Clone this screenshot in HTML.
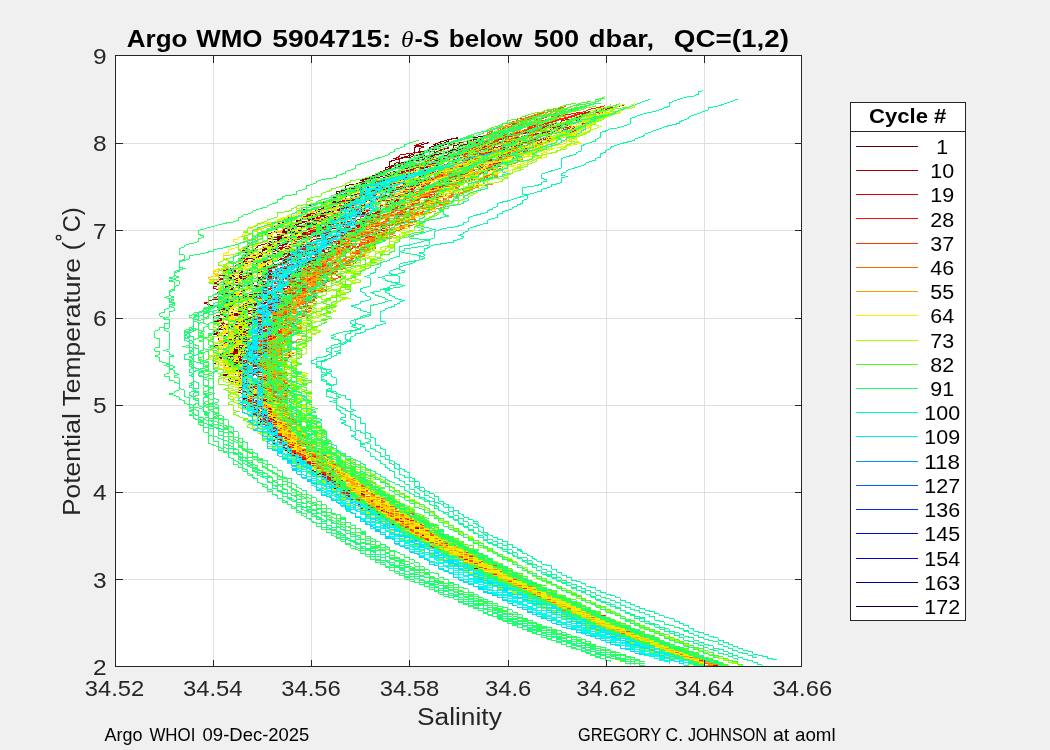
<!DOCTYPE html>
<html><head><meta charset="utf-8"><title>Argo WMO 5904715</title>
<style>html,body{margin:0;padding:0;background:#f0f0f0;overflow:hidden}svg{display:block;will-change:transform}text{font-family:"Liberation Sans",sans-serif}</style></head>
<body>
<svg width="1050" height="750" viewBox="0 0 1050 750">
<rect x="0" y="0" width="1050" height="750" fill="#f0f0f0"/>
<rect x="115.5" y="55.5" width="686.0" height="611.0" fill="#fff"/>
<path d="M213.5 55.5V666.5M311.5 55.5V666.5M409.5 55.5V666.5M508.5 55.5V666.5M606.5 55.5V666.5M704.5 55.5V666.5M115.5 579.5H801.5M115.5 492.5H801.5M115.5 405.5H801.5M115.5 318.5H801.5M115.5 230.5H801.5M115.5 143.5H801.5" stroke="#262626" stroke-opacity="0.15" stroke-width="1" fill="none" shape-rendering="crispEdges"/>
<clipPath id="axclip"><rect x="116.0" y="56.0" width="685.0" height="610.5"/></clipPath>
<g clip-path="url(#axclip)"><g transform="translate(115.5 0) scale(4.9 0.5)" fill="none" stroke-width="1" shape-rendering="crispEdges">
<path vector-effect="non-scaling-stroke" stroke="#600000" d="M68 285l-1 4l-1 3l-1 3v7l-2 3v6l-1 3v3l-1 4l-1 3v3l-2 3v3l-1 3l-1 3l-1 3l-1 3l1 3l-1 3v3l-1 3l-1 2v6l-2 3v6l-2 2l1 3l-2 3l1 3l-1 3l1 2l-1 3l-2 3l1 3l-1 3l1 2l-1 3v6l-2 3l-1 2v3l-1 3v3l-1 2l-1 3v3l1 3v3l-1 2v6l-1 3v8l-1 3l-1 2l-1 3l-1 3l-1 3v2l1 3l-1 3v14l-1 2l-1 3v3l-1 3l-1 2l1 3l-1 3l-2 3v5l-1 3v13l-1 3v8l-1 3l-1 3v13l1 3l-1 3l1 2l-1 3v19l-1 3l1 2v3l-1 3l1 3l1 2v16l-1 3l1 3v2l1 3v3l-1 2v14l1 2l-1 3l2 3v2l1 3v3l-1 2l-1 3l-1 3l-1 2l1 3v11l1 2l-1 3v8l-1 3v2l2 3v10l-1 3l1 3v10l1 3v2l1 3v5l-1 3v13l1 3v2l1 3l-1 2l1 3l1 3l-2 2l1 3l-1 2l1 3v5l1 3v3l-1 2l1 3v5l-1 2l1 3l1 2v3l2 2l-1 3v5l-1 2v3l1 2l1 2l-1 3l1 2v3l1 2v14l1 2v2l1 3v2l1 2v5l-1 2v2l1 2v3l-1 2l1 2l1 2l1 2v7l1 2v4l1 2v10l1 2v6l1 2v2l1 2v8l1 2v7l1 2v2l1 2v2l-1 2l1 2l1 1v8l1 1v6l1 2v3l1 2v5l1 2v5l1 1v5l1 2v2l1 1v3l1 2v5l1 1v2l1 1l-1 2l1 2l-1 1l1 2v3l1 1v2l1 1v6l1 1v3l1 2v3l1 1v6l1 1v1l1 2v3l1 1l-1 1v4l1 2l1 1v3l1 1v4l1 1v4l1 1v3l1 1v2l1 2v3l1 1v5l1 1l1 1v2l-1 1v2l1 1v2l1 2v2l1 1l-1 1l1 1v2l1 1v1l-1 2l1 1v2l1 1v7l1 1l1 1v4l1 1v7l1 1v1l1 1v4l1 1l-1 1l1 1v3l1 1v4l1 1v2l1 1v2l1 1l-1 1v2l1 1v2l1 1v2l1 1v1l1 1v2l-1 1l1 1v2l1 1v2l1 1l-1 1l1 1l-1 1l1 1v5l1 1v3l1 1v3l1 1v5l1 1v3l1 1v2l1 1v4l1 1v2l1 1v4l1 1v1l1 1v3l1 1v1l1 1v1l-1 1l1 1v3l1 1v3l1 1l1 1v1l-1 1l1 1v3l1 1v1l1 1v2l1 1v4l1 1v2l1 1v1l1 1v1l-1 1l1 1v2l1 1v3l1 1v3l1 1v1l1 1v1l-1 1l1 1v3l1 1l1 1v2"/>
<path vector-effect="non-scaling-stroke" stroke="#660000" d="M75 272l-2 4v3l-1 3l-2 4v3l-1 3v7l-1 3v3l-2 3l-2 4l1 3l-1 3v3l-1 3v9l-2 3l-1 3l-1 3v3l-1 3l-1 3l-1 3l-2 3l1 3l-1 3v3l-1 2v3l-1 3v8l-1 3l-1 3l1 3l-2 3l-1 2v3l-1 3l-2 3l-1 3v2l1 3l-1 3l-1 3v2l1 3l-2 3v3l-2 3l1 2l-1 3v3l-1 3l1 2l-1 3v3l-3 3v5l1 3l-1 3l1 3l-1 2l-1 3v11l-2 3v3l-1 2l-1 3l1 3v5l-1 3l1 3l1 2l-2 3v3l1 3l-2 2v6l-1 3v8l1 3l-1 2l-2 3v3l-2 2l1 3l-1 3l2 3v2l1 3l-1 3l1 2l-1 3v3l-1 3v18l2 3l-1 3l1 3l-1 2l-1 3l-1 3v8l1 2l-1 3l1 3v10l-1 3v5l-1 3l1 3v2l-1 3l2 3l-1 2l-1 3v8l-1 3l-1 2l1 3l-1 3l1 2v6l1 2l1 3l-2 3v2l-1 3l1 3l1 2l-1 3l1 3v2l1 3v10l-1 3l1 3v5l1 3v10l1 3v5l-1 3l1 2v8l1 3l1 2v3l1 2v3l-1 3l1 2v8l-2 3l1 2v3l1 2l1 3l1 3v7l-1 3v2l1 3v2l1 3v12l-1 2l1 3v7l1 2v7l1 2v18l1 2v3l1 2v4l1 2v5l1 2v8l1 2v6l1 2v4l1 2v8l1 2v4l1 2l-1 2l1 2v4l1 2v2l1 2v5l1 2v6l1 1v6l1 1l-1 2v2l1 2v2l1 1v4l1 1l1 2v5l1 2v2l1 1v7l1 1l-1 2l1 2l1 1l-1 2l2 1v2l1 2l-1 1l1 2v1l1 2v1l-1 2l1 1v5l1 1l1 2v6l1 1v3l1 1v5l1 1v7l1 1v3l1 1v3l1 2v5l1 1v1l1 2v5l1 1v4l1 1v6l1 1l1 1v4l-1 1l1 1l1 2v2l1 1v6l1 1v1l-1 1l1 1l1 1v6l1 1v1l1 1v4l1 1l-1 1l1 1v5l1 1l1 1v2l-1 1l1 1v5l1 1v3l1 1v2l1 1v2l1 1v1l-1 1l1 1v5l1 1v2l1 1l-1 1v1l1 1l1 1l-1 1l1 1v4l1 1v2l1 1v3l1 1v1l1 1v1l-1 1l1 1l1 1v8l1 1v5l1 1l1 1l-1 1l1 1v3l1 1v2l1 1v5l1 1l-1 1l1 1v1l1 1l-1 1l1 1v1l1 1v4l1 1v4l1 1l1 1l-1 1l1 1v1l1 1v4l1 1v3l1 1l-1 1l1 1v2l1 1v1l1 1v5l1 1l1 1l1 1l-1 1l1 1v1l1 1v4l1 1v3l1 1v3l1 1v3l1 1v2l1 1l-1 1l1 1v1l1 1v2l1 1v2l1 1v5l1 1"/>
<path vector-effect="non-scaling-stroke" stroke="#6c0000" d="M70 276l-2 3v3l-1 4l-1 3l-1 3l-1 3v4l-1 3l-1 3l1 3l-2 3l-1 4v6l-1 3l-1 3l-1 3l-1 3l-1 3v6l-1 3v3l-1 3v3l-2 3l-1 3l1 3l-1 2l-1 3l-2 3v9l-1 2v3l-1 3v6l-1 2v3l1 3l-1 3l-1 2l-1 3v3l-1 3v5l-1 3v6l-1 2v6l-2 3v3l1 2l-1 3l-1 3l-1 3v2l-1 3l1 3l-3 3v2l-1 3l1 3v8l-1 3v5l1 3l-2 3l1 3l-1 2v3l-1 3v5l-1 3l-1 3v3l-1 2l1 3l-1 3v3l-1 2v3l1 3l-1 2l-1 3l-1 3l1 3l-1 2v3l1 3l1 2v3l-1 3v3l1 2v3l-1 3l1 2l-1 3l1 3v13l-1 3v8l1 3l-1 2l-1 3v6l1 2l1 3v3l1 2v6l-1 2v6l1 2l-1 3v8l-1 3l1 2v6l1 2v3l-1 3v39l-1 3v5l-1 3l1 3l1 2v16l1 3v2l-1 3v5l1 3v21l1 2v6l-1 2l2 3v2l-1 3v8l1 2l1 3v5l-1 3v2l1 3l1 2l-1 3l1 2v7l-1 3l1 2v3l1 2v2l2 3l-1 2v7l1 2v3l-1 2l1 2v3l1 2v9l1 2v9l1 2v4l1 3v2l1 2v4l1 2v4l1 2v2l-1 2l1 2l1 2v8l1 2v2l1 2l-1 2l1 2v2l1 2v6l1 2v3l1 2l-1 2v2l1 2v5l1 2v2l1 2v5l1 2v3l1 2v3l1 2v3l1 2v5l1 2v3l1 2v8l1 1v2l1 1v7l1 1v5l1 1l1 2v9l1 1v4l1 2v5l1 2l1 1v3l1 1v7l1 1v3l1 1v3l1 1v5l1 2v1l1 1v3l1 1v4l1 1l-1 1l1 1v4l1 1v4l1 1v4l1 1v4l1 1v2l1 1v2l-1 1l1 2l1 1v5l1 1v5l1 1v1l1 1v3l1 1l-1 1l1 1v2l1 1v6l1 1v1l1 1l-1 1l1 1v3l1 1v2l-1 1l1 1v1l1 1v4l1 1v2l1 1v2l1 1v5l1 1l-1 1l1 1v1l1 1l-1 1l1 1v1l1 1l-1 1l1 1v2l1 1l-1 1l1 1v3l1 1v7l1 1v2l1 1v2l1 1v1l-1 1l1 1l1 1v3l1 1l-1 1l1 1l-1 1v1l1 1l1 1v3l1 1l-1 1l1 1v1l1 1v5l1 1v2l1 1v3l1 1v1l1 1v3l1 1v2l1 1v2l1 1l-1 1l1 1v3l1 1v1l1 1v5l1 1v1l1 1v1l-1 1v1l1 1v2l1 1l1 1v4l1 1v1l1 1v4l1 1l-1 1"/>
<path vector-effect="non-scaling-stroke" stroke="#720000" d="M76 273l-1 4l-1 3v3l-1 4v3l-1 3l-1 3l-2 4l-1 3v13l-1 3l-2 3v3l-1 3v3l-1 3l1 3l-1 3v3l-2 3v3l-1 3l-1 3v3l-1 3l-1 3v11l-2 3l-1 2v3l-1 3l-1 3v11l-1 3v5l-1 3l-1 3v5l-1 3l-2 3v3l1 3v2l-1 3v3l-1 3l-1 2l-1 3l1 3l-1 3l-1 2l-1 3l1 3v3l1 3l-2 2l-1 3v3l-1 3v5l-1 3v3l-1 2l1 3v3l-1 3v2l-1 3l-1 3l1 2v3l-1 3v3l1 2l-2 3v3l-1 3v5l-2 3l1 3l-1 2v3l1 3v2l-1 3v3l-1 3v2l1 3v3l-1 2l-1 3l1 3v11l-1 2l1 3l-1 3l-1 2v9l1 2v11l-1 3l-1 2l-2 3l1 3l1 2l1 3v5l-1 3l1 3l-1 2v3l-1 3v11l1 2l-1 3v8l-1 2v3l1 3v8l1 2l-1 3l1 3l-1 2l-1 3l1 3v5l1 3v2l-1 3l-1 3l1 2l1 3l-1 2l1 3l-1 3l1 2v8l-1 3l1 2v8l1 3v21l2 3v7l1 3v3l-1 2v11l2 2v3l1 2l-1 3v10l1 2v5l1 3v2l1 3l-1 2l1 2l-1 3v2l1 3v4l1 3l-1 2v2l1 3v2l-1 2l1 2v3l1 2v4l1 3v2l-1 2v2l1 2v5l2 2v4l1 2v2l1 2v3l-1 2l1 2v2l-1 2l1 2l1 2l-1 2v2l1 2v2l1 2l-1 2l1 2v2l1 2v2l1 2v6l1 1v4l1 2v13l1 2v3l1 2v4l1 1l1 2v5l1 2v7l2 2v1l1 2l-1 2v5l1 1v2l1 1v4l1 1v3l1 2v3l1 2v4l1 2v6l1 1l-1 2l1 1l1 2v3l2 1l-1 1v3l1 2v4l1 1v6l1 1v2l1 1v5l1 1v3l1 1v6l1 1v4l1 1v2l1 2v6l1 1l-1 1l1 1v1l1 2v4l1 1v1l1 2v6l1 1v3l-1 1l1 1v1l1 1l1 1v1l-1 1v1l1 1l1 1v4l1 1v5l1 1v5l1 1v2l1 1l-1 1v1l1 1l1 1v6l1 1v2l1 1v4l1 1v2l1 1v1l-1 1l1 1l1 1v1l-1 1l1 1l1 1v5l1 1v1l-1 1l1 1l-1 1l1 1l1 1v2l1 1v4l1 1v3l1 1v6l1 1v1l-1 1l1 1v2l1 1v2l1 1v4l1 1v1l1 1v2l1 1v8l1 1l1 1v1l1 1l-1 1l1 1v3l1 1v2l1 1v4l1 1l-1 1l1 1v1l1 1v4l1 1v2l1 1l1 1l-1 1v1l1 1l1 1v1l-1 1l1 1v2l1 1v2l1 1v3l1 1v1l1 1v2l-1 1l1 1v2l1 1v3l1 1v1l1 1"/>
<path vector-effect="non-scaling-stroke" stroke="#780000" d="M64 285l-1 3l-1 3l-1 4v13l-1 3l-1 3l-1 3l-1 3l-1 3v18l-1 3l-1 3l-1 3l-1 3l-1 3v6l-1 3l1 3l-1 2l-1 3l-1 3l-1 3v3l-2 2v9l1 3v2l-2 3l-1 3l-2 3l-1 3l-1 2v6l-1 3v5l-1 3v3l-2 3v8l-1 3l-1 2l1 3l-2 3v3l1 2v3l-1 3l-1 3l-1 3v13l-1 3l-1 3l-1 3l-1 2l1 3l-1 3v3l1 2v3l-1 3v2l1 3v3l-1 3v2l-1 3l1 3l-1 3v2l-1 3l-1 3v5l-1 3l1 3v5l1 3v5l-1 3v3l-1 2v3l1 3v2l-1 3v3l1 3v13l-1 3v2l1 3v3l-1 3l-1 2l1 3v5l-1 3v5l1 3l-2 3l1 2l1 3v5l1 3l-1 3l-2 2l1 3v3l-1 2l1 3v11l1 2l1 3l-1 3l-2 2l1 3v8l-1 3l2 2l-1 3v3l1 2l-1 3v5l-1 3l1 2l2 3v3l2 2l-1 3v8l-2 2l1 3l1 3l-1 2v3l1 3l1 2l1 3v5l1 3l-1 2v11l1 2l1 3v5l-1 3l1 2l-1 3l1 3v10l1 2l-1 3l1 2v13l1 2l-1 3l1 2v7l1 3l1 2v3l-1 2l1 2v3l1 2l-1 2v3l1 2v7l-1 2l1 2v2l1 3v4l1 2v7l1 2v2l1 2v6l1 3l-1 2l1 2v4l1 2v4l1 2v4l1 2v6l1 2v2l1 2v7l1 2v10l1 1v2l1 2v5l1 2v4l1 2l1 1l-1 2l1 2v3l1 2v3l1 2v7l1 1l1 2v3l-1 2l1 2v1l1 2v1l1 2l-1 2v1l1 2v1l1 2v4l1 2l1 1v6l1 2l-1 1v3l1 2v1l1 2l-1 1l1 1v8l1 1v1l1 2v1l1 1v2l1 1v7l1 1v5l1 2v5l1 1l1 1l-1 1l1 2v3l1 2l1 1v6l1 1v8l1 1v1l1 1l-1 2l1 1v2l1 1v4l1 1v1l1 1v3l1 1l-1 1l1 1v6l1 1v5l1 1v1l1 1v2l1 1l-1 1l1 1v2l1 1v3l1 1v4l1 1l-1 1l1 1l-1 1l1 1l1 1v6l2 1l-1 1v2l1 1v1l1 1v4l1 1v3l1 1l1 1v7l1 1v2l1 1v4l1 1l-1 1l1 1v3l1 1v2l1 1v3l1 1l-1 1l1 1v6l1 1v2l1 1v2l1 1l-1 1l1 1l1 1v2l1 1v2l1 1l-1 1l1 1v2l1 1v6l1 1l1 1l-1 1l1 1v2l1 1l1 1v4l1 1v2l1 1v3l1 1v6l1 1l1 1v2l1 1v1l-1 1l1 1l1 1v3"/>
<path vector-effect="non-scaling-stroke" stroke="#7e0000" d="M71 277l-1 3l-1 3l-1 4l-1 3l-1 3v3l-1 4v12l-2 4v3l-3 3l-1 3v3l-1 3v12l-1 3v3l-1 3l-1 3v3l-1 3l-1 2v3l-1 3l-1 3v3l-1 3l1 2v3l-1 3l-1 3l-1 3v5l-1 3v6l-2 2l1 3l-1 3l-2 3v2l-1 3v3l-1 3l-1 3l-1 2l-1 3l2 3l1 3v2l-2 3l3 3l-2 3l-1 2l-2 3l-1 3l-1 3l-1 2v6l-1 3l1 3l-2 2v9l-1 2l-1 3l1 3l-1 2v11l-1 3l-1 3v3l1 2l-2 3l-1 3v8l1 3l-1 2v3l-1 3l1 3l-1 2v6l-1 3l-1 2v3l-1 3v5l1 3v2l2 3v6l-1 2l-1 3l2 3l-1 2v14l-1 3l1 2v19l2 3l-1 2l1 3l1 3l-1 2v8l-1 3l-1 3v2l1 3l-1 3v2l1 3l-1 3l2 2v3l1 3l-1 2v6l-1 2v6l-1 2v3l-1 3l1 2l1 3v3l1 2v3l-1 2v8l-1 3l1 3l1 2l1 3v5l-1 3l-1 2l1 3l1 3l-1 2l1 3l1 3v2l-1 3l1 2v3l-1 3l1 2v3l1 2l-1 3l-1 3v2l1 3v10l1 3v10l2 3v2l-1 3l1 2l-1 3l1 2l-1 3l1 2l-1 3l1 2v5l1 2v5l1 2l-1 3v2l1 3v2l-1 2l1 2v3l1 2v2l1 3v13l1 2v5l-1 2l2 2v2l1 2v2l1 2v7l1 2v2l1 2v2l-1 2v4l1 2l1 2l-1 2l1 2v4l1 2v2l1 2v4l1 2l-1 1l1 2v4l1 2v4l1 1l-1 2l1 2v6l1 1v6l1 1v2l1 2v3l1 2v7l1 2l1 1v5l1 2v6l1 2l1 2l-1 1v3l1 2v6l1 2v1l1 2v1l1 2l-1 1v2l1 1v2l1 1v2l1 1v6l1 1v3l1 1l-1 2l1 1v4l1 2v1l1 1l-1 2l1 1v3l1 1v4l1 1v2l1 1v6l1 2v5l1 1v1l1 1v4l1 1v5l1 1v1l1 1v5l1 1l-1 1v2l1 1v3l1 1v5l1 1v1l1 1v5l1 1v1l1 1v3l1 1v4l1 1v1l-1 1l1 1v1l1 1v1l-1 1l1 1l1 1l-1 1l1 1v3l1 1v5l1 1v2l1 1v4l1 1v1l1 1v1l1 1l-1 1v2l1 1v3l1 1v7l1 1v2l1 1v2l1 1v3l1 1v7l1 1v3l1 1v2l1 1v4l1 1v3l1 1v3l1 1v4l1 1l1 1v4l1 1v6l1 1v3l1 1v1l1 1l-1 1l1 1v1l1 1v3l1 1v2l1 1v2l1 1v4l1 1v4l1 1v3l1 1v1l1 1v3l1 1v3l1 1v3l1 1v2l1 1"/>
<path vector-effect="non-scaling-stroke" stroke="#840000" d="M76 281l-2 3l-1 4l-1 3v3l-1 3l-1 4l1 3v3l-2 3l-1 3v4l-2 3v9l-1 3v3l-1 3v3l-2 3v3l-2 3v3l-1 3l1 3v11l-2 3l-2 3v3l-1 2v9l1 3l-1 2l-2 3v6l-1 2l-1 3l-1 3v6l1 2l-1 3l1 3l-1 3l-2 2v3l-2 3v3l-2 3l2 2v9l-2 2v3l-1 3v5l-1 3v3l1 3l-1 2v3l-1 3v3l-2 2v3l-1 3v3l1 2l1 3l-1 3v5l-1 3l-2 3l-1 3l-1 2v14l1 3l-1 2l-1 3v3l-2 3v2l1 3v16l-1 3l-1 3v2l1 3l-1 3v21l-1 3v8l-1 3v5l1 3l1 3l-2 2v6l-1 2v14l-1 2l1 3l-1 3l2 2l-1 3l-1 3v2l1 3v3l-1 2l1 3v3l-1 2v24l1 3l-1 2v6l-1 2l1 3v3l1 2v8l2 3l-2 2v6l1 2l-1 3v8l1 2v3l1 3v5l1 3l1 2l-1 3v8l1 2v5l1 3v16l-1 2l1 3v5l2 2v3l1 2l-1 3v2l-1 2l1 3l1 2v10l1 2v5l-1 2l1 3v2l1 2l-1 3l1 2v4l-1 3l1 2l1 2l-1 2l1 3v4l1 2v2l-1 2l1 3v4l1 2l1 2v4l1 2l1 2v15l1 2v2l-1 2l1 2l1 2v2l1 1v6l1 2v10l1 1v4l1 2v4l1 1l1 2l-1 2l1 2v3l1 2l-1 2l1 2l1 1v5l1 2l1 2v3l1 2v5l1 1v2l1 2v8l1 1v3l1 2v2l1 1v3l1 2l1 1l-1 2v1l1 2v3l1 1v6l1 1v3l1 2v3l1 1v7l1 1v3l1 1v3l1 1v4l1 2v1l1 1v7l1 1l-1 1l1 1v2l1 1v6l1 1v5l1 1v1l1 1v6l1 1v1l1 1v1l-1 2v1l1 1l-1 1l1 1v2l1 1v6l1 1v2l1 1l1 1l-1 1l1 1v5l1 1v1l-1 1l1 1v1l-1 1l1 1v1l1 1v4l1 1v1l1 1v3l1 1l-1 1l1 1v1l1 1v4l1 1l-1 1v1l1 1v3l1 1v6l1 1v4l1 1v1l1 1v2l1 1v1l1 1l-1 1l1 1v4l1 1l-1 1v1l1 1l-1 1l1 1l1 1v3l1 1v4l1 1v2l-1 1l1 1l1 1v2l1 1l-1 1l1 1v4l1 1v1l1 1v4l1 1v2l1 1v2l1 1v3l1 1v3l1 1v3l1 1v4l1 1l-1 1l1 1v2l1 1v1l1 1v1l1 1v5l1 1v2l1 1l-1 1l1 1v2l1 1v4l1 1v3l1 1v1l1 1v3l1 1l-1 1l1 1l1 1v1"/>
<path vector-effect="non-scaling-stroke" stroke="#8a0000" d="M74 279v3l-2 3l1 4l-1 3l-1 3l-1 4v3l-1 3v6l-1 4l-1 3l-1 3l-1 3v3l-1 3l-1 3l-1 3l1 3l-2 3v3l-1 3l-1 3l-1 3v3l-1 3v5l-1 3l-1 3v3l-2 3v2l-2 3l-1 3v3l-1 3v8l-1 3l1 3v5l-1 3l-1 3l-1 3l-1 2v3l-1 3l-1 3l-1 2l1 3l-1 3v6l-1 2v6l-2 3l-1 2l-2 3l1 3l-1 3l1 2v9l-1 2v3l-1 3l-1 3v2l-1 3l1 3v8l1 3l-2 3v8l-1 3l-1 2l-1 3v3l1 2v11l-1 3l1 3l-1 3v2l-1 3l1 3v8l-1 3l1 2v8l-1 3v3l-1 2l-1 3l1 3l1 3l-1 2v8l1 3v8l-1 3l-1 2v3l1 3v3l1 2v3l-1 3l1 2l-1 3l-1 3l-1 2l-1 3l1 3v10l1 3v5l-1 3l1 3l-1 2v3l-1 3v5l1 3v15l-1 3v3l1 2l-1 3v5l2 3l-1 3v26l1 2v6l1 2v11l2 2v3l-1 3v7l1 3l-1 3v2l1 3v5l1 3l-1 2v5l2 3v5l-1 2l1 3v15l1 2v3l1 2v2l1 3l-1 2l1 2l-1 3v4l1 3v2l-1 2l1 3v2l1 2v5l1 2v2l-1 2v2l1 3v6l1 2l1 2v7l1 2v2l1 2l-1 2l1 2v4l1 2v4l1 2v6l1 2v4l1 2v4l1 2v9l1 2v4l1 2v3l1 2v6l1 1v2l1 2v5l1 2l-1 2l1 1v2l1 2v5l1 1v2l1 2v3l1 2v3l1 1v5l1 2v5l1 1v3l1 2v4l1 2l-1 1l1 2l1 1v6l1 1v2l1 1v9l1 1l1 2v1l-1 1l1 2v4l1 1l1 1v4l1 2v2l1 2v6l1 1l1 1v4l-1 1l1 2v2l1 1v1l1 2v8l1 1v1l1 1v5l1 1v1l1 1l-1 1v5l1 1v1l1 1v1l1 1v5l1 1v1l1 1v6l1 1v3l1 1l-1 1l1 1v6l1 1v3l1 1v2l1 1v3l1 1v2l1 1v2l1 1l-1 1v1l1 1v3l1 1v2l1 1l-1 1v1l1 1v4l1 1v2l1 1v2l1 1v5l-1 1l2 1v4l1 1v1l1 1v6l1 1v2l1 1v5l1 1v4l1 1l1 1v4l1 1v2l1 1v6l1 1v3l1 1v2l1 1v3l1 1v2l1 1v2l1 1v4l1 1v2l1 1l-1 1l1 1v1l1 1v4l1 1v1l1 1v3l1 1v2l1 1v3"/>
<path vector-effect="non-scaling-stroke" stroke="#900000" d="M70 275l-2 4l-1 3l-1 3l-1 4l1 3l-1 3v3l-2 4l-2 3l-1 3v6l-2 3v7l-1 3v9l-2 3l1 3l-1 3l1 3l-1 3l-1 3l-2 3v5l-1 3v3l-1 3v5l-2 3l-1 3v6l-1 2v12l-1 2v3l-1 3v3l-2 3v2l-1 3v6l-1 2l-1 3l-1 3v3l2 3l-1 2l-1 3l-1 3l1 3l-1 2l-1 3l-1 3l1 3v2l-2 3v3l1 3l-2 2v6l-1 3l-1 2l1 3l-1 3v11l-1 3l-1 2l-1 3l-1 3v11l-1 3v2l-1 3v5l-1 3l2 3l-2 3v13l-2 3l1 3l1 2l-1 3l1 3v2l-1 3v3l-1 3l1 2l-1 3v3l-1 2l1 3l1 3v8l-1 3l1 2l-1 3l1 3l-1 2l1 3v5l-1 3v5l-1 3v3l1 2l1 3v3l-1 2l1 3l-1 3l1 2l-1 3l2 3l-1 2l1 3v3l1 2l-1 3l1 3l-1 2l-1 3v11l1 2v11l-1 3l-1 2l1 3l1 2l1 3l-1 3l-1 2l2 3l-1 3l1 2l1 3l-1 3v2l1 3l-1 2v21l1 3v5l1 3v10l1 3l-1 2l-1 3v3l1 2l1 3l1 2l-1 3v10l1 3l1 2v10l1 3v9l1 3l1 2l-1 3l1 2l-1 2l1 3v9l1 2l1 2l-1 3v4l1 2v9l1 3v6l1 2v4l1 3v4l1 2v4l1 2v8l1 2v10l1 2l1 2v6l1 2l-1 2l1 2v1l1 2v6l1 2v3l1 2l-1 2l1 2v3l1 2v2l1 2v5l1 2v3l1 2v8l1 2l1 2l-1 1v2l1 2l1 1v5l1 2v4l1 2l-1 1l1 2v3l1 2v3l-1 1l2 2v3l1 1v4l1 2v9l1 1l1 1v3l1 1v5l1 1v1l1 2v4l1 1v1l1 2v3l1 2v7l1 2v3l1 2v3l1 1l-1 2l1 1v3l1 1v2l1 1v2l1 1l-1 1v4l1 1l1 1v5l1 1v4l1 1v4l1 1v6l1 1v3l1 1v3l1 1v2l1 1v2l1 1v3l1 1v3l1 1v6l1 1v3l1 1v2l1 1v1l1 1v1l-1 1v3l1 1v2l1 1l-1 1l1 1v2l1 1v3l1 1v2l1 1v4l1 1v6l1 1v2l1 1v1l-1 1l1 1l-1 1l1 1v2l1 1v4l1 1v1l1 1v5l1 1l1 1v3l1 1v1l1 1v5l1 1v3l1 1v1l1 1v1l-1 1v1l1 1v3l1 1v2l1 1v2l1 1v3l1 1l1 1v5l1 1v3l1 1v3l1 1v3l1 1v1l1 1v4l1 1v1l1 1v3l1 1v2"/>
<path vector-effect="non-scaling-stroke" stroke="#960000" d="M74 284v3l-1 3v4l-1 3l-1 3l-1 3l-2 3l1 4l1 3l-1 3l-1 3l-1 3l-1 3l-1 3l-1 3v3l1 3l-2 3l-1 3l1 3l-1 3v3l-2 3v9l-1 3l1 3v2l-1 3l-1 3l-1 3l-2 3l-1 2l1 3v3l-1 3l1 3l-2 2v6l-1 3l-1 2v6l-1 3v3l-1 2l-1 3v8l-1 3v6l-1 3l-1 2v6l-2 3v2l1 3v3l-1 3l-2 2v6l-1 3v8l-1 3v8l-1 3v2l-1 3v3l-1 3l-1 2v6l-1 3v2l-1 3v3l-1 2l-2 3v6l1 2l1 3l-1 3l1 2l-2 3l-1 3v5l1 3l-1 3v2l1 3l-1 3l1 3v2l-1 3v3l-1 2l-2 3v3l1 2v3l1 3l-1 3l-1 2l2 3l-2 3l-1 2v8l2 3v3l1 2l-1 3v3l-1 2v6l1 2l-2 3l1 3v13l1 3l-2 3l1 2v8l-1 3l1 2v6l-1 2l1 3l-1 3l1 2v3l-1 3l1 2l1 3v3l-1 2v5l-1 3l1 3l2 2l-1 3v11l1 2v13l1 3l-1 3v5l1 2v8l1 3l1 2l-1 3l1 3l1 2l-2 3l1 2l-1 3v5l1 3v2l1 3v3l1 2l1 3l-1 2v5l1 3v9l1 3v2l-1 3l1 2l1 2l-1 3l1 2l-1 3l1 2l1 2v7l1 2l-1 3l1 2l-1 2v5l1 2l-1 2l1 2v2l1 3v6l1 2v2l-1 3l1 2v2l1 2v4l1 2l1 2v10l1 2v4l1 2v6l1 2v2l1 2v2l-1 2v3l1 2v4l1 2v2l1 2v3l1 2v5l1 2v4l1 1v6l1 1v4l1 1v4l1 2v1l1 2l-1 1l1 2v3l1 2v3l1 2v1l1 2v5l1 1v5l1 1l1 2v7l1 2v6l1 1v2l1 1l-1 1l1 2v3l1 1v3l1 1l-1 2l1 1v1l1 2v1l1 1v4l1 2v1l-1 1v2l1 1v1l1 1v4l1 2v6l1 1v2l1 2v2l1 1v8l1 1v2l1 1v5l1 1v5l1 1v3l1 1v7l1 2v2l1 1v2l1 1v2l1 1v2l-1 1v1l1 1v1l1 1v2l1 1l-1 1v1l1 1v1l1 1l-1 1v2l1 1l1 1l-1 1l1 1v3l1 1v2l1 1l-1 1l1 1v2l1 1l-1 1l1 1l-1 1l1 1v1l1 1v4l1 1v4l1 1v1l1 1l-1 1v1l2 1l-1 1v1l1 1v1l1 1v1l-1 1l1 1v4l1 1v7l1 1v1l1 1v2l1 1v3l1 1v2l1 1l-1 1l1 1l1 1v1l-1 1l1 1v3l1 1v1l1 1v3l1 1l-1 1l1 1l1 1v4l1 1v2l1 1v5l1 1v6l1 1v1l1 1v2l1 1v3l1 1v1l1 1v2l1 1v1l1 1v4l1 1v5l1 1l1 1v4l1 1v1l1 1v2"/>
<path vector-effect="non-scaling-stroke" stroke="#9e0000" d="M74 277l-1 3v3l-1 4l-1 3l-1 3v4l-1 3v3l-1 3v3l-1 4l-1 3l-1 3l-1 3l-1 3l1 3v3l-1 3l-1 3v3l-1 3l-1 3l-2 3l-1 3v3l-1 3l1 3l-1 3v2l-2 3l-1 3v6l-1 3l-1 2v9l-1 2l-1 3l-1 3v3l-1 3v8l-1 3v3l-2 2l1 3v6l-1 2l1 3l-2 3l-2 3v3l-1 2v6l1 3v2l-1 3l1 3l-1 3l-2 2v3l-1 3v3l-1 2v3l1 3l-1 3v5l-1 3l-1 3v11l1 2v3l-1 3l-2 3v5l1 3l-1 2l1 3l-2 3v3l-1 2v3l1 3l-1 2v3l1 3l-1 3v8l-1 2l-1 3v14l1 2l-1 3l1 3l-2 3l-1 2l1 3v3l-1 2l1 3l1 3l-1 2v3l-1 3l-1 2v3l-1 3l1 2v6l1 3l-1 2l1 3l-1 3l-1 2l1 3v3l1 2v6l-1 2v6l-1 2v8l2 3v11l-1 2v3l-1 2v8l1 3v5l-1 3l1 3l-1 2v8l1 3v2l1 3l-1 3v5l2 3v5l-1 2v8l1 3l1 3v13l1 2v16l1 2l-1 3l1 3v5l1 2l1 3l-1 2v3l1 2v5l1 3l-1 2l1 3v2l1 3l-1 2l1 2v10l1 2v3l-1 2v2l1 3v6l1 3v4l-1 2l1 3v2l1 2l1 2v7l1 2l-1 2l1 2l1 2v9l1 2v4l-1 2l1 2l1 2v2l1 2v2l1 2v8l1 2v6l1 2v1l-1 2l1 2v4l1 2v5l1 2v4l1 2v3l1 2v2l1 2l-1 1l1 2v3l1 2v2l1 2v5l1 1v7l1 2l1 1v3l1 2v8l1 2l1 1l-1 2l1 1v3l1 2v4l1 2v6l1 1v3l1 1v3l1 2v1l1 2v6l1 2l-1 1l1 2v1l1 1l-1 2l1 1v1l1 2v2l1 1l-1 2l1 1v3l1 1v1l1 1v5l1 2v6l1 1v2l1 1l-1 2l1 1v1l1 1v5l1 1v3l1 1v7l1 1v1l1 1v3l1 1v6l1 1v5l1 1v2l1 1l-1 1l1 1v2l1 1v3l1 1v1l1 1l-1 1l1 1v4l1 1v4l1 1v2l1 1v3l1 1v6l1 1v5l1 1v4l1 1v2l1 1v6l1 1v1l1 1v3l1 1l-1 1v1l1 1v1l1 1l-1 1l1 1v1l-1 1l1 1v1l1 1v2l1 1v1l1 1l-1 1v2l1 1v1l1 1v3l1 1v4l1 1v5l1 1l1 1v2l1 1v6l1 1v1l1 1l1 1l-1 1l1 1v1l-1 1l1 1v3l1 1v2l1 1v1l1 1v1l-1 1l2 1v1l1 1v6l1 1v2l1 1v3l1 1v1l1 1v3l-1 1l1 1l1 1v2l1 1v3"/>
<path vector-effect="non-scaling-stroke" stroke="#a70000" d="M71 276l-1 3l-1 4l-1 3v10l-1 3l-1 3l-1 4v3l-1 3l-2 3v3l-1 3l-1 3v7l1 3v3l-1 3l-3 3l-1 3v3l-1 2l1 3l-1 3v6l-1 3l-1 3v3l-1 2l-1 3v6l-1 3v2l-1 3v3l-1 3v3l-1 2v3l-1 3v5l-1 3l-1 3v8l-1 3l-1 3l-1 3v2l-1 3l-2 3l1 3v3l1 2v6l-1 3v2l-1 3l-1 3l-1 3l-1 2v3l-1 3v5l1 3l-1 3v5l-2 3v6l-1 2v11l1 3v3l-2 2l-2 3v8l-1 3l1 3v5l-1 3l-1 3l-1 2v3l-1 3l1 3v5l1 3l-1 2v6l1 3v2l-1 3l-1 3l-1 2v3l1 3v2l-1 3l1 3v13l1 3v3l-1 2l-1 3l1 3v5l1 3v10l-1 3v11l1 2l-1 3l1 3v5l-1 3l1 2l-1 3v3l1 2l-1 3l1 3l1 2v3l-1 3v2l-2 3l1 3l-1 2v3l1 2v3l2 3l-1 2l1 3v3l1 2v11l1 2l-2 3v5l1 3v3l-1 2l1 3l-1 2l1 3l1 3v7l-1 3l1 3v2l1 3l-1 3v2l1 3l1 2l-1 3l1 3l-1 2v3l1 2v8l1 2l-1 3v10l1 2l1 3v2l-1 3l1 2v2l1 3v18l1 3v9l1 2v4l1 3v4l1 2v2l1 3l-1 2l1 2v4l1 2v6l1 3v2l1 2v6l1 2v2l1 2v8l1 2v3l1 2v10l1 2v2l1 1v4l1 2l-1 2l1 2v3l1 2v5l1 2v5l1 2l1 2l-1 1l1 2l1 2v3l1 2v5l1 1v10l1 2v1l1 2v6l1 1v2l1 1l-1 2v2l1 1l1 1v3l1 2v3l1 1v7l1 2v5l1 2v4l1 1l1 2v4l1 1v4l1 1v4l1 1v5l1 2v2l1 1v6l1 2v4l1 2v2l1 1v6l1 1v1l1 1v1l1 1v11l1 1v1l1 1v4l1 1v6l1 1v2l1 1v5l1 1v3l1 1v3l1 1v2l1 1v4l1 1l-1 1l1 1v3l1 1v3l1 1v3l1 1v3l1 1v4l1 1v6l1 1v3l1 1v4l1 1v4l1 1l1 1v7l1 1v2l1 1v3l1 1v4l1 1v1l1 1v1l1 1v3l1 1v1l-1 1l1 1l-1 1v1l1 1v1l1 1l1 1v6l1 1v2l1 1v3l1 1v2l1 1v3l1 1v2l1 1v2l1 1v1l-1 1l1 1v1l1 1v1l1 1v3l1 1v3"/>
<path vector-effect="non-scaling-stroke" stroke="#af0000" d="M76 273l-1 3v10l-2 3l-1 3v4l-2 3l-1 3l-1 3v4l-1 3v9l-2 3l-1 3l-1 3v6l-2 3l-1 3v6l-1 3l-1 3l-1 3l-1 3l-1 3l-1 3v3l-1 2v9l-1 3l1 2l-3 3v3l-1 3v5l-1 3v3l-1 3v8l-2 3v8l-1 3v3l-1 3v11l-2 2l-1 3l1 3l-2 3v2l-1 3l1 3l-1 3l1 2v3l-1 3l-1 3v2l-1 3v3l-1 3v2l-1 3v3l-1 3l1 2l1 3l-1 3l-1 3v2l-1 3l-1 3l-1 3l1 2v3l1 3l-1 3v5l1 3l-1 2l-1 3l1 3v5l-1 3l-1 3v11l1 2v3l-1 3v2l1 3l-1 3l-1 2l1 3v3l1 3l-1 2l2 3l-1 3l-1 2l-1 3v3l1 2v6l-2 2l1 3v3l2 3l-1 2l-1 3v5l-1 3v3l1 2v3l-1 3v8l-1 2v3l1 3l-1 2v3l1 3l-1 2l-1 3l1 3l1 2v3l-1 3v2l-1 3l-1 2v16l1 3l1 3v2l1 3l-1 3l-1 2v5l1 3l-1 3l1 2v8l1 3v10l1 3l-2 3l1 2v3l1 2v6l1 2v5l1 3l-1 3v5l1 2v6l1 2l-1 3l1 2v3l-1 2l1 3l1 2l-1 3l1 2v10l1 2l1 3v5l1 2v5l-1 2v2l1 3v4l1 3v4l1 2v9l1 3v8l1 2v5l1 2v6l1 2v4l1 2v3l1 2v2l-1 2v2l1 2v4l1 2l1 2v5l1 2l-1 2l1 2v8l1 2v3l1 2v2l1 2l-1 2l1 1v8l1 1l1 2l1 2v3l1 2l-1 2l1 2l-1 1l1 2v2l1 1v4l1 1v2l1 2v1l-1 2l1 1v2l1 2v3l1 1v5l1 2v1l1 2v1l-1 2l1 1v3l1 2v3l1 1v3l1 2v6l1 1v1l1 2v3l1 1v3l1 1l-1 2v2l1 2v1l1 1l-1 2l1 1v1l1 2v3l1 2v2l1 2v5l1 1v2l1 2v6l1 1v3l1 1v6l1 1v5l1 1v1l1 1v6l1 1v2l1 1l-1 1l1 1v1l-1 1l1 1v3l1 1v1l1 1l-1 1v1l1 1v3l1 1v2l1 1v3l1 1v3l1 1v7l1 1v4l1 1v2l1 1l1 1l-1 1v1l1 1v8l1 1v1l1 1v2l1 1l-1 1l1 1v2l1 1v4l1 1v6l1 1v1l1 1v6l1 1v1l1 1v6l1 1v1l1 1v4l1 1v3l1 1v2l1 1v3l1 1v4l1 1v2l1 1v2l1 1v2l1 1v2l1 1v5l1 1v2l1 1v2l1 1l-1 1l1 1v1l1 1v3l1 1v2l1 1v2l1 1l-1 1l1 1v4l1 1v3l1 1v1"/>
<path vector-effect="non-scaling-stroke" stroke="#b70000" d="M71 281v4l-2 3l-1 3v4l-1 3l-1 3v3l-1 3v4l-1 3v3l-1 3v6l-1 3l-1 3l-1 3l-1 3l-1 3l1 3l-1 3l-1 3l-1 3l-1 3v6l-1 3v11l-2 3l-2 3l1 2v3l-1 3v6l-1 2v6l-1 3l-1 3l-1 2v3l1 3v3l-1 2l-1 3l-2 3v8l-1 3l-1 3l-1 3l-1 2l1 3l-2 3v8l1 3l-2 3v2l1 3l-1 3l-2 3l2 2l-2 3v3l-1 3v5l-1 3v3l-1 2v3l1 3v3l-2 2v6l1 3l-1 2v6l-1 3v2l-2 3v5l-1 3l1 3l-1 3v2l-1 3l1 3v16l-1 3v11l1 2v3l-2 3l-1 2l1 3l-1 3l1 2v6l1 2l1 3l-1 3v3l-1 2v3l1 3l2 2l-1 3l-2 3v2l2 3l-2 3v8l1 2v3l1 3l-1 2v3l-1 3l1 2l-1 3v3l1 2l-1 3l1 3l-1 2v3l-1 3v5l1 3l-1 2l1 3v8l1 2l-1 3v5l-1 3l1 3v2l1 3l1 2l-1 3v5l1 3v5l-1 3v5l1 3v8l1 2v3l1 2l-1 3l-1 3v2l1 3v13l2 2v3l1 3v2l-1 3l1 2v10l1 3l-1 2v3l1 2l1 3l-1 2l1 3v2l-1 2l1 3l1 2l-1 3l1 2v2l-1 3l1 2v7l1 2l1 2v14l1 2v6l1 3v6l1 2v2l1 2v5l1 2v6l1 2v8l1 2v2l1 2v11l1 2v2l1 2v8l1 1v2l1 2v7l1 2v4l1 1v2l1 2v3l1 2v7l1 2v1l1 2v2l-1 1l1 2v3l1 2v3l1 2v1l1 2v3l1 2v3l1 1v5l1 1v3l1 2v4l-1 2l1 1l1 2v5l1 2v4l1 1v3l1 2v1l1 1v4l1 2v4l1 1v8l1 1v1l1 2v5l1 1v2l1 2l-1 1l1 1v1l1 1v5l1 1l-1 1l1 2l1 1v5l1 1v3l1 1v2l1 1v2l1 1l-1 1v3l-1 1l1 1l1 1v4l1 1v4l1 1v3l1 1v3l1 1v3l1 1v6l1 1v3l1 1v1l1 1v5l1 1v2l1 1v3l1 1v1l-1 1v2l1 1v3l1 1v2l1 1v3l1 1v2l1 1v2l1 1l-1 1l1 1l-1 1v1l1 1v4l1 1v2l1 1v5l1 1v1l1 1v4l1 1v5l1 1v3l1 1v2l1 1v1l1 1l-1 1l1 1v3l1 1v1l1 1l-1 1l1 1v1l1 1v3l1 1v1l-1 1l1 1v1l1 1v2l1 1v2l1 1l-1 1l1 1l1 1v3l1 1v4l1 1l-1 1v1l1 1v1l1 1v3l1 1l1 1v4"/>
<path vector-effect="non-scaling-stroke" stroke="#c00000" d="M63 284l-1 4l-1 3l2 3l-1 3v7l-2 3l-2 3v3l-1 4l1 3v6l1 3l-2 3l-1 3v3l-1 3l-1 3v3l-1 3v3l-1 3l-1 3l1 3v2l-2 3l1 3v3l-2 3l-1 3v2l-2 3l1 3v14l-2 3l-1 2v6l-1 3l-1 3v2l-1 3v3l-2 3v5l-1 3v3l-1 3l1 2l-1 3v11l-1 3l-1 3v2l-2 3v3l-1 3l-1 2v9l-1 2l-1 3v3l-1 3l1 2l-2 3l1 3v3l-1 2v3l-1 3l1 3v2l-1 3l-1 3v3l-1 2v3l-1 3l-1 2l1 3v3l-1 3l-1 2v3l1 3l-1 2v3l-1 3l1 3v2l-1 3v3l1 2l1 3l-1 3l1 3l-1 2v3l-1 3l1 2l-2 3v3l-1 2l1 3l1 3l1 3v2l1 3v3l-1 2l1 3l-1 3l-1 2v3l1 3v2l1 3v5l-1 3l1 3l-1 2l-1 3v3l1 2l1 3v3l1 2v6l1 2l-1 3l-1 3l1 2v14l1 2l-1 3l-1 3l1 2l2 3l-1 2v6l-1 2v6l1 2v3l1 3v5l-1 2l1 3v3l-1 2v3l1 3l-1 2l1 3v8l1 2v3l-1 3v2l1 3v5l1 3v5l1 2v6l1 2l-1 3l-1 2l1 3l1 3v2l-1 3v2l1 3v2l1 3v5l1 2v5l1 2v3l-1 2l1 3v9l1 2v10l-1 2v2l1 2v3l1 2v4l1 3v4l1 2v2l-1 2v3l1 2l1 2l1 2v6l1 2v13l1 2v2l1 2l1 2v9l1 2l-1 2l1 2l1 2l-1 2v2l1 2v2l1 2v3l1 2v9l1 2v2l1 2l-1 1l1 2v4l1 1v2l1 2v1l-1 2l1 2v2l1 1v4l-1 1l1 2l1 1v4l1 1v2l1 2v6l1 1v2l1 2v4l1 2v4l1 2v6l1 1v7l1 2v3l1 1v4l1 2v1l1 1v7l1 1v3l1 1v3l1 1v3l1 1v8l1 1v1l1 1v1l1 2l-1 1v1l1 1v4l1 1v1l1 1v6l1 1v1l1 1l-1 1v3l1 1v1l1 1v4l1 1v4l1 1v6l1 1v2l1 1v1l1 1v1l1 1l-1 1v3l1 1v5l1 1v3l1 1v4l1 1v1l1 1v1l1 1v1l-1 1v1l1 1v1l1 1v2l-1 1l2 1v2l-1 1l1 1v1l1 1v5l1 1v2l1 1v3l1 1v4l1 1l-1 1l1 1l1 1v2l-1 1l1 1v4l1 1v3l1 1l-1 1l1 1l1 1v4l1 1l-1 1l1 1l1 1v3l1 1l1 1v4l1 1v5l1 1v2l1 1l-1 1l1 1v1l1 1v3l1 1v2l1 1v4l1 1v2l1 1v4l1 1l1 1v1l-1 1v1l1 1v1l1 1v2l1 1v4l1 1v2l1 1v3l1 1v2l1 1"/>
<path vector-effect="non-scaling-stroke" stroke="#c80000" d="M89 259v4l-2 3l-2 4l-1 3l-1 3l-1 4l-1 3l1 3l-1 4l-1 3v3l-1 4l-1 3l-1 3l-1 3l-1 3l-1 3l-1 4v3l-2 3v3l-1 3l1 3l-1 3v3l-1 3l-2 3l-1 3l1 3l-1 3l-2 3l-1 3v2l-1 3v3l-2 3l1 3l-1 3l-1 2l1 3l1 3l-1 3l-1 2v6l-1 3l-1 3v2l-1 3v9l-2 2v6l-2 3v2l1 3l-1 3l1 3l-2 3l-1 2v6l-1 3v2l-1 3l-1 3l1 3l1 2l-2 3l-1 3l-1 3l-1 2l2 3l-1 3v3l1 2l-1 3v3l-1 3l-1 2l-1 3l1 3l-1 3l-1 2l1 3l-1 3l-1 3l1 2l-1 3l-1 3v3l-1 2v3l-1 3v5l1 3l-2 3l1 2v3l-1 3v2l-1 3v6l-1 2v8l1 3v3l-1 3v5l1 3v2l-1 3v3l-2 2v3l1 3v3l-1 2v3l-1 3l2 2l-1 3l1 3v2l1 3l-1 3l-1 2l-1 3v3l-1 2v3l2 3v2l-1 3l1 3l-1 2l-1 3v3l1 2l1 3v16l-1 3l-1 2l-1 3l-1 3l1 2v3l1 3v5l1 2v3l-1 3v2l1 3v3l-1 2v3l1 3l-1 2v8l1 3l-1 2v34l-1 3v3l1 2v8l-1 3l-1 2l3 3v2l-1 3l1 3v7l-1 3l1 2v3l1 2l1 3v5l-1 2l2 2l-1 3v2l1 3l-1 2v2l1 3v2l2 2l-2 3l1 2l-1 2l1 3l1 2v11l1 3l-1 2l1 2l1 2l-1 2v7l1 2v4l1 2v5l1 2l1 2v4l1 2v8l1 2v2l1 2v6l1 2l-1 2l1 2l1 2v9l1 2l1 2l-1 2l1 1v6l1 2v3l1 2v4l1 1v7l1 2v2l1 2v6l1 2v2l1 1v7l1 1v2l1 2v4l1 2v1l1 2v5l1 1v5l1 1l-1 2l1 1v3l1 2v1l1 1v6l1 2v5l1 2l1 1v4l1 1v6l1 1v4l1 1v7l1 1v4l1 1v1l1 2v3l1 1v5l1 1v5l1 1l-1 1l1 1v2l1 1v6l1 1l1 2v1l-1 1l1 1v1l1 1v6l1 1v3l1 1v5l1 1l1 1v1l-1 1l1 1v3l1 1v2l1 1v6l1 1v5l1 1v1l1 1v4l1 1v1l1 1v6l1 1l-1 1l1 1v3l1 1v2l1 1v4l1 1v2l1 1l-1 1v1l1 1v1l1 1v2l-1 1l1 1v3l1 1v1l1 1v3l1 1v5l1 1v2l1 1v5l1 1v1l1 1l-1 1l1 1v2l1 1v4l1 1v1l1 1v3l1 1v4l1 1v2l1 1v3l1 1v3l1 1l1 1l-1 1l1 1v6l1 1l1 1v3l1 1v4l1 1v1l1 1v4l1 1v4l2 1v1l1 1l-1 1l1 1v4l1 1v3l1 1"/>
<path vector-effect="non-scaling-stroke" stroke="#d00000" d="M90 244v3l-2 4l-1 3l-1 4l-1 3l-1 3l-1 4l-1 3v4l-3 3l-1 3v4l-1 3l-1 3l-1 4v3l-1 3l-1 3l-1 3l-2 4l-1 3v6l-2 3l-1 3l-1 3v6l-1 3l-2 3v6l1 3l-2 3l-1 3l-2 3l1 3l-2 3l-2 3l-1 2l-1 3l1 3l-1 3v3l1 2l-1 3l-2 3v3l1 3l-1 2v9l-2 3l-1 2v3l-2 3l-1 3l-1 2v3l-1 3v3l1 3l-1 2v3l1 3v3l-2 2l-1 3l-1 3v3l-1 2l1 3l-1 3v3l1 2v3l-1 3l-1 3v2l-1 3v11l1 3l-1 3v2l-1 3v3l-1 3v2l-1 3l1 3v8l-2 3v16l-1 3v3l1 2l-2 3l1 3l-1 2l1 3v3l-1 3l1 2v3l-1 3l-1 2v3l1 3l1 2v3l-2 3v13l1 3v3l1 2l1 3l-1 3l-1 2l-1 3l1 3v3l-1 2l1 3v3l-2 2l1 3v3l-1 2v3l1 3l-1 2l-1 3l2 3v2l-1 3l1 3v8l-1 2v3l-1 3v5l-1 3l1 2l1 3l1 2l-1 3v3l-2 2l1 3v3l-1 2l1 3v3l1 2l-1 3v13l1 3l-1 2v8l1 3v13l-2 3l1 2l-1 3v5l1 3l1 2l-1 3v5l-1 3l1 2v8l1 3l-1 2l1 3l1 2v5l1 3l-1 2v13l1 2v10l1 2v5l1 2v5l1 2v2l-1 3l1 2v7l1 2l-1 2v3l1 2v4l1 2v5l1 2l1 2v4l1 2l-1 2v7l1 2v2l1 2v2l1 2v6l1 2v8l1 2v4l1 1l1 2v12l1 1v6l1 2v3l1 2v2l1 2v5l1 2v1l-1 2l1 2v5l1 2v1l1 2v2l1 1v5l1 2v1l1 2v3l-1 2l1 1v2l1 2v6l1 1l1 2v3l1 1v9l1 2v1l1 2l-1 1v1l1 2v3l1 1l1 1v5l1 1v3l1 1l-1 1v2l1 1l-1 1v2l1 1l1 1v6l1 1v2l1 2v2l1 1v3l1 1v6l1 1v3l1 1l-1 1l1 1v3l1 1v2l1 1v3l1 2v5l1 1v6l1 1v3l1 1v3l1 1l-1 1l1 1v2l1 1v1l1 1l-1 1v1l1 1v3l1 1l-1 1v1l1 1v3l1 1v1l1 1v5l1 1v2l1 1v4l1 1v4l1 1v2l1 1v4l1 1v5l1 1v1l-1 1l1 1v1l1 1v1l1 1l-1 1l1 1l1 1l-1 1v1l1 1v1l1 1v2l-1 1v1l1 1v1l1 1v2l-1 1l1 1v1l1 1v3l1 1v2l1 1v3l1 1l-1 1l1 1v3l1 1v1l1 1v4l1 1v2l1 1v5l1 1v2l1 1v1l1 1v2l1 1v1l-1 1l1 1l1 1v5l1 1v3l1 1v2l1 1v2l1 1v3l1 1l1 1l-1 1v1l1 1v2l1 1v1l1 1v3l1 1v4l1 1v1"/>
<path vector-effect="non-scaling-stroke" stroke="#d90000" d="M96 232l-1 3l-1 4l-1 3v4l-1 3l-2 4v3l-1 3v4l-1 3l-1 4v3l-1 3v4l-1 3l-2 3l-1 4l-2 3v3l-2 3v7l-1 3l-1 3l-1 3l1 3l-1 4v9l-1 3l-2 3l-2 3v3l-2 3v3l-1 3l-1 3v3l-2 2v3l-1 3v6l-1 3l1 2v3l-1 3l-1 3l-1 3l-2 2l-1 3v3l1 3v3l-1 2l-1 3l-2 3v11l-1 3v8l-1 3v5l-1 3v3l-1 3l1 3l-1 2l-2 3l-1 3v3l-1 2l1 3l-1 3v5l1 3l-1 3v5l-1 3v6l-1 2v3l-1 3v3l-2 2v3l-1 3v3l-1 2l1 3v5l1 3v6l-2 2v9l-1 2l-2 3l1 3l-1 2v6l1 3l-1 2l1 3l-1 3v2l1 3v3l-1 2v6l-2 3l1 2v3l1 3v8l-1 2v3l-1 3l-1 3v2l-1 3l1 3v8l-1 2l1 3v3l-2 2l1 3v3l1 2l-1 3l-1 3v2l-1 3v3l1 2l-1 3v5l1 3l-1 3l1 2l-1 3v5l1 3v3l1 2l-1 3l-1 3l-1 2v5l-1 3l-1 3l1 2l-1 3l2 3v5l-1 3v2l1 3v10l1 3l-1 3v2l-1 3l1 2v6l1 2v3l-1 3v7l1 3v3l-1 2v3l1 2l-1 3l1 3l1 2v5l-1 3l2 3l-1 2l1 3v20l1 2v5l1 2v3l1 2v12l1 2v7l1 2v3l-1 2v4l1 2l1 3l-1 2l1 2l-1 2l1 2l1 3l1 2v4l-1 2l1 2l1 2v7l1 2v6l1 2v4l1 2v12l1 2v4l1 1v4l1 2v2l1 2v7l1 2v9l1 2l1 2v7l1 1v4l1 1v4l1 2v3l1 2v1l1 2v6l1 2v3l1 2v9l1 2l1 1v5l1 1v3l1 2v4l1 1v2l1 1v2l-1 1l1 2v1l1 1v6l1 1v3l1 1l-1 2l1 1v3l1 1v5l1 2l-1 1l1 1v3l1 1v5l1 1v1l1 2v2l1 1v4l1 1v4l1 1v6l1 1l1 1v1l-1 1v1l1 1v4l1 1v4l1 1v3l1 1v1l-1 1l1 1v3l1 1v1l1 1v3l1 1l-1 1l1 1v2l1 1v2l1 1l-1 1l1 1v3l1 1v7l1 1v2l1 1v3l1 1v5l1 1v3l1 1v3l1 1v4l1 1v5l1 1v2l1 1v3l1 1v5l1 1v4l1 1v5l1 1v4l1 1v1l1 1v4l1 1v1l1 1v3l1 1v1l1 1v1l-1 1v1l1 1v1l1 1v1l-1 1l1 1l1 1v2l1 1v4l1 1v2l1 1v2l1 1v2l1 1l-1 1l1 1v5l1 1v2l1 1l1 1l-1 1l1 1v2l1 1v1l1 1l-1 1l1 1v3l1 1v3l1 1v3l1 1v1l1 1v1l-1 1l1 1v2l1 1v1l1 1v1"/>
<path vector-effect="non-scaling-stroke" stroke="#e10000" d="M96 237l-2 4v3l-2 4l-1 3l-1 4v7l-2 3l-1 3v4l-1 3v3l-1 4l-2 3v3l-1 4l-1 3v3l-1 3v4l-1 3l-2 3l-1 3v3l-2 3v10l-1 3v3l-1 3l-2 3l-2 3v3l-1 3v3l-1 3l-1 2v3l-1 3l-1 3l-1 3l1 3v5l-1 3l1 3l-2 3l-2 2l1 3v3l-2 3l-1 3v8l-1 3l-1 2v3l-2 3l-1 3l-1 3l1 2l-1 3l1 3l-1 3v2l-1 3l-2 3v3l-1 3l1 2v3l1 3l-1 3v2l-2 3l-1 3l-1 3l1 2v6l-1 3v2l-1 3l2 3l-2 3v2l-2 3v6l1 2v3l-2 3l1 3l-2 2l-1 3l-1 3l1 2v6l1 3l-1 2v6l-1 3l-2 2l1 3l1 3v5l1 3l-1 3l-1 2l-1 3l1 3l-1 2l-1 3l1 3v2l1 3v3l1 3l-1 2l-1 3v5l-1 3v22l-1 2l-1 3l1 3v2l1 3v3l-1 2v8l-1 3l1 3v8l-1 2l-1 3v13l1 3l1 3l-1 2l-2 3v3l1 2v6l-1 2v3l1 2v8l-1 3v3l-1 2v3l1 3l-1 2v3l1 2v8l1 3l-1 3l1 2l-1 3v13l1 3l-1 2v8l-1 3l1 2v3l-1 2v3l-1 3l1 2v3l1 2l-1 3l1 3l1 2v8l-1 2l1 3v2l1 3l-1 2l1 3l-1 2l2 3v4l-1 3l1 2v3l1 2v2l1 3v2l-1 2l1 3v4l1 2l-1 3v2l1 2l-1 2l1 3l1 2l-1 2l1 2v5l1 2l-1 2l1 2v2l1 2l1 2v5l1 2v6l1 2v4l1 2v12l1 2v2l1 2v4l1 2l-1 2l1 2v1l1 2v6l1 2v5l1 2v2l1 2v7l1 1l1 2l-1 2l1 2v1l1 2v4l1 1v9l1 1l1 2v3l1 2v5l1 1v5l1 1l1 2v5l1 1v6l1 2v11l1 2l1 1v1l1 2v5l1 2v4l1 1v7l1 1l1 2v3l1 2v5l1 1v5l1 1v5l1 1v3l1 1v2l1 1v3l-1 1l1 1v2l1 1v3l1 1v2l1 1l-1 1v2l1 1v3l1 1v3l1 1l-1 1v1l1 1v1l1 1l-1 1l1 1v4l1 1v4l1 1v3l1 1l-1 1v1l1 1l1 1v2l1 1v3l1 1l1 1l-1 1v6l1 1v1l1 1v3l1 1v2l-1 1l1 1l1 1v4l1 1v4l1 1v7l1 1v1l1 1v3l1 1v1l-1 1l1 1v2l1 1v1l1 1v2l-1 1l1 1v1l1 1v2l1 1l-1 1l1 1v5l1 1v1l1 1l-1 1v1l1 1v2l1 1v1l1 1v2l1 1v3l1 1v5l1 1v1l1 1v3l1 1v5l1 1v2l1 1v2l1 1l-1 1l1 1v1l1 1v2l1 1v4l1 1v3l1 1v2l1 1"/>
<path vector-effect="non-scaling-stroke" stroke="#e40100" d="M100 215l-1 4l-2 3l-1 4l-1 3v4l-1 3l-1 4l-1 3l-1 4l-1 3v4l-2 3l-2 4l-1 3v3l-1 4v3l-1 4l-1 3l-1 3l-1 4l-1 3l-1 3l-1 3l-1 4v3l-1 3l-1 3l-1 3l-1 3v4l-1 3l-1 3l-1 3l-1 3v6l-1 3l-1 3l-2 3v3l-2 3v3l-1 3v8l-2 3v3l-2 3l-1 2l-1 3v9l-1 2v6l-2 3v3l1 2l-1 3l-1 3l-1 3v2l-1 3l-1 3v11l-1 3v5l-1 3v3l-1 3l-1 3l-1 2l-1 3v3l1 3v2l-1 3v6l-1 2l-1 3v8l1 3l1 3l-1 3l-1 2l-1 3v3l-1 3v2l-1 3l1 3l1 2l1 3l-1 3v3l-2 2l-1 3l-1 3v5l-1 3l1 3v5l1 3v3l-1 2v3l-2 3l1 2l1 3l-1 3l-1 3l1 2v8l1 3l-1 3v5l1 3l-1 3l-1 2l1 3l-1 3v8l-1 2l1 3l1 3v2l-2 3v6l-1 2v6l1 2v6l-1 2v3l-1 3v2l1 3l-2 3v2l2 3l-1 3v5l1 3l-1 2v3l-1 3l-1 2l1 3v2l-1 3l1 3l1 2l-1 3l-1 3v2l2 3l-1 3l1 2l-1 3v8l1 2l-1 3l-1 3v2l1 3v8l1 2l-1 3v3l-1 2l1 3l-1 3v5l1 2l1 3v5l-1 3l1 2l-1 3v8l-1 2l1 3v5l1 3v7l-1 3v3l1 2l1 3v4l1 3l1 2v17l1 3v2l1 2v12l-1 2l1 2v5l1 2l1 2l-1 2v9l2 2v5l1 2v6l1 2l-1 2l1 2v2l1 2v5l1 2v2l1 2l-1 2v4l1 2l1 1v10l1 2v4l1 2l1 2l-1 1l1 2v2l-1 2v2l1 2v2l1 1v6l1 1v2l1 2v2l1 1v4l1 2v1l1 2l-1 2v1l1 2v5l1 2l1 1v4l1 1v5l1 2v4l1 2l-1 1l1 2v9l1 2v1l1 2v4l1 1v3l1 2v4l1 1v5l1 1v1l1 2v8l1 1v2l1 1v2l1 2v4l1 1v2l1 2v6l1 1v1l1 2v2l1 1v10l1 1l1 1v4l1 1v3l1 1l-1 1v2l1 1v4l1 1v1l1 2l-1 1v1l1 1l1 1l-1 1l1 1v4l1 1v5l1 1v1l1 1l-1 1l1 1v3l1 1v2l1 1l-1 1l1 1v4l1 1v2l1 1l-1 1l1 1v3l1 1v1l1 1v5l1 1v5l1 1v6l1 1v1l1 1v3l1 1v4l1 1l-1 1l1 1v1l1 1l-1 1l1 1v4l1 1v3l1 1v5l1 1v2l1 1v2l1 1v4l1 1v2l1 1v2l1 1l-1 1l1 1v2l1 1v3l1 1v3l1 1v3l1 1v1l1 1v5l1 1v1l1 1v4l1 1v3l1 1v2l1 1l1 1l-1 1v2l1 1v1l1 1v3l1 1v1l1 1v4l1 1l1 1v1l-1 1l1 1v2l1 1"/>
<path vector-effect="non-scaling-stroke" stroke="#e80200" d="M97 224l-2 3l-1 4l-1 3v4l-2 3v4l-1 3v4l-2 3l-1 3l-1 4l-2 3l-1 4v6l-1 4l-2 3l-2 3v4l-1 3v3l-2 4l1 3l-1 3l-1 3l-1 3l-1 4l-1 3l-1 3l-1 3l1 3v3l-1 3v3l-1 3l-2 3v3l-1 3l-1 3v6l-1 3v3l-1 2v6l-2 3v3l1 3v2l-1 3l-1 3v3l-1 2v6l-3 3l1 3l-1 2l1 3v3l1 3l-1 3v2l-1 3l-2 3v3l-1 2l-1 3l-1 3l-1 3l-1 3l1 2v3l-1 3v3l-2 2l-1 3l1 3v8l-2 3v3l-1 2v3l-1 3v3l1 2l-1 3v3l-1 3l-1 2l1 3l1 3l-2 3v5l-1 3v3l-1 2v3l-1 3l-2 2v3l1 3v3l-1 2l-1 3v3l1 3v5l-1 3l-1 2v11l1 3v16l-1 3l-1 3l2 2v3l-1 3l-1 2v3l1 3v2l-1 3l2 3v2l-1 3l-1 3v3l1 2v6l-1 2l1 3l-1 3v2l-2 3l-1 3l1 2v3l1 3l1 2l-1 3l1 3l-1 2l-1 3l1 3v2l-1 3v3l-1 2l2 3l-1 3l-1 2v3l-1 3l1 2v8l-1 3l1 2v14l-2 2v3l1 2v3l1 3l-1 2l1 3l1 3l-1 2l1 3v2l-1 3l-1 3v2l1 3l-1 3v2l1 3v21l-1 2l1 3v3l1 2l1 3v5l-1 2v3l1 2v10l1 3v2l1 3v2l-1 3l1 2l1 3l-1 2v5l1 2v2l1 3v9l-1 2l1 3v2l1 2v2l1 3l-1 2l1 2l1 2v5l-1 2l1 2v2l1 2l-1 2l1 3l1 2l-1 2l1 2l1 2v2l1 2v2l1 2l-1 2l1 2v4l1 2l-1 2v2l1 2v8l1 2v2l1 2v4l1 2l-1 1l1 2v6l1 2v11l1 1v4l1 2v1l1 2v4l1 1v7l1 2l1 1v9l1 1v5l1 2v4l1 2l1 2v6l1 1v5l1 1v3l1 2v3l1 1v1l1 2l-1 1l1 2v3l1 1v8l1 2v4l1 1v3l1 1v4l1 1v3l1 1v5l1 1v2l1 1v1l1 1l-1 2v1l1 1v4l1 1v2l1 1v7l1 1v7l1 1l1 1v5l1 1l1 1v1l-1 1l1 1v1l1 1v6l1 1v5l1 1v3l1 1v5l1 1v1l1 1v3l1 1v6l1 1v1l1 1v7l1 1v3l1 1l1 1v8l2 1v4l1 1l-1 1v1l1 1l-1 1v1l2 1l-1 1v1l1 1v1l1 1l-1 1v1l1 1v3l1 1l1 1v1l-1 1l1 1v3l1 1v3l1 1l-1 1l1 1v1l1 1l-1 1l1 1v3l1 1v1l1 1v3l1 1v1l-1 1l1 1l1 1v3l1 1l1 1v8l1 1v2l1 1v1l1 1v3l1 1v2l1 1v3l1 1v2l1 1v2l-1 1l1 1v1l1 1v2l1 1l-1 1l1 1l1 1v2l1 1v3"/>
<path vector-effect="non-scaling-stroke" stroke="#eb0300" d="M91 246v3l-1 4l-1 3v3l-1 4v3l-2 4l-2 3v7l-2 3v3l-1 4v3l-2 3l-1 4v6l-1 3l-1 3l-1 3l-1 4v3l-1 3l-1 3l-1 3l-1 3l-1 3v3l-1 3l-2 3l1 3v3l-2 3v6l-1 2l-1 3v3l-2 3v6l-2 2v3l-1 3l-1 3v5l-1 3l1 3l-1 3v2l-1 3l1 3v3l-1 3l-1 2l-3 3v6l1 2l-2 3v9l-1 2l-1 3v3l-1 3l1 2v3l1 3l-1 3l-1 2l-1 3l-2 3v8l-1 3l1 3l-1 2l-1 3v6l-1 2v3l1 3v11l-1 3l-1 2v3l-1 3l-1 3l-1 2v3l1 3l-1 2l1 3l-2 3l1 3l-1 2v6l-1 2l1 3l-2 3l1 3v8l-1 2l1 3v3l-1 3v2l-1 3l-1 3v5l1 3l-1 2l-1 3l2 3v16l1 3l-1 2l-2 3v3l1 2v6l-2 2l1 3l-1 3l1 2v8l1 3l-1 3l1 2l-1 3v3l1 2v3l-1 3v2l-1 3v3l-1 2l2 3l-1 3l-1 2v8l1 3v5l1 3l-1 2v6l-1 2l1 3l-1 3l2 2l-1 3l1 3l-2 2v3l1 2v3l1 3l-1 2v8l1 3l-1 2l1 3l1 3l-1 2v5l-1 3v5l-1 3v5l1 3v2l-1 3l1 2l1 3l-1 3v2l1 3v12l1 3l-1 2v3l1 2l1 2l1 3v5l-1 2l1 2l-1 3v2l1 2v3l1 2l-1 2v10l2 2v7l1 2l-1 2v2l1 2v5l1 2v6l1 2v2l1 3v6l1 2v2l1 2v8l1 2v2l1 2l-1 2l1 2v2l1 2v7l1 2v2l1 2l-1 2v2l1 2v3l1 2v2l1 2v3l1 2v4l1 1v2l1 2l-1 2l1 1v4l1 2v3l1 2v1l1 2l-1 2l1 1v2l1 2v6l1 2l-1 1l1 2l1 1v2l1 1v8l1 2v6l1 1l1 2v5l1 2v7l1 1v3l1 2v4l1 1v1l1 2v5l1 1l-1 2v1l1 1v3l1 1v3l1 1v3l1 1v5l1 1v6l1 1v1l1 2v3l1 1v2l1 2v2l-1 1l1 1v4l1 2v4l1 1l-1 1l1 1v2l1 1v1l1 1v1l1 1l-1 1v1l1 1v6l1 1v3l1 1v3l1 1v2l1 1v4l1 1v1l-1 1v1l1 1l-1 1l1 1l1 1v1l1 1l-1 1v1l1 1v3l1 1v4l1 1v2l1 1v2l1 1v1l-1 1l1 1v2l1 1v2l1 1v4l-1 1l1 1l1 1v5l1 1v4l1 1v1l1 1v4l1 1v3l1 1v2l1 1v4l1 1v4l1 1v1l1 1v4l1 1v2l1 1v4l1 1v2l1 1v4l1 1v4l1 1v2l1 1v1l1 1l-1 1l1 1v1l1 1l1 1v4l1 1v4l1 1v5l1 1v1"/>
<path vector-effect="non-scaling-stroke" stroke="#ee0400" d="M84 260l-1 3v4l-1 3l-2 3l-2 4v6l-1 4l-1 3v3l-2 4l-1 3l-1 3l-1 3l-1 3v4l-1 3l-1 3v3l-1 3l-1 3v3l-1 3l-1 3l-1 3l1 3l-3 3v3l-1 3v3l-1 3l-1 3v3l-1 2l-1 3l-1 3l-1 3v8l-1 3v3l-1 3v5l-2 3l1 3v3l-1 2l-1 3l-1 3l2 3l-1 3v2l-1 3l-1 3l-1 3v2l-1 3v3l-1 3l1 3v2l-1 3v6l-1 2v3l-2 3v3l-1 2l1 3l-1 3v3l-1 2l1 3v3l-1 3v5l-1 3l1 3v2l-1 3v3l-1 3l1 2v6l-2 3v2l-1 3v5l-1 3l1 3v3l-1 2v3l-1 3v13l-1 3l1 3l1 3l-1 2l-1 3l2 3v5l-2 3v8l-1 3v8l1 2l1 3l-2 3l1 2l-1 3v3l-1 2l-1 3v6l1 2l1 3l-1 3v16l-1 2v8l1 3v3l-1 2l1 3l-2 3l1 2v3l-1 3l1 2l-2 3l1 3v2l-1 3v2l2 3v3l-1 2l-2 3l1 3v2l-1 3l1 3l-1 2l2 3l-1 3v2l1 3l-2 2l1 3l-1 3v2l1 3v3l-1 2v3l1 2l-1 3l1 3v2l-1 3l1 3v15l1 3v5l-1 3l1 2v8l-1 3l1 2l2 3l1 2l-2 3l1 2v13l1 2v5l1 3v2l1 2v5l1 3v7l-1 2v7l1 2v5l1 2v4l1 3v8l1 3v4l1 2v4l1 2v3l1 2v2l1 2v8l1 2l-1 2l1 2v4l1 2v8l1 2l-1 2l1 2l1 2v11l1 2v2l1 1l-1 2v2l1 2l1 2v5l1 2l1 2v5l1 2v5l1 1l-1 2v2l1 1l1 2v5l1 2l-1 1l1 2v1l1 2v10l1 1v3l1 2v1l1 2v3l1 1v5l1 1v9l1 1l1 2v3l1 1v8l1 2v1l1 1v7l1 1l1 1l-1 2l1 1v5l1 1l1 2v2l1 1v4l1 1v6l1 1v7l1 2v2l1 1v3l1 1v5l1 1v2l1 1v4l1 1l-1 1l1 1l-1 1l1 1v3l1 1v3l1 1v1l1 1v4l1 1v4l1 1v4l1 1v2l1 1v4l1 1l-1 1v1l1 1v1l1 1v5l1 1l1 1l-1 1v1l1 1l-1 1l1 1v2l1 1v2l1 1l-1 1l1 1v2l1 1v4l1 1v5l1 1v5l1 1l1 1l-1 1v1l1 1v3l1 1l-1 1l1 1v2l1 1v1l1 1v4l1 1v3l1 1v1l-1 1l1 1v1l1 1v2l1 1v1l1 1v4l1 1v2l1 1v4l1 1v1l1 1v3l1 1v5l1 1l1 1v2l1 1v3l1 1v2l1 1l-1 1l1 1v1l1 1v5l1 1v2"/>
<path vector-effect="non-scaling-stroke" stroke="#f20600" d="M99 236l-1 4l-2 3v4l-1 3v4l-1 3v3l-1 4l-1 3l-1 4l-2 3l-1 3l-1 4v6l-2 4l-1 3v3l-1 3l-1 4v9l-2 3l-1 3v4l-1 3l-1 3v3l-1 3l-1 3v3l-1 3v3l-1 3l-1 3v3l-1 2v3l-1 3l-2 3l1 3l-2 3l-1 2l-1 3l1 3l1 3l-1 3l-1 2v3l-1 3v6l-1 2v3l-1 3l-1 3v5l-1 3v3l-1 3v2l-2 3v6l1 3l-1 2l-1 3v6l-2 2l1 3l-1 3l1 3v2l-2 3v3l-1 3l-1 2v3l-2 3v5l1 3v3l-1 3l-1 2v6l-2 3l1 2l-1 3l-1 3l1 3v2l-1 3v3l-1 3v2l-2 3l1 3l-1 2v3l2 3v3l-1 2l-2 3l-1 3v2l-1 3v3l1 3v2l-1 3v3l1 2l-1 3l-1 3l1 3v2l-2 3l1 3l-1 2l-1 3v3l1 2l1 3l-1 3l-1 3l-1 2l1 3l-1 3v5l-1 3v5l-1 3l1 2l-1 3l1 3l2 2l-1 3l-1 3l-1 2v11l-1 3v8l-1 2v11l1 3l1 2v6l-1 2l-1 3l-1 3l1 2v14l-1 2l-1 3l2 2v8l-1 3v5l1 3v2l1 3v11l-1 2v11l2 2v3l-1 3v2l1 3l-1 2v3l1 3l-1 2l1 3v5l-1 3l1 2v5l1 3v2l-1 3l1 2v5l1 3v17l2 2l-1 3v7l1 2l1 2l-1 3v7l1 2l-1 2l1 2l-1 3l1 2v7l1 2v2l1 2v2l1 2v9l1 2l-1 2l1 2l1 2v8l1 2v2l1 3v5l-1 2l1 2l1 2v2l1 2v2l1 2v10l1 1v2l-1 2v2l1 2v2l1 1v9l1 2l1 2v3l1 2v4l1 1v2l1 2v3l1 2v3l1 2v6l1 2v3l1 2v1l1 2v4l1 2v2l1 1l-1 2l1 1v6l1 2v1l1 2v2l1 2v3l1 1l-1 2l1 1v4l1 2v2l1 2v2l1 2l-1 1l1 2v1l1 1v5l1 2v1l1 1v4l1 1l-1 2l1 1v5l1 1v2l1 2v3l1 1v2l1 1l-1 1l1 1l-1 1l1 1v6l1 1v1l1 1v7l1 1v2l1 1v7l1 1v3l1 1v5l1 1v3l1 1l-1 1l2 1v5l1 1v3l1 1l-1 1v1l1 1l1 1v7l1 1l1 1l-1 1l1 1v4l1 1v3l1 1v1l1 1l-1 1l1 1v4l1 1v6l1 1v3l1 1v1l1 1v2l1 1l-1 1l1 1v4l1 1v1l1 1v4l1 1l-1 1v1l1 1l1 1v5l1 1v2l1 1v1l-1 1l1 1v1l1 1v1l1 1v6l1 1v3l1 1v1l1 1v3l1 1v3l1 1v2l1 1l-1 1v1l1 1v3l1 1v1l1 1l-1 1l1 1v1l1 1v2l1 1v1l-1 1v1l2 1v4l1 1v2l1 1l-1 1l1 1v1l1 1v1"/>
<path vector-effect="non-scaling-stroke" stroke="#f50700" d="M104 209l-1 3l-2 4l-1 3v4l-2 3v4l-1 3v4l-2 3l-1 4l-1 3l-1 4v3l-2 3v7l-1 4v3l-1 3l-1 4l-1 3l-1 3l-2 4l-1 3v13l-1 3l-1 3l-1 4l-1 3l-1 3l-1 3l-1 3v9l-1 3l-1 3l-1 3l-1 3l-1 3v6l-1 3v6l-1 2l-1 3l-2 3v6l-1 2l1 3l-2 3v3l1 3l-2 2v3l-1 3v3l-2 3v2l-1 3l-1 3v3l-1 2v14l-1 3l-2 3l-1 3l-1 2l-1 3l-1 3l1 3l1 2l-1 3v3l-1 3v5l-2 3v3l-1 3l-1 2l1 3l-1 3v5l1 3l-1 3l1 3l-1 2l-2 3v5l-1 3l1 3l-1 3v13l-3 3l-1 3l1 3v2l-1 3v8l1 3l-1 3v2l-1 3l1 3v2l1 3l-1 3l-1 3v2l1 3v3l-1 2l1 3v3l-1 2v6l-1 3l-1 2v6l-1 2l2 3l-2 3l1 2l1 3l-2 3v5l-1 3v2l-1 3v5l-1 3l1 3l1 2v3l-1 3l1 2v8l-1 3l-2 3l1 2v8l1 3v3l-1 2l-1 3l1 3l1 2l-1 3v3l1 2v3l-1 3l1 2v3l-1 2l-1 3v3l1 2l-1 3l1 3l-1 2v3l1 3v10l1 3l-1 2v13l1 3l-1 3l1 2v3l-1 2v3l-1 3l2 2l-1 3v2l1 3l-1 3v2l1 3v8l-1 2l1 3l1 2v5l1 3l-1 2l1 3v2l-1 3l1 2l1 2v3l-1 2v12l1 2v5l1 2v9l1 3l-1 2v2l1 2v11l1 3l1 2v2l1 2v2l1 2v13l1 2v6l1 2l1 2v8l1 2v2l1 1v4l1 2l-1 2l1 2v6l1 1v4l1 2v2l1 2l-1 1l1 2v4l1 2v1l1 2v4l1 1v7l1 2v7l2 1v5l1 2v1l1 2v5l1 1v5l1 2v3l1 1v6l1 2v1l1 2v4l1 2v7l1 1l1 2l-1 1v3l1 1v3l1 1v3l1 1v3l1 1v6l1 1v2l1 2v4l1 1v2l1 2v3l1 1l-1 2l1 1v1l1 1l-1 1l1 2v3l1 1l-1 1l1 2v2l1 1v6l1 1v2l1 1l-1 1l1 1v2l1 1v2l1 2l-1 1v1l1 1v3l1 1v2l1 1v2l-1 1v1l1 1v2l1 1v2l1 1v4l1 1v4l1 1v3l1 1v5l1 1v2l1 1l-1 1v1l1 1l1 1l-1 1v2l1 1l1 1v3l1 1v6l1 1v1l1 1v4l1 1l-1 1l1 1v3l1 1v4l1 1v2l1 1l-1 1l1 1v1l1 1v1l-1 1l1 1v2l1 1v5l1 1v2l1 1v1l1 1v3l1 1l-1 1v1l1 1v2l1 1l1 1v1l1 1l-1 1v3l1 1v3l1 1v4l1 1v1l1 1l-1 1l1 1v2l1 1v1l1 1l-1 1l2 1l-1 1v1l1 1l-1 1l1 1v1l1 1v2l1 1v4l1 1v2l1 1"/>
<path vector-effect="non-scaling-stroke" stroke="#f80800" d="M90 250l-2 3l-1 4l-1 3v7l-1 3l-1 4v3l-2 3l-2 4l-1 3l-1 3l-1 4l1 3l-1 3v3l-1 3l-2 4v3l-1 3l-1 3l-1 3v3l-1 3l-1 3l-2 3l-1 3v6l-1 3v3l-1 3v3l-1 3l-2 3l1 3l-3 3l1 3l-1 2v3l-1 3l-1 3v3l-1 2v6l-1 3v5l-1 3l-1 3l-1 3v8l-1 3v3l1 2l-1 3l-1 3l-1 3v2l-1 3v3l-1 3l-1 3l2 2l-2 3l2 3l-1 3l-1 2l-2 3l-1 3v3l1 2l-1 3l1 3v3l-1 2l-1 3v6l-1 2v3l-1 3v8l-1 3v8l-1 3v8l-2 3l-1 2l-2 3l1 3l1 3v2l-1 3v5l1 3v8l-1 3v3l-1 2l-1 3v11l2 3v2l-2 3v3l1 2l-1 3v6l1 2v3l-1 3v2l1 3l-1 3v5l1 3l-1 2v3l-1 3l1 2l-1 3l-1 3l1 2v3l-1 3l1 2v3l-1 3v10l-1 3v3l1 2l1 3v3l-1 2v11l-1 3l2 2l-2 3v3l-1 2v6l1 2v5l1 3l1 3v2l-1 3v3l-1 2v16l-1 3v2l1 3l1 3v2l-1 3v5l-1 3v2l1 3l1 2l-1 3v8l-1 2v3l1 3l-1 2l1 3l1 2l1 3l-1 3v10l1 2l1 3l-1 2v3l2 2v2l-1 3l1 2v3l-1 2l1 2v3l1 2v2l-1 3v4l1 3v2l1 2l-1 3l1 2v2l1 2l-1 3v2l1 2v2l1 2v3l1 2v2l-1 2l1 2v5l1 2v8l1 2v2l1 2v6l1 2v6l1 2v4l1 2l1 2l-1 2l1 2v2l1 2v2l1 1v4l-1 2v2l1 2v5l1 2l1 2l-1 2l1 1v2l1 2l-1 2l1 1v2l1 2v2l1 1v4l1 1v2l1 2v10l1 1l1 2v3l-1 2l1 1v2l1 2v3l1 1v3l1 2v3l1 1l-1 2l1 1v2l1 1v6l1 2v5l1 2v4l1 1v2l1 1l-1 2l1 1v5l1 2v2l1 2v4l1 1v4l1 1v2l1 2v1l-1 1l1 1v2l1 1v1l1 1v6l1 2v6l1 2v2l1 1v3l1 1v5l1 1v2l1 1v3l1 1l-1 1l1 1v2l1 1v5l1 1v4l1 1v2l-1 1l1 1v3l1 1v1l1 1v1l-1 1l1 1v1l1 1v2l1 1l-1 1l1 1l-1 1l1 1v2l1 1v4l1 1l1 1l-1 1l1 1l-1 1l1 1l1 1l-1 1v3l1 1v2l1 1v3l1 1v1l1 1v5l1 1v2l1 1v6l1 1v5l1 1v3l1 1v3l2 1l-1 1l1 1v4l1 1v4l1 1v3l1 1v1l1 1v3l1 1v2l1 1v3l1 1v5l1 1v2l1 1v2l1 1l-1 1l1 1v1l1 1v3l1 1v2l1 1v2l1 1l-1 1l1 1l1 1l-1 1l1 1v4l1 1v1l1 1v1l1 1l-1 1v2l2 1v4l1 1v3l1 1v1l1 1l-1 1v1"/>
<path vector-effect="non-scaling-stroke" stroke="#fc0900" d="M97 237v7l-2 4v3l-1 4l-1 3l-1 4l-1 3v3l-1 4l-1 3v4l-2 3v3l-1 3l-1 4v3l-1 3v4l-1 3l-2 3l-1 3v3l-1 3l-2 3l1 4l-1 3v3l1 3l-1 3v3l-2 3l-2 3v6l-2 3l-1 3l-1 2v3l-2 3v11l-1 3v3l-1 3v3l-1 2v3l-3 3l-1 3l-2 3l1 2l-1 3l1 3v3l-1 3l-1 2v6l-1 3l-1 2v3l-1 3v5l-1 3l1 3l-1 3l-1 3l-1 2l-1 3l-2 3l1 3l1 2v6l-1 3v2l-1 3v6l-1 2l1 3v6l-1 2l-1 3l-1 3v3l-1 2v3l-1 3l-1 3v5l1 3l-1 2l1 3v6l-1 2v6l-1 3l-2 2v6l1 2l1 3l-1 3l-2 3v2l1 3v3l-1 2l2 3l-1 3l-1 3v8l-1 2l-1 3v3l-1 2v8l1 3v6l-1 2l-1 3v3l1 2v3l-2 3v2l-1 3l1 3v2l-1 3v3l-1 2v6l-1 2v3l1 3l2 2l-1 3v3l-1 2v6l-1 2l1 3l-1 3v8l1 2v6l1 2l-2 3l1 2l-1 3l-1 3l-1 2l1 3v5l1 3l1 3v2l1 3l-1 2v3l-1 3l1 2v8l1 3v2l-1 3l1 3v18l1 3l-1 2v3l1 2l-2 3l1 3v5l1 2l-1 3v3l1 2v5l1 3l-1 2l1 3l-1 2v8l1 2v3l-1 2l1 2v3l1 2v3l-1 2l1 2l1 3v7l1 2v2l1 2l-1 3v2l-1 2l1 2v9l1 2l1 3v4l1 2v2l1 2v11l1 2v6l1 2v2l1 2v2l1 2v2l-1 2l1 2v6l1 2v4l1 2v5l1 2v6l1 2v3l1 2v2l1 2v5l1 2v3l1 2v3l1 2v4l1 1v7l1 2v3l1 2v3l1 1l1 2v3l1 2v7l1 2v5l1 1l1 2v6l1 1l-1 1l1 2v1l1 2v3l1 1v4l1 2l-1 1l1 1v2l1 1v4l1 2v5l1 1l-1 2l1 1v5l1 1l1 2v1l1 1l-1 1v3l1 1v4l1 1v1l1 1v6l1 1v7l1 1v2l1 1l-1 1l1 1v2l1 1l-1 1v1l1 1v3l1 1v6l1 1v2l1 1v1l1 1v1l1 1l-1 1v3l1 1v5l1 1v3l1 1v4l1 1v1l1 1v1l-1 1v1l1 1v3l1 1v1l1 1v5l1 1v2l1 1v2l1 1l-1 1v3l1 1v2l1 1v4l1 1v1l1 1v3l1 1v3l1 1v3l1 1v3l1 1v3l1 1v3l-1 1l1 1v4l1 1l1 1v3l1 1v4l1 1v2l1 1v1l-1 1l1 1v1l1 1v3l1 1v1l1 1v2l1 1v4l1 1v3l1 1v2l1 1v7l1 1v4l1 1v2l1 1v2l1 1v1l1 1v2l1 1v3l1 1v2l1 1v3l1 1l1 1l-1 1l1 1v3"/>
<path vector-effect="non-scaling-stroke" stroke="#ff0a00" d="M102 215l-1 4l-1 3l-1 4l-1 3l-1 4l-1 3v3l-1 4l-1 3l-1 4v3l-2 4l1 3l-1 4l-2 3v3l-1 4l-1 3v3l-2 4l-3 3l-1 3l1 4l-1 3v6l-1 4l-1 3l-1 3l-1 3v3l-2 3l-1 3l-1 3l1 4l-2 3l-1 3v6l-1 3l-1 2v3l-1 3l-1 3v3l-1 3l-1 3v3l-1 3l-1 2v3l-1 3v3l-1 2v3l-1 3l-1 3v8l-1 3v3l-1 3l-1 2l-1 3v6l-1 2v3l-1 3l1 3l-1 3v11l-1 2l-2 3v3l-2 3l1 2l-1 3v3l-1 3l1 3l1 2l-1 3v3l-1 3v2l-1 3v3l-1 3l1 2l-2 3v3l-1 2l-1 3v11l-1 3v3l1 2v3l-1 3v3l-1 2l-2 3v5l-1 3v3l-2 3l1 2v3l1 3v5l1 3l-1 3l-1 2l1 3l-2 3v5l1 3l-1 3v8l-2 2l1 3l-1 3v2l1 3v5l-1 3v3l-1 3v2l1 3v13l-2 3v3l2 2v6l-1 2v8l-1 3v3l-1 2v6l1 2v6l1 2v3l-1 3l-1 2l1 3l-1 2l-1 3v3l1 2l1 3l-1 3v2l1 3l-1 3l-1 2v3l1 3v2l-1 3v2l2 3l1 3l-2 2v3l1 3l1 2v3l-1 2v6l-1 2l1 3v8l-1 2l1 3v10l1 3l-1 3l1 2v3l-1 2v8l1 3v10l1 2l-1 3v2l1 3v2l1 3v2l-1 2v3l1 2v3l-1 2v2l1 3v2l1 2v3l1 2l-1 2l1 2v3l1 2v7l-1 2l1 2v5l1 2v2l1 2v4l1 3v2l1 2l-1 2l1 2v2l1 2v4l-1 2l1 2l1 2l1 2v2l1 2l-1 2v6l1 2v4l1 2v2l1 2v6l1 1v4l1 2v11l1 2v3l1 2v2l1 2v5l1 1v7l1 2l1 2v8l1 1v2l1 2v1l1 2l-1 1l1 2l1 2v6l1 1v3l1 2v1l1 2l-1 1v3l1 2l1 1v5l1 1v5l1 1v1l-1 2l1 1v6l1 1v1l1 2v6l1 2l1 1v1l-1 2l1 1l1 1v3l1 1v8l1 1v3l1 2v1l1 1v4l1 1v4l1 2v1l-1 1v1l1 1v1l1 1v1l-1 2v1l1 1l1 1v2l1 1v6l1 1v4l1 1v2l1 1l-1 1v1l1 1v2l1 1v2l-1 1l2 1v7l1 1v2l1 1v2l1 1v3l1 1v6l1 1v3l1 1v4l1 1v4l1 1v2l1 1v4l1 1l-1 1l1 1v2l1 1v5l1 1v2l1 1v4l2 1v5l1 1v7l1 1v3l1 1v1l1 1v4l1 1v3l1 1v1l1 1l-1 1v1l1 1v3l1 1v2l1 1v2l1 1v2l1 1l-1 1l1 1v2l1 1v2l1 1v3l1 1v3l1 1v1l1 1v3l-1 1l2 1v4l1 1v2l1 1v3l1 1l-1 1l1 1v2l1 1v4l1 1"/>
<path vector-effect="non-scaling-stroke" stroke="#ff0e00" d="M95 224l-2 4l-2 3l-1 4v7l-1 3l-2 4l-2 3l-1 4v3l-1 3l-1 4l-1 3l-1 4l-1 3l-1 3l-1 4v3l-1 3l-1 4l-1 3v3l-1 3l-1 4l-2 3l-1 3l-1 3l-1 3v3l-1 3l-1 3v4l-2 3l-1 3l-1 3v3l-1 3v3l-2 2v3l-1 3l-1 3l-1 3l-1 3l-1 3v3l-1 2v3l-1 3v3l1 3l-1 2l-1 3l-1 3l-1 3l-1 3v2l-1 3v6l1 2l-1 3v6l-1 3l-2 2l-1 3l-1 3l1 3l-1 2v3l1 3v3l-1 3l-1 2v6l-1 3v13l-1 3l-1 3v3l-1 2l1 3l-1 3l-1 3l1 2l1 3l-1 3l-1 3l-1 2v6l1 3l1 2l-1 3v5l-1 3l-2 3v5l-1 3v3l2 3v2l-1 3v5l-1 3v3l-1 3l1 2v6l1 2l-1 3l1 3v3l-1 2l1 3l-1 3l-1 2v3l1 3v13l-1 3l-1 3l1 2v6l-1 2l1 3l-1 3v2l1 3v5l-1 3v3l1 2v3l-1 3v5l-1 3l1 2l-1 3v3l1 2l-1 3v3l1 2v6l-1 2v8l-1 3v3l1 2l-1 3v3l1 2v5l-1 3v8l-1 3v8l1 2v3l1 2v3l-1 3l1 2l-2 3l1 3v5l1 2l-1 3l-1 3l1 2v3l1 2v6l-1 2l-1 3v3l1 2l1 3v10l-1 3v2l1 3v5l1 2l1 3l1 2v8l-1 2l1 3l-1 2v3l1 2v5l1 2l1 2v3l1 2l-1 3v13l1 3l1 2v4l1 2v7l1 2l-1 2v5l1 2l1 2v8l1 2v7l1 2v4l1 2v2l1 2v6l1 2l-1 2l1 1v8l1 2l1 2v6l1 1v11l1 2l1 2v5l1 2l1 2l-1 1l1 2v5l1 2v3l1 2l-1 2l1 1v2l1 2l1 1v12l1 1v3l1 2v7l1 2v3l1 1l1 2l-1 1v3l1 2v3l1 1v7l1 2v1l1 1v5l1 1v1l1 2v5l1 1v2l1 1l-1 1l1 2l1 1l-1 1v4l1 1v5l1 1l1 2v3l1 1v5l1 1v2l1 1v4l1 1l-1 2l1 1v2l1 1v7l1 1v2l1 1v2l1 1v4l1 1v4l1 1v3l1 1l1 1l-1 1v2l1 1v3l1 1v5l1 1v1l1 1v3l1 1v4l1 1v3l1 1v2l1 1v1l-1 1l1 1v3l-1 1l1 1l1 1v1l1 1v7l1 1v1l1 1v3l1 1v1l1 1l-1 1l1 1l-1 1l1 1l-1 1l1 1v2l1 1l-1 1l1 1l-1 1l1 1v2l1 1v3l1 1v3l1 1v3l1 1l1 1v1l-1 1l2 1l-1 1l1 1v2l1 1v4l1 1v2l1 1v4l1 1v4l1 1v1l1 1v3l1 1v3l1 1v1l1 1v2l1 1v5l1 1v2l1 1l1 1v2l-1 1l1 1v1l1 1v2l1 1l-1 1l1 1"/>
<path vector-effect="non-scaling-stroke" stroke="#ff1300" d="M87 249l-1 3l-1 4l-1 3l-1 4l-2 3l-1 4l-1 3l-2 3l-1 4l-1 3v3l-1 4v3l-1 3l-1 3v4l-1 3l-1 3v3l-2 3v3l-1 4l-1 3l-1 3l-2 3l-1 3l-1 3v3l-1 3l1 3v3l-1 3l-1 3l-1 3l-1 2l-1 3l-1 3l-1 3v3l-1 3v2l1 3v6l-1 3v2l-2 3v11l-1 3l1 3l-2 3v5l-2 3v3l-1 3l-1 2v6l-1 3v19l-1 3l-1 3l-2 2v3l1 3l-1 3v2l-1 3v3l-1 3v2l1 3v3l-2 3v11l-1 2l-1 3v11l-1 3l-1 2l-1 3v6l-1 2v3l1 3l1 2l-1 3v3l-1 3l1 2l-1 3l-1 3v5l1 3l-2 3v5l2 3l1 2l-1 3v3l1 3v2l-1 3l-1 3v5l-1 3v16l1 3v5l-1 3v10l1 3l1 3l-1 2l-1 3v3l2 2v3l-1 3l-1 2l-1 3l1 3v2l-2 3l1 3l-1 2l1 3l1 3v10l-1 3v2l-1 3l-1 3v5l1 3l1 2l-1 3v3l-1 2l1 3l1 2l-1 3l1 3v2l-1 3l1 3v2l-1 3v5l-1 3v5l1 3l-1 2l1 3l-1 2v3l1 3v2l1 3v13l-1 3v2l-1 3v2l3 3v5l1 3l-1 2v3l1 2l1 3l-1 2v3l1 2v10l2 2v3l-1 2l1 2v10l1 2v14l1 2v9l1 2l1 2v11l1 2v13l2 2v2l1 2v2l-1 2l1 2v2l1 2l1 2l-1 2v2l1 2v4l1 2v9l1 2v4l1 2l-1 1v2l1 2v2l1 2l-1 1v2l1 2l1 2v2l1 1v6l1 1v2l1 2v8l1 2v5l1 1v5l1 2v1l1 2v3l1 2l-1 1l1 2l1 1l-1 2l1 2l1 1l-1 2v3l1 1v2l1 1l-1 2v1l1 1v3l1 2v1l1 2v1l-1 2l1 1v3l1 1v4l1 2l1 1l-1 1l1 2l1 1l-1 1l1 2v2l1 2l-1 1l1 1v3l1 1v3l1 1v5l1 1v5l1 1v2l1 1v6l1 1v2l1 1v1l1 2l-1 1v1l1 1v1l1 1v7l1 1l1 1l-1 1l1 1v4l1 1v2l-1 1l1 1v1l1 1l-1 1l1 1v1l1 1v1l-1 1v1l1 1v2l1 1v2l1 1v5l1 1l1 1l-1 1l1 1v3l1 1l-1 1l1 1v1l-1 1l1 1v2l1 1v1l1 1v4l1 1v4l1 1v1l1 1l-1 1l1 1v2l1 1v1l-1 1v1l1 1v2l1 1v2l1 1l-1 1v2l1 1v1l1 1v3l1 1v5l1 1v5l1 1v1l1 1v4l1 1v4l1 1l1 1v2l1 1v5l1 1v3l1 1v2l1 1v4l1 1v3l2 1v1l-1 1l1 1v3l1 1v2l1 1l1 1v8l1 1v2l1 1v1l1 1l1 1l-1 1v1l1 1l1 1v6"/>
<path vector-effect="non-scaling-stroke" stroke="#ff1700" d="M92 266v4l-2 3l-1 3l-1 4l1 3l-2 3l-1 4l-1 3v3l-1 4l-1 3v3l-2 3l-1 3v7l-1 3l-1 3l-1 3l-1 3v6l-1 3v6l-2 3l-1 3l-1 3l-1 3v3l-1 2l-1 3l1 3v3l-1 3l-1 3l-1 2l-1 3v6l-1 3l-1 2l1 3l-1 3l1 3l-1 2l-1 3l-1 3l-1 3v3l-1 2v3l1 3l-1 3l-2 2l1 3l-1 3l-2 3v5l-1 3v3l-1 3v5l1 3l-1 3l-1 2l-1 3v3l-1 3l-1 2v9l-1 2l-1 3l1 3l-1 3v8l-2 3l-2 2v11l-1 3l-2 3v5l-1 3v11l-1 3v2l1 3v3l-1 2v3l1 3l-2 3v5l-1 3v5l-1 3v3l1 2v6l-1 2v11l-1 3l1 3l-1 2v6l-1 2l1 3l-1 3l2 2l-1 3l-1 3v8l1 2l-1 3l1 3v8l-1 2v14l-1 2v14l2 2l-2 3l1 3l-1 2v11l1 3l-1 2l1 3v2l-2 3v16l1 3l1 2v5l1 3l-1 3v2l-1 3v8l-1 2v3l1 3v2l-2 3l1 2l1 3v10l-1 3l1 3v5l1 2v18l1 3l-1 2l1 3v7l1 2v3l1 2v5l-1 2l1 3v5l1 2l-1 2v5l1 2v2l1 3l-1 2v2l1 2v7l1 2v7l1 2l1 2v4l1 2l-1 2v3l1 2l-1 2l1 2v2l1 2l1 2l-1 2l1 2v8l1 2v4l1 2v7l1 2v4l1 2v6l1 1v11l1 2l1 2v5l1 2l1 2v1l1 2v7l1 2v5l1 1v4l1 1v3l1 2v3l1 2v1l1 2v3l1 2v1l-1 2v1l1 2v1l1 2v4l1 2v1l1 2v5l1 2l1 1v3l1 1v7l1 2v5l1 1v2l1 1v4l1 1v6l1 1v2l1 2v3l1 2l-1 1v1l1 1l1 1v3l1 1v5l1 1v8l1 1v1l1 1l-1 1v2l1 2v1l1 1v4l1 1v2l1 1v2l-1 1l1 1v4l1 1v3l1 1v1l1 1v5l1 1v2l1 1v7l1 1v3l1 1v3l1 1v6l1 1v2l1 1v3l1 1v4l1 1v5l1 1v2l1 1v2l-1 1l1 1l1 1v3l1 1v1l-1 1l1 1v3l1 1v1l1 1v4l1 1l-1 1l1 1v2l1 1v3l1 1v3l1 1v3l1 1v2l1 1v3l1 1v2l1 1l-1 1l1 1v2l1 1v3l1 1v1l1 1l-1 1l1 1l-1 1l1 1v3l1 1v3l1 1v1l1 1v3l1 1v4l1 1v2l1 1v1l1 1v2l1 1v6l1 1"/>
<path vector-effect="non-scaling-stroke" stroke="#ff1c00" d="M94 252l-1 3l-1 4l-2 3l-1 4l-1 3l-1 3l-1 4l-2 3v4l-1 3v3l-1 3v4l-1 3l-1 3l-1 3l-1 4v3l-1 3l-1 3l-1 3v3l-1 3l-1 3v6l-1 3v3l-1 3l-2 3v3l-1 3v3l-1 3l-1 3l1 3l-2 3l-1 2v3l1 3l-1 3l-1 3v2l-1 3v3l-1 3v3l-2 2v12l-1 2l-1 3l-1 3v8l-1 3v3l-1 3v2l-1 3l-1 3v5l-1 3l-1 3v8l-1 3v3l-1 2l1 3v6l-1 2v3l-1 3v5l-1 3l-1 3l-1 3v2l-1 3v8l-1 3v3l-1 3v2l1 3l-1 3l-1 2v3l-1 3l1 3v8l-2 3l-1 2v6l-1 2l-1 3l1 3l1 3l-1 2l1 3v5l-1 3l1 3l1 2l-1 3l-2 3l1 3v2l1 3l-1 3l-1 2l-1 3l1 3v2l-1 3l-1 3l1 2v3l-1 3l-1 3v2l1 3v3l-1 2l1 3l1 3v2l-2 3v3l1 2v3l1 3v2l-2 3v5l-1 3v5l1 3l-1 3v10l-1 3l1 2v8l-1 3v3l1 2v3l-1 3l1 2v3l-1 3l1 2v13l-1 3v8l1 2v3l1 3v5l-1 3v10l-1 3v7l1 3v3l-2 2l2 3l-1 2v6l1 2l1 3v2l1 3l1 2l-1 3l1 2v10l1 3l-1 2v5l1 2v5l-1 2v5l1 2v3l1 2v5l1 2v18l1 2l1 2l1 2v2l-1 3v2l1 2l-1 2l1 2v6l1 2v2l1 2v3l1 2v6l1 2v2l1 2v9l1 2v6l1 2v4l1 1v2l1 2v9l1 2v5l1 2l1 2v5l1 2v3l1 2v3l1 2l-1 2l1 1v2l1 2v1l1 2v3l1 2l-1 1l1 2v1l1 2l1 2l-1 1v2l1 1v5l1 1l1 2l-1 1l1 2v4l1 2v3l1 1v7l1 2v1l1 2v2l1 2v1l1 2v5l1 1v6l1 1v4l1 1v1l-1 2l1 1v2l1 2v2l1 1v3l1 1v1l-1 1l1 2v2l1 1v2l1 2l-1 1v1l1 1v1l1 1v7l1 1v5l1 1v2l1 1v5l1 1v4l1 1v4l1 1v1l1 1l-1 1v1l1 1v1l1 1v3l1 1v4l-1 1l1 1v1l1 1v3l1 1v1l1 1l-1 1l1 1v4l1 1v4l1 1v3l1 1l-1 1v1l1 1v3l1 1l-1 1l1 1v2l1 1v2l1 1l-1 1l1 1v2l1 1v2l1 1v4l1 1v1l1 1l-1 1l1 1v4l1 1v4l1 1l-1 1l1 1v2l1 1v4l1 1v2l1 1v4l1 1v2l1 1v3l1 1l1 1v7l1 1v4l1 1v1l1 1v2l1 1v2l1 1v1l-1 1l1 1l1 1v2l1 1v2l1 1l-1 1l1 1v1l1 1v1l-1 1l1 1l-1 1l1 1l1 1v2l1 1v5l1 1v1l1 1v2"/>
<path vector-effect="non-scaling-stroke" stroke="#ff2000" d="M95 227l-1 3l-1 4l-1 3l-2 4l-1 3l-1 4v3l-1 4l-1 3l-1 3l-2 4l-1 3l-1 4l-1 3v3l-1 4v3l-1 3l-1 4l-1 3v3l-2 3v4l-1 3l-1 3l-1 3l-1 3l-1 3l-1 4v3l-1 3v3l-1 3l-1 3l-1 3l-2 3v6l-1 3l-1 2l1 3l-2 3l-1 3l-1 3v6l-1 2v12l1 2l-2 3l-1 3l-1 3v3l-1 2v3l-1 3v5l-1 3v3l-2 3l1 3v2l-1 3l-1 3l-2 3v2l-1 3l1 3l1 3l-1 2l-1 3l-2 3l1 3l1 3l-1 2l-1 3v3l-1 3v11l-2 2l1 3v3l-1 3l-1 2l-1 3l2 3l-1 3l-1 2v6l-1 2v11l-1 3v3l-1 3v2l-1 3l1 3v13l-1 3l2 3v2l-1 3l-2 3v8l1 3v2l-1 3v3l2 3l-1 2l1 3l-1 3l-1 2v16l-1 3l1 3l1 3v5l-1 3v8l1 2l-2 3l2 3v2l-1 3v3l-1 2l-1 3v3l1 2l-1 3l1 3l-1 2l-1 3l2 3v2l-1 3v8l-1 3l-1 2l-1 3l1 2v3l1 3l-2 2l1 3v3l-1 2l1 3v5l-1 3v5l1 3v2l1 3l-1 3v2l-1 3v5l-1 3l1 2v3l-1 3v2l1 3l1 3l-1 2v13l1 3v8l-1 2v3l2 2v8l-1 3l1 2v5l1 3v7l1 3l1 2v2l-1 3l1 2v3l-1 2l1 2l1 3l-1 2l1 3l1 2v4l1 3l-1 2l1 2v7l1 2v7l1 2v5l1 2v4l1 2v2l1 2v15l1 2v6l1 2v2l1 2v4l1 2v8l1 2v11l1 2v4l1 1v2l1 2v7l1 2v5l1 2v5l1 2v3l1 2v3l1 2v3l1 2l-1 1v2l1 2v1l1 2v3l1 2v3l1 1v2l1 1v7l1 1v5l1 1v2l-1 1l1 1l1 2v6l1 1v6l1 1v1l1 2l-1 1v2l1 1v1l1 2v1l1 1v4l1 2l-1 1l1 1v3l1 1v1l1 2v6l1 1v2l1 2l1 1l-1 1v1l1 1v6l1 2v2l1 1v3l1 1v4l1 1v1l1 1l-1 1v1l1 1v3l1 1v1l-1 1l1 1v3l1 1l-1 1v1l1 1v2l1 1v3l1 1v2l1 1v2l1 1l-1 1v1l1 1v3l1 1v5l1 1v4l1 1v2l1 1l-1 1l1 1v5l1 1v4l1 1v1l1 1v4l1 1v2l1 1v5l1 1v3l1 1v3l1 1v5l1 1v1l1 1v6l1 1l-1 1l1 1v2l1 1v2l1 1l-1 1v1l1 1v2l1 1v1l-1 1l1 1l1 1v3l1 1v1l1 1v2l1 1v2l1 1v2l-1 1l1 1v1l1 1v2l1 1v3l1 1v2l1 1v4l1 1v4l1 1v2l1 1v4l1 1v2l1 1l1 1v1l-1 1v1l1 1l1 1v2l1 1v2l1 1"/>
<path vector-effect="non-scaling-stroke" stroke="#ff2500" d="M100 211l-1 3l-2 4l-1 4l-1 3l-1 4l-1 3l-1 3l-2 4l-1 3l-1 4v3l-1 4v7l-1 3l-1 3l-1 4l-1 3l-1 4l-1 3l-1 3l-1 4l-2 3v3l-1 3v7l-1 3v3l-1 3l-2 4v3l-2 3l-1 3v3l-2 3l-1 3l-1 3l1 3l-1 3l-1 3v3l-1 3v3l-2 3l-1 3v3l-1 2v3l-1 3l-1 3l-1 3l-1 2l-1 3v6l1 3l-1 2v6l-1 3l-1 3l-1 2v3l-1 3v3l-1 3l1 2l-1 3l-1 3l1 3l-2 2v3l-1 3l-1 3v8l-1 3l-1 3l1 2l-1 3v3l-1 3v5l1 3l-1 3v8l-1 3l-1 2v6l-1 3v11l-1 2l-1 3v3l-1 2v6l1 3l-1 2l-1 3v3l-2 3l1 2l-1 3l1 3v5l-1 3l1 3v2l-2 3l1 3v2l1 3v3l-1 3l1 2l1 3v3l-1 2v3l-2 3l1 2v9l-1 2l1 3l-1 3l1 2l-1 3l-1 3l-1 2v3l-1 3l1 2l1 3v3l1 2l-1 3l-1 3l-1 3v2l-1 3l1 3v2l1 3v3l-1 2v3l-1 3l1 2l1 3v3l-1 2v13l-1 3v3l-1 2l1 3l-1 3l1 2l1 3l-1 3v15l-1 3l1 3v5l-1 3v5l1 3l-1 2l1 3v2l1 3l1 3l-1 2l-1 3l2 2l-1 3l1 3l-1 2v3l-1 3v18l1 2v3l1 3l1 2v3l-1 2l2 3v2l-1 3v2l1 3l-1 2v8l2 2l-1 3v4l1 3v9l1 3l1 2v5l1 2l-1 2v7l1 2l-1 2v7l1 2v2l1 3v2l1 2v4l1 2l-1 2v3l1 2l1 2v6l1 2v4l1 2l-1 2l1 2v4l1 2v4l1 2v4l1 2v2l1 1l-1 2l1 2l-1 2v2l1 2l-1 2l1 2l1 1v4l1 2v3l1 2v7l1 2l-1 2l1 1v2l1 2v2l1 1v2l1 2v3l1 2v6l1 2v1l1 2v11l2 2v1l-1 2l1 1v5l1 1v2l1 1l1 2l-1 1v2l1 1v4l1 2v3l1 1v7l1 1v3l1 2v6l1 2v1l1 1l-1 1v2l1 1v1l1 2v1l1 1v4l1 1v4l1 1l-1 1l1 1l1 2v2l1 1v8l1 1v2l1 1v5l1 1v4l1 1v3l1 1l-1 1l1 1v2l1 1v4l1 1v4l1 1v4l1 1v3l1 1v4l1 1l-1 1l1 1v3l1 1v3l1 1v5l1 1v3l1 1v2l1 1l-1 1l1 1v3l1 1v4l1 1v4l1 1v1l1 1v3l1 1l-1 1l1 1v4l1 1v6l1 1v5l1 1v1l1 1v2l1 1v3l1 1v5l1 1v1l1 1v1l1 1v3l1 1l-1 1v1l1 1v1l1 1v3l1 1v2l1 1v2l1 1v2l1 1l-1 1v2l1 1v5l1 1v1l1 1v2l1 1v1l1 1v3l1 1v3l1 1v1l1 1v4l1 1l-1 1v1l1 1v2l1 1v1"/>
<path vector-effect="non-scaling-stroke" stroke="#ff2900" d="M89 238l-1 3l-1 3l-1 4l-1 3v4l-1 3l-1 4l-1 3l-1 3l-2 4l-2 3v4l-1 3l-1 3l-1 4l-2 3l-1 3l-1 3v7l-1 3v3l-2 3l-1 3l-2 4l-1 3v3l-1 3l-2 3v9l-1 3l-1 3l-1 3l-1 3l-1 3l-1 2v3l-2 3v3l-1 3v3l-1 3v2l-1 3v3l1 3v2l1 3l-1 3v3l-1 3l-2 2l-1 3l-1 3v6l-1 2l1 3v3l-1 3l2 2l-1 3l-1 3l-1 3v5l-1 3l-1 3v5l-1 3l1 3l-1 3v2l-1 3v3l1 3v2l-1 3v6l-1 2l1 3v3l-1 3l-1 2l-1 3l2 3l-2 3v2l1 3v6l-1 2v3l-1 3v3l-2 2l-1 3v3l1 2v6l-1 3v2l1 3l-1 3v5l-1 3l-2 3v2l1 3v3l1 2v3l-1 3v5l-2 3v3l2 2l-2 3l1 3l1 2l-2 3v3l-1 3v8l1 2v3l1 3v2l-1 3v3l1 2l-1 3v3l1 2l-2 3v5l1 3v5l-1 3v13l1 3v3l1 2l-1 3l1 3l1 2l-2 3l-1 3l-1 2v3l1 3l1 2v3l-1 3l1 2v11l-1 2v3l-1 3l1 2v3l-1 3l1 2v5l1 3v31l-1 3v5l1 3l-1 3l1 2l-1 3v2l1 3l-1 3l1 2v10l2 3v5l-1 2l1 3l1 2v3l-1 2l1 3v2l-1 2l1 3v2l1 3v2l-1 2v3l1 2l1 2v12l1 2v11l1 2v3l1 2v8l1 2v3l1 2v2l1 2v4l1 2v4l-1 2l1 2l1 2v4l1 2v4l-1 2l1 2v2l1 2v2l1 2v7l1 2v8l1 1v6l1 2v3l1 2v2l1 2v1l1 2l-1 2v3l1 2v3l1 2l1 2v5l1 1l1 2v2l-1 1v5l1 2v3l1 1l-1 2l1 1v2l1 2v4l1 2v1l1 2v7l1 1v3l1 2l-1 1l1 2v3l1 1v4l1 1v6l1 1v2l1 1v7l1 1l-1 1l1 1l1 2v2l1 2v1l1 1v3l1 1v8l1 2l1 1v7l1 1v1l1 1v6l1 1v4l1 1v4l1 1v1l1 1l-1 1v1l1 1v3l1 1v2l1 1v4l1 1v1l-1 1l1 1v1l1 1v4l1 1l-1 1l1 1v3l1 1l-1 1l1 1v2l1 1v3l1 1l-1 1l1 1l1 1l-1 1l1 1v3l1 1v2l1 1v2l-1 1l1 1v1l1 1v4l1 1v6l1 1v1l1 1v1l1 1l-1 1l1 1v3l1 1v4l1 1l-1 1l1 1v3l1 1l-1 1l1 1v3l1 1v2l1 1v3l1 1v1l1 1v2l1 1l-1 1l1 1l-1 1l1 1v1l1 1l-1 1l1 1v1l1 1l-1 1l1 1l1 1v1l1 1l-1 1v1l1 1v1l1 1v2l1 1v3l1 1v5l1 1v1l1 1v2l1 1v5l1 1v3l1 1v1l1 1v2l1 1v2"/>
<path vector-effect="non-scaling-stroke" stroke="#ff2e00" d="M86 231l-1 4l-3 3v7l-1 4v3l-1 4l-1 3v7l-1 3v10l-1 4l1 3v3l-1 4l-1 3l-2 3v3l-1 4v3l1 3v3l-1 3l1 3l-1 3l-1 3l-1 4v6l1 3l-1 3l1 3l-1 3l-1 2l-1 3v3l-2 3v6l-1 3l2 3l-3 2l1 3v3l-2 3v5l-2 3l1 3l-1 3l-1 3l1 2v3l-1 3l-2 3v5l-1 3l1 3l-1 3l-1 2v3l-1 3l-1 3l1 2v3l-1 3v3l-1 2l-1 3l-2 3v3l-1 3v2l2 3v3l-1 3l-1 2v3l-1 3v3l-2 2l-1 3l2 3l-1 3v2l1 3l-1 3l-1 3l-1 2v3l-2 3v3l-1 2v3l-1 3l1 2l1 3l-1 3v3l-2 2l-1 3v16l1 3l-1 3l-2 3v5l1 3l-1 2l1 3v11l-1 3l-1 2v6l-1 2l1 3v5l1 3v3l-1 3v2l-1 3l1 3l-2 2v3l-1 3v2l1 3v19l-1 2v3l1 3v5l-1 3v8l-1 2v3l2 3l-1 2v11l-1 3v13l-1 2v3l-1 3v2l1 3l1 3l1 2l-1 3l2 3l-1 2l-1 3l2 2v3l-1 3l-1 2v6l1 2l-1 3v5l1 3l-1 2v3l1 2l-2 3v3l1 2v6l1 2l-1 3v10l1 3v5l1 2v3l-1 2v5l1 3l-1 2v3l1 2v3l1 2l-1 3l1 2v2l1 3v7l-1 2v3l1 2v7l1 2v9l1 2v5l1 2v2l1 2l-1 2v5l1 2l1 2v6l1 2v2l1 2v9l1 2v8l1 2l-1 2l1 2l1 2l1 1l-1 2l1 2l1 2v15l1 2v4l1 1l1 2v9l1 2v3l1 2v5l1 2v5l1 2l-1 1l1 2v2l1 1v5l1 2v5l1 1v6l1 2v3l-1 1l1 2l1 1v8l1 1v5l1 1v7l1 2l1 1v6l1 1l-1 1v2l1 1v3l1 1l1 1v2l-1 1l1 1v3l1 1v3l1 1v1l-1 1l1 2v2l1 1l-1 2l1 1l1 1v4l1 1v6l1 1v6l1 1v1l1 1v4l1 1v6l1 1v5l1 1v2l1 1v4l1 1v1l1 1l-1 1v1l1 1v2l1 1v1l1 1l-1 1v2l1 1v4l1 1v4l1 1l-1 1l2 1v3l1 1v6l1 1v1l1 1v2l-1 1l1 1l1 1v5l1 1v3l1 1v3l1 1v1l-1 1l1 1l1 1v6l1 1v1l1 1v4l1 1v7l1 1l-1 1l1 1v1l1 1v2l1 1v2l1 1v1l1 1l-1 1l1 1v1l1 1v3l1 1v5l1 1v2l1 1l-1 1l1 1v1l1 1v1l1 1v4l1 1l1 1l-1 1l1 1v3l1 1l-1 1l1 1v1l1 1v5l1 1l1 1v3l1 1l1 1v1l-1 1l1 1v1l1 1l-1 1l1 1v3l1 1v2l1 1v2"/>
<path vector-effect="non-scaling-stroke" stroke="#ff3200" d="M87 256l-1 3v24l-1 3l-1 4v6l2 3l-2 4l-2 3l-1 3v19l-1 3l-2 3l-2 3v3l-2 3l1 3v3l1 3v3l-2 3l-2 3v2l-1 3l-1 3v8l-1 3v3l-1 3l1 3l-1 2l-2 3l-1 3l1 3v3l-1 2v12l-2 2l-1 3v6l-1 2l1 3l-1 3l-1 3v3l-1 2l-2 3l1 3l1 3v2l-2 3v3l-1 3l-1 2v6l-2 3v2l1 3l-1 3l1 3l-1 2l-1 3l1 3v3l-3 2l-1 3v3l1 3l-1 2v17l-1 2l-2 3l-2 3v5l1 3l-1 3l1 3v2l1 3l-1 3l-1 2l-2 3v8l1 3v8l-1 3l-1 3l-1 2v3l1 3v2l-1 3l1 3v5l-1 3l-2 2l2 3l-1 3l-1 3l1 2v6l-1 2l1 3l-1 3l-2 2v6l1 2v8l-1 3v3l-1 2l-1 3v5l1 3v3l1 2v3l-1 3l1 2l-1 3v5l-2 3l2 3v2l1 3l-1 3l1 2l-1 3l-1 2v19l1 3l-1 2l1 3l-1 2l-1 3l1 3v10l1 3l-1 2v3l1 3l-1 2v3l1 3l-1 2l1 3l-1 2v16l1 3l-2 2l1 3l-1 2l1 3v3l1 2l1 3v2l-1 3l1 2v5l-1 3l1 2l1 3l1 2l-1 2l1 3v2l-1 3v4l1 3v7l1 2l-1 2l1 3l1 2v16l1 2v4l1 2l1 3v10l1 2v5l1 2v6l1 2v2l1 2v10l1 2v6l1 2l1 2v5l1 2v4l1 2v5l1 2v2l1 2v3l-1 2l1 2v3l1 2v2l1 2v5l1 1v6l1 1v8l1 2l1 2v5l-1 1l1 2v1l1 2l1 1v2l1 2l-1 1v3l1 2v3l1 1v5l1 1v4l1 2v4l1 2v1l-1 1l1 2v4l1 1v2l1 1v4l1 1v2l1 1v5l1 2v5l1 1v7l1 2v1l1 1v3l1 1l-1 1l1 1v6l1 1v4l1 1v4l1 1v2l1 2v2l-1 1l1 1v4l1 1v2l1 1v3l1 1v5l1 1v2l1 1v6l1 1v4l1 1v4l1 1v2l1 1l-1 1l1 1v2l1 1v4l1 1v1l1 1v6l1 1v1l1 1v1l-1 1l1 1v2l1 1v5l1 1v3l1 1v3l1 1v3l1 1v1l1 1l-1 1v2l1 1l-1 1l1 1v3l1 1v2l1 1l-1 1l1 1v2l1 1v4l1 1v1l1 1v1l1 1v2l1 1l-1 1v6l2 1v3l1 1v4l1 1v1l1 1v1l1 1v4l1 1v5l1 1l1 1l-1 1l1 1v4l1 1v2l1 1v2l1 1v2l1 1v3l1 1v1l1 1v3l1 1v2l-1 1l1 1v2l1 1v1l1 1v2"/>
<path vector-effect="non-scaling-stroke" stroke="#ff3800" d="M87 249l-1 4l-1 3v14l-1 3l1 3v4l-1 3l-1 3v7l-1 3l-1 3v4l-1 3l-1 3v3l-1 3l1 4l-1 3l-1 3v9l-2 3l-1 3v3l-1 3v3l-1 3v3l1 3v3l-1 2l-2 3v3l-1 3v3l-2 2l1 3l-1 3l-1 3l1 3l-1 2l-1 3l-1 3l-1 3l1 3l1 2l-1 3l-1 3v3l-1 3l-1 2l-1 3v3l1 3l-2 2v6l-1 3v8l-2 3l-1 3v5l1 3v3l-1 2l-1 3l-1 3v3l-2 2v3l1 3l-1 3v2l-1 3l1 3l-1 3v2l-1 3v3l-1 3v5l-1 3v5l-2 3v5l-2 3v6l1 2v3l-1 3l-1 3l1 2l-2 3l1 3v2l-2 3l1 3v3l-2 2l-1 3l2 3v2l-1 3l1 3l-1 3l-1 2v3l1 3l-1 2v11l-1 3l1 2v3l-2 3l1 3v2l-1 3l-1 3v8l1 2v6l-1 2l1 3l1 3v2l-2 3v3l1 2l-1 3v3l-1 2l1 3v24l-1 3l1 2v3l-1 3v5l-1 2v8l-1 3v3l1 2v13l1 3l-1 3l1 2v3l1 3l-1 2v5l2 3l-2 3l-1 2l1 3v3l-1 2v8l1 3l-1 2v5l-1 3l1 3l1 2v8l-1 3l2 2v13l1 2v3l-1 2l1 3v2l1 2v3l-1 2v3l1 2v5l1 2l1 2v5l-1 2v12l1 2l1 2v2l1 3v8l1 3l-1 2l1 2v4l1 2v4l1 3v4l1 2l-1 2l1 2v8l2 2v8l1 2v2l-1 2l1 2l1 1v4l1 2v4l1 2v2l1 1v8l1 2v7l1 1v7l1 2v2l1 1l-1 2v2l1 2v3l1 2v4l1 2v3l1 2v3l1 2l-1 1l1 2v6l1 2v7l1 2v3l1 1v2l1 1v6l1 1v7l1 2v2l1 2v1l1 1v4l-1 2l1 1l1 1v3l1 1l-1 2l1 1v4l1 1v5l1 1v3l1 1v6l1 1v1l1 1v3l1 1l-1 1l1 1v1l1 2v2l-1 1l1 1v3l1 1v4l1 1v6l1 1v1l1 1v2l1 1l-1 1l1 1v3l1 1l-1 1l1 1v3l1 1v1l-1 1l2 1v6l1 1v6l1 1v1l1 1v2l1 1v4l1 1v4l1 1l-1 1v3l1 1v2l1 1v3l1 1l-1 1l1 1l1 1v1l1 1l-1 1v2l1 1v2l1 1v6l1 1v4l1 1v1l1 1v4l1 1l-1 1l1 1v2l1 1v4l1 1v4l1 1v1l1 1v4l1 1v1l1 1v4l1 1v3l1 1v5l1 1v1l1 1l-1 1l1 1l1 1v2l1 1v4l1 1v2l1 1v3l1 1l1 1v5l1 1l-1 1l1 1l1 1v5l1 1v1l1 1v2l1 1v1l1 1l-1 1l1 1v3l1 1v3"/>
<path vector-effect="non-scaling-stroke" stroke="#ff3d00" d="M88 235l-2 4v3l-1 4v7l-1 3v4l-1 3v3l-1 4v3l-1 4l1 3v7l-1 3l1 3l-1 3l-1 4l-1 3l-1 3l-1 3v3l-1 3l-1 4v9l-1 3l-1 3l-1 3v9l-1 3l1 3l-2 3l1 3l-1 3v2l-1 3v3l-1 3l-1 3l1 3l-1 2l-2 3l-1 3l-1 3v3l1 2v6l-1 3v2l-1 3l1 3l-1 3l-2 3l-2 2l1 3l1 3l-1 3l-1 3l-1 2l1 3v3l-2 3l2 2l-1 3l-1 3v14l-1 2v3l-1 3v3l-2 2v6l-2 3l1 2v3l-1 3v5l-1 3l1 3l-2 3v11l-1 2v6l-1 3l-1 2v8l-1 3l-1 3v3l-1 2v14l-1 3v5l-1 3v5l-2 3v5l-1 3l1 3v5l1 3v8l-2 3v5l-2 3v2l1 3l-1 3l2 2v6l-1 2l-1 3l1 3l-1 2v11l-1 3v10l1 3v5l-1 3v5l-1 3v3l-1 2v3l-1 3l1 2l-1 3l-1 3l1 2v6l1 2v8l-1 3v13l1 3v13l-1 2l1 3l1 3l-1 2v3l1 2l-1 3v3l1 2v13l1 3v5l-1 3l-1 2v3l1 2l1 3v3l-1 2v3l1 2v3l1 2l-1 3l1 2l1 3v2l-1 3v2l1 3v2l1 2v10l1 2v7l1 2v14l1 2v5l1 2v11l1 2v6l1 2v3l1 2v2l1 2v4l1 2v4l1 2v4l-1 2v2l1 2l1 2v4l1 2v7l1 2v4l1 2v7l1 2v4l1 1v4l1 2v5l1 2l-1 1v4l1 2v3l1 2l1 1v9l1 1v5l1 2v6l1 1v7l1 1v6l1 2v4l1 2v2l1 2v4l1 2l-1 1l1 1v3l1 2v6l1 2l1 1v2l-1 1l1 1v3l1 1v3l1 1l-1 1l1 2v2l1 1v4l1 1l1 2l-1 1l1 1v6l1 1v3l1 1v7l1 1l1 1v4l1 1v8l1 1l1 1v1l-1 1l1 1v3l1 1l-1 1l1 1v2l1 1v2l1 1l-1 1l1 1v4l1 1v4l1 1v2l1 1v3l1 1v4l1 1v2l1 1v7l1 1v3l1 1v3l1 1v5l1 1v3l1 1v1l1 1l-1 1l1 1l1 1l-1 1v4l1 1v3l1 1v6l1 1v1l1 1v4l1 1v3l1 1v2l1 1v1l1 1v1l-1 1l1 1v2l1 1v4l1 1v1l1 1l-1 1l1 1v2l1 1v3l1 1v3l1 1v2l1 1v3l1 1v5l1 1v2l1 1v4l1 1l1 1v2l1 1l-1 1v1l1 1v1l1 1v3"/>
<path vector-effect="non-scaling-stroke" stroke="#ff4300" d="M82 241l-1 4l-1 3l1 3v4l-2 3l-1 4l-1 3l-1 4v13l-1 3l-1 4v13l-1 3l-1 3l-1 3v7l-1 3v6l-1 3v6l-1 3l-1 3l-1 3l-1 3l1 3v3l-1 3v5l-1 3v3l-1 3l1 3l-1 3v2l-1 3v3l-1 3v3l-2 2v6l-1 3v14l-1 2v6l-1 3v3l-1 2l-1 3l-1 3v3l-1 2l1 3v3l-1 3v5l-1 3v5l-2 3v3l-1 3l-1 3v5l1 3l-2 3v8l-1 2v6l-1 3v2l-1 3l-1 3l-1 3v5l-1 3l-1 3l1 2v11l-2 3l-1 3l1 2l1 3l-1 3v3l-1 2v6l1 2l-1 3l-1 3v8l1 3v2l-1 3l-1 3v5l-1 3l1 3l-1 2v6l1 2l1 3v5l-1 3l-1 3v2l-1 3v3l1 2l-1 3l1 3v2l-1 3l1 3l-1 2l-1 3l1 3v2l1 3l1 3l-1 2l-2 3v5l1 3v3l-1 2v6l1 2v3l-2 3l1 2l-1 3v11l-1 2v3l1 3v7l-1 3l1 3v5l1 3l-1 2v8l-1 3v2l1 3v3l-1 2v5l1 3l1 3v15l-1 3v3l1 2l-1 3v8l-1 2l1 3l1 2v8l1 2v3l1 2v8l-1 2v5l1 2v8l1 2v2l1 3l-1 2l1 2v3l-1 2v7l1 2l1 2v11l1 3l-1 2l1 2v2l2 2l-1 2l1 2v5l1 2v8l1 2v2l1 2v4l1 2v6l1 2v10l1 2v4l1 2v1l1 2v8l1 1v8l1 2v7l1 1v2l1 2v5l-1 2l1 1l1 2v5l1 2v5l1 1l-1 2l1 1v2l1 2v4l1 2v12l1 2v1l1 2l-1 1l1 2v7l1 1l1 2v4l1 1v2l1 1v4l-1 2l1 1l1 1v3l1 1l-1 2v1l1 1l1 2v5l1 1v3l1 1v2l1 2v5l1 1v2l1 1v6l1 1v3l1 1v3l1 1v4l1 1l-1 1l1 1v3l1 1v4l1 1v4l1 1v3l1 1v7l1 1v1l1 1v3l1 1l-1 1l1 1v3l1 1v3l1 1v6l1 1v2l1 1v2l1 1l-1 1l1 1v1l1 1v4l1 1v2l1 1l-1 1v3l1 1v1l1 1v4l1 1v6l1 1v2l1 1l-1 1v1l1 1v1l1 1v4l1 1v1l1 1v5l1 1l-1 1l1 1v2l1 1v2l1 1v2l1 1v1l-1 1l1 1v1l1 1v3l1 1l1 1l-1 1l1 1l-1 1l1 1v1l1 1v3l1 1v5l1 1v2l1 1v1l1 1v1l-1 1v1l1 1v1l1 1v2l1 1v3l1 1v3l1 1l1 1v5l1 1v3l1 1v2l1 1v2l1 1l1 1v1"/>
<path vector-effect="non-scaling-stroke" stroke="#ff4800" d="M88 240l-1 4v3l-2 4v17l-1 3l-1 4l1 3v13l-1 3l-1 4l-1 3l-1 3v3l-1 3l1 4l-1 3v6l-3 3v6l-1 3v6l-1 3v6l-1 3l-1 3v6l-1 3v5l-1 3v6l-2 3l-1 2v17l-1 3l-1 3v5l-1 3l-1 3l1 3l-1 2l-1 3l-1 3v8l-1 3v3l-1 3v2l1 3l-1 3v3l-1 2l-2 3v3l-1 3l-1 2v6l1 3l-1 2l-1 3v3l-1 3v2l-1 3l1 3l-2 3l1 2v9l-1 2l-2 3v8l-1 3l1 3l-2 2l1 3l-1 3l-2 3v5l-1 3v16l-1 3l-1 2l-1 3l-1 3l1 3l1 2l-1 3v8l-1 3l1 3l-1 2l1 3l-1 3l-1 2l1 3v3l-1 2v6l-1 2l-2 3v5l1 3v14l1 2l-1 3v11l-1 2l-1 3v5l1 3v3l-1 2v3l-1 2l2 3l1 3l-2 2l-1 3v3l1 2v3l-1 3l-1 2l1 3v3l-1 2v3l2 3l-2 2l1 3v18l1 3l-1 3l1 2l-1 3l1 2l1 3v3l1 2l-1 3v5l-1 3v2l1 3v5l-1 3v5l-1 3l2 2l-1 3v2l1 3v3l1 2v8l1 2v3l-1 2v5l1 3v2l1 3v9l-1 3l1 2v5l1 2v14l-1 2l1 3v2l1 2v7l1 2v2l1 2l-1 2l1 3l1 2l-1 2l1 2v2l1 2v6l1 3l1 2l-1 2l1 2l-1 2l1 2v4l1 2v4l1 2l-1 2l2 2v2l-1 2l1 1l1 2v4l1 2v2l-1 2v2l1 2v1l1 2v4l1 2l-1 2l1 1v4l1 2v5l1 2v5l1 2v5l1 1v4l1 1v2l1 2l-1 1v2l1 1v4l1 1v5l1 2l-1 1l1 2v1l1 2v7l1 2v4l1 2v6l1 1v3l1 1l1 2v2l-1 2l1 1l-1 2l1 1l1 1v7l1 1v2l1 1v4l1 1v4l1 1v5l1 2v6l1 1v2l1 1l1 2v7l1 1v3l1 1v7l1 1v1l1 1v4l1 2v7l1 1v2l1 1v3l1 1v5l1 1v4l1 1v2l1 1v2l1 1v3l1 1l-1 1v1l1 1v4l1 1v2l1 1l-1 1v2l1 1v1l1 1v3l1 1v1l-1 1v1l1 1l1 1v1l-1 1l1 1v2l1 1v1l1 1v5l1 1v1l-1 1l1 1v2l1 1v1l1 1l-1 1l1 1v5l1 1v2l1 1v1l1 1l-1 1v2l1 1v2l1 1v2l1 1v2l1 1v4l1 1v1l1 1v4l1 1v6l1 1v2l1 1v2l1 1l-1 1l1 1v2l1 1v1l1 1v4l1 1v2l1 1v2l1 1v2l-1 1l1 1l1 1v1l1 1v3l1 1l-1 1v1l1 1v1l1 1v1l1 1v1l-1 1l1 1v2"/>
<path vector-effect="non-scaling-stroke" stroke="#ff4e00" d="M84 237l-1 3l-2 4l1 3l-1 4v7l-1 3l-1 3l-1 4v3l1 4l-1 3v3l-1 4v6l-1 3v4l1 3l-1 3v3l-1 4l-1 3v3l-1 3v3l1 3l-1 3l-1 3v6l-1 3l-2 3l-1 3l1 3v3l-1 3v3l-1 3v3l1 3v2l-1 3v3l-1 3l-1 3l-1 2v3l-1 3l-1 3v3l-1 2v9l-1 2v6l-1 3l-1 3l-2 2v3l-1 3l1 3v5l-1 3v3l-1 3l-1 2l-2 3v3l1 3l1 2l-1 3v3l-1 3l-1 2l-1 3l-1 3l-1 3l1 2v3l-1 3l1 3l-1 2v3l1 3l-2 3l-1 2v3l-1 3l-1 3v5l1 3l-1 3v5l-2 3l1 2v6l-2 3v2l-1 3l1 3l-1 3l-1 2v6l1 2l-1 3v3l1 3l-1 2l-2 3v3l-1 2l1 3v3l1 2v3l-1 3l1 3l-1 2v3l-1 3l-1 2v3l-1 3l1 2v3l-1 3l1 2v11l-1 3v3l-1 2l1 3v3l1 2l-1 3v5l-1 3l1 3l-1 2v8l1 3l-1 3l-2 2v3l2 3v5l1 2v6l-1 2l1 3l-1 3l-1 2l-1 3v3l1 2l1 3v3l1 2l1 3l-2 2l1 3l-1 3l-1 2v3l1 3l1 2l1 3l-1 3l1 2l-1 3l1 2l-1 3l-1 3v2l1 3l-1 3l1 2v3l1 2l-1 3v8l-1 2v11l1 2v6l1 2v3l1 2l-1 3v12l1 3l-1 2v3l-1 2l2 3l-1 2l1 2v5l1 2l-1 3v9l1 2v3l1 2l-1 2v5l1 2v9l1 2v4l1 3l1 2v12l1 3v2l1 2v6l1 2l1 2v2l1 2l-1 2l1 2v10l1 1v4l1 2v2l1 2v7l1 2v4l1 2v7l1 2l1 1l-1 2l1 2v7l1 2v5l1 1v7l1 2l1 1v10l1 1l1 2v5l-1 1l1 2v4l1 2l1 1l-1 2v1l1 2v1l1 2v4l1 2v1l-1 1l2 2l-1 1v3l1 1v3l1 2v4l1 1v1l-1 2l1 1v1l1 2v4l1 1v1l1 2l-1 1v1l1 1l1 2v5l1 1v3l1 2v2l1 1v1l1 2l-1 1v4l1 2v1l1 1v4l1 2v5l1 1v1l1 1v3l1 2v3l1 1v8l1 1v2l1 1v5l1 1v2l1 1v5l1 1v1l1 1l-1 1l1 1v3l1 1l-1 1l1 1v3l1 1v3l1 1v1l1 1v5l1 1v4l1 1v3l1 1v6l1 1v2l1 1l-1 1l1 1v1l1 1l-1 1l1 1v3l1 1v1l1 1v7l1 1v4l1 1v2l1 1v3l1 1v1l1 1v2l1 1v1l1 1l-1 1l1 1v1l1 1l-1 1l1 1l-1 1l1 1v2l1 1v3l1 1v2l1 1v3l1 1v2l1 1v3l1 1v3l1 1v2l1 1v5l1 1l-1 1l1 1l1 1v3l1 1v3l1 1v3l1 1v1l1 1v5l1 1v2l1 1v3l1 1"/>
<path vector-effect="non-scaling-stroke" stroke="#ff5300" d="M92 212l-1 4l-1 3l-1 4l-2 3l-1 4l-1 3l-2 4v3l-2 4v3l-1 3l-1 4l-1 3v21l-2 3v3l-1 4l-1 3l-1 3l1 3v4l-1 3l1 3l-2 3v7l-1 3l1 3l-1 3l-1 3l-1 3l1 3l-1 3v3l-1 3v3l-1 3v3l-1 3v11l-1 3l1 3l-2 3l-1 3v14l-1 2l-1 3l-1 3v3l-2 2v6l-1 3l-1 3v2l1 3v3l1 3l-2 2v3l-2 3v3l-1 3l-1 2l1 3l-1 3v3l-1 2l-1 3l1 3v3l-1 2l-1 3v3l1 3l-2 2v3l-1 3l-1 3v8l1 3v5l-1 3l-1 3l-1 2v6l-1 3v2l-1 3l1 3l-1 3v2l-1 3l1 3v2l-1 3v3l-1 3v5l-1 3l-1 2l1 3l-1 3l-1 3v13l2 3l-1 3l-1 2l2 3l-2 3l-1 2v6l1 2l-1 3l-1 3v5l-1 3v3l1 2l-1 3v3l-1 2v8l1 3v3l-1 2v6l-1 2v8l-1 3l1 3v10l-1 3l-1 3v2l-1 3l1 3v2l-1 3l1 3l1 2v6l-1 2l1 3v5l1 3l-2 2l-1 3v3l1 2v3l1 3v5l-1 2l1 3v3l1 2v8l-1 3v2l1 3l-1 3l1 2v3l1 3l-1 2l1 3v5l1 3l-2 2v3l-1 2l1 3l1 3v5l-1 2l1 3l1 3v2l-1 3l1 2l-1 3l1 2v8l-1 2l1 3l1 2v7l-1 3l2 2l1 2l-1 3l-1 2l1 2v3l1 2l-1 2l1 3v13l1 2v9l1 2v2l1 3v4l1 2v10l1 3v2l1 2v6l1 2v2l1 2l-1 2v2l1 2v2l1 1v10l1 2v4l1 2v5l1 2v4l1 1v8l1 1v7l1 2v7l1 2v5l1 1v2l1 1v5l1 2v9l1 2v5l1 1l-1 2l1 1l1 2v4l1 2v6l1 1v3l1 1l-1 2v1l1 2v2l1 2v1l1 2v4l1 1l1 1l-1 2l1 1v3l-1 1v1l1 2v1l1 1v1l1 2v6l1 1v5l1 1v4l1 1v3l1 1v4l1 2v3l1 1v2l1 1v5l1 1v2l1 1l-1 1l1 1l-1 1l2 1v7l1 1v4l2 1v1l-1 1l1 1v4l1 1v2l1 1l-1 1v2l1 1v1l-1 1l1 1v1l1 1v1l1 1v3l1 1v2l-1 1l1 1v1l1 1l-1 1v1l1 1v1l1 1v1l1 1v2l-1 1l1 1v2l1 1v4l1 1v2l1 1l-1 1v1l1 1v1l1 1v5l1 1v2l1 1v3l1 1v4l1 1l-1 1l1 1l1 1l-1 1v3l1 1l1 1l-1 1l1 1v5l2 1v6l1 1l1 1v3l1 1v1l-1 1l1 1l1 1l-1 1l1 1v2l1 1v1l1 1l-1 1l1 1v2l1 1v3l1 1v5l1 1v1l1 1v2l1 1v4l1 1v1l1 1v3l1 1v4"/>
<path vector-effect="non-scaling-stroke" stroke="#ff5900" d="M85 236l-1 3v7l-1 3l-1 4l-1 3l-1 4l-1 3v4l1 3l-1 3l1 4l1 3l-1 3l-1 4l-2 3l-1 3l1 4v3l-1 3v3l-2 3v7l-1 3l1 3v3l-1 3v9l-1 3l-1 3l-1 3v3l-1 3v3l-1 3v6l-1 3v2l1 3l-1 3l-1 3v5l-2 3v3l-1 3l-1 3v8l-2 3v3l-1 2v3l-1 3v5l1 3l-1 3v3l2 3l-1 2l-1 3l-2 3l-1 3v2l-2 3v11l-2 3l1 3v2l-1 3l1 3l-1 3l-1 2v6l-1 3l-1 2l1 3l-1 3v5l-1 3l-1 3l-1 3l-1 2v6l-1 3v5l-1 3l1 3l-1 2l1 3l-1 3v2l-2 3l-1 3v3l1 2v3l1 3v2l-2 3l-1 3v3l-2 2l1 3v5l1 3l-1 3l1 3v10l-1 3v5l-1 3l-1 3v8l-1 3l1 2l-1 3v5l1 3v3l-1 2v14l2 2v3l-1 3l-1 2l-1 3v5l1 3l-1 3l1 2v14l-2 2v3l1 3v10l-1 3l1 2v3l-2 3v8l2 2v3l-1 3v2l-1 3l1 2v3l1 3l-2 2l1 3v10l1 3l-1 3l1 2l-1 3v2l1 3l-1 3l1 2l-1 3l-1 3v7l1 3l-1 3l1 2l2 3l-1 2v5l1 3l-1 2v15l1 3v2l1 3v2l1 3v11l1 3l-1 2l1 2v10l1 2v4l1 3l-1 2v2l-1 2l1 2v3l1 2l1 2v2l1 2v7l1 2v2l1 2v10l1 2l1 2v6l1 2v4l1 2v10l1 2v3l1 2v6l1 2v7l1 2v2l1 1v9l1 2v3l1 2v7l1 1v5l1 2v10l1 1l1 2l-1 1l1 2v3l1 2v6l1 1v14l1 1v1l1 2v1l1 2v3l1 1l-1 1v2l1 1l1 2v8l2 1v5l1 1v6l1 1l-1 1l1 1l1 2v3l1 2v4l1 2v2l1 1v3l-1 1l1 1l1 1v4l1 1v4l1 1v5l1 1v1l1 1v6l1 1v2l-1 1l1 1v3l1 1v2l1 1v3l1 1v2l1 1v1l-1 1v1l1 1l1 1v6l1 1v5l1 1v4l1 1v1l1 1v3l1 1v1l1 1l-1 1l1 1v6l1 1v2l1 1l-1 1l1 1v1l-1 1l1 1v1l1 1v2l1 1v1l1 1l-1 1v1l1 1v4l1 1v1l-1 1l1 1l1 1l1 1v7l1 1v4l1 1v1l1 1l-1 1v1l1 1v2l1 1l1 1v4l1 1v5l1 1v2l1 1v2l1 1v3l1 1v4l1 1v4l1 1v2l1 1l1 1v2l1 1v7l1 1v3l1 1l1 1v2"/>
<path vector-effect="non-scaling-stroke" stroke="#ff5e00" d="M91 231l-2 3v4l-2 3v7l-1 3v4l-1 3v10l-1 4l1 3v4l1 3v3l1 4l-1 3l-1 3l-1 3l-1 4l-1 3v6l-2 3l-1 3v4l2 3l-1 3v3l-1 3v3l-1 3v6l-1 3l-1 3l-1 3v3l-1 3l1 2l-1 3v6l-1 3l-2 3v2l-1 3v6l-1 2v3l-1 3v6l-1 2v3l-1 3l-1 3l-1 3v2l-2 3v8l-1 3v3l-1 3l2 3l-1 2l-1 3l1 3l-1 3l-1 2l-1 3v3l-1 3l-1 2v3l1 3l-1 3l-1 2v6l-1 3l-1 2v9l-1 2l-1 3l-1 3v14l-1 2l-2 3v3l-1 3v2l-1 3v3l-1 2l1 3l-1 3l1 3l-1 2v6l1 2l-1 3l-1 3l-1 3v8l-1 2l-1 3l-2 3l2 3v5l-1 3v5l1 3l-1 2v11l-1 3v8l-1 3l1 2v3l-1 3v2l-1 3l-1 3v2l1 3v3l-1 2l1 3v8l-1 3v5l-1 3l2 2v3l-1 3v2l-1 3v5l1 3l-1 3v8l1 2v3l-1 3v2l1 3l-1 2v6l1 2v3l-2 3l1 2v3l1 3v5l-1 2l1 3v11l-1 2l1 3v2l1 3v3l-1 2l-1 3v2l1 3v5l-1 3l1 3l1 2l-1 3v5l-1 3l1 2l1 3l-1 2l1 3v12l1 3v12l1 2v3l-1 2v3l1 2l1 2v19l1 2v7l1 2l-1 2l1 2v3l1 2v4l1 2v4l1 3v4l1 2v2l1 2v6l1 2v6l1 2v2l1 2v8l1 2v4l1 2v2l1 1v4l1 2v7l1 2v4l1 2l-1 1l1 2v6l1 1v2l1 2v7l1 1v7l1 2v1l1 2v3l1 2l-1 1l1 2v5l1 1v5l1 2v3l1 1v6l1 2v10l1 1v2l1 1l-1 2v1l1 1v2l1 1v6l1 1v1l-1 2l1 1v1l1 2v6l1 1v3l1 1v2l1 1v5l1 1v6l1 1v6l1 1v5l1 1v2l1 2v4l1 1v2l1 1v5l1 1v5l1 1v2l1 1l-1 1l1 1v5l1 1v2l1 1v2l1 1l-1 1l1 1v2l1 1l-1 1v1l1 1v1l1 1l-1 1l1 1v1l1 1v5l1 1v1l1 1l-1 1v1l1 1l-1 1l1 1v2l1 1v3l1 1v3l1 1l-1 1l2 1v6l1 1v2l1 1l-1 1l1 1v2l1 1l-1 1l1 1v1l1 1v6l1 1v6l1 1v3l1 1v1l1 1v3l1 1v3l1 1v1l1 1v3l1 1v3l1 1v1l-1 1l1 1v1l1 1l-1 1l1 1v3l1 1v1l1 1v3l1 1l-1 1l1 1v1l1 1l1 1l-1 1l1 1v4l1 1l1 1v1l-1 1l1 1v3l1 1v2l1 1l-1 1l1 1v1l1 1v1l1 1"/>
<path vector-effect="non-scaling-stroke" stroke="#ff6400" d="M94 216l-1 4l-1 3l-2 4l-2 3l-1 4v3l-1 4v3l-1 4l-1 3v7l-1 3v4l-1 3l-1 4v3l1 3l-1 4v6l-1 4v3l-1 3v3l-2 4v6l-1 3v3l-1 3l-1 3l-1 4l-1 3v6l-1 3l-1 3l-1 3l-1 3v17l-1 3l-1 3l-2 3v2l-1 3l-1 3v6l1 2l-1 3v3l-1 3l-1 2l1 3v6l-1 3l-1 2l-1 3v3l-2 3v3l1 2v6l1 3l1 2l-1 3l-2 3v3l-2 2l-1 3v3l-1 3v8l1 3v5l-1 3l1 3l-2 3v2l-1 3v3l-1 3l1 2v6l-1 2v6l-2 3v5l-2 3v3l-1 2l-1 3v11l-1 3v2l-1 3v3l-1 3l-1 2l-1 3l1 3v13l1 3l-2 3v2l-1 3l1 3v2l-1 3l-1 3l-1 3v5l-2 3l2 2v6l-1 2v8l-1 3v6l-1 2l1 3l-1 3l1 2l1 3v3l-1 2v6l-1 2l1 3l1 3l-1 2v6l1 2v11l-1 3l-1 2l1 3v2l1 3v3l-1 2v14l1 2l-1 3v3l-1 2v5l1 3v8l-1 3v2l2 3v5l-1 3l-1 2v3l1 3v2l-1 3l1 2l-1 3v8l1 3v2l-1 3l1 2v3l1 3l-1 2v3l-1 2l2 3l-1 2v3l-1 3v2l1 3l1 2l1 3l-1 2l1 3v5l1 2v2l-1 3v2l1 3v2l-1 2v3l1 2v5l1 2v7l1 2v14l-1 2l1 2l1 2l1 3v6l1 2v2l1 2v5l-1 2l1 2l1 2l1 2v2l-1 2l1 2l1 2v2l1 2l-1 2l1 2l1 2v2l-1 2l1 2v8l1 2v3l1 2v6l1 2v5l1 2l1 2l-1 2l1 1l1 2v5l-1 2l1 2v7l1 1v2l1 2v7l1 1v3l1 2v3l-1 2l1 1v7l1 1l1 2v4l1 2v5l1 1v7l1 2v1l1 2v5l1 2v4l1 1v7l1 2v5l1 1v2l1 1v1l1 1v2l1 1v1l-1 2v1l1 1v1l1 2l-1 1l1 1l-1 1l1 1l1 2v4l1 2l1 1l-1 1l1 1v7l1 1v4l1 1v1l1 1v8l1 1v1l1 1v2l1 1v6l1 1v2l-1 1l1 1v1l1 1v1l-1 1l2 1l-1 1v1l1 1v1l1 1v3l1 1v3l1 1v3l1 1l-1 1l1 1v3l1 1v1l-1 1v1l1 1v1l1 1v4l1 1v2l1 1l-1 1l1 1v5l1 1v2l1 1v2l1 1v6l1 1v3l1 1l-1 1l1 1v3l1 1v4l1 1v1l1 1l-1 1v1l1 1l-1 1l1 1l2 1l-1 1v1l1 1v2l1 1v6l1 1v3l1 1v2l1 1l-1 1l1 1v2l1 1v1l1 1v2l1 1v2l1 1l-1 1l1 1l1 1v9l1 1l1 1v2l1 1v3l1 1v3l1 1l1 1v4l1 1v1l1 1v1l-1 1l1 1v2l1 1v4l1 1v1l1 1v2l1 1l-1 1l1 1"/>
<path vector-effect="non-scaling-stroke" stroke="#ff6a00" d="M77 258v4l-1 3v4l-1 3v13l-1 4l-1 3v3l-2 3v4l-1 3v22l-1 3l-1 3l-1 3l-1 3v3l1 3v3l1 3l-2 3v3l-1 3l-1 2l-1 3l1 3v3l-1 3v5l-1 3l-1 3v8l-1 3l-2 3v3l1 3l-1 2l-2 3v3l-1 3l1 2v3l-1 3l1 3l-1 3l-1 2l-1 3l-1 3l1 3l-1 2l-1 3v3l1 3v2l-1 3l-2 3v3l-1 2v3l-1 3l-1 3l1 3l-1 2l1 3v3l-1 3v2l-1 3v5l1 3l-2 3v5l-2 3l1 3v3l-1 2v3l-1 3v5l1 3l-2 3l-1 3v5l-1 3l1 2v9l1 2l-1 3v3l-2 2v6l-2 3l2 2v3l-1 3v2l-1 3v8l1 3v3l-3 2v8l-1 3l1 3l1 2v3l-1 3v5l-1 3v2l1 3l-1 3v5l-2 3l1 2l1 3v3l-1 3l-1 2l1 3v10l-2 3l1 3l-1 2l1 3v21l-1 3v13l1 3l-1 2v3l2 3l-1 2v3l1 3v10l-1 3v2l2 3v24l-1 2v5l1 3v5l1 3l1 2l-1 3v5l-1 3v5l1 2v5l1 3v10l1 2v7l1 3v2l-1 3v7l1 2v7l1 2v5l1 2l-1 2v5l1 2l-1 2l1 2v5l1 2v4l1 2v5l1 2v4l-1 2v4l1 2v4l1 2v2l1 2l1 2v2l-1 2l1 2v2l1 2v8l1 2v5l1 2v6l1 2v7l1 2v2l1 1l-1 2l1 2v5l1 2l-1 2l1 1l1 2l-1 2l1 1v7l1 2v1l1 2l-1 2l1 1v2l1 1l-1 2v2l1 1v6l1 2v5l1 1l1 2v1l-1 2v1l1 2v6l1 1v1l1 2v4l1 2v5l1 2v2l-1 2l1 1l1 1l-1 2l2 1v3l1 1v5l1 2v2l1 1v8l1 1l1 1v2l1 1v5l1 1v2l1 1v4l-1 1l1 1v1l1 1l-1 1l1 2v2l1 1v8l1 1l1 1v3l1 1l-1 1l1 1v2l1 1v3l1 1v1l1 1l-1 1v1l1 1v4l1 1l-1 1l1 1v3l1 1l1 1v3l1 1l-1 1l1 1v3l1 1l-1 1l1 1v3l1 1v1l-1 1l1 1v1l1 1l1 1l-1 1v2l1 1v3l1 1v1l1 1v8l1 1v2l1 1v3l1 1l-1 1l1 1v3l1 1v4l1 1v3l1 1v2l1 1l-1 1l1 1v1l1 1v6l1 1v1l1 1v1l1 1l-1 1l1 1v2l1 1v1l1 1l-1 1l1 1v2l1 1v3l1 1v1l1 1l-1 1v1l1 1v2l1 1v3l1 1l-1 1l1 1l1 1v1l-1 1l1 1v2l1 1v2l1 1v2l1 1v3l1 1v4l1 1l-1 1l1 1l1 1v1l1 1l-1 1l1 1v3"/>
<path vector-effect="non-scaling-stroke" stroke="#ff7000" d="M83 252v3l-1 4l-1 3v7l1 3l-1 4v6l-1 4v3l-1 3v7l-1 3l-1 3v3l-1 3v10l-1 3v3l-1 3l-1 3v3l-1 3v9l-1 3v12l-1 2l-2 3l1 3l-1 3v6l-2 2l1 3l-1 3l-2 3l1 3v5l-1 3l-1 3l2 2l-3 3v9l-1 2l-1 3l1 3l-1 3v14l-1 2l-2 3l-1 3v3l-1 2v6l-1 3v2l-1 3v6l-1 2v6l-1 3v5l-1 3v5l-1 3l-1 3v5l-1 3v3l-1 3l-1 2l-1 3v5l-1 3l-1 3l1 3l-2 2l1 3l-2 3l1 3l-1 2l1 3l-1 3v5l1 3l-1 3v5l-1 3l-2 2l1 3v3l1 3v5l1 3l-1 2l-1 3l1 3l-2 2l-1 3l2 3v2l-1 3v3l-1 3v2l2 3l-1 3l-1 2l-1 3v5l-1 3l1 3v2l1 3l1 3l1 2l-2 3l-1 3l-1 2l1 3v8l1 3v2l-1 3l-1 3v5l-1 3v2l-1 3v3l1 2l1 3l-1 2l-1 3v21l1 3l-1 3l1 2v8l1 3v2l-1 3v3l-1 2l1 3l-1 2l-1 3l1 3v2l-1 3l1 2v8l-2 3l2 3v2l1 3l-1 2v3l1 3v2l1 3v10l-1 3l1 2v3l1 2v3l1 2l-1 2v3l1 2l-1 3l1 2v7l1 3v9l1 2l-1 3v2l1 2v5l1 2v7l1 2v5l1 2l-1 2l1 2v6l1 3v6l1 2v4l1 2l1 2v2l1 2v8l1 2v8l1 2v4l1 2v6l1 2v5l1 2l-1 2v2l1 1v4l1 2v3l1 2v2l1 2l-1 1l1 2v7l1 2v1l1 2v5l1 2l-1 1l1 2v5l1 2v1l1 2v4l1 2v8l1 1v2l-1 1l1 2v1l1 2v1l1 2v6l1 1v8l1 2v3l1 1v1l1 2v8l1 1v3l1 1v6l1 2v1l1 1v5l1 1v4l1 1v3l1 1v1l1 1v7l1 1v3l1 1v6l1 1v4l1 1v1l-1 1l1 1v2l1 1v4l1 1v1l-1 1l1 1v1l1 1v3l1 1v5l1 1l1 1l-1 1l1 1v4l1 1v3l1 1v3l1 1v3l1 1v1l-1 1l1 1v1l1 1l-1 1l1 1l-1 1l1 1v1l1 1v5l1 1v1l1 1v4l1 1v1l1 1l-1 1v3l1 1v3l1 1v1l1 1l-1 1l1 1v3l1 1v1l1 1v1l-1 1l1 1v5l1 1v3l1 1l-1 1l1 1v1l1 1l-1 1l1 1v1l1 1v4l1 1v2l1 1v3l1 1v2l1 1l1 1v5l1 1v4l1 1v1l1 1v1l-1 1l1 1v3l1 1v2l1 1l1 1v4l1 1v1l1 1v4l1 1v2l1 1v1"/>
<path vector-effect="non-scaling-stroke" stroke="#ff7600" d="M87 254v4l-1 3l-1 3v7l-1 4l1 3v7l-1 3v3l-2 3v7l-1 3v7l-1 3v3l-2 3l-1 3v6l-1 3v3l-1 3v6l-1 3v3l-2 3l1 3l-1 3v3l-1 3l-1 2l-1 3v3l1 3l-1 3l-1 3l-1 2l-1 3v3l-1 3v5l1 3l-1 3v5l-1 3v3l-2 3l-1 3l1 2l-1 3v3l-1 3l-1 2v12l-1 2l-1 3v6l-1 2l-1 3v11l-1 3l-1 3l-1 2v3l1 3v3l-1 2l-2 3v3l1 3v5l-1 3l1 3l-3 2l-1 3v6l-1 2l-1 3l1 3l-1 2l-1 3v3l-1 3v2l-1 3l2 3l-1 2l-1 3v6l-1 2l1 3l-1 3l-1 2l-1 3l1 3l1 3l1 2l-1 3l-1 3v2l-1 3v8l-1 3l-1 3l1 2l-1 3l1 3l-1 2v6l-1 2v11l-1 3l1 3v5l-1 3v2l-2 3l1 3l1 2l1 3l-1 3v5l-2 3l1 2l1 3l-2 3v2l1 3v21l-1 3v5l-1 3v2l-1 3l1 3v2l1 3l-1 2l2 3l-1 3l1 2l-1 3l2 3l-1 2v3l-1 3v5l1 2l-1 3v10l1 3l-1 3v8l1 2v13l-1 3v2l1 3l1 3l-1 2l1 3l-1 2v3l1 2l1 3v5l-1 2l1 3v2l1 3l1 2l-1 3l1 2l-1 2v7l1 3l1 2l-1 2v3l1 2v9l-1 3l2 2v4l1 2l-1 3l1 2v2l1 2v2l-1 3l1 2v6l1 2v4l1 3v4l1 2l1 2l-1 2l1 2v2l1 2v6l1 2v4l1 2v5l1 2v6l1 2v4l1 1v6l1 2v7l1 2v3l1 2v2l1 1l-1 2l1 2v5l1 2v8l1 2v1l1 2l-1 1l1 2l1 2v8l1 1v5l1 1v9l1 2v1l1 2v10l1 1v3l1 1l1 2l1 1l-1 2v2l1 2l-1 1l1 1v4l1 2v4l1 1v1l1 2v3l1 2v7l1 1v4l1 1v1l1 1v4l1 1v5l1 1v7l1 1v2l1 1v6l1 2v3l1 1v2l1 1v5l1 1v2l1 1v2l-1 1l1 1v3l1 1l1 1v1l-1 1v1l1 1l1 1v7l1 1v2l1 1v7l1 1l1 1v3l1 1v3l1 1v3l1 1l-1 1v1l1 1v4l1 1v1l1 1v6l1 1v4l1 1v2l1 1v3l1 1v5l1 1l-1 1l1 1v1l1 1v3l1 1v3l1 1v2l1 1v5l1 1v3l1 1v2l1 1v2l1 1l-1 1v1l1 1v2l1 1v3l1 1v1l1 1v2l1 1v2l1 1v6l1 1v1l1 1l1 1l-1 1v1l1 1v1l1 1l-1 1v1l1 1v1l1 1v3l1 1v3l1 1v4l1 1v1l1 1v3l1 1v2l-1 1v1l1 1"/>
<path vector-effect="non-scaling-stroke" stroke="#ff7c00" d="M91 214l-1 3l-2 4l-1 3l-1 4l-1 3l-1 4v3l-1 4l-1 3v3l-1 4l-2 3l-1 4v10l-1 3l-1 4v3l-1 3l-1 4l-1 3v3l-1 4l1 3l-1 3l1 3l-1 3l-1 4v6l-1 3l-2 3v18l-1 3v3l-1 3l-1 3l-1 3v3l1 3v3l1 3l-1 2v3l-2 3l-2 3l-1 3l-2 2v3l1 3v6l1 2l-1 3l-1 3l-1 3v2l-2 3v3l-1 3v3l1 2l-1 3v3l-2 3l-1 2v3l1 3l-1 3l-1 3v8l-1 3l-2 2v3l1 3v11l-1 3l-2 2v3l-1 3v11l1 3l-1 2l1 3l-1 3l-1 3v2l1 3l-1 3l-1 3l-2 2v8l-1 3l1 3v3l-2 2v6l-1 2l-1 3l-1 3l1 3l-1 2l2 3v5l1 3v3l-1 3l-1 2l-1 3l-1 3l1 2l-1 3v3l2 3v2l1 3v3l-1 2l-1 3l-1 3l1 2l-1 3l-1 3l-1 2l2 3l-1 3v2l-1 3l2 3v5l-1 3v5l1 3l-2 3v2l1 3l-1 3l-1 2l2 3v16l-1 2v3l-1 3v16l-1 2l1 3l-1 3v2l1 3v3l-1 2v3l1 2l-1 3v3l1 2l1 3l-1 3l1 2l-1 3l1 2l-1 3v8l1 3v5l1 2v3l-1 3l-1 2v8l-1 3l1 2l1 3v5l1 3l-1 2v3l1 3v2l-1 3v7l1 3v5l1 2v3l-1 2v5l1 2v3l1 2l-1 3v2l1 2v3l-1 2l1 2v3l1 2v2l1 3l-1 2v2l-1 2v3l1 2v7l1 2v8l1 3l1 2v6l1 2v8l1 2v2l1 3v6l1 2v5l1 2v6l1 2v10l1 2l1 1l1 2l-1 2v2l1 2l1 2v3l-1 2v4l1 1v2l1 2v3l1 2v5l1 2v2l1 1l-1 2l1 2l1 1v2l-1 2l1 1v3l1 2v6l1 2v3l1 2v6l1 1v3l1 2l-1 1v2l1 1v6l1 2v4l1 1v3l1 2v1l1 1l-1 2l1 1v7l1 1v2l1 1v3l1 1l-1 1l1 1l1 2v6l1 1v2l1 1v3l1 2v3l1 2l-1 1l1 1v6l1 1v2l1 1v5l1 1v1l1 1l-1 1v1l1 1v3l1 1v5l1 1v4l1 1v5l1 1v2l1 1v2l1 1v6l1 1v2l1 1l-1 1l1 1l1 1l-1 1v2l1 1v1l1 1l-1 1l1 1v4l1 1v6l1 1v1l1 1v5l1 1v1l1 1v3l1 1v2l1 1v3l-1 1l1 1v4l1 1v1l1 1v1l-1 1v1l1 1v2l1 1l1 1l-1 1l1 1l-1 1l1 1l1 1v1l-1 1v1l1 1l1 1v2l1 1v4l1 1v3l1 1v3l1 1v3l1 1v3l1 1v2l1 1v3l1 1v1l1 1v5l1 1v1l-1 1l1 1l1 1v3l1 1l1 1v2l-1 1l1 1v4l1 1v1l1 1l1 1v5l1 1l1 1v3l1 1v4l1 1v2"/>
<path vector-effect="non-scaling-stroke" stroke="#ff8300" d="M93 225l-2 3l1 4l-2 3v4l-1 3l-2 4v7l-1 3l1 4l1 3v3l-1 4v3l-1 4l-2 3l1 3l1 3v4l-1 3v7l-1 3l-1 3l1 3l-2 3l1 3v4l-1 3v3l-1 3l-1 3v3l-1 3l-1 3v3l-1 3v3l1 3l-1 3l-1 3l-1 3l1 2v3l1 3l-3 3v3l-2 3v2l-1 3v3l-1 3v3l-2 2v6l-1 3v2l1 3l-1 3v3l-1 3l-1 2l-1 3v3l-2 3l-1 3v5l-2 3v3l1 2v3l-1 3v5l-3 3l1 3v5l-1 3v3l1 3l-1 2l-1 3l-2 3l-1 3v5l1 3l-1 3l-1 2l-1 3l-1 3l-1 3v2l1 3l-1 3v3l1 2l-1 3v3l-2 3v2l-1 3l-2 3l1 2l-2 3l-1 3l1 3l1 2v3l2 3l-2 2v3l-1 3v3l1 2v8l-2 3l1 3l-1 3l-1 2v3l-1 3l1 2v8l1 3l-1 3v3l-1 2v3l1 3l-1 2l1 3v3l-2 2v6l-1 2l1 3v3l-1 2l1 3v3l-1 2l1 3l-1 3v2l1 3l-1 3l1 2v6l-1 2v3l-1 3l-1 2v6l1 2v6l-1 2v6l-1 2v8l-1 3l2 2l-1 3v8l1 3l-1 2v19l1 2v3l-1 3v13l1 2l-1 3l1 2v3l-1 3v2l1 3v5l-1 3v5l1 2v11l1 2v3l1 2l-1 3v5l1 2l-1 3l1 2l1 2l-1 3v5l1 2l-1 2l1 3l1 2l-1 3l1 2v4l1 3l1 2v20l1 2v3l1 2l1 2v4l1 2v13l1 2l1 2v4l-1 2l1 2l1 2v2l1 2v6l1 2l-1 2l1 2v3l1 2v2l1 2v2l1 2v4l-1 1l1 2v4l1 2v2l1 1v2l1 2v10l1 2l-1 2l1 2v1l1 2v3l1 2v7l1 1l1 2v8l1 1v7l1 1v2l1 1v6l1 2v6l1 1v1l-1 2v1l1 2v3l1 1v1l1 2v5l1 2v5l1 2l1 1v1l1 1v2l-1 1l1 1v6l1 1v4l1 1v1l1 1v3l-1 1l1 1v3l1 1v7l1 1v2l1 1v4l1 1v6l1 1v3l1 1v1l1 1l-1 1l1 1v6l1 1l-1 1l1 1l-1 1l1 1v2l1 1l-1 1l1 1v1l1 1v4l1 1v1l1 1l-1 1v1l1 1v1l1 1v2l1 1l-1 1v2l1 1v2l1 1v3l1 1v5l1 1v1l1 1l-1 1v2l1 1v4l1 1v2l1 1v1l1 1v1l-1 1l1 1v3l1 1v2l1 1v5l1 1v3l1 1v5l1 1v5l1 1v2l1 1v3l1 1v1l1 1v7l1 1v1l1 1v2l1 1l-1 1l1 1v1l1 1v3l1 1v2l1 1l-1 1l1 1v1l1 1v5l1 1v3l1 1v1l1 1l1 1l-1 1l1 1v5l1 1v1l1 1v2l1 1v5l1 1l1 1v5l1 1v1l1 1v7l1 1v1l1 1"/>
<path vector-effect="non-scaling-stroke" stroke="#ff8900" d="M86 247v3l1 4l-2 3v7l-1 3l1 4v16l-1 4v3l-2 3l1 4l-1 3v6l-2 3v10l-1 3l-1 3v3l-1 3v3l1 3v3l-1 3l1 3l-2 3l-1 3l-1 3v5l-2 3v3l1 3l-1 3l1 2l-1 3l-1 3l-1 3l-1 3l-1 2v3l-1 3l1 3l-1 3l-1 2l1 3l-1 3l-1 3v2l-1 3l1 3l-1 3l-1 3l-2 2v3l-1 3v3l-1 2v9l-1 2v3l-1 3l-1 3l1 3l-2 2l-2 3l2 3l-2 3l-1 2v11l-1 3v6l1 2l-1 3l-2 3v5l-1 3l-1 3l-1 2l1 3l-1 3v3l1 2l-1 3v3l-1 3l-2 2v11l-1 3v5l-1 3l1 3l1 2l-1 3v6l1 2l-1 3l-1 3l-1 2l-1 3l-1 3l1 2l1 3l-1 3v3l-1 2l1 3l1 3l-1 2v6l-1 2l1 3l-1 3v2l-1 3l-1 3v2l1 3v3l1 3l-1 2v8l-1 3l-1 3l-1 2l1 3v5l-1 3v5l1 3v10l1 3v3l-1 2l-1 3v3l-1 2v3l-1 3l3 2l-2 3l1 3v2l1 3v3l-1 2v3l-1 2v3l1 3l-1 2l1 3v8l-1 2l1 3l-2 3l1 2l1 3l-1 3l1 2l-1 3l1 2v11l-1 2l2 3l-1 3v7l1 3v5l1 3v7l-1 3l-1 2l1 3v5l1 2v3l2 2v10l-1 2v8l1 2v2l1 3v4l1 2v7l1 2l-1 3v2l1 2l-1 2v3l1 2l1 2v2l-1 2l1 2v3l1 2v4l1 2v2l1 2v4l1 2l-1 2l1 3v2l1 2v9l1 2l1 2v4l1 2v8l1 2v3l1 2v4l1 2v2l-1 1l1 2v6l1 1v4l1 2v5l1 2l1 1v9l1 1v4l1 1v4l1 1v7l1 1v5l1 1v7l1 1v5l1 1v3l-1 2v1l1 1l1 2v3l1 1l-1 2l1 1v3l1 1v4l1 2v4l1 1v4l1 2v3l1 2l-1 1l1 1v2l1 1v5l1 1v6l1 2v3l1 1v4l1 1l-1 1l2 1l-1 1v2l1 1v3l1 1v1l1 2v3l1 1l-1 1l1 1v6l1 1v5l1 1v2l1 1v5l1 1v1l-1 1v1l1 1v2l1 1v1l1 1v2l1 1v3l1 1v3l-1 1l1 1v3l1 1v3l1 1v1l1 1v3l1 1v1l-1 1v1l1 1v3l1 1v1l1 1v7l1 1v3l1 1v2l1 1v1l1 1v1l-1 1l1 1v1l1 1v8l1 1l-1 1l1 1v2l1 1v2l1 1v3l1 1v1l1 1v3l1 1v4l1 1v4l1 1v3l1 1v1l1 1v2l1 1l-1 1l1 1v2l1 1l-1 1l1 1l1 1v4l1 1v3l1 1v1l1 1v5l1 1l1 1l-1 1l1 1l-1 1l1 1v4l1 1v2l1 1v1l1 1v1"/>
<path vector-effect="non-scaling-stroke" stroke="#ff8f00" d="M84 249v4l-1 3l-1 3v4l-1 3l1 4v3l1 3l-1 4v6l-1 4l-1 3v3l-2 4v3l-1 3l-1 3l1 3v10l-1 3v3l-1 3v12l-2 3l-1 3l-1 3l1 3l-1 3v3l-1 2l-1 3v3l-1 3v6l-1 2l-1 3v9l-1 2l-1 3v6l-1 2l-1 3l-1 3v8l-1 3l1 3l-1 3l-1 2l-1 3v6l-1 3l-1 2v3l-1 3v3l-1 2v6l-1 3v2l-1 3l1 3l-1 3l-1 2v3l-1 3v3l-1 2l-1 3v6l-1 2v3l-1 3v11l-1 3v2l-1 3l-1 3l1 3v8l-1 2l-2 3l1 3l-2 3v5l1 3v2l-1 3v6l1 2l-2 3l1 3v2l-1 3l-1 3l1 3v2l-1 3l-2 3v2l-1 3v3l1 2v6l1 3l-1 2l1 3v5l-1 3v5l-1 3l1 3l-1 2l2 3l-2 3v5l-1 3l-1 2v3l1 3v5l-1 3v2l1 3v3l-1 2l1 3l-1 3l1 2l-1 3l-1 3v13l1 3v5l-1 3v2l1 3v5l-2 3l1 2l1 3v5l1 3l-2 3v7l1 3v8l-1 3l1 2l-1 3l2 2l-1 3l1 3v2l-1 3v5l1 3v5l1 2l-1 3v3l-1 2v3l1 2l-1 3l1 3v2l1 3l1 2l-1 3v2l-1 3v7l1 3l1 2v5l1 2v3l1 2l-1 2v5l1 2v5l1 2v7l-1 3v6l1 3v4l1 2v2l1 2v7l1 2v6l1 3v4l1 2v6l1 2v2l1 2v10l1 2v2l1 2v11l1 2v4l1 2l1 1v8l1 2v7l1 1v4l1 2v8l1 2v2l1 1v5l1 2v3l-1 2l1 1v2l1 2v3l1 1v5l1 2v1l1 2l-1 1v2l1 1v5l1 1v9l1 1v3l1 2v5l1 2v5l1 1v2l1 1v3l1 1v5l1 2v6l1 1l1 2v5l1 1v6l1 1v2l1 2v4l1 1l1 1v8l1 1v5l1 1v3l1 1l-1 1v1l1 1v1l1 1v3l1 1l1 1l-1 1v4l1 1v1l1 1v6l1 1v3l1 1v1l-1 1l1 1v2l1 1v4l1 1v4l1 1v4l1 1l1 1v2l1 1v1l-1 1v1l1 1v1l1 1v1l-1 1v1l1 1v4l1 1l1 1v1l-1 1l1 1l1 1v2l1 1l-1 1v1l1 1v4l1 1v5l1 1v4l1 1l1 1v1l-1 1l1 1v4l1 1v1l1 1v2l1 1l1 1v2l-1 1v2l1 1v2l1 1v1l1 1v3l1 1v2l1 1v3l1 1v4l1 1v4l1 1v1l1 1l1 1v3l-1 1l1 1l1 1v3l1 1v2l1 1v4l1 1v1l1 1v1l1 1l-1 1v2l1 1l1 1v3l1 1v2"/>
<path vector-effect="non-scaling-stroke" stroke="#ff9500" d="M84 247l-1 3v7l-1 3l-1 4v3l-1 3l-1 4v20l-1 3v3l-1 3v4l-1 3l-2 3v3l1 3l-1 3l-1 3v7l-1 3v6l-2 3l-1 3l-1 3l-1 3v2l1 3v12l-1 3v5l-2 3l-1 3l-1 3l-1 2l1 3l-2 3v6l-1 2v6l-1 3v11l-1 3l-1 2l-2 3l1 3v5l-1 3v3l-1 3l-2 3v11l-2 2l1 3l1 3l-1 3l-1 2l2 3l-1 3v5l-3 3v8l-2 3v3l-1 3l1 2l1 3l-2 3l1 2l-1 3v3l-1 3v2l-1 3v3l-1 3v16l-1 3l1 2l-1 3l-1 3l-1 3l1 2l-1 3v5l1 3v5l-1 3v8l-1 3v3l-1 2v3l-1 3l1 2v3l-1 3v11l-1 2l-1 3l-1 3l1 2l-1 3l1 3l1 2v14l-1 2l1 3l-1 3l-1 2v8l-1 3l1 3v2l1 3v3l-1 2l-2 3l1 3l1 2l-2 3l2 3l-1 2l-2 3v2l1 3v3l1 2v11l-1 3v2l-1 3v10l1 3l1 3v2l-1 3v2l1 3l1 3l-1 2l-1 3v13l1 3v7l-1 3v5l1 3l1 2l-1 3l1 3l1 2l-1 3v2l1 3l-1 2l2 3v10l1 2v3l1 2v2l-1 3l1 2v7l-1 3l1 2v2l1 3l-1 2l1 2v5l-1 2l1 2v5l1 2v9l1 2v2l1 2v5l1 2v8l1 2l-1 2l1 2l1 2v8l1 2v4l1 2v6l1 2v6l1 2v7l1 2v6l1 2v3l1 2v2l1 2v7l1 1v5l1 2v4l1 1v10l1 2v2l1 1v7l1 1v11l1 1l1 2v10l1 2v1l1 2v4l1 2l-1 1l1 1v3l1 2l1 1v7l1 1v4l1 1v3l1 1l-1 2l1 1v3l1 1v1l-1 1l1 2v3l1 2l1 1v1l1 1v6l1 1v3l1 1v5l1 1v4l1 1v7l1 1v5l1 1v1l1 1v8l1 1v1l1 1v2l1 1l-1 1v1l1 1v2l1 1v5l1 1v5l1 1v2l1 1v2l1 1v1l-1 1l1 1v2l1 1l-1 1v1l1 1l1 1v3l1 1v6l1 1v4l1 1v1l1 1v5l1 1v3l1 1v3l1 1v6l1 1l1 1l-1 1l1 1v4l1 1l-1 1l1 1v4l2 1v5l1 1v1l1 1v3l1 1v1l1 1v4l1 1v4l1 1v2l1 1v4l1 1v2l1 1l-1 1l1 1l1 1v4l1 1v1l1 1l-1 1v1l1 1v3l1 1v2l1 1l1 1v4l1 1"/>
<path vector-effect="non-scaling-stroke" stroke="#ff9b00" d="M89 221l-1 3l-1 4l-1 3l-1 4l-2 3l-1 4l-1 3l-1 4v7l-1 3v3l-1 4l-1 3v4l1 3l-1 3v4l-1 3v3l-1 4l-1 3v13l-1 3v3l-1 3l-1 3v6l-1 4l-1 3l1 3v3l-2 3v6l-1 2v3l-2 3l-1 3l1 3v9l-2 2v3l-2 3v6l-1 2v6l-1 3l-1 3l1 2l-2 3l1 3v3l-1 2v3l-2 3l1 3v11l-2 3l-1 2l-2 3v6l-1 3l2 2l-1 3v3l-1 3v5l-1 3v3l-1 2l-1 3v3l-1 3l1 2l1 3l-2 3v3l-1 2v6l-1 3l1 2l-2 3v8l-1 3l1 3l-1 2l-2 3v6l-1 2l-1 3l1 3l-1 3l1 2l-1 3v5l1 3l-1 3v8l-1 3l-1 2l-1 3v3l1 3v10l-1 3v5l-1 3v3l1 2l-1 3v6l1 2l-2 3l1 3l-2 2v3l1 3v8l-1 2l1 3v8l-1 3l-1 2l1 3v11l-1 2v3l1 3l-1 2l1 3l1 3l-1 2v8l-1 3l1 3v2l-1 3v3l-1 2l-1 3l2 2v3l1 3l-1 2v6l2 2v3l-1 3l1 2l-2 3v2l1 3l-1 3v2l-1 3l2 3v2l-2 3v2l1 3v8l1 2v3l-1 3l1 2v6l-1 2l-1 3l1 2v3l-1 3l1 2l1 3v5l1 2v10l1 3v12l-1 3l1 2l-1 2v3l1 2v5l1 2v3l1 2v4l1 3v11l1 2l-1 2l1 3l-1 2l1 2v2l1 2v7l1 2v2l1 2v6l1 2v3l-1 2l1 2v2l1 2l-1 2l1 2l1 2v8l1 2v1l1 2v2l-1 2l1 2l1 2l-1 2l1 2v5l1 2v6l1 2v7l1 1v2l1 2v5l1 2v3l1 2l-1 2l1 1l-1 2v3l1 2l1 2v3l1 2v8l1 1v6l1 2v1l1 2v12l1 1v5l1 1v4l1 2v3l1 1v1l-1 2l1 1v2l1 1v1l1 2v6l1 2v1l1 1l1 2v6l1 1v4l1 1l-1 1l1 2l1 1l-1 1l1 1v5l1 1v5l1 1v2l1 1l1 2v5l1 1v5l1 1v1l-1 1l1 1v4l1 1v1l1 1l-1 1l1 1v3l1 1l1 1l-1 1v2l1 1v2l1 1v1l1 1v1l-1 1l1 1v2l1 1v5l1 1v2l1 1v1l-1 1l1 1v3l1 1v3l1 1v3l1 1v3l1 1v6l1 1v2l1 1v5l1 1v4l1 1v3l1 1l1 1l-1 1v2l1 1v5l1 1v2l1 1v5l1 1v2l1 1v3l1 1l-1 1l1 1l1 1v1l1 1v5l1 1v4l1 1v2l1 1v3l1 1v2l1 1l-1 1l1 1v2l1 1v3l1 1l1 1v2l1 1l-1 1l1 1v3l1 1l1 1v3l1 1l-1 1v1l1 1l1 1v3l1 1v4l1 1v1l1 1v3l1 1l-1 1l1 1v2l1 1v2l1 1"/>
<path vector-effect="non-scaling-stroke" stroke="#ffa400" d="M93 215l-2 3l-1 4l-1 3l-1 4l-1 3l-2 4v3l-2 4v7l-1 3v4l-1 3v7l-1 3v14l-1 3l1 3l-1 4l-1 3v6l-1 4v9l-1 3v3l-1 3l-1 3v3l-1 4v3l-1 3l1 3l1 2l-2 3l-1 3l-1 3v3l1 3l-2 3l1 3v3l-1 2v6l-1 3l-1 3l-1 2v14l-1 3l-1 3l-2 3v5l-2 3v6l1 2l-2 3l1 3l-2 3l-1 3v2l-1 3l-1 3v8l-1 3v3l-1 2l-1 3v3l-1 3l-1 2v6l-1 3v5l-1 3l-1 3v5l-1 3v8l-1 3v3l-1 2l1 3l-1 3v5l-1 3v5l-1 3l-2 3l1 3v5l-1 3v3l1 2l-1 3v11l1 3v2l-1 3v8l-1 3v5l-2 3l1 3v2l-1 3l1 3l-1 2v8l-1 3l1 3l-1 2v3l1 3l-1 3v16l1 2l-1 3l-1 3v2l-1 3v8l1 3l-1 2l-1 3l-1 3l1 2l-2 3l1 3l1 2l-1 3l2 2l-1 3l1 3l-1 2l-1 3l1 3l-1 2l1 3l-1 3v2l-1 3v5l1 3v2l-1 3l-1 3l1 2l2 3v3l-1 2v3l1 3l-1 2v3l1 2v6l-1 2l-1 3v8l1 2v6l-1 2l2 3v5l-1 3v5l2 2v3l-1 3v5l1 2l-1 3l1 2v5l1 3l1 2v12l1 3v2l-1 3v7l1 2l-1 2l1 3l-1 2l1 2l1 2l1 3v6l1 3l-1 2v2l1 2v7l1 2v4l1 2l-1 3l1 2l1 2v2l1 2v4l-1 2l1 2v2l1 2v4l1 2v2l1 2v4l-1 2l1 2l1 2v6l1 2l-1 2l1 2l1 1l-1 2l1 2v4l1 2l-1 1l1 2v4l1 2v3l1 2v5l1 2v3l1 2v7l1 2v6l1 2v3l1 2v4l1 2l-1 2l1 1v6l1 2l1 1v3l-1 2l1 1v2l1 1v6l1 2v4l1 1v2l-1 1l1 2l1 1l-1 2v1l1 1v2l1 1v4l1 1v3l1 1v7l1 1v5l1 2v3l1 2v2l1 1v3l1 1v7l1 1v5l1 1v1l1 1v6l1 1v2l1 1l-1 1l1 1v2l1 1l-1 1l1 1l1 1v8l1 1v3l1 1l-1 1v1l1 1v1l1 1v2l1 1v6l1 1v3l1 1v4l1 1v2l1 1v5l1 1v3l1 1v4l1 1v1l1 1l-1 1v1l1 1v5l1 1v1l1 1l-1 1l1 1v3l1 1v2l1 1l-1 1l1 1v3l1 1l-1 1l1 1v3l1 1v2l1 1l-1 1l1 1v3l1 1v1l1 1v4l1 1v1l1 1v3l1 1l-1 1v1l1 1v1l1 1v1l1 1v4l1 1v1l1 1l-1 1l1 1v1l1 1l-1 1l1 1v3l1 1v1l1 1v5l1 1v3l1 1v1l-1 1l1 1l1 1l1 1v3l1 1v4l1 1v2l1 1v2l1 1v1l1 1l-1 1v2l1 1v2l1 1v2l1 1v1"/>
<path vector-effect="non-scaling-stroke" stroke="#ffad00" d="M87 239l-1 4v3l-2 3v4l-1 3l-1 4l1 3v10l1 4l-1 3l-1 3v10l-1 4v3l-2 3l-1 3v7l-1 3v15l-1 3l-1 3l-2 3l-1 3l1 3v9l-1 3v6l-1 3l-1 2v9l-1 3l-1 2l1 3l-2 3v3l1 3v5l-2 3v3l-1 2l-1 3l1 3l-1 3l-1 3l-1 2v9l-2 2v6l-1 3v11l-2 3l1 2l-2 3l-1 3v3l1 2l-1 3l-2 3l2 3l-2 2l1 3l-2 3v3l-1 2v9l-1 2l1 3v3l-3 3v8l-1 3l-1 2l-1 3l-1 3v2l-1 3l1 3l-1 3l1 2l-1 3l1 3l-1 3v2l-2 3v3l-1 2l-1 3l2 3v3l1 2v3l-1 3l-1 2l-1 3v3l-1 2v3l-1 3v3l-1 2v11l1 3v2l-2 3v3l1 3v5l1 3v2l-1 3l-1 3v13l-1 3v5l1 3l-1 2l1 3v19l-1 2v6l1 2l-1 3v3l1 2l-1 3l-1 2l-1 3v3l1 2l-1 3l1 3v5l1 3v2l-1 3l1 2l-2 3v3l1 2v3l1 3l1 2l-1 3v2l-1 3l1 3l-1 2l2 3l-1 3v2l-1 3l1 2l1 3v3l-1 2v5l-1 3l1 3v2l1 3l-1 2v3l1 3v7l1 3v5l-1 2v10l1 3v2l1 3v9l1 3v2l-1 2v3l1 2v9l1 2v5l1 2v7l1 2l-1 2v5l1 2v2l1 2v4l1 3v4l1 2v6l1 2v4l1 2l-1 2l2 2v2l-1 2l1 2l1 2v4l1 2v6l1 2v1l1 2l-1 2l1 2v7l1 2l1 2l-1 2l1 2v1l1 2v9l1 2v3l1 2l-1 2l1 1l1 2v10l1 2v3l1 2v4l1 2v9l1 2l1 1v2l-1 1l1 2v1l1 2v9l1 1l1 1v6l1 2l-1 1l1 1v4l1 2l1 1v4l1 2v1l-1 1l1 2v2l1 1l-1 2l1 1v1l1 2v2l1 1l-1 2v1l1 1v1l1 2v4l1 2v1l1 1v8l1 1l1 2v4l1 1v5l1 1v4l1 1v7l1 1v1l1 1v1l-1 1l1 1v1l1 1v2l1 1l-1 1v1l1 1v5l1 1v2l1 1v2l1 1v4l1 1v7l1 1v1l1 1v4l1 1v7l1 1v1l1 1v2l1 1v5l-1 1l1 1v1l1 1v2l1 1v3l1 1v3l1 1v2l1 1v2l1 1v6l1 1l-1 1l1 1v2l1 1v1l1 1l-1 1v1l1 1v4l1 1v1l1 1v3l1 1v3l1 1v1l1 1v5l1 1v1l1 1v5l1 1v1l1 1v4l1 1l1 1l-1 1v1l1 1v2l1 1v3l1 1v2l1 1l-1 1l1 1v1"/>
<path vector-effect="non-scaling-stroke" stroke="#ffb700" d="M83 240l-1 4l-2 3v4l-1 3l-1 3v11l-1 3v3l-2 4v3l-3 3l1 4v3l1 3l-1 4v3l-1 3l-1 3l-1 3v7l1 3v6l-1 3l-1 3l-1 3v3l-1 3l1 3l-1 3l1 3v3l-1 3v6l-1 3l-1 2l-1 3v3l-1 3v5l1 3l-1 3l1 3l-2 3v2l-1 3v3l-1 3l-2 3v11l-1 2v12l-1 2l-1 3l-1 3l-1 3l1 2v3l-2 3v3l-1 2l-1 3v6l-1 3l-2 2v6l1 3v5l-2 3v3l-1 2v3l1 3l-1 3v2l-1 3l-1 3v11l-2 2l1 3l-1 3v3l-1 2l1 3v3l-1 3v2l-2 3l1 3l1 2l-1 3v6l-1 2l1 3l-1 3v19l-1 2l-1 3v8l1 3l-1 3v8l-1 2v11l1 3v2l-2 3v5l1 3l-1 3l1 2l-2 3l1 3l1 2l-1 3v3l1 2l-1 3v3l-1 2v3l-1 3v2l1 3v5l-1 3l-1 3v13l1 3l-1 2v6l-2 2l1 3v5l1 3v2l-1 3l1 3v2l1 3l-1 3l-1 2l1 3v2l-1 3v3l1 2v3l-1 3v2l1 3l1 2l-1 3v5l-1 3l1 2l1 3l-1 3l1 2v5l1 3l-1 3v2l-1 3l1 2v6l1 2v5l-1 3l1 2v3l1 2v5l1 3l-1 2v5l1 2v10l1 2v5l1 2v14l1 2v4l-1 3l1 2v4l1 2v5l1 2v8l1 2v5l1 2l1 2v6l1 2v6l1 2l-1 2v2l1 2l1 2v9l1 2l1 2l-1 2l1 2v3l-1 2l1 2l1 2v5l1 2v5l1 2v4l1 1v2l-1 2v1l1 2v2l1 2v5l1 1v2l1 2v3l-1 1l1 2v2l1 1v3l-1 2l1 1v2l1 2v3l1 1v5l-1 1l1 2v1l1 2v1l1 2v5l1 2v4l1 2v7l1 1v5l1 2v1l1 1v2l1 1v6l1 2v1l1 1v5l1 2v3l1 1l-1 2l1 1v2l1 1v4l1 1v4l1 1l1 1l-1 1v2l1 1l-1 2l1 1v3l1 1l1 1l-1 1l1 1v2l1 1l-1 1v2l1 1v2l1 1v2l1 1l-1 1v2l1 1v1l1 1v2l1 1l-1 1l1 1v5l1 1v1l-1 1l1 1v1l1 1v2l1 1l1 1l-1 1v2l1 1v1l1 1v1l1 1l-1 1l1 1v6l1 1v7l1 1v2l1 1v1l1 1v1l-1 1l1 1v1l1 1l-1 1l1 1v2l1 1v1l1 1l-1 1v1l1 1v4l1 1v2l1 1v8l1 1l1 1v2l1 1v2l1 1v1l-1 1l1 1l-1 1l1 1l1 1v3l1 1v1l1 1v5l1 1v1l1 1v5l1 1v2l1 1v4l1 1l1 1v4l1 1v4l1 1v1l1 1v4l1 1v2l1 1l-1 1l1 1v1l1 1v4l1 1v1l1 1v3l1 1v1l-1 1l2 1v1"/>
<path vector-effect="non-scaling-stroke" stroke="#ffc000" d="M99 228v4l-2 3v4l-1 3l-1 4v10l-2 3v4l-2 3v4l-1 3l-1 3v7l-1 3v4l-1 3v3l-1 3l-1 4v3l-1 3l-2 3l-2 3l-2 3l-1 4l-1 3l-2 3l1 3l-2 3l-1 3v3l-1 3v3l-1 3l-2 3l-1 3l-1 3l-1 2l-1 3l-1 3v3l-1 3l-2 3l-1 2v3l-1 3v3l-1 3v5l-1 3l-2 3l-1 3v2l-3 3l-1 3l-1 3v5l-2 3l-1 3v3l-2 2v6l-2 3l-1 2l-1 3v6l-2 2l-2 3l-1 3v3l-1 3l1 2l1 3v3l-1 3v5l-1 3l-1 3v5l-1 3l-1 3l-1 2v3l-1 3v3l1 2v6l-1 2v3l-1 3l1 3l-1 2v3l-1 3l1 3l-2 2v6l-2 2l2 3v14l1 2v3l1 3v3l-1 2v3l-1 3l-1 2l2 3l-2 3l1 3v2l1 3v3l-1 2v3l1 3l1 2l-1 3v5l1 3l-2 3l1 3v2l-2 3v3l1 2v11l-1 3v2l1 3v3l-2 2l1 3l-1 3l1 2l-1 3v5l1 3v8l-1 3l1 2l-1 3v8l-1 2v3l1 3l-1 2l-1 3l1 3v2l1 3l-1 3v2l1 3l2 2l1 3v5l-1 3v3l-1 2l1 3l1 3l-1 2l1 3v2l1 3l1 3l-1 2l1 3v5l1 3v5l1 3l-1 2l1 3v5l1 3l1 2l-1 3l1 2l1 3v8l-1 2l1 3l1 2l1 3l-1 2l1 3v2l1 2l-1 3v5l1 2v10l1 2l1 2v3l-1 2l1 2v9l1 3v4l1 2v5l1 2v11l1 2v2l1 2v7l1 2v6l1 2v8l1 2l1 2v4l1 2l-1 2v2l1 2l-1 1l1 2l1 2v8l1 2v2l1 1v8l1 1v9l1 2v5l1 2v3l1 2v2l-1 1l1 2v5l1 2v3l1 2v4l1 2v3l1 2v4l1 2v6l1 2l-1 1l1 2l-1 1l1 2v2l1 2v3l1 1v7l1 2v4l1 1v2l1 1v3l1 1v4l1 1v7l1 1v1l1 2v1l-1 1l1 1v5l1 2l1 1v1l-1 1v3l1 1v1l1 1v3l1 1v3l1 1v2l1 1v5l1 1l-1 1v2l1 1v2l1 1v3l1 1v1l-1 1l1 1l1 1v2l1 1l-1 1v1l1 1v7l1 1v2l1 1v2l1 1v4l1 1v3l1 1v6l1 1v4l1 1l1 1v6l1 1v1l1 1v4l-1 1l2 1v1l-1 1l1 1v2l1 1v2l1 1v2l1 1v4l1 1l-1 1v1l1 1v2l1 1l-1 1l1 1v2l1 1v2l1 1v4l1 1v4l1 1v1l-1 1v1l1 1l1 1v2l1 1v3l1 1v2l1 1v2l1 1v3l1 1v5l1 1v1l1 1l-1 1l1 1v2l1 1v3l1 1v1l1 1v3l1 1v4l1 1v3l1 1v2l1 1v4l1 1v2"/>
<path vector-effect="non-scaling-stroke" stroke="#ffc900" d="M98 223v3l-1 4l-1 3l-1 4l-1 3l-2 4v7l-1 3v7l-1 3l-1 4l-2 3l-1 4l-1 3l-1 3l2 4l-1 3v3l-1 3l-1 4l-1 3l-2 3l-2 3l-2 4l-2 3l-1 3v3l-1 3v3l-1 3l-1 3l-1 3l-2 3l1 3l-2 3l-1 3l-2 3v3l-1 3l-2 3l-1 3l-2 3l-1 3l-1 2l-1 3v6l-1 3v2l-1 3l-1 3l-1 3l-2 3l-1 2l-2 3v6l-1 2v3l-1 3l1 3l-2 3l-2 2l-2 3l-1 3v3l-1 2l-1 3l-2 3l1 3l-1 3v5l-2 3l-1 3l-2 2l1 3v6l1 2l-2 3l1 3l-2 3v8l1 3l-1 2l-1 3v3l1 3l-1 2l-1 3l-1 3l-2 3v5l1 3v5l1 3v5l-2 3l-1 3v3l-1 2v3l1 3l-1 3l-1 2v3l2 3l1 2l1 3v6l1 2l-1 3v3l1 2l-1 3v3l-1 2l1 3l1 3l-2 3v2l1 3v3l-1 2l1 3v16l1 3v3l-1 2l-1 3l1 3v10l-1 3l1 3v5l-1 3l-1 2l1 3v5l1 3l-2 3l1 2v11l-1 3v5l-1 2v6l1 2v6l1 2v3l-1 3v2l1 3v3l1 2l-1 3v2l1 3l1 3l-1 2v3l1 3v2l2 3v2l-1 3v5l2 3v16l-1 2l2 3l1 2v6l1 2v11l1 2l-1 3l1 2v10l1 3l1 2v3l-1 2v3l1 2v5l1 2v10l1 2v9l1 3v4l1 3v11l1 2v6l1 3v2l1 2v6l1 2v7l1 2v4l1 2v4l1 2v6l1 2l-1 2v2l1 2v2l1 2v3l1 2v2l1 2v9l1 2v2l1 2l-1 2l1 1l-1 2l1 2v7l1 2v1l1 2v2l1 2v5l1 1v13l1 2l1 2v6l1 2l-1 1l1 2v4l1 2v1l1 2v3l-1 1l1 2v3l1 1v5l1 1v7l1 1v5l1 1v3l1 1v5l1 2v4l1 1v1l1 2v3l1 2l-1 1l1 1l1 1v6l1 2v3l1 1v5l1 1v3l1 1v4l1 1v4l1 1v3l1 1l-1 1v1l1 1v5l1 1v2l1 1v1l1 1l-1 1l1 1v3l1 1v4l1 1v5l1 1v5l1 1v1l1 1l-1 1v1l1 1l1 1l-1 1l1 1l-1 1l1 1v1l1 1l-1 1l1 1v2l1 1l1 1v5l-1 1l1 1v1l1 1v4l1 1v2l1 1v3l1 1v5l1 1v5l1 1v3l1 1v2l1 1l1 1v6l1 1v3l1 1v2l1 1v1l1 1l-1 1v1l1 1v3l1 1v4l1 1v2l1 1v2l1 1v1l1 1l-1 1l1 1v1l-1 1l1 1v1l1 1v1l1 1v1l1 1v1l-1 1l1 1v2l1 1v1l1 1v2l1 1l-1 1l1 1v2l1 1v4l1 1v3l1 1v3l1 1v2l1 1l1 1l-1 1v1l1 1v3l1 1v1l1 1v5l1 1v3"/>
<path vector-effect="non-scaling-stroke" stroke="#ffd200" d="M100 228l-1 3l-1 4l-2 3l-1 4v3l-1 4v3l-1 4v3l-2 4v6l-2 4v3l1 3l-1 4l-1 3l-2 3l-2 4l-1 3l-2 3l-1 3v4l-2 3v3l-1 3l-1 3l-1 3l-2 3l-1 4v3l-1 3l-1 3l-2 3l-1 3l-2 3v3l-1 3l-1 2l-1 3l-1 3l-2 3l-1 3l-1 3l-1 3l-1 2v6l-1 3v3l-2 2v3l-2 3l-1 3l-2 3v11l-1 2l-1 3l-1 3l-1 3l-1 3l-1 2l-1 3v3l-2 3v8l-3 3l-1 3v2l-1 3v8l-1 3v3l-2 3v8l1 3l-1 2l-1 3v3l-1 3v5l-1 3v5l1 3v3l-2 3v2l-1 3v8l1 3l-1 3l-1 2l1 3v3l-1 3l-2 2l1 3l-1 3v2l1 3l-1 3l1 3v5l-1 3l-1 2v3l1 3v3l1 2v8l-1 3v3l1 2l-1 3v8l2 3l-1 3v5l-1 3l1 2v3l1 3l1 2l-2 3l1 3l-1 2v6l-1 2l1 3v3l1 2v3l-1 3l1 2v6l-1 2v3l-1 3v2l1 3l-1 3l1 2v3l-1 3v2l1 3l-1 3v2l1 3l-1 3v5l1 3l1 2v8l1 3v8l1 2l-1 3v5l1 3v5l1 3v15l1 3v3l1 2v5l1 3v5l-1 3l2 2l-1 3v5l1 3v2l1 3v15l1 2l1 3l-1 2v5l1 3l-1 2l1 2l1 3v2l-1 3l1 2l-1 2l1 3v4l1 2v3l-1 2l1 2v3l1 2v2l-1 2l1 2v3l1 2v2l1 2v9l1 2v4l1 2l1 2v11l1 2l1 2l-1 2l1 2v2l1 2l1 2l-1 2l1 2v2l1 2l-1 1l1 2v2l-1 2l1 2v2l1 2l1 2v2l-1 1l2 2v4l-1 2l1 2v1l1 2v9l1 2v1l1 2v2l-1 2l1 1v2l1 2v3l1 2l1 1l-1 2l1 2v9l1 2v3l1 2v3l1 1l-1 2v3l1 1v4l1 1v4l1 2v4l1 2v4l1 1v6l1 1v2l1 1l1 2l-1 1v7l1 1v4l1 1v4l1 1v3l1 1v4l1 1v3l1 1v8l1 1v4l1 1v2l1 1v3l1 1v5l1 1v2l-1 1l1 1v1l1 1v5l1 1v1l1 1v2l-1 1v1l1 1v2l1 1v3l1 1v4l1 1v3l1 1v4l1 1v5l1 1l1 1l-1 1l1 1v6l1 1v1l1 1v3l1 1v5l1 1v3l1 1v6l1 1v1l1 1v1l1 1l-1 1v2l1 1v2l1 1l-1 1l1 1l1 1l-1 1v1l1 1v2l1 1l-1 1l1 1v2l1 1v2l-1 1v1l1 1l1 1v1l1 1v2l1 1v2l1 1v4l1 1v2l1 1v3l1 1v2l1 1l-1 1v1l1 1v1l1 1v4l1 1v2l1 1v3l1 1v4l1 1v2l1 1v2l1 1v3l1 1v3l1 1v2l1 1v3l1 1v2l1 1l1 1v1"/>
<path vector-effect="non-scaling-stroke" stroke="#ffdc00" d="M98 241l-1 4v7l-2 3v4l-1 3l-1 4v13l-1 3v4l-1 3l-2 3l-1 4l-1 3l-1 3v3l-1 3l-1 4l-1 3l-1 3l-1 3l-1 3l-1 3l-1 3v6l-2 3v3l-2 3v3l-1 3l-2 3l-1 3l-1 3v3l-1 3v2l-2 3v3l-2 3v3l-2 3v2l-2 3l1 3l-1 3l-2 2l-1 3l-1 3l-1 3v3l-1 2l-1 3l-2 3v3l-1 3v2l-1 3l-1 3l-1 3l-1 2l-1 3l1 3l-1 3l-1 2l-2 3l-2 3l-1 3l-1 3l-2 2l1 3l1 3l-1 3v2l-2 3v3l1 3l-1 2l-2 3l-1 3l1 3v8l1 3v5l-1 3l-1 3l-1 2l-2 3v8l1 3l-1 3l1 2l-1 3l2 3l-2 3l1 2v3l-2 3l-1 2l1 3l-1 3l-1 3l1 2l1 3v5l-1 3l1 3l-1 3l1 2l1 3v3l-2 2v8l1 3l-1 3l1 3v2l-1 3v8l-1 3l2 2v3l1 3v2l-1 3l-1 3l1 2l-1 3l-1 3l-1 2v16l2 3l1 3l-1 2v6l-2 2l-1 3v3l1 2l-1 3v8l-1 3l-1 2v3l1 3l-1 2v3l1 3v5l1 2v3l1 3v2l1 3l-2 3l1 2v3l1 3v5l1 2l-1 3l1 3l1 2v6l1 2v11l1 2v5l1 3v5l1 3v2l1 3l1 3l-2 2l1 3v2l1 3v5l1 3v20l1 2v5l1 2v3l1 2v2l1 3l-1 2l1 2v16l2 3l-1 2v2l1 2v11l1 2l-1 2l2 3v4l1 2v2l1 2v10l1 2v7l1 2v3l1 2l1 2v8l1 2v2l1 2v7l1 2l-1 2l1 2v7l1 2v2l1 2l1 1v2l-1 2v3l1 2v2l1 1v6l1 1v9l1 1l1 2v6l1 2v1l-1 2l1 2v3l1 1v8l1 1v3l1 2v1l1 2l-1 1l1 2v3l1 1l-1 1l1 2v6l1 1v3l1 1v3l1 1v2l1 1l-1 1l1 2v7l1 2v5l1 1v4l1 1v1l1 1v5l1 2v1l1 1l-1 1v1l1 1v4l1 1v2l1 1l-1 2l1 1v3l1 1v7l1 1v1l1 1v7l1 1v5l1 1v1l1 1v3l1 1v7l1 1l1 1v3l1 1v3l1 1l-1 1v1l1 1v2l1 1v6l2 1l-1 1v2l1 1v2l1 1v5l1 1v2l1 1v1l1 1v7l1 1v6l1 1v2l1 1v1l1 1v6l1 1v3l1 1v3l1 1l1 1v4l1 1l-1 1l1 1v2l1 1v2l1 1v3l1 1v5l1 1l-1 1l1 1l1 1v3l1 1v4l1 1v1l1 1l-1 1l1 1v1l1 1v5l2 1v3l1 1v2l1 1l-1 1l1 1v4l1 1"/>
<path vector-effect="non-scaling-stroke" stroke="#ffe500" d="M101 224l-1 3l-2 4l-1 3l-1 4l-1 3l1 4v3l-1 4l-1 3v3l-1 4l-1 3l-1 4v3l-1 3v4l-1 3l1 4l-1 3l-2 3l-1 3l-2 4l-1 3v3l-1 3l-1 3v4l-1 3l-1 3l-2 3l-2 3l-1 3l-2 3l1 3l-2 3l-1 3l-1 3l1 3l-1 3l-2 3l-1 3l-1 3v3l-2 2l-1 3l-1 3v3l-1 3v3l-2 2v6l-1 3v2l-2 3l-1 3l-1 3l-1 3l-1 2l-1 3v6l-2 3l-1 2v3l-1 3l1 3l-1 2l-2 3l-1 3v3l-1 3l-2 2v6l-1 3l-2 2v3l-2 3v14l-1 2v3l-1 3l-1 3l1 2v3l-1 3v8l-1 3l1 3l-2 2v6l-1 3l-1 2l1 3v3l1 2l-1 3l-2 3l-1 3l-1 2v17l2 2l-3 3v3l1 3v5l-1 3l1 2l-1 3l1 3v5l-1 3v5l-1 3v3l1 2l1 3v3l-1 2v3l-1 3l1 2v11l-1 3v8l1 3v2l1 3v5l-1 3v5l-1 3v3l-1 2l2 3v5l1 3v5l-2 3v8l1 3l-1 2v3l2 2l-1 3l1 3v2l-1 3l2 3l-1 2v3l-1 3v2l1 3l-1 2l-1 3l2 3v5l1 3l1 2l1 3v3l-1 2v5l2 3v3l-1 2v3l1 2l1 3l-1 3v5l1 2l1 3v11l1 2v3l1 2l-1 3v2l2 3v8l-1 2l1 3v2l1 2v3l-1 2v3l1 2v3l1 2v9l1 3l-1 2v2l1 3v2l-1 2v3l1 2l1 2v2l1 3v4l1 2l-1 3l1 2v2l1 2v13l2 2v2l1 2v6l1 2v4l1 2v10l1 2v2l1 2v2l1 2l-1 2l1 2v2l1 2v7l1 2v2l-1 2l1 1v6l1 2v5l1 2l1 1v9l2 2l-1 1l1 2v5l1 2v6l1 2v9l1 2v3l1 2v3l1 1v5l1 1v9l1 2l-1 1l1 1v2l1 1v2l-1 1v1l1 2l1 1l-1 2l1 1v1l1 2v6l1 2v2l1 2l1 1l-1 1v4l1 1v4l1 1v2l1 1v6l1 1v3l1 1v5l1 1v2l1 1v1l-1 1l1 2l1 1v2l1 1l-1 1v3l1 1l1 2l-1 1l1 1v2l1 1l-1 1l1 1v4l1 1l1 1l-1 1l1 1l-1 1l1 1v2l1 1v3l1 1v2l1 1v5l1 1v4l1 1v2l1 1v3l1 1v1l-1 1l1 1v3l1 1l-1 1v1l1 1v1l1 1v4l1 1v1l1 1v6l1 1v2l1 1v1l-1 1l1 1l1 1v6l1 1v4l1 1v4l1 1v1l1 1v5l1 1v4l1 1l1 1l-1 1v1l1 1l1 1v4l1 1l1 1v4l1 1v4l1 1l-1 1l1 1v5l1 1v2l1 1v3l1 1l1 1v2l1 1v3l1 1v4l1 1v2l1 1v1l1 1v5l1 1l1 1l-1 1l1 1"/>
<path vector-effect="non-scaling-stroke" stroke="#ffee00" d="M96 236l-1 3l-1 4v3l-1 4l-1 3l-1 3v4l-1 3l-1 4v3l-1 3l-1 4l-1 3v7l-1 3l-1 3l-2 4l-1 3l-1 3l-1 3l-1 3l-2 4v3l-2 3l-1 3l-1 3l-1 3l-2 3l-2 3l-1 3v3l-2 3v3l-1 3l-1 3l-1 3l-1 3l-1 3l-2 3l-1 3l-2 2l-1 3l-1 3l-1 3v3l-1 2l-1 3l-1 3l-1 3l-2 3v2l-1 3l-1 3l1 3v3l-2 2l-1 3v3l-1 3l-1 2l-2 3v6l-2 3l-1 2v3l-1 3l-1 3l-2 2l-1 3l-1 3v3l-1 2v3l-1 3l1 3l-1 2v3l-1 3v3l-1 2v3l1 3v8l-1 3l-1 3v5l-1 3v11l1 3v8l-1 3l1 2l-2 3l-1 3l1 2v3l-1 3v3l1 2v6l-2 2l1 3v3l1 3l1 2l-1 3l2 3l-2 2v3l1 3l-1 3v2l1 3v3l-1 2l1 3v13l-1 3l1 3l1 3l1 2v6l-1 2l1 3l1 3l-1 2l-1 3l-1 3l1 2l-1 3l1 3v2l-1 3l1 3l-1 2v6l-1 2l1 3v3l2 2l-1 3l-1 3l1 2l-1 3l-2 3l2 2v3l-1 3l-1 2l1 3l-1 3l-1 2v3l1 2l1 3v5l1 3v5l1 3l1 3l-1 2l1 3l-1 2v6l1 2v8l1 3v8l1 2l1 3v8l1 2v3l-1 3l1 2v8l2 3l-1 2v5l1 3v2l1 3l1 2l-1 3l1 3v4l1 3v10l-1 2l1 3v2l1 2v3l-1 2l1 2v5l1 2l-1 3v2l1 2l1 3v4l-1 2l1 3l1 2v2l-1 2l1 2v3l1 2v2l1 2v6l1 3l-1 2l1 2v2l1 2v2l-1 2v2l1 2l-1 2l1 2l1 2l1 2v2l1 2v10l1 2v4l1 2v5l1 2l1 2v9l1 2v7l1 2v3l1 2v7l1 2v5l1 1v7l1 2v3l1 2v4l1 2v1l1 2v8l1 1l-1 2v3l1 1v5l1 1v3l1 2v4l1 1v2l1 1v3l-1 1l1 2v1l1 2l-1 1l1 1l1 2v6l1 2v1l1 1v3l1 1v5l1 1v5l1 2v1l-1 1l1 1l1 2v1l-1 1l1 1l1 1v3l1 1v6l1 1v2l1 1v3l1 2v5l1 1v6l1 1v4l1 1v5l1 1l1 1l-1 1v1l1 1v3l1 1v2l1 1v3l1 1v3l1 1v1l-1 1l1 1v5l1 1l1 1l-1 1l1 1v1l-1 1l1 1l1 1v5l1 1v3l1 1v6l1 1v1l1 1v2l1 1v7l1 1v1l1 1v2l1 1v2l-1 1v1l1 1l-1 1v1l1 1l1 1v4l1 1v2l1 1v4l1 1v1l1 1l-1 1l1 1v3l1 1v1l1 1v3l1 1v5l1 1l1 1v2l1 1v3l1 1l1 1v2l1 1v5l1 1v3l1 1v3l1 1l-1 1l1 1v1l1 1v3l1 1v2l1 1v2l1 1v4"/>
<path vector-effect="non-scaling-stroke" stroke="#f6f000" d="M100 231l-1 3l-1 4l-1 3v7l-1 4l1 3l-1 3v7l-1 4l-2 3v4l1 3v3l1 4l-1 3l-2 3l-2 3l-1 4l-1 3v13l-2 3l-2 3v3l-1 3l-1 3l-1 3l1 3l-1 3l-1 3l-1 3l-2 3v3l-1 3l1 3l-1 3v3l-1 2v3l-2 3l-2 3v3l-2 3l-1 2l-2 3l1 3v6l-1 2l-2 3l-2 3l-1 3l-1 2v3l-1 3v3l-1 3l-2 2v3l-2 3v3l-2 2v6l-1 3l-2 3l-2 2l-1 3v3l-1 3l-2 2v3l-1 3v3l-1 2l-1 3v8l-1 3v3l-1 3l-1 2l-1 3v3l1 3l-2 2v3l-1 3v5l-2 3l1 3l-1 3l-1 2l1 3v3l-1 2v11l-1 3l-1 3v16l1 3l-1 3l1 2l-1 3v16l2 3l-1 3v2l-2 3l1 3v2l1 3v14l-1 2l-1 3l2 3l-1 2v6l2 2l-1 3l-1 3l-1 2v3l-1 3l1 2v3l-1 3v2l2 3l-1 3l-1 2l1 3v3l-1 2l1 3l-1 3v5l1 3l-2 2l1 3l-1 3l-1 2l1 3l1 2v3l-1 3l1 2v8l1 3l-1 3v2l1 3l-1 2l1 3v13l1 3l1 3v10l1 3l-1 2l1 3v10l1 3v5l2 3v5l1 3v2l-1 3v2l1 3v7l1 3l1 3l1 2l-1 3v7l1 2l-1 3l1 2l-1 3l1 2v2l1 3v4l-1 3v4l1 3v2l1 2l1 3l-1 2v2l1 2v12l1 2v2l1 2v2l1 2l-1 2l1 3l-1 2v2l1 2l1 2v4l1 2l1 2v12l1 2v2l1 2v4l1 2l1 2l-1 2v2l1 2l1 2v5l1 2v6l1 2v5l1 2v2l1 1l-1 2l1 2v2l1 1v9l1 2v3l1 2l-1 1l1 2v3l1 2l1 2l-1 1l1 2v6l1 2v5l1 1v9l1 2l1 1v6l1 2v5l1 2v5l1 2v1l1 2l-1 1l1 1v2l1 1l1 1v8l1 2v6l1 1v3l1 1v6l1 2v1l-1 1v1l2 1v3l1 1v1l-1 1l1 2v2l1 1v2l1 1v3l1 1l-1 1l1 1v9l1 1v4l1 1v4l1 1v4l1 1v2l1 1l-1 1l1 1v2l1 1v1l-1 1l1 1v3l1 1v3l1 1v2l1 1v1l-1 1l1 1v2l1 1v1l1 1l-1 1v1l1 1v3l1 1v6l1 1v3l1 1v2l1 1v4l1 1v2l1 1v6l1 1v4l1 1v5l1 1v1l1 1v4l1 1v5l1 1l1 1v2l1 1l-1 1v1l1 1v3l1 1l1 1v4l1 1v4l1 1v2l1 1v1l1 1l-1 1v1l1 1v2l1 1l-1 1l1 1v1l1 1v3l1 1v4l1 1v2l1 1l-1 1l1 1l1 1l1 1l-1 1l1 1v3l1 1v2l1 1v3l1 1v3l1 1v3l1 1v1l1 1v3l1 1v6"/>
<path vector-effect="non-scaling-stroke" stroke="#ecf200" d="M103 223v3l-2 4l-1 3l-1 4l-1 3v4l-1 3v7l-1 3v7l-1 4v3l-1 3v4l-1 3v7l-1 3l-1 3l-2 3l-2 4l1 3l-1 3v3l-1 3l-1 4l-1 3l-2 3l-1 3l-2 3l-1 3l-1 3l-1 3l1 3l-1 3l-1 3l-1 3l-1 3l-1 3l-1 3l-1 3l-1 2l-1 3v3l1 3l-2 3l-2 3v2l-3 3v6l-1 3l1 2l-2 3l-1 3v3l-2 2v3l-2 3l-1 3l-2 3l-1 2v3l-2 3v3l-1 3l-1 2l1 3l-1 3v3l-2 2l-2 3v3l-1 3l-1 2l-1 3l-1 3l-1 3v5l-1 3l-1 3l1 2v3l-1 3l2 3l-1 2l-2 3v3l1 3l-2 2v3l-1 3l1 3v2l-1 3v3l-1 3v2l-1 3l-1 3l1 3v2l-1 3l1 3l-1 2l1 3l-2 3v5l-1 3l1 3v2l-1 3v16l1 3l1 3v3l-2 2l-1 3v3l1 2l-1 3v3l2 2v11l-1 3v3l-1 2l-1 3l-1 3l3 2v6l-1 2v14l-1 2v3l1 3v2l-1 3v3l1 2l-2 3v11l1 2l1 3l-1 3v5l-1 3v8l-1 2l1 3v2l-1 3l2 3l-1 2v6l1 2v8l2 3v16l1 2v5l1 3l-1 3l1 2v6l1 2l1 3l-1 2l1 3v3l1 2v3l1 2l-1 3v5l-1 3l2 2v6l1 2l1 3v15l1 2l1 3l-1 2v5l1 2l-1 3l1 2l1 2l-1 3v2l-1 2l1 3v4l1 3l1 2l1 2v22l1 2l1 3v2l1 2v10l1 2l1 3v4l1 2v14l1 2v2l1 1v6l1 2v2l1 2v13l1 2l1 2v5l1 2v3l1 2v7l1 2v3l1 2v2l1 1l-1 2l1 2v4l1 2v2l1 1v7l1 1v8l1 2v4l1 2v1l1 2l-1 1v2l1 1v5l1 1l-1 1l1 2l1 1l1 2l-1 1v3l1 1v3l1 2v2l1 2l-1 1l1 1v6l1 1v1l1 2v5l-1 1l1 1l1 2v2l1 1v5l1 1v3l1 1v2l1 2v1l-1 1l1 1v5l1 1v4l1 1v6l1 1v1l1 1v4l1 2v5l1 1v6l1 1v3l1 1v2l1 1v5l1 1v4l1 1v2l1 1v2l-1 1v1l1 1v1l1 1v1l1 1l-1 1v1l1 1v3l1 1v1l1 1v3l1 1v2l-1 1l1 1v1l1 1v4l1 1l-1 1v2l1 1v2l1 1v2l1 1v5l1 1l1 1l-1 1v2l1 1l1 1v7l1 1v1l1 1v2l1 1l-1 1v1l1 1v1l1 1v2l1 1v4l1 1v3l1 1v2l1 1v3l1 1v1l-1 1l1 1v2l1 1v1l1 1v5l1 1v3l1 1v2l1 1l-1 1l1 1l1 1v2l1 1v4l1 1l1 1v3l1 1v4l1 1v3l1 1"/>
<path vector-effect="non-scaling-stroke" stroke="#e3f400" d="M101 227l-1 3l-2 4v3l-1 4l-1 3v11l-1 3v4l-1 3v3l-2 4l1 3l-1 3v4l-1 3l-1 3l-1 4l-1 3l-1 3l-1 3l-1 4l-1 3l-2 3l-1 3l-1 3v3l-2 4l-2 3v6l-1 3l1 3l-2 3l-1 3l-1 3l-1 3l-1 3l-1 3l-1 2l-1 3l1 3l-2 3l-1 3l-1 3l-2 2l-1 3v9l-2 2l1 3l-2 3l-1 3l-1 3l-2 2l-2 3l1 3v3l-2 2v3l-1 3l-2 3l-1 3l-1 2l-1 3l-1 3l-1 3l1 2l-1 3l-1 3l-1 3v3l-2 2l-1 3l-1 3l-1 3v5l1 3l-1 3l-1 2v3l-1 3l1 3l-1 2l-1 3v3l-2 3l1 2v3l-1 3v3l-2 2v3l-1 3l1 3v2l1 3v5l-2 3l-2 3l1 3l-1 2l-1 3v3l1 3v2l1 3l-1 3v2l-1 3v6l1 2l1 3v5l-2 3v11l1 3l-1 2l1 3l1 3l-2 2l1 3l1 3v2l-1 3l-1 3l1 3l1 2v6l-1 2v8l-1 3l1 3v2l1 3l-1 3l1 2l-1 3v3l-2 2l1 3l-1 3l1 2v3l1 3v2l-1 3l1 3v2l-1 3v3l-1 2l1 3v11l-1 2l1 3l-1 2l1 3v8l1 3l-1 2v6l1 2l1 3l-1 2l1 3v5l1 3v3l-1 2v3l1 2v11l1 3l1 2l-1 3v2l1 3v3l1 2l1 3v5l1 3l-1 2v5l1 3l-1 3l1 2v3l1 2v3l1 2l-1 3l1 2v10l1 3v4l1 3l-2 2l1 3l1 2v2l-1 3l1 2v5l1 2v4l1 3l-1 2v4l1 3v2l2 2v2l-1 2v3l1 2l1 2l1 2v17l1 2v2l1 2v2l1 2v6l1 2v2l1 2v2l-1 2l2 2v4l1 2l-1 2l1 2v9l1 2v3l1 2v4l1 2v1l1 2l-1 2l1 2v5l1 2v3l1 2v8l1 2v5l1 1v4l1 1v5l1 2v1l1 2v9l1 2v10l1 1v5l1 1v7l1 2v1l1 1v3l1 2v1l-1 1l2 2v2l1 2l-1 1v1l1 2v5l1 1v1l1 2v5l1 1v6l1 1v2l1 2l-1 1l1 1v2l1 2v3l1 1v1l1 1l-1 2v1l1 1v6l1 1v1l1 2v3l1 1v6l1 1v5l1 1v2l1 1l-1 1l2 1v1l-1 1v3l1 1v1l1 1v2l1 1v4l1 1v6l1 1v4l1 1v2l1 1v5l1 1v1l1 1v4l1 1v3l1 1v6l1 1v2l-1 1v1l1 1l1 1v1l1 1v2l1 1v4l1 1v5l1 1v3l1 1v3l1 1v4l1 1v2l1 1v1l1 1v2l1 1v4l1 1v2l1 1l1 1l-1 1l1 1v4l1 1l-1 1l1 1v1l1 1v4l1 1v1l1 1v1l-1 1l1 1v3l1 1v3l1 1v2l1 1v2l1 1v1"/>
<path vector-effect="non-scaling-stroke" stroke="#d9f600" d="M102 218l-2 3v4l-1 3l-1 4l-1 3v4l-2 3l-1 4l-1 3v14l-2 3l-1 4v3l-2 3v7l-1 3v4l-2 3l-2 3l-2 3l-1 4l-1 3v3l-1 3l-1 3l-1 3l-2 4v3l-1 3l-2 3v3l-2 3v3l-2 3l-2 3v3l-1 3l-1 3l-2 3v2l-1 3l1 3l-1 3l-2 3l-1 3l-1 2v6l-2 3v5l-2 3v3l-2 3l-2 3l-1 2l-1 3l-1 3v14l-2 3l-2 2l-1 3l-1 3l-1 3v5l-1 3l-2 3l-1 3v2l-2 3l-2 3v5l1 3l1 3v5l-1 3v3l-2 3v2l-1 3v6l1 2v6l-2 3l-1 2v9l1 2v3l-1 3v2l1 3l-1 3l-1 3l1 2l-1 3v11l-1 3l1 2l-1 3v3l-1 3l1 2l1 3v3l1 2l-1 3v3l-1 2l1 3v3l-1 3l1 2v3l1 3l-1 2l-1 3l1 3v5l1 3l-2 2l1 3l1 3v3l-1 2v3l1 3l-1 2l-1 3v3l-1 2l1 3v3l1 2l-1 3l1 3l-1 2l1 3l-1 3l-1 2l1 3l-1 3l-1 2l1 3v5l1 3v3l-1 2l1 3l-2 3v7l-1 3l1 3v2l-1 3l1 3v5l1 3v5l1 3l-1 2l1 3v2l1 3v3l-1 2l1 3l1 3v2l1 3v5l1 3v5l-1 2l2 3l-1 3l-1 2l1 3l1 3l1 2l-1 3l1 2v6l1 2l1 3v8l-1 2v8l1 2l1 3v12l1 2l-1 3l1 2v7l1 3v2l1 2v12l1 2v9l1 2v3l1 2v2l1 2v2l-1 3l1 2v6l1 2v2l1 2v5l1 2l-1 2v2l1 2l1 2v6l1 2v10l1 2l1 2l-1 1l1 2v6l1 2v4l1 2l1 1l-1 2l1 2v5l1 2v7l1 2l1 2v5l1 2l-1 1l1 2v9l1 1v3l1 2l1 2v8l1 1v6l1 2v2l1 1l-1 2v3l1 1l1 2v1l-1 2l1 1v2l1 1l-1 1v2l1 1v7l1 2v1l1 2v2l1 2v1l-1 1l1 2l1 1v8l1 1v2l1 1v1l-1 1l1 2v1l1 1l1 2v1l-1 1v2l2 2v3l1 2v3l1 1v5l1 1v4l1 1v1l1 1l-1 1v1l1 1v6l1 1v2l1 1v2l1 1v3l1 1l-1 1v3l1 1l1 1v2l1 1l-1 1v1l1 1v4l1 1v4l1 1v4l1 1v2l1 1v7l1 1v2l1 1l-1 1l1 1l1 1v6l1 1v3l1 1v2l1 1v3l-1 1l1 1v2l1 1v2l1 1v2l1 1v5l1 1v2l1 1v6l1 1l1 1l-1 1l1 1l-1 1l1 1v3l1 1l1 1l-1 1l1 1v3l1 1l1 1v3l1 1v5l1 1v2l1 1v2l1 1v5l1 1v3l1 1l-1 1l1 1v1l1 1l-1 1l1 1v1l1 1v1l1 1v1l1 1v7l1 1v3l1 1v3l1 1v2l1 1v1l1 1v1l1 1l-1 1l1 1v3l1 1v2"/>
<path vector-effect="non-scaling-stroke" stroke="#d0f700" d="M106 207l-1 4v3l-1 4l-1 3l-1 4l-2 3l-1 4l-1 3l-1 4v3l1 4l-1 3l-1 3l-2 4v10l-2 4v3l-1 3l-1 4v10l-1 3v3l-1 3l-2 4l-1 3l-1 3v3l-1 3l-1 3l-1 4v3l-1 3l1 3l-1 3l-1 3v3l-1 3l-1 3l-1 3l-1 3v3l-2 3v2l-1 3l-1 3l-1 3l1 3v8l-2 3l-1 3l-1 3l1 2l-1 3l-1 3v6l-2 2l-1 3v3l1 3v2l-1 3l-1 3v11l-1 3l-2 3v2l-1 3l-1 3v8l1 3l-1 3l-1 3v2l-1 3v3l1 3v2l-1 3l-1 3v3l-1 2v3l-1 3l1 3l-1 2v3l-1 3v5l1 3l-1 3v2l-1 3v11l-1 3l-1 3l-1 2v3l1 3l-1 2v14l-1 3v3l-1 2l1 3v5l-1 3l1 3l1 2l-2 3v3l-1 3l-1 2v16l-1 3l-1 3v2l-1 3l1 3v3l1 2l-1 3l-1 3l-1 2l-1 3l1 3l-1 2v6l1 2l-1 3l1 3l-1 2v3l-1 3l1 2v6l1 2v8l-2 3v3l-1 2v19l1 2l-1 3v3l1 2l-1 3l-1 3l1 2v3l-1 3l1 2v13l1 3v47l-1 3l1 2l1 3l1 2l-1 3v2l1 3l-1 3v2l-1 3l1 2v8l2 2l-1 3v4l1 3l-1 2v3l1 2v5l1 2v5l1 2l-1 2v5l1 2v2l-1 3l1 2v2l1 2v9l1 2v9l1 2v2l1 2v7l1 2v4l1 2l1 2v6l1 2v6l1 2l-1 2l1 2v5l1 2v2l1 2v8l1 1v6l1 2l-1 1l1 2v4l1 2v3l-1 2l1 2l1 1l-1 2l2 2v10l1 2v1l1 2v5l1 1v8l1 2v4l1 2v5l1 1l1 2v9l1 1l-1 1l1 2v1l1 2v4l-1 1l1 2l1 1v4l1 2v2l1 2l-1 1l1 1v6l1 1v5l1 1v3l1 1v2l1 1v5l1 1v7l1 1v5l1 1l-1 1l1 1l1 2v6l1 1v3l1 1v5l1 1v1l1 1l-1 1v1l1 1v3l1 1l-1 1v1l1 1v3l1 1v1l1 1l-1 1l1 1v3l1 1v1l-1 1l1 1v1l1 1v4l1 1v2l1 1v4l1 1v3l1 1v4l1 1v2l1 1v7l1 1v1l1 1v3l1 1v2l-1 1l1 1l1 1v5l1 1v4l1 1v2l1 1v2l1 1v3l1 1l-1 1l1 1l-1 1v1l1 1l1 1v4l1 1v1l1 1v5l1 1v5l1 1v2l1 1v2l1 1l1 1l-1 1v1l1 1v2l1 1v1l1 1l-1 1l1 1v3l1 1v5l1 1v2l1 1v3l1 1v3l1 1v3l1 1v1l1 1v3l1 1v3l1 1v2l1 1v4l1 1v2l1 1v3"/>
<path vector-effect="non-scaling-stroke" stroke="#c6f900" d="M99 218l-2 4v7l-1 3l-1 4l-2 3l-1 4l-1 3l-1 4l-1 3v3l-2 4v7l-1 3l-1 3l-2 4l-1 3l-1 3l-1 4l-2 3l-1 3l-1 4v3l-1 3l-2 3l-1 3v4l-1 3v3l-3 3l-1 3l-1 3l-2 3l-2 3v3l-1 3v3l-1 3l-1 3l-2 3l-1 3l-3 3v3l-2 3l-1 3l-1 2l-1 3v6l-1 3v2l-1 3l-1 3l-1 3v3l-1 2l-1 3v3l-1 3l-2 3v5l-2 3v3l1 2l-1 3l-1 3l-1 3v5l-2 3v3l-1 3l-1 2l1 3l-2 3v5l-2 3l1 3l1 3l-1 2l-1 3v11l1 3v3l-1 2v3l-1 3v11l-1 3v8l-1 3v13l-1 3v11l-1 3l-1 2l1 3v8l1 3v3l-1 2v8l-1 3v8l1 3v3l2 2l-1 3v5l-2 3v3l-1 2v6l1 3v18l-2 3v3l1 2l1 3v11l-1 2v6l-2 2l1 3l-1 3v2l2 3l-1 3v2l1 3v3l-2 2l1 3v8l-1 2l2 3l-1 3v5l1 3v2l-1 3v3l1 2l1 3l1 3l1 2l-1 3l1 2v3l-2 3v8l1 2l1 3l1 2l-1 3l1 3v2l-1 3l-1 2l1 3l-1 3v2l1 3v5l1 3l1 2l-1 3v8l1 2l1 3v7l1 3l-1 2l1 3v10l1 2l-1 3v5l1 2v9l1 3l1 2v5l-1 2l1 2l1 3v2l1 2l-1 2v5l1 2v4l1 3l-1 2l1 2l1 2v9l1 2l1 2l1 2v8l-1 2l1 2v2l1 2v6l2 2l-1 2v6l1 2v2l1 2l-1 2l1 1v6l1 2v4l1 1v2l1 2l-1 2l1 2v2l1 1v7l1 2v4l1 1v4l-1 1l1 2l1 2v3l1 2v3l1 2v3l1 2l-1 1l1 2v4l1 2v3l1 2v9l1 1v3l1 2v4l1 2v4l1 1v2l-1 1l1 2v7l1 1l1 1l1 2v8l1 1v3l1 1v1l1 1v7l1 1v7l1 1v5l1 1v4l1 1v2l1 2v2l1 1v4l1 2v2l1 1l-1 1l1 1v4l1 1v6l1 1v2l-1 1l1 1v1l1 1v2l1 1v3l1 1v1l1 1v6l1 1l1 1v7l1 1v2l1 1v2l1 1v4l1 1l-1 1l1 1l1 1v3l1 1l-1 1v1l1 1v3l1 1v4l1 1v5l1 1v1l1 1v2l-1 1l1 1v2l1 1v4l1 1v2l1 1v1l1 1l-1 1v1l1 1v2l1 1v3l1 1l1 1l-1 1v2l1 1v1l1 1v2l1 1v4l1 1v1l1 1v4l1 1v3l1 1v3l1 1v2l1 1v2l1 1v2l1 1v5l1 1l1 1v1l-1 1l1 1v3l1 1v3l1 1v1l1 1v6l2 1v2l1 1v3l1 1v2"/>
<path vector-effect="non-scaling-stroke" stroke="#bdfb00" d="M103 224l-1 4l-1 3l-1 4l-1 3l-1 4l-1 3v3l-2 4l-1 3l1 4l-1 3v4l-1 3v3l-2 4l-1 3v7l-2 3v7l-1 3v3l-1 3v3l-1 4l-2 3l-1 3l1 3l-1 3l-1 3l-1 3l-1 3l1 3l-2 3l-1 3l1 3v3l-1 3v3l-1 3v3l-1 3l-1 3l-1 3l-1 2v6l-1 3l-1 3l-1 2l1 3v6l-1 2v6l-1 3l-2 3v2l-1 3l-1 3l1 3l-1 3l-1 2l1 3l-1 3l-1 3v11l-2 3v2l-1 3l1 3l-1 3v2l-1 3l1 3l-1 3v5l-1 3l1 3l-1 2v6l-1 3l-1 2l-1 3v3l1 3l-2 2v9l-2 2l1 3l1 3l-1 2l1 3l-2 3v5l-1 3l-1 3l-1 3l1 2v6l-1 2v3l-1 3l1 3v2l1 3l-2 3l-1 2v9l-1 2v8l1 3l2 3l-2 2v3l-1 3v3l-1 2v3l-2 3l1 2l-1 3v5l-1 3v3l-1 2v6l-1 2v3l1 3v2l-1 3l2 3v3l-2 2l1 3l-1 3v13l-1 2l-1 3v11l1 2l-1 3v3l-1 2l-1 3v8l1 3l1 2v8l-1 3l-1 2v3l1 3v2l1 3v10l1 3v3l-1 2l-1 3v3l1 2l1 3v8l1 2l-1 3v5l-1 3l1 2l-1 3v3l-1 2l1 3v2l1 3v5l1 3l1 2l-1 3v5l-1 2v5l1 3l1 2v10l1 2v5l1 2v3l-1 2l1 2v10l-1 2v2l2 2v5l-1 2l1 2l1 2v9l1 2v5l1 2v4l1 2l1 2v4l1 2l-1 2l1 2v5l1 2v4l-1 2l1 1l1 2v2l1 2v4l1 2l-1 2v2l1 2v4l1 2v1l-1 2l1 2v6l1 1v2l1 2v7l1 2v2l1 1v7l1 2v3l1 2v2l1 1l-1 2l1 2v9l1 2v1l1 2l-1 2l1 1l-1 2l1 1v2l1 1v6l1 2l1 1l-1 2v1l1 2v6l1 1v4l1 2v4l1 1v3l1 1v9l1 1v2l1 2v5l1 1v5l1 2v2l1 1v1l1 2v1l-1 1v1l1 2v1l1 1v3l1 2v6l1 2v4l1 1v2l1 1l-1 2l1 1l-1 1v1l1 1v1l1 1l1 1l-1 1l1 1v7l1 1v3l1 1v2l1 1v2l1 1l-1 1l1 1v6l1 1v1l1 1v7l1 1l1 1v2l1 1l-1 1v2l1 1l-1 1l1 1l1 1v3l1 1v3l1 1v6l1 1v3l1 1v3l1 1l-1 1l1 1v2l1 1v5l1 1v3l1 1v2l1 1l-1 1l1 1l1 1v5l1 1v1l1 1v2l-1 1l1 1v2l1 1v1l1 1v4l1 1v1l-1 1l1 1v1l1 1v3l1 1v1l1 1l-1 1v1l1 1v4l1 1l1 1v5l1 1v3l1 1v2l1 1v4l1 1v1l1 1l-1 1v1l1 1l1 1v3l1 1v3l1 1v2"/>
<path vector-effect="non-scaling-stroke" stroke="#b3fd00" d="M106 211v4l-2 3l-1 4l-1 3l-1 4l-1 3l-1 4v3l-1 4v7l1 3l-1 4l-1 3v3l-1 4l-1 3l-1 4l-2 3v3l1 4v3l-1 3v4l-1 3v3l-1 3l-1 3l-2 4v3l-1 3v3l-1 3l-1 3v3l-1 3l-1 3v3l-1 3v6l-1 3v6l-3 3l-1 3v11l-1 3l-1 3v3l-1 3v2l-1 3l-1 3v8l-1 3v6l-1 2l-2 3v9l-1 2l-1 3v3l-1 3v5l-1 3l-1 3v3l1 2l-2 3v8l-1 3l-1 3l1 3l-1 2l-1 3v6l-2 2v6l1 3l-1 2l-1 3v6l-1 2l-1 3v6l1 2l1 3l-2 3l-1 3l-1 2l1 3l-1 3l1 2l-1 3l-1 3l-1 3l-1 2l1 3l-1 3v2l1 3v3l-1 3l1 2l-1 3v3l-1 2l1 3l-1 3l-1 3v2l-1 3v3l-1 2l1 3v8l-1 3v3l1 2v3l-1 3v2l1 3l-1 3l-1 2l-1 3v3l-1 2l-1 3v3l1 2l-1 3v11l1 3l1 2l-1 3v3l-1 2v11l-1 2v8l-1 3l1 3v10l-1 3v3l-1 2v6l-1 2l1 3l1 2l-2 3v3l1 2v6l1 2l1 3l-1 3l1 2l-1 3v2l-1 3l2 3l-1 2l-1 3v3l1 2l-1 3l1 2l1 3l1 3l-1 2l1 3l-1 2l1 3v3l-1 2v8l-1 3l1 2l1 3v2l-1 3l1 3v10l1 2v8l1 2l-1 2v3l1 2l-1 3v2l1 2l1 3l-1 2l1 3l-1 2v2l1 3v6l1 3v13l1 2v5l1 2v4l1 2v5l1 2v2l1 2v6l1 2v8l1 2v4l1 2v2l1 2v4l1 2v6l1 2v2l1 1v8l1 2v3l1 2v6l1 1v2l1 2v5l1 2v3l1 2v3l1 2v5l1 2v8l1 2v4l1 2v6l1 2v3l1 1v5l1 1v8l1 1v5l1 1v3l1 1v3l1 1l-1 2l1 1v3l1 1v6l1 1v4l1 1v5l1 2v4l1 1v3l1 2v3l1 2v2l1 1v5l1 1v7l1 1v2l1 1v7l1 1v4l1 1v4l1 1v3l1 1v5l1 1v5l1 1v4l1 1v3l1 1v4l1 1v2l1 1v4l1 1v5l1 1v3l1 1v4l1 1v4l1 1v3l1 1v5l1 1v4l1 1v2l1 1v4l1 1v5l1 1v2l1 1v5l1 1v4l1 1v2l1 1v3l1 1v4l1 1v2l1 1v3l1 1v3l1 1v4l1 1v3l1 1v3l1 1v1l1 1v4l1 1v4l1 1v3l1 1v3l1 1v2l1 1v3l1 1v1l1 1v2l1 1v3l1 1v4l1 1v3"/>
<path vector-effect="non-scaling-stroke" stroke="#aaff00" d="M102 222l-2 3v4l-1 3v4l-1 3l-1 4l-1 3v3l-1 4l-1 3l-1 4l-1 3l-1 4l-1 3l-1 3l1 4l-2 3l-2 3l-1 4l-1 3l-1 3l-1 4l-1 3l-2 3l-1 3l-1 3l-2 4l-2 3v3l-1 3l-2 3l-1 3l-1 3l-2 3l-2 3l-1 3l-1 3l-1 3v3l-2 3v3l-1 3l-2 3l-1 3l-2 3l-2 2l-1 3l1 3l-2 3l1 3l-1 2l-2 3v6l-1 3v2l-1 3l-1 3v3l-2 2l1 3l-2 3v3l-1 3l-1 2v6l-1 3v5l-1 3l-1 3v3l-1 2v3l-2 3l-1 3v5l-1 3v8l1 3v3l-1 2v11l-1 3v3l-1 3v2l1 3l-1 3v5l-1 3l1 3v5l-1 3l-1 3v3l1 2v3l-1 3l-1 2l1 3v8l1 3l-1 3v8l1 3l-1 2v3l1 3l-1 2l-1 3v3l1 3v5l-1 3l1 2v11l1 3l-1 2l-1 3l1 3v13l-2 3v5l1 3l-1 3l1 2v11l-1 3l-1 2v6l1 2v6l-1 2v6l1 2l-1 3v8l-1 3v2l1 3l-2 2v11l1 3l-1 2l1 3l2 3l-1 2l1 3l-2 2l1 3v8l-1 3v2l1 3v2l1 3l1 3l-1 2l1 3v3l-1 2v5l-1 3v3l1 2v3l1 2v16l1 3l1 2v8l-1 2l1 3v2l2 3l-1 2v13l1 2v5l1 2v5l-1 2l2 3v9l1 2v14l1 2v2l1 2v3l1 2l-1 2l1 2v2l-1 2v2l1 3l1 2l1 2v6l1 2v4l1 2v4l-1 2l1 2l1 2v4l1 2v10l1 2l-1 1l1 2v2l1 2l1 2v4l1 1v2l-1 2l1 2v2l-1 1l1 2v2l1 2v2l1 1v6l1 1v2l1 2v8l1 2v6l1 2v5l1 1v2l1 1l-1 2l1 2l1 1v2l-1 1l1 2v1l1 2v7l1 2l1 1l-1 2v1l1 2v2l1 2v3l1 1v9l1 1v3l1 1l1 1l-1 2v1l1 1v4l1 1l-1 2l1 1v3l1 1v1l1 1v2l1 1v2l1 2v2l-1 1v1l1 2v1l1 1v4l1 1v2l1 1v1l-1 2v1l1 1v2l1 1v3l1 2v6l1 1v2l1 1v1l-1 1v1l1 1v1l1 1v3l1 1v6l1 1v1l1 1v4l1 1v3l1 1v2l1 1v1l-1 1l1 1l-1 1l1 1v1l1 1l-1 1l1 1l-1 1l1 1v2l1 1v5l1 1v1l1 1v3l1 1v4l1 1v1l-1 1l1 1v1l1 1v4l1 1v2l1 1v5l1 1l1 1l-1 1v1l1 1v2l1 1v4l1 1v5l1 1v1l1 1v4l1 1v1l1 1v5l1 1v3l1 1v1l1 1l-1 1l1 1v1l1 1v1l1 1v5l1 1v4l1 1v1l1 1l-1 1l1 1v1l1 1v2l1 1v1l1 1v2l1 1v4l1 1l-1 1l1 1v3l1 1v3l1 1v2l1 1v4l1 1v1l1 1v1l1 1l-1 1v1l1 1v1l1 1l-1 1v1l1 1l-1 1l1 1"/>
<path vector-effect="non-scaling-stroke" stroke="#a0ff03" d="M104 208l-1 3l-1 4l-1 3l-1 4l-1 3l-1 4l-1 3l-1 4v3l-1 4l-2 3l-1 4l-1 3l-1 4l-1 3v3l-1 4l-1 3l-1 4l-1 3l-1 3l-1 4l-1 3l-1 3l-2 3l-1 4l-1 3l-1 3l-2 3v4l-2 3l-1 3v3l-1 3l-1 3l-1 3l-1 3l-2 3v3l-3 3l-1 3l-1 3l-2 3l-1 3l-1 3l-1 3v6l-1 3l-1 3l-1 2v3l-1 3l-1 3l-1 3l-1 2l-1 3v3l-1 3l-1 2v12l-1 2v3l-1 3l-1 3l-1 3l-1 2l-1 3l-1 3l-1 3l-1 2v6l-1 3l-1 2l-1 3v6l-1 3l-1 2l-1 3l-1 3v3l1 2v6l-1 3v2l-1 3v3l-1 3v2l-1 3l-1 3l1 3l-1 2v3l1 3v11l-1 2l-2 3l-1 3l1 3v8l-1 3l1 2l-1 3l1 3l1 2v6l-1 3l-1 2l1 3v11l1 3v8l-1 2l1 3v5l1 3l-2 3l2 3l-1 2v3l1 3l1 2v8l1 3l-1 3l-1 2v3l1 3v16l-1 2l-1 3l1 3v2l-1 3v3l-2 2v3l1 3v13l1 3v2l-1 3v3l-1 2v3l-1 3l2 2l-1 3l1 3l-1 2l1 3v8l1 2v6l-2 2l1 3v5l-1 3v2l1 3v3l1 2v3l-1 2v6l1 2v3l1 3l-1 2l1 3v5l-1 3v7l1 3v3l1 2v5l1 3v3l1 2v13l1 2v5l1 2v3l-1 2v3l1 2v7l1 2l1 3l-1 2v2l1 3l1 2v20l1 2l1 3v8l1 2l1 3l-1 2l1 2v8l1 2v4l1 2v6l1 2l-1 2l1 2v2l1 2v2l1 2v4l1 2v7l1 2v6l1 2l-1 1l1 2v6l1 1v6l1 1v6l1 1l1 2v5l1 2v6l1 2l-1 2l1 1v4l1 1v7l1 1v3l1 2v4l1 2v3l1 1v3l1 2v1l1 2v10l1 1l-1 2l1 1v4l1 2v2l1 2v4l1 1v3l1 1v1l-1 2l1 1v1l1 1v2l1 1v5l1 1v4l1 1v3l-1 1l1 1v1l1 1v4l1 1v6l1 1v2l1 1v4l1 1v1l-1 1l1 1v2l1 1v2l1 1v2l-1 1l1 1v4l1 1v2l1 1v3l1 1l-1 1v2l1 1v1l1 1v1l1 1l-1 1v2l1 1v1l1 1v2l1 1v3l1 1v1l-1 1l1 1l-1 1l1 1l1 1v6l1 1v1l1 1v5l1 1v2l1 1v1l1 1l-1 1l1 1v2l1 1v1l-1 1v1l1 1v1l1 1v6l1 1v1l1 1v4l1 1v3l1 1v2l1 1v1l-1 1l1 1v2l1 1v3l1 1v3l1 1v3l1 1v1l1 1v4l1 1v3l1 1v3l1 1l1 1v2l1 1v2l1 1v1l-1 1l1 1l-1 1l1 1v1l1 1l-1 1v1l1 1l1 1v2l1 1v4l1 1v2l1 1v3l1 1v3l1 1v3l1 1v2l1 1l1 1l-1 1l1 1v3"/>
<path vector-effect="non-scaling-stroke" stroke="#96ff07" d="M100 237l-1 4l-1 3v4l-1 3v10l-1 4v3l-1 3l-1 4l-1 3v4l1 3l-1 3l-1 3v7l-2 3v3l-2 4l-1 3v3l-1 3v6l-1 3l-1 3v4l-2 3l1 3l-1 3l-1 3v2l-1 3l-1 3l1 3l-1 3v3l-1 3l-2 3l-1 3l-2 2v3l-1 3l1 3l1 3l-1 2v3l-1 3v3l-1 3l-1 2v6l-1 3l-1 2l-1 3v6l-1 3v5l-1 3l-1 3v2l-1 3v3l-1 3l-1 3l1 2l-1 3v6l-1 2l-1 3v6l-1 2l-2 3v14l-1 3l2 2l-1 3v3l-1 3l-1 2l1 3l-1 3v3l-2 2l1 3l-1 3v8l-2 3l1 2v3l-1 3l-2 3l1 2l1 3l-1 3v5l1 3v3l-1 2l-1 3l-1 3l-1 2v3l-2 3l2 3v8l-1 2l2 3l-1 3v2l-1 3v3l-1 3v5l-1 3v5l1 3l-1 2v8l-1 3v3l-1 2l-1 3v5l1 3l-1 3v2l2 3l-1 3l-1 2v8l-1 3v5l-1 3v3l-1 2v3l1 3v8l-1 2v14l-1 2l2 3l-1 2v6l-1 2l1 3v3l1 2v3l-1 3v18l-1 2l1 3l-1 3v2l1 3l-1 3l1 2v3l1 2v8l1 3l1 2l-1 3l-1 3v15l1 3l2 2v3l-1 2v3l1 2v15l1 2v9l1 3v16l1 2v11l1 2l1 2v5l1 2v6l1 2v5l1 2v4l1 2v2l1 2v4l1 2v6l1 2v6l1 2v2l1 2v5l1 2v6l1 2v7l1 2v1l1 2v6l1 1v7l1 2v2l1 1v5l1 2v5l1 2v3l1 2v8l1 1v5l1 1v5l1 1v8l1 1v5l1 1v5l1 1v6l1 1v4l1 1v5l1 1v8l1 1v1l1 2v5l1 1v1l1 1v7l1 1v3l1 2v4l1 1v5l1 1v5l1 1v4l1 1v5l1 1v5l1 1v5l1 1v3l1 1v4l1 1v3l1 1v3l1 1v5l1 1v3l1 1v4l1 1v5l1 1v2l1 1v5l1 1v2l1 1v4l1 1v4l1 1v4l1 1v3l1 1v3l1 1v5l1 1v3l1 1v4l1 1v2l1 1v6l1 1v1l1 1v4l1 1v2l1 1v3l1 1v3l1 1v3l1 1v3l1 1v3l1 1v4l1 1v2l1 1v2l1 1v4l1 1v2l1 1v2l1 1v3l1 1v4l1 1v2l1 1v3l1 1v2l1 1"/>
<path vector-effect="non-scaling-stroke" stroke="#8cff0a" d="M104 211v4l-2 3l-1 4l1 3l-2 4l-1 3l-1 4l-1 3l-1 4l-1 3v4l-1 3v3l-1 4v3l-1 4l-1 3l-1 4v3l-1 3l-1 4l-1 3l-1 3l1 3l-1 4l-1 3v3l-1 3l-2 4v6l-1 3l-1 3l-1 3l1 3l-2 3v3l-1 3l-1 3l-2 3l-1 3v6l1 3v3l-1 3l-1 3l-1 3v2l-2 3v3l-2 3l1 3l-1 2v6l-1 3l-1 3l-1 2l1 3l-1 3v6l-1 2v3l-1 3l-1 3l-1 2v14l-1 3v3l-1 3l-1 2v9l-1 2v3l-1 3l-1 3v5l1 3v3l-1 3l-1 2v11l-1 3l1 3l-1 3v2l-2 3v3l-1 2l1 3v8l-1 3l-1 3l1 3v2l-1 3v3l-2 2v9l1 2l-1 3v6l-1 2l-1 3v8l-1 3l1 2l-1 3v6l-1 2v6l2 2l-2 3v3l-1 2l-1 3v3l1 3l-1 2v3l1 3l-1 2l-1 3v5l-1 3l-1 3v2l1 3v3l1 2l-2 3l-1 3l2 2v3l-2 3l1 2l-1 3v3l-1 2l-1 3l1 3v5l-1 3v5l1 3l-1 2v14l-1 2l2 3l-1 2v6l1 2v3l-1 3v2l1 3l-1 3l1 2v5l1 3v3l-1 2v3l1 3v5l-1 2v3l1 3l1 2l-1 3l-1 3v5l2 2v11l1 2l-1 3v3l1 2l-1 3v5l1 2v8l1 3l-1 2l1 3v7l1 2v8l1 2v19l1 2v2l1 3v2l-1 2v2l1 3v2l1 2v2l-1 2v3l1 2v4l1 2v7l1 2v4l-1 2l1 2l1 2l-1 2l1 2v6l2 2l-1 2l1 2v4l-1 2l1 2l1 2l-1 2l1 2v4l1 2l-1 1l1 2l1 2v2l-1 2l1 2l1 2v1l1 2l-1 2v4l1 1v4l1 2v5l1 2v3l1 2v3l1 2l-1 1l1 2v5l1 2l1 1v4l-1 1v2l1 1l1 2v5l1 1l-1 2l1 1v5l1 1v5l1 1v3l1 2v7l1 1v6l2 1l-1 2l1 1v2l1 1v3l1 1l-1 1v2l1 1v5l1 2l-1 1l1 1v1l1 2v3l1 2v2l1 1v4l1 1v5l1 1l1 1l-1 2v1l1 1v3l1 2v6l1 1l-1 2l1 1v1l1 1v5l1 1v5l1 1v2l1 2v4l1 1v6l1 1v3l1 1v3l1 1v4l1 1v5l1 1v1l1 1v4l1 1v6l1 1v3l1 1v2l1 1v5l1 1v4l1 1v2l1 1v1l-1 1l1 1v2l1 1l-1 1v1l1 1v2l1 1v1l1 1v1l-1 1l1 1v1l1 1l-1 1v2l1 1l1 1v5l1 1v2l1 1v4l1 1v3l1 1v2l1 1v3l1 1v1l1 1v1l1 1l-1 1v2l1 1l1 1v5l1 1l-1 1l1 1v3l1 1l1 1v1l1 1l-1 1v1l1 1v4l1 1v1l1 1v4l1 1v1l1 1v3"/>
<path vector-effect="non-scaling-stroke" stroke="#82ff0d" d="M101 229v3l-2 4l-1 3l-1 4l-1 3v7l-1 3l-1 4v3l-1 4l-1 3l-1 3l-1 4l-1 3l-1 4l-1 3l-1 3l-1 3v4l-2 3l-1 3v3l-1 3l-2 4l-2 3l-1 3l-1 3l-1 3l-2 3l-1 3v3l-1 3l-2 3v3l-1 3l-2 3l-2 3l-1 3v3l-1 3l-1 3l-2 3l-1 2l-1 3l-1 3v3l1 3l-2 2l-1 3l-1 3v3l-1 3l-1 2v6l-1 3l-1 3l-1 2l-2 3l-1 3l1 3l-1 2v3l-1 3l-2 3v3l-2 2l-1 3v6l-2 2v3l-1 3l1 3l-1 2v6l1 3l-2 2l-1 3l-1 3v8l-1 3v6l1 2v3l-1 3l1 2l-2 3l1 3v3l-1 2l1 3l-1 3l-2 3l1 2v11l-1 3l1 3l-1 2l-1 3v3l1 3l-1 2v3l1 3v2l-1 3l1 3v5l-1 3l1 3v8l1 3l-1 2v3l1 3v2l1 3l-2 3v5l-1 3l1 3v16l-1 2v3l1 3l-1 2l-1 3v5l1 3l-1 3l1 2l-1 3v3l-1 2v3l1 3l-1 2l1 3v5l-1 3l-1 3l1 2v6l1 2l-1 3l1 3v5l-2 3v2l-1 3v2l1 3v3l-1 2l1 3l1 3l-1 2v6l1 2v8l-1 3v2l1 3v8l1 2l1 3l-1 3v2l2 3v2l-1 3l1 3l-1 2v8l-1 3l1 2v3l1 3v2l1 3l-1 2v3l1 2l1 3l-1 3l1 2v15l1 2v8l1 2l-1 2l1 3v4l1 3v7l1 2v2l1 3l-1 2l1 2v11l1 2v7l1 2v2l1 2l-1 2l1 3v2l1 2l-1 2l1 2v6l1 2v4l1 2l1 2l-1 2l1 2v10l1 2v6l1 1v4l1 2v2l1 2v7l1 2v4l-1 1l1 2v2l1 2l-1 1l2 2v5l1 2v2l1 1v5l1 2v5l1 2l-1 1l1 2v5l1 1l-1 2l1 1v2l1 2v4l1 2v3l-1 1l1 2l1 1v6l1 2l1 1l-1 2v1l1 2v5l1 2v5l1 2l1 1v1l1 2v9l1 1v3l1 1v3l1 1v2l1 2v3l1 2v6l1 1v3l1 2v5l1 2l1 1v1l-1 1l1 1v6l1 1v2l1 1v1l1 1v5l1 1v2l1 1v2l-1 2v1l1 1v2l1 1v4l1 1v1l1 1v4l1 1v2l1 1v5l1 1v7l1 1l1 1l-1 1l1 1v1l1 1l-1 1l1 1v5l1 1v2l1 1v1l1 1l-1 1l1 1v2l1 1v6l1 1v3l1 1v4l1 1v6l1 1v1l1 1v4l1 1l1 1v4l1 1v1l1 1l-1 1l1 1v2l1 1v3l1 1l1 1v3l-1 1l1 1v1l1 1v5l1 1v4l1 1v2l1 1v2l1 1v1l1 1v1l1 1v1l-1 1l1 1v1l1 1v3l1 1v3l1 1v5l1 1l1 1v5l1 1v2l1 1"/>
<path vector-effect="non-scaling-stroke" stroke="#78ff11" d="M101 208v4l-1 3l-2 4v3l-1 4l-1 3l-1 4v3l-1 4l-1 3l-2 4l-1 3l-2 4v3l-1 4l-1 3l-1 3l-1 4l-1 3l-1 4l-2 3l-2 3l-1 4l-1 3v3l-1 3l-2 4l-1 3l-2 3l-1 3l-2 3l-2 3l-1 4v3l-1 3v3l-1 3l-1 3l-1 3l-1 3l-2 3l-1 3l-1 3l-3 3l-1 3l-1 3l-2 2v3l-1 3v3l-1 3l-1 3l-1 2v3l-1 3l-1 3v5l-2 3l-1 3l1 3l-1 3v5l-2 3v3l-1 2v3l-1 3l-2 3v8l-1 3l-1 3v2l-1 3l-1 3v3l-1 3l-1 2v6l-1 3l2 2l-1 3l-1 3l1 3l-1 2l1 3l-1 3l-1 3v13l1 3l-1 3l-1 3v5l-1 3l-1 2v3l-1 3v5l1 3l1 3l-1 3l-1 2l2 3l-1 3l-1 2v9l-1 2v3l-1 3l1 2l1 3l1 3l-1 3l2 2l-1 3v3l-1 2v11l1 3v3l-1 2v3l1 3l1 2l-2 3v8l1 3v3l1 2v3l-1 3v5l-1 3l-1 2v6l1 2l-1 3l1 3v8l2 2l-1 3l1 3l-1 2v3l-1 3l1 2l-1 3v5l1 3l1 2l-1 3l-1 3v2l-1 3v3l1 2l-1 3l1 3v10l-1 3l2 2v6l-1 2l1 3l-1 3l1 2l-1 3v10l2 3v5l-1 3l1 2v3l1 3l-1 2v8l1 3v2l-1 3v3l1 2v10l1 3l-1 3v2l1 3v2l1 3l1 2l-1 2l1 3v2l1 3l-1 2v5l1 2l1 3v2l1 3l-1 2l1 2v12l1 2v9l1 2v2l1 3l1 2v2l-1 2l1 2v5l1 2v2l1 2v2l1 2v2l-1 2l1 2v2l1 3l-1 2l1 2l1 2v8l1 2v7l1 2v4l1 2v2l-1 2l1 2v5l1 2v6l1 1v6l1 1v4l1 2v1l1 2v5l-1 2l1 2v1l1 2v3l1 2v5l1 2v3l1 1v2l1 2v1l-1 2l1 1v2l1 2v6l1 1v8l1 1v4l1 2v1l1 2l-1 1l1 2v3l1 1v5l1 2v3l1 1v1l-1 2v1l1 1v2l1 1v2l1 2v4l1 1l-1 1l1 1v2l1 1v1l1 1l-1 2l1 1v4l1 1l-1 1l1 1v3l1 1v1l1 1v7l1 1v6l1 1v3l1 1v3l1 1v5l1 1v3l1 1v3l1 1v4l1 1v4l1 1v3l1 1v4l1 1v2l1 1v4l1 1v5l1 1v2l1 1v2l1 1l-1 1l1 1l-1 1l2 1v2l-1 1l2 1v5l1 1v4l1 1v2l1 1v5l1 1v2l1 1v6l1 1v1l1 1v4l1 1v3l1 1v2l1 1v5l1 1v1l1 1v4l1 1v4l1 1l-1 1l1 1v1l1 1v1l1 1v1l1 1v4l1 1v6l1 1v1l1 1v1l1 1v3l1 1l-1 1l1 1v1l1 1l-1 1l1 1v1l1 1v1l1 1v3l1 1l-1 1v1l1 1v1l1 1v1l1 1l-1 1"/>
<path vector-effect="non-scaling-stroke" stroke="#6eff14" d="M98 209v4l-2 3l-1 4l-2 4l-1 3l-1 4v3l-1 3l-1 4l-1 3l-1 4l-1 3v4l-1 3l-1 4l-1 3v3l-1 4l-1 3l-1 4l-1 3l-1 3l-1 4v19l-1 3l-1 3v3l-1 4l-2 3v3l1 3v3l-1 3l-1 3l1 3l-1 3l-1 3v9l-1 2l-1 3v6l-2 3v5l1 3l-1 3l1 3l-1 3v2l-1 3v3l-2 3v5l-1 3l-1 3v3l-2 3l-1 2l1 3l1 3l-1 3l1 2l-1 3v3l-1 3l-1 3l-1 2v6l-1 3v2l-2 3l-1 3v3l1 2l1 3l-1 3l1 3l-1 2v3l1 3l-1 3v2l-1 3l-2 3v3l-1 2v3l-1 3l-1 3v5l2 3v3l1 2l-1 3l-1 3v3l-2 2l1 3l-1 3v2l-2 3l1 3l1 3l-2 2l-1 3l1 3l-1 2l2 3l-1 3v3l1 2l-1 3l-2 3l-1 2l1 3l1 3l-2 3v5l1 3l-1 2l-1 3v3l1 2v6l-1 3l-1 2l-1 3v5l-1 3v3l1 2v8l-1 3l1 3l-1 2v11l1 3l-1 2v3l-1 3l-1 2l1 3l-1 3l1 2l-1 3l1 3l-1 2l-1 3l2 3v2l-2 3l1 3v8l-1 2l-1 3v3l-1 2l1 3l2 2l-1 3v5l1 3l1 3v8l-1 2l-1 3l1 2l-1 3l1 3v5l1 3v7l2 3l-1 3v2l-1 3l1 2v6l-1 2v3l1 2l-1 3l1 3v15l1 3v2l1 3v5l1 2l-1 3l1 2v3l-1 2v3l1 2v2l1 3l-1 2v5l1 2v7l1 3v9l-1 2l1 2l1 2v5l1 2l-1 2l1 3v2l1 2v8l1 3v4l1 2v10l1 2v6l1 2v4l1 2v2l1 2l-1 2v4l1 2v4l1 1v6l1 2v7l1 2v4l1 1v6l1 2v3l1 2v3l1 2v3l1 2v3l1 2l-1 2v3l1 2v1l1 2v3l1 2l-1 1l1 2l1 1l-1 2v1l1 2v5l1 1l-1 2l1 1v3l1 2l1 1v10l1 2v3l1 1v5l1 2v1l1 2v6l1 2v5l1 1v4l1 1v3l1 1v1l-1 2v1l1 1v3l1 1v2l1 1v3l1 1v3l1 2v2l1 1l-1 1v4l1 1v1l1 1v6l1 1v4l1 1v5l1 1v5l1 1v4l1 1v2l1 1v4l1 1v1l-1 1l1 1v1l1 1l-1 1l1 1v1l1 1v2l1 1v2l-1 1l1 1v3l1 1v2l1 1v4l1 1l-1 1l1 1v2l1 1v3l1 1l-1 1l1 1v4l1 1v1l1 1v4l1 1l1 1v7l1 1v1l1 1l-1 1v2l1 1v1l1 1v3l1 1v1l-1 1l1 1v5l1 1v1l1 1v2l1 1v2l1 1v3l1 1v4l1 1v2l1 1v4l1 1v2l1 1v2l1 1v6l1 1l-1 1l1 1v1l1 1v3l2 1l-1 1l1 1v3l1 1v3l1 1l1 1v1l-1 1l1 1v2l1 1v4l1 1v2l1 1v1l1 1v2l-1 1l1 1l1 1v1l-1 1l1 1v2"/>
<path vector-effect="non-scaling-stroke" stroke="#64ff17" d="M93 222l-2 3l-1 4v3l-1 4l-1 3v4l-1 3l-2 4l-1 3l-1 4l-1 3l-1 3v4l-1 3l-1 4l-1 3l-1 3v4l-1 3l-1 3v3l-1 4v3l-1 3l-1 3v10l-1 3l-1 3l-1 3l-1 3v6l-1 3l-1 3v9l-1 3v3l-2 3l1 3l-2 3v3l-1 3v2l1 3v3l-1 3v5l-1 3l-1 3l-1 3v8l1 3l-1 3l-1 2v3l-2 3l1 3l-1 3v2l-1 3v14l-1 3l-1 2v3l-2 3l1 3v5l-2 3l-1 3l1 3v2l1 3l-2 3l2 3l-1 2v6l-1 3v5l-1 3l1 3l-2 2l1 3l-1 3l-1 3v2l1 3l-1 3l1 2v3l-2 3v5l2 3l-1 3l-1 3v2l-2 3l-1 3l1 2l1 3l-2 3v3l1 2v3l-1 3v5l-2 3l1 3v2l-1 3v8l1 3l-1 2v14l-2 3l-2 2l1 3v5l-1 3v3l1 2v8l-1 3l1 3v2l-1 3v3l1 2l-1 3v3l-1 2v8l-1 3l1 3v2l1 3l1 3l-1 2l-1 3l-1 3l1 2v3l-1 3v8l-1 2v6l1 2l-1 3l2 2l-1 3l-1 3l1 2v3l1 3v2l1 3l-1 3v2l-1 3v2l1 3v5l-1 3l1 2v14l1 2v3l1 2l-1 3v3l1 2l1 3l-1 2v3l1 3v2l-1 3v2l-1 3l1 3l1 2l1 3l-1 2v5l1 3l-1 2l1 2l1 3v2l1 3v2l-1 3l1 2v5l-1 2v5l1 2v9l1 3v4l1 2l-1 3l1 2l1 2l-1 2v2l1 3v4l1 2v9l1 2l1 2v8l1 2v4l1 2v4l1 2l-1 2l1 2v4l1 2v8l1 2l1 2l-1 1l1 2v6l1 2v5l1 2l-1 2l1 2v1l1 2v7l1 2v2l1 1v2l-1 2l1 1l1 2v7l1 1v4l-1 1l1 2l1 2v4l1 2v5l1 1l1 2l-1 1l1 2v3l1 1v5l1 1v12l1 1l1 2v1l-1 2v1l1 1l1 2v4l1 1v3l1 1v4l1 2v5l1 1v5l1 1v4l1 1v3l1 1v1l-1 2v1l1 1v3l1 2v2l1 1v1l1 1v7l1 1v1l1 2v1l-1 1v2l1 1v3l1 1v1l1 1v7l1 1v3l1 1v6l1 1l-1 1l1 1l1 1v2l1 1v4l1 1l-1 1v1l1 1v4l1 1v3l1 1v1l1 1v4l1 1v4l1 1v4l1 1v2l1 1v5l1 1v3l1 1v6l1 1v1l1 1v7l1 1v2l1 1v3l1 1v4l1 1l-1 1l1 1v2l1 1v2l1 1v3l1 1v4l1 1v2l1 1l1 1v3l1 1v6l1 1v2l1 1v3l1 1l-1 1v1l1 1l1 1v3l1 1v2l1 1v2l1 1l-1 1l1 1v2l1 1v2l1 1l-1 1l1 1v3l1 1v1l1 1v1l1 1l-1 1l1 1v2l1 1l-1 1l1 1v3l1 1v2l1 1"/>
<path vector-effect="non-scaling-stroke" stroke="#5aff1b" d="M94 206l-2 4l-1 3l-1 4l-2 3l-1 4l-2 3l-1 4l-1 3l-1 4l-2 3v4l-1 3l-1 4l-1 3l-1 4v3l-2 3l-1 4l-1 3l-1 4l-1 3v7l-1 3l-1 3l-1 3v7l-1 3l-1 3l-1 3v7l-1 3v3l-1 3l-1 3l-1 3l-1 3v3l-1 3v3l-1 3l1 3v3l-1 3l-1 3v3l-1 2l-2 3v3l-1 3v11l-1 3v3l-1 3l-1 2v3l1 3l-2 3v5l-1 3l-1 3v8l-1 3v3l-1 2v9l-1 3l-1 2v3l-1 3l1 3v2l-1 3l1 3l-1 3l1 2l-2 3v6l-1 2v3l-1 3v5l-1 3l1 3l-1 3v2l-1 3l1 3v3l-1 2v9l1 2v6l-1 2v11l-2 3v6l1 2l-1 3v3l-1 2l1 3l1 3l-1 3l1 2l-1 3v5l-1 3v3l-1 3v2l-1 3l1 3v2l-1 3l1 3l1 2v3l1 3l-1 2l-1 3l1 3l-2 3v2l1 3v3l-1 2v6l1 2l-2 3v3l1 2v14l-1 2l1 3l-2 3l1 2v3l-1 3v13l1 3l-1 2l1 3l-1 3v10l-1 3v2l1 3l-1 3v2l1 3v11l1 2v11l-1 2l1 3v5l1 3v2l-1 3l1 3l-1 2v3l1 2l-1 3l2 3v2l-1 3v3l1 2l-1 3v2l1 3v8l1 2v5l-1 3l1 3l1 2v10l1 2v5l1 3l-1 2v5l1 2l1 3v2l1 2l-1 3l1 2v12l1 2l-1 2v5l1 2l1 2v5l1 2v15l1 2l-1 2l1 2v4l1 2v10l1 2v16l1 2l1 2v4l1 2v3l-1 2v2l1 2v2l1 2v14l1 2l1 1v6l1 1l-1 2l1 2l1 1l-1 2l1 2v8l1 2v1l1 2v8l1 1v5l1 2v4l1 2v6l1 1v6l1 2l-1 1l1 1v3l1 2v2l1 2l-1 1v2l1 1v1l1 2v1l1 1l-1 2l1 1v5l1 2v4l1 1v1l1 1v3l1 1v5l1 1v4l1 1v3l1 1l-1 1v1l1 1v5l1 1v2l1 2v1l1 1v1l-1 1v1l1 1v2l1 1l-1 2l1 1v2l1 1v2l1 1l-1 1l1 1v3l2 1l-1 1v4l1 1l1 1v3l1 1v5l1 1v4l1 1v2l1 1v3l1 1v2l-1 1l1 1v2l1 1v4l1 1l1 1v1l-1 1l1 1v4l1 1v1l1 1l-1 1l1 1l-1 1l1 1v1l1 1v1l1 1l-1 1l1 1v1l1 1v2l-1 1l1 1l1 1l-1 1l1 1v6l1 1v3l1 1v4l1 1v4l1 1v1l1 1v2l1 1v1l1 1v3l-1 1l1 1l1 1l-1 1v1l1 1l1 1v3l1 1l1 1l-1 1l1 1v4l1 1v2l1 1v1l1 1v2l1 1l-1 1l1 1v3l1 1v3l1 1v2l1 1v2l1 1v4l1 1l1 1l-1 1v1l1 1v3l1 1v3l1 1v2l1 1v2"/>
<path vector-effect="non-scaling-stroke" stroke="#50ff1e" d="M95 227v4l-1 3l-1 4v3l-1 4l-2 3v4l-2 3l-1 4v3l-2 3l-1 4v3l-1 4v3l-1 3l-1 4v3l-1 3l1 3v4l-1 3l-1 3v3l-1 3l-2 4l-1 3v15l-1 3v6l-1 3v3l-1 3l1 3l-1 3l-2 3l1 3v2l-1 3v3l-1 3v3l-2 3v2l-2 3l1 3v8l-1 3l1 3l-1 3v5l-1 3l-2 3v3l-1 2v6l-1 3v2l-1 3v3l-1 3l-2 3l1 2l-1 3l-1 3v11l1 3l-1 2v3l-1 3v3l-1 2v3l1 3l-2 3l-1 2v3l1 3v3l-1 2l-1 3v11l1 3v11l-2 3l-1 2l-1 3v3l1 2l-1 3l-1 3v3l1 2v3l-1 3v2l-1 3l1 3l1 3v8l1 2v3l-1 3v3l-2 2v11l-1 3v5l1 3l-1 2l-1 3v3l1 3l-1 2l-1 3l1 3l1 2v3l-2 3l1 2v3l-1 3v2l-1 3l-1 3v2l-1 3l-1 3v2l1 3v11l-1 2l-1 3l2 3v5l-1 3l-1 2l1 3l-1 3v5l-1 3v2l-1 3l-1 2v6l1 2l-1 3l1 3l1 2l1 3v3l-1 2l1 3l-1 2v3l1 3l-1 2v3l-1 3l1 2v5l1 3v3l-1 2l1 3v2l1 3v3l-1 2v8l1 3v2l-1 3l1 3v18l1 2v5l-1 3l1 2l1 2l-1 3l1 2l1 3l-1 2l1 3l1 2v2l1 3l-1 2v19l1 2l-1 2v7l1 2v2l1 3v4l1 2v4l1 3l-1 2l1 2v4l1 2v6l1 2v2l1 2v4l-1 2l1 2l1 2v4l1 2v4l1 2v6l1 2v7l1 2l1 2l-1 2v3l1 2l-1 2l1 2v2l1 1l1 2l-1 2l1 2v1l-1 2l1 2v2l1 1v5l1 2l1 2v5l1 1v2l-1 2l1 1v2l1 2v1l1 2v1l-1 2l1 1l1 2l-1 2v3l1 1v3l1 2v6l1 1v8l1 1v4l1 2v2l1 2v3l1 1v4l1 1v2l-1 1l1 1v2l1 1l1 1v7l1 1v3l-1 1v2l1 2l1 1v2l1 2l-1 1l1 1v4l1 1v5l1 1v3l1 1l-1 1l1 2v2l1 1v2l1 1v6l1 1v1l1 1v5l1 1v9l1 1v2l1 1v2l1 1v1l1 1l-1 1v3l1 1v3l1 1v1l1 1l-1 1l1 1v6l1 1l1 1l-1 1l1 1v3l1 1v1l1 1v5l1 1l-1 1v1l1 1v2l1 1v2l1 1l-1 1v1l1 1v2l1 1v2l1 1v1l-1 1v1l1 1v4l1 1v3l1 1v2l1 1v4l1 1v1l1 1v3l1 1v6l1 1v2l1 1v2l1 1v5l1 1v1l1 1v3l1 1v2l-1 1l1 1v1l1 1l-1 1l1 1v1l1 1v2l1 1v4l1 1l1 1l-1 1l1 1l1 1v1l-1 1l1 1v1l1 1v3l1 1v3l1 1v3l1 1v2l1 1l-1 1l1 1v1l1 1v5l1 1v2"/>
<path vector-effect="non-scaling-stroke" stroke="#4aff27" d="M103 207l-1 4v3l-1 4l-1 3l-3 4l-1 3l-1 4v3l-2 4l-1 3v4l-1 3v4l-1 3l-1 4l-2 3v3l-1 4l-1 3l-1 4l-1 3l1 3v7l-2 3v10l-1 3l-1 3l-1 3v13l-1 3l-1 3v6l-1 3l-1 3l1 3l-1 3v9l-1 3v2l-1 3v6l-1 3l-1 3v2l1 3l-1 3v3l-1 3v8l-2 3l1 2l-1 3l-1 3l1 3v3l-2 2l1 3l-1 3l-1 3v5l-1 3l-1 3v3l-1 2v6l-1 3l1 2l1 3l-1 3l1 3l-2 2l-1 3l1 3l-2 3l-1 2v6l-1 3v16l-1 3v3l-2 2v6l-1 3l-1 2v3l2 3l-1 3l-1 2v3l-1 3v2l-1 3v3l-1 3l-1 2l1 3l-1 3l-1 3v8l1 2v3l-2 3v5l-1 3v11l-2 2v6l-1 2l1 3l1 3l-1 3v2l-1 3v3l-1 2l-1 3v3l-1 2l1 3l-1 3v2l1 3v3l-1 2l1 3l-1 3v16l-1 2l2 3v5l-1 3l-1 3v2l-1 3v16l1 3v5l-1 3v7l1 3l-1 3l-1 2v3l1 3v5l1 3l-1 2l-1 3l2 2l1 3l-1 3l2 2v3l-2 3l1 2l-1 3l1 2v6l-1 2l2 3l-1 2v11l1 2v3l-1 3l1 2v5l1 3l-1 3v10l1 2v3l-1 2v3l1 2l-1 3l1 2v5l1 2v7l1 3l-1 2l1 3l-1 2l1 2v12l1 2l-1 2v2l1 3v2l1 2v7l1 2v4l1 2v6l1 3v2l1 2v2l1 2v4l1 2v4l1 2v8l1 2v6l1 2v2l1 1v4l1 2v4l1 2v5l1 2v4l1 1v6l1 1v6l1 1v4l1 2v1l1 2v5l1 2v5l1 1v8l1 2v3l1 1v5l1 2v6l1 1v5l1 1v6l1 1v5l1 1v6l1 1v3l1 1v4l1 2v5l1 1v3l1 1v6l1 2v3l1 2v4l1 2v3l1 1v5l1 1v5l1 1v5l1 2v4l1 1v3l1 1v5l1 1v3l1 1v5l1 1v4l1 1v3l1 1v4l1 1v3l1 1v4l1 1v3l1 1v5l1 1v3l1 1v5l1 1v3l1 1v2l1 1v4l1 1v4l1 1v3l1 1v5l1 1v4l1 1v2l1 1v4l1 1v3l1 1v3l1 1v3l1 1v3l1 1v4l1 1v1l1 1v5l1 1v3l1 1v3l1 1v2l1 1v3l1 1v3l1 1v2l1 1v3l1 1v2l1 1v5l1 1v2l1 1v3l1 1v3l1 1v1l1 1v4l1 1v4l1 1v2"/>
<path vector-effect="non-scaling-stroke" stroke="#45ff30" d="M97 203l-2 3l-1 4l-1 3l-1 4l-2 3l-1 4v3l-1 4l-2 3l-1 4l-1 3l-1 4l-1 3l-1 4v3l-2 4l-1 3l-1 3v7l-2 4l-1 3v3l-2 4v3l-1 3l-1 3l1 4l-1 3l-1 3l-1 3v3l-1 4l-1 3v6l-2 3l-1 3l-1 3v6l1 3l-1 3v3l-2 3l-1 3l-1 3l-1 3l-1 3v3l-1 2l1 3v6l-1 3l-2 2l-1 3v3l-1 3l1 3l-1 2l1 3l-1 3v3l-1 3l-2 2l-1 3v6l1 2v6l-1 3v3l-1 2l-3 3l-1 3v5l1 3l1 3v8l-1 3l-2 3v2l1 3v3l1 3l1 3l-1 2v3l-1 3l-1 3l-1 2v3l1 3v2l1 3l-1 3l1 3l-1 2v3l-1 3l-1 3l-1 2v3l1 3v3l-1 2v11l-2 3l1 3l-1 2l-1 3l1 3l1 2v6l-1 3l1 2l-1 3v3l1 2l-1 3l-2 3v3l1 2l1 3l-1 3v2l1 3l-2 3l1 2v3l-1 3l-1 3l1 2v11l1 3l-2 2v3l-2 3l1 2l-1 3v3l1 2l1 3l-1 3l-1 2l1 3v3l-1 2l-1 3l1 3l-1 2l1 3v3l1 2v3l-3 3v8l1 2l1 3l-2 3l1 2v11l-1 2v3l1 3v5l1 3v2l1 3l-2 3v5l1 2v8l2 3l-1 3l1 2l-1 3v5l-1 3l1 2v8l1 3v13l2 2v3l-1 3v2l1 3v13l1 2v8l1 2l-1 3v4l1 3v2l1 3v7l-1 2l1 3l-1 2v2l1 3v2l1 2v5l1 2l-1 2l1 2v3l-1 2v2l2 2v7l1 2v9l-1 2l1 2v4l1 2l-1 2l1 2v4l1 2v8l1 2l-1 2v2l1 2v4l1 2v6l1 2v4l-1 1l1 2v4l1 2l-1 2v3l1 2v2l1 2v1l1 2v4l-1 1v4l1 2l1 1v4l1 1v7l1 2v3l1 2v6l1 2v1l-1 2l1 1v2l1 2v4l1 2v7l1 2v6l1 1v4l1 2l-1 1v3l1 1v2l1 1l1 2v5l1 1v6l1 1v1l1 2l1 1v1l-1 2l1 1v2l1 2v5l1 1v4l1 1v5l1 1v1l1 1v6l1 1v2l1 2v1l1 1v5l1 1v5l1 1v2l1 1v6l1 1v5l1 1l1 1v1l-1 1l1 1v2l1 1v3l1 1l-1 1v1l1 1v3l1 1v2l1 1v2l1 1v6l1 1v1l1 1v3l-1 1l1 1l1 1v4l1 1v4l1 1v5l1 1v1l1 1l1 1l-1 1v5l1 1v2l1 1v4l1 1v1l1 1l-1 1v1l1 1v1l1 1v3l1 1v6l1 1v3l1 1l-1 1l1 1v1l1 1v3l1 1l1 1v2l1 1v3l-1 1l1 1v1l1 1v1l1 1l-1 1l1 1v3l1 1v3l1 1v1l1 1v4l1 1v1l1 1v3l1 1v3l1 1v2l1 1v2l1 1v3l1 1l-1 1l1 1v3l1 1l1 1l-1 1l1 1v2l1 1v2l1 1l-1 1l1 1v3l1 1l-1 1"/>
<path vector-effect="non-scaling-stroke" stroke="#3fff39" d="M100 193l-1 4v3l-1 4l-2 4l-2 3v4l-1 3l-2 4l-1 3l-1 4l-1 3l-1 4l-2 3l-1 4l-1 3v4l-1 3l-1 3l-1 4l-1 3l-1 4l-1 3l-2 3v7l-2 3v4l1 3l-1 3l-1 4l-1 3l-1 3v3l-1 3v4l-1 3v3l-1 3l-1 3v3l1 3v3l-1 3l-1 3v3l-1 3l-1 3v9l-1 3l-1 3l-1 3v16l-1 3v3l-1 3v3l-1 2v3l-1 3l1 3l1 3l-1 2l-1 3l-1 3v5l-1 3v11l-1 3v6l-1 2l-1 3l-1 3v3l-1 2l-2 3v3l2 3l1 2l-2 3v17l-2 2v3l-2 3l1 3l-1 2v6l-1 3v5l-2 3v3l-1 2l1 3l1 3v11l-1 2l-2 3l-1 3l1 3l-2 2l1 3l-1 3v8l1 3v2l-1 3l1 3v5l-1 3v3l-1 2l-1 3l1 3l-2 2l1 3v3l2 2l-1 3v19l-1 3v2l-1 3v3l-1 2v8l2 3l-2 3l-1 2l1 3l-1 3v2l2 3v3l-1 2l1 3l-1 3l-1 2l1 3l1 3v2l-1 3v5l-1 3v5l-1 3v3l1 2v11l-1 2l1 3v8l-1 3l-1 2l2 3l1 2v19l-1 2l1 3l1 3v13l-1 2l1 3v3l-1 2l1 3v2l1 3v3l1 2l1 3l-1 2v18l1 2v3l1 2l-1 3l1 2v5l1 3v2l1 2l-2 3l1 2v2l1 3l-1 2v5l1 2l1 2v5l-1 2l1 2v7l1 2v5l1 2v8l1 2v11l1 2v4l1 2l1 2v6l1 2v4l1 2l-1 2l1 2v4l1 2v5l1 2v8l1 2v1l1 2v6l1 2v5l1 2v5l1 2v6l1 2v5l1 2v1l1 2v2l-1 1l2 2v8l1 1v2l1 2v6l1 1v3l1 2l-1 1v2l1 1v6l1 2v3l1 1v1l-1 2l1 1v4l1 2v1l1 2v4l1 1v4l1 1v4l1 2l1 1v1l-1 1v2l1 1v1l1 1v2l1 1l-1 1v3l1 1l1 1l-1 1v4l1 1v4l1 1v1l1 1l-1 1l1 1v5l1 1v1l1 1v3l1 1v8l1 1v1l-1 1l1 1l1 1l-1 1l1 1v2l1 1l-1 1l1 1v4l1 1l-1 1l1 1v4l1 1v2l1 1v3l1 1v3l1 1v4l1 1v4l1 1v4l1 1v3l1 1v2l1 1v1l1 1v8l1 1v3l1 1v1l1 1v5l1 1v7l1 1v3l1 1v4l1 1v3l1 1v1l1 1v1l-1 1v1l1 1l1 1v3l1 1v4l1 1v5l1 1v1l1 1v2l1 1l1 1l-1 1v1l1 1v2l1 1v4l1 1v4l1 1v2l1 1v3l1 1v3l1 1v2l1 1v3l1 1v4l1 1v1l1 1v3l1 1v3l1 1v3"/>
<path vector-effect="non-scaling-stroke" stroke="#3aff42" d="M100 196l-2 3v7l-1 4l-2 3l-1 4l-1 4l-2 3l-1 4l-1 3l-2 3v4l-1 3l-1 4l-1 3l-1 4l-1 3l-1 4l-1 3v4l-1 3v3l-1 4l-1 3l-2 3l-1 4v3l-1 3l-1 4v3l-1 3v3l-1 3v7l-2 3v3l-1 3v3l-1 3v3l-2 3l1 3l-1 3v6l-1 3v3l-2 3l-1 3l2 3l-1 3l-2 2v9l-1 3v2l-1 3l-1 3v3l-1 3v8l1 3l-1 3v5l-2 3l1 3l-2 3v2l-1 3v8l-1 3l1 3v3l-2 2v9l-2 3l-1 2l1 3v8l1 3l-2 3v3l1 2l-1 3v3l-1 3l-1 2v9l1 2l-1 3l1 3l-1 2l-1 3l-1 3l-1 3v5l-1 3v5l1 3l-1 3v8l-1 3l-1 2l-1 3v3l1 3l1 2v3l-1 3l-1 2l1 3v6l-1 2v6l-1 2l-2 3l1 3v8l1 3v2l-1 3v3l-1 2v3l-1 3l1 2v3l1 3v10l-2 3l-1 3l1 2v3l1 3l-1 2v11l1 3v5l-1 3l-1 2v3l-1 3v2l1 3l-1 3v5l2 3v2l-1 3v3l1 2l-2 3v3l-1 2l1 3v2l1 3l-1 3v2l2 3l-1 3l-1 2v3l1 3l-1 2l1 3v2l-1 3l2 3l-1 2l1 3l1 3l1 2v3l-1 2v3l-1 3l1 2l-1 3v2l1 3v10l2 3v3l-1 2l1 3v18l1 2l1 3v2l-1 3l1 2v10l1 2l-1 3v4l1 3v2l1 2l-1 3v2l1 2v16l1 2v2l1 3v2l1 2v2l1 2v9l-1 2l1 2v4l1 2v4l1 2v2l1 2v4l1 2v2l1 2l-1 2v2l1 2l1 2v2l-1 2l1 2l1 2l-1 2v2l1 2l1 1v13l1 2v4l1 1l1 2v6l1 1v4l1 1l-1 2l1 2v2l1 1v13l1 2l1 2v3l1 1v8l1 2v1l1 2v9l1 1v2l1 1v3l-1 2v1l1 1v3l1 2v1l1 2v1l-1 1l1 2v1l1 1v3l-1 1v2l1 1l1 2v1l-1 1l1 1l1 2v2l1 2v2l1 1v6l1 1v5l1 1v5l1 1v5l1 1v3l1 1v3l1 1l-1 1l1 1v4l1 1v4l1 1l-1 1l1 1v5l1 1v2l1 1v5l1 1v2l1 1v4l1 1v3l1 1v4l1 1l-1 1l1 1v1l1 1v4l1 1l-1 1l1 1v1l1 1v1l-1 1l1 1v1l1 1v3l1 1v4l1 1v4l1 1v2l1 1l-1 1l1 1v1l1 1l-1 1v2l1 1v1l1 1l-1 1l1 1l1 1l-1 1v2l1 1v2l1 1v4l1 1v2l1 1v5l1 1l-1 1l1 1v1l1 1v1l1 1l-1 1l1 1v3l1 1v3l1 1l-1 1l1 1l1 1v3l1 1v4l1 1v2l1 1v2l1 1v6l1 1v1l1 1v5l1 1l1 1v2l1 1v2l1 1l-1 1v1l1 1v3l1 1v3l1 1l1 1v5"/>
<path vector-effect="non-scaling-stroke" stroke="#45ff30" d="M102 210l-1 4l-1 3l-1 4l-1 3v4l-2 3l-1 4l-1 3l-1 4l-1 3l-1 4l-1 3l-2 3v11l-1 3l-1 3v7l-1 4l-1 3l-2 3l-1 3v4l-1 3l-1 3l-1 3v4l-1 3v3l-1 3l-2 3v3l-1 3v3l1 3l-1 3l-1 3l-1 3l-1 3l-1 3l-1 3v3l-1 3l1 3l-1 3l-1 3l-1 3v2l-2 3l1 3l-1 3l-1 3l1 2l-1 3v9l-1 2v3l-1 3l-1 3l-1 3l-1 2v3l-1 3v11l-1 3l-1 3v2l-1 3l-1 3l-1 3v8l-1 3l1 2l-2 3v6l-2 2v3l-1 3v11l-1 3v2l-1 3l-1 3l1 3v2l-1 3v6l-2 2l1 3v3l-1 3v5l-2 3v2l-2 3v6l-1 2l2 3l-2 3l1 3v10l-1 3v3l-2 3v8l2 2v6l-1 2v3l-1 3v3l1 2l-1 3l-1 3v24l-1 3l1 2v3l1 3v2l-1 3l1 3l-1 2v3l-1 3v2l1 3l-1 3v2l1 3v5l1 3l-1 3v2l1 3l-1 3v2l-1 3v5l1 3l-1 2l-1 3l1 3l-1 2l-1 3v3l1 2l-1 3l1 3v2l2 3l-1 2v3l1 3v2l1 3v3l1 2l-1 3l-1 3v2l1 3l-1 2l1 3l1 3v5l1 2l-2 3v3l1 2l1 3v5l1 3v5l-1 3v10l1 3v2l1 3v7l1 3v19l1 3l-1 2l1 3v2l1 2v10l-1 2l1 2v3l1 2v16l1 2l1 2v4l1 2v3l-1 2l1 2l1 2v6l1 2l1 2v4l1 3l-1 2l1 2v4l-1 2v2l1 2v2l1 1v4l1 2v2l1 2v4l1 2v13l1 2v1l1 2v4l1 2v5l1 2v3l1 2v7l1 1v4l1 1v7l1 1v5l1 2v5l1 1v3l1 2l-1 1l1 2v3l1 1l1 2l-1 1v2l1 1v12l1 1v3l1 2v2l1 2l-1 1l1 1v2l1 1v3l1 1v8l1 1v6l1 1v2l1 2v6l1 1v1l1 1v5l1 1v3l1 1l-1 1v3l1 1v3l1 1v3l1 1v2l1 2v3l1 1v9l1 1v4l1 1l1 1v1l-1 1v1l1 1v3l1 1v2l1 1v4l1 1l1 1l-1 1v1l1 1v4l1 1v6l1 1v4l1 1v1l1 1l-1 1l1 1l1 1v4l1 1l-1 1l1 1v1l1 1v4l1 1v2l1 1l-1 1v3l1 1v2l1 1v3l1 1v2l1 1l-1 1v1l1 1v2l1 1v3l1 1v4l1 1v2l1 1l-1 1l1 1v1l1 1v2l1 1v3l1 1v3l1 1v4l1 1v2l1 1v5l1 1v1l1 1v3l1 1v5l1 1v2l1 1v1l1 1v2l1 1v2l1 1v6l1 1v3l1 1v2l1 1l-1 1l1 1v3l1 1v1l1 1v1l1 1v1"/>
<path vector-effect="non-scaling-stroke" stroke="#3eff3b" d="M99 201l-1 3l-2 4v3l-1 4l-1 3l-1 4l-1 3l-1 4v3l-1 4l-1 3l-2 4l-2 3l-1 4v3l-1 4l-1 3l-2 3l-1 4v3l-1 4v3l-1 3l-1 4l-1 3l-2 3l-1 4v3l-1 3v3l-1 4l-1 3v6l-2 3v3l-1 3v3l-1 3v3l-1 4v3l-1 2l-2 3v3l-1 3l-2 3v6l-1 3l-1 3v3l-1 2v3l-1 3l1 3v8l-1 3l-1 3l-1 3l-2 2v3l-2 3l-1 3l1 3l-1 2v6l-1 3v5l-1 3l-1 3v5l-2 3v6l-1 2l-2 3l-1 3v14l1 2l-1 3l-1 3l-1 3v8l1 3l-1 2v3l-1 3l-1 3l-1 2v3l1 3l-1 3v8l-1 3v8l-2 2v3l1 3v3l-1 2l1 3l-1 3l1 3v2l-1 3l-1 3l1 2v6l1 3v2l-1 3l-2 3l2 2v3l1 3v2l-1 3l1 3l-1 3l-1 2v8l-1 3v8l1 3l-1 2v3l1 3l-1 2v3l-1 3l1 3l1 2l1 3l-1 3l-1 2l1 3v3l-1 2l-1 3l1 3l-1 2l2 3l-2 3l2 2v3l-2 3l-1 2l1 3l1 2l-1 3v3l1 2l-1 3v11l-1 2l1 3v3l1 2v8l-1 3l1 2l-1 3v3l1 2l1 3l1 3v10l1 3v2l1 3l-1 3l1 2v3l1 2l-1 3v8l1 2v8l1 3l-1 3l1 2l-1 3l1 2v5l1 3v5l1 3v10l-1 2l2 3l-1 2l1 2v3l1 2v5l1 2v3l-1 2v5l1 2v7l1 2l1 3l-1 2l1 2v5l-1 2v2l1 2v3l1 2v17l1 2v10l1 2v2l1 2v4l-1 2v2l1 2l1 2v12l1 2v9l1 2v9l1 2v7l1 2v5l1 2l-1 1l1 2v2l1 2v3l1 2v13l1 1l1 2v6l1 2v1l1 2v1l-1 2l1 1l1 2v1l-1 2l1 1v2l1 1v5l1 1v2l-1 1l1 2v2l1 2v3l1 1l-1 1l1 2l1 1l-1 2l1 1v4l1 1v2l1 1v7l2 1v6l1 2l-1 1l1 1v4l1 1v1l1 1v5l1 1v7l1 1v2l1 1v1l1 1v8l1 1v3l1 1v2l1 1v2l-1 1l1 1v2l1 1l-1 1l1 1v3l1 1v1l1 1v2l-1 1l1 1l1 1v5l1 1v3l1 1v3l1 1v4l1 1v4l1 1v2l1 1v1l-1 1l1 1v4l1 1v1l1 1v6l1 1v2l1 1v3l1 1v3l1 1v2l-1 1l1 1v1l1 1v5l1 1v2l1 1v1l1 1v6l1 1v3l1 1v4l1 1v2l1 1v2l1 1v4l1 1v2l1 1v2l1 1v4l1 1v4l1 1l1 1v1l1 1l-1 1v1l1 1v3l1 1v3l1 1v2l1 1v5l1 1v1l1 1v3l1 1l1 1"/>
<path vector-effect="non-scaling-stroke" stroke="#37ff46" d="M92 219l-2 4v7l-2 3l-1 3l-1 4l-1 3l-2 4l-1 3l-1 4l-1 3l-1 4l-1 3l-1 3l-1 4v3l-3 4l-1 3l-1 3v4l-1 3v3l-1 3l-1 4l-1 3v3l-1 3l-1 3l-1 4l-1 3l-1 3l-2 3l1 3l-2 3v6l-1 3v3l-1 3l-1 3l-1 3v3l-2 3v3l-2 2l1 3v3l-2 3v3l-1 2l-1 3l1 3l-1 3v3l-1 2v3l-2 3l-1 3v5l1 3l-1 3v3l-1 3l-1 2v6l-1 3v2l-1 3v3l-2 3v2l-1 3l-1 3v3l1 3l-2 2v9l1 2v6l-1 3l-1 2v3l-1 3l-1 3v2l1 3v3l-1 3v13l1 3l-1 3l-1 3l-1 2l-1 3v3l-1 2v3l1 3l-2 3l1 2v3l-1 3v5l1 3l-1 3l1 2l-1 3v11l1 3l-2 2v6l1 2v3l-1 3l1 3l-2 2v3l1 3l-1 2v6l1 2v3l-1 3l1 2l1 3l-1 3l-1 3l1 2l-1 3v3l-1 2l-1 3v5l1 3v3l-1 2l2 3l-1 3v2l1 3v11l-2 2v3l1 3v5l-1 3v13l1 2v8l-1 3v3l1 2l1 3l-1 3l1 2l1 3v5l1 3v5l1 3v5l1 3l-1 2l1 3v8l1 2v3l1 2v8l1 3v16l1 2v5l1 3v2l1 3v8l1 2l-2 3l1 2v7l1 3v5l1 2v2l-1 3l1 2v3l1 2v2l-1 3l1 2v5l1 2l-1 2l1 2v14l1 2v2l1 2v21l1 2l1 3v2l-1 2v2l1 2l1 2l-1 2l1 2v4l1 2l-1 1l1 2v6l1 2v2l-1 2l1 2v4l1 1v4l1 2l-1 2l1 2v1l1 2v11l1 1v6l1 1v2l-1 2v1l1 2v3l1 2l1 2v6l1 2l1 2v1l-1 2v3l1 1v5l1 2l1 1v6l1 2l-1 1l1 2v4l1 2v5l1 2v1l1 2v1l-1 1l1 2v2l1 2v4l1 1v6l1 1l1 1v7l1 1v2l1 2v2l1 1v5l1 2v4l1 2v5l1 2l1 1v5l1 1v5l1 1v3l1 1v1l1 1v7l1 1v5l1 1v6l1 1v2l1 1l1 1v6l1 1v2l1 1v2l1 1v3l1 1v7l1 1v3l2 1l-1 1v4l1 1v2l1 1v2l1 1v4l1 1v5l1 1v1l1 1l-1 1l1 1v2l1 1v4l1 1v3l1 1v1l-1 1v1l1 1v2l1 1l1 1l-1 1v2l1 1v1l1 1v4l1 1v2l1 1l1 1l-1 1l1 1v1l1 1l-1 1l1 1v2l1 1v2l1 1v3l1 1v1l-1 1l1 1v2l1 1v3l1 1v2l1 1v2l1 1v2l1 1v3l1 1l-1 1l1 1v3l1 1l-1 1l1 1l1 1v3l1 1v2l1 1v4l1 1v3l1 1v4l1 1l1 1v1"/>
<path vector-effect="non-scaling-stroke" stroke="#31ff50" d="M90 241v4l-1 3l-2 4v3l-1 4l-1 3v3l-1 4v7l-2 3l-1 3v4l-2 3v3l1 3v4l-1 3l-2 3l-1 3v4l-1 3l-1 3v6l-1 3v3l-1 3l-1 3l-1 3l-1 3v3l1 3l-1 3l-1 3l-1 3l-1 3v6l-1 2l-1 3l1 3l-2 3v5l-1 3v3l-2 3v3l-1 2v6l-2 3v3l-1 2v6l-1 3l-1 2l-2 3v3l1 3l-1 3l1 2l-1 3l-2 3l-1 3l-2 2l-1 3v6l-1 2v3l-1 3v3l-1 2l-1 3v3l1 3l-1 3l-1 2v11l-1 3v3l-1 2l-1 3v3l1 3l-1 2v3l-2 3l1 3l-1 2v19l-2 3v16l1 3l1 3l-2 3l-1 2l1 3l-1 3l1 2l-1 3l1 3v5l-1 3v8l1 3l-1 2l2 3l-2 3l1 3v5l-1 3v8l-1 2l1 3v3l1 2l-1 3v3l-2 2l1 3l-1 3v5l1 3l-1 2v3l-1 3v2l1 3v8l-1 3v2l1 3v5l-1 3v3l-1 2v8l1 3l1 2l-1 3v3l-1 2l1 3v8l-1 3l1 2v3l1 2l1 3v3l-1 2v3l1 3v10l1 3v5l1 3v2l-1 3v2l1 3v3l2 2l-1 3v10l1 3l-1 2v3l1 3v5l2 2v5l1 3l-1 2v3l1 2l1 2v5l-1 3v2l1 2l-1 3l1 2l1 3l-1 2l1 2v7l1 2l1 3v2l-1 2l1 2v7l1 2l-1 3v4l1 2v2l1 2v3l1 2l-1 2l1 2v8l1 2v6l1 2v2l1 2v6l1 2v8l1 2v4l1 2v13l1 2v5l1 2l1 2v5l1 2v3l1 2v8l1 2v2l1 1v10l1 2v8l1 1v4l1 1v2l1 1v9l1 2v6l1 1l1 2v5l1 2l-1 1l1 1l1 2l-1 1l1 2v2l1 2v4l1 1v4l1 1l-1 2l1 1l1 1v5l1 2l-1 1v1l1 1v2l1 1v4l1 1v2l1 1v2l-1 1l1 1v2l1 2v3l1 1v7l1 1l1 1l-1 1v1l1 1v1l1 2v7l1 1v2l1 1v2l1 1l-1 1v2l1 1v1l1 1l-1 1v1l1 1v3l1 1v2l1 1v5l1 1v1l1 1v5l1 1v1l-1 1l1 1v3l1 1v3l1 1v6l1 1v4l1 1l1 1v6l1 1v1l1 1v3l1 1v4l1 1l-1 1l1 1v4l1 1v1l1 1v4l1 1v4l1 1v6l1 1v1l1 1v4l1 1v2l1 1v6l1 1l1 1v2l1 1v4l1 1l1 1v4l1 1v5l1 1v1l-1 1l1 1v1l1 1v1l1 1v2l1 1v2l1 1v3l1 1v2l1 1l-1 1l1 1v2l1 1v3l1 1v5l2 1v2"/>
<path vector-effect="non-scaling-stroke" stroke="#2aff5b" d="M89 220l-1 4v3l-1 4l-2 3l-1 4l-1 3l-2 4l-2 3v3l-1 4l-1 3l-1 4l-2 3l-1 4v3l-1 3l-1 4l-1 3l-1 3l-1 4v3l-1 3l-2 3v4l-1 3v6l-2 3v4l-1 3l-1 3v3l-1 3v3l-1 3l-1 3l-1 3l-1 3l-1 3v3l-2 3l1 3v5l-1 3l1 3l-3 3l-1 3l1 3l-2 2l-1 3l-1 3v3l-2 3v8l-1 3v3l-1 2l-2 3v3l1 3l-1 2l-2 3l1 3l-1 3v5l-2 3l-1 3l-1 3l1 2v3l-1 3v3l-1 3v2l-1 3l-2 3l-1 3v5l1 3v3l-1 2v3l-1 3l-1 3v5l-1 3l1 3l1 2l-1 3l1 3l-1 3v2l-1 3v3l-1 2v3l-1 3l1 3l1 2l-1 3l1 3v3l-1 2v3l-2 3v2l-1 3v3l2 3v8l-1 2v6l-1 3l1 2v3l-1 3v2l2 3l1 3l-1 2l1 3l-2 3l-1 3v2l-1 3v3l1 2l1 3l-1 3l1 2l-1 3v3l1 2v3l-1 3l1 3v2l2 3l-1 3l-1 2v22l-1 2v3l1 3l-1 2l1 3l1 3l-1 2v5l-1 3l1 3v2l-1 3v3l-1 2l2 3l-1 3l1 2v3l1 3v5l1 2v6l1 2v6l1 2l-1 3l1 3l1 2v8l1 3l-1 2l1 3l1 3v5l1 2v3l-1 3v2l1 3v10l1 3v2l1 3v3l1 2v10l-1 3l1 2v3l-1 2v3l1 2l1 3v7l1 3v2l1 2v3l-1 2l1 2v5l1 2l-1 3l1 2v2l-1 3v2l1 2v2l1 3v2l1 2l-1 2l1 2l-1 3v6l1 2v11l1 2v6l1 2v4l1 2v2l-1 2l1 2v8l1 2v6l1 2l-1 2l1 2v5l1 2v2l1 2l-1 2l1 2v3l1 2v4l1 1l-1 2l1 2l1 2v12l1 1v4l1 1v4l1 1v2l-1 2l1 1v7l1 1v2l1 1v7l1 1v11l1 1l1 2l-1 1v2l1 1v7l1 2v1l1 1v2l1 1l-1 2l1 1v1l1 2v6l1 2v4l1 1v1l1 2v5l1 1v6l1 1v2l1 1v5l1 1v3l1 1v3l1 1v4l1 2v1l-1 1l1 1v2l1 1v5l2 1l-1 1v1l1 1v3l1 1v2l1 1v1l1 1v2l-1 1l1 1v4l1 1v2l1 1v1l-1 1l1 1l-1 1l1 1l1 1v3l1 1v1l1 1v8l1 1v3l1 1v2l1 1v4l1 1l-1 1v1l1 1l1 1v2l2 1v2l-1 1v1l1 1v5l1 1v3l1 1l-1 1v2l1 1v2l1 1v3l1 1v3l1 1v1l1 1v6l1 1v2l1 1l1 1v1l-1 1v1l1 1v2l1 1v1l1 1v1l-1 1v2l1 1v1l1 1v1l1 1v2l1 1v4l1 1v3l1 1v3l1 1v2l1 1v4l1 1l1 1v3l1 1v4l1 1v2l1 1v5l1 1v1l1 1v3"/>
<path vector-effect="non-scaling-stroke" stroke="#23ff66" d="M99 206l-2 3l-1 4l-1 4l-1 3l-2 4l-1 3l-1 4v3l-1 4l-1 3l-1 3l-1 4l-2 3l-1 4l-2 3v4l-1 3l-1 3l-1 4l-1 3l-1 4l-1 3l-2 3v4l-1 3l-1 3l-1 3l-1 4l-1 3l-1 3v3l-1 3v3l1 4l-3 3l-1 3l-2 3v3l-1 3v9l-1 3l-1 3l-1 3l-1 3v5l-2 3v3l-2 3l-2 3v3l1 2l-1 3l1 3l-1 3l-1 3l-1 2v9l-1 2l-2 3l-1 3l-1 3l1 3l-1 2v9l-1 2l-1 3l-1 3v6l1 2l-2 3v3l-2 3v5l-1 3v3l1 2l-1 3v3l1 3l-2 2l-1 3l1 3l-1 3v2l-1 3v11l1 3l-1 3v2l-2 3v3l-1 3v5l-1 3v5l-1 3l1 3v5l-1 3v11l-1 2l-1 3l1 3v3l1 2v3l1 3l-1 2v3l1 3l1 3v2l-1 3l-1 3l-1 2v8l1 3v3l-1 3v10l-1 3l1 3v8l-1 2l1 3v5l2 3l-1 3v5l-1 3l1 2l-1 3l1 3l-1 2l-1 3l1 3l-1 2v8l1 3l1 3v2l-2 3l1 3l-1 2l1 3v5l-1 3v8l-1 2l2 3v26l1 3l1 3l1 2l-1 3l1 3v2l1 3l-1 2v3l-1 3l2 2l-1 3v8l1 2l2 3v3l-1 2l-1 3l1 2l1 3v10l1 3v10l1 2v5l1 3v2l1 3v4l-1 3l1 2l-1 3v2l1 2l1 3v4l1 3v2l-1 2l1 2l1 3v6l-1 3l1 2v2l1 2l-1 3l1 2v6l1 2v2l1 3l-1 2v2l1 2v10l1 2l-1 2v2l1 2v4l1 2l-1 2v2l1 2v8l1 2v2l1 1l-1 2l1 2v6l1 2v7l1 2v7l1 2v5l1 1v6l1 1l-1 2l1 2l-1 1l1 2v3l1 2v5l1 1v4l1 1v5l1 1v5l1 2l-1 1l1 2v1l1 2l-1 1v2l1 1l1 2l-1 1v2l1 1v3l1 1v6l1 1l-1 2l1 1v2l1 1v4l1 1v3l1 1v3l1 1v5l1 2v4l1 1v5l1 1v4l1 1v1l1 1v2l-1 1l1 1l1 1v5l1 1l-1 1l1 1v6l1 1v2l1 1l1 1l-1 1l1 1v4l1 1v1l1 1l-1 1v1l1 1v1l1 1l-1 1l1 1l-1 1l1 1v1l1 1v6l1 1v3l1 1v1l1 1v3l1 1v1l-1 1v1l1 1l1 1v6l1 1v5l1 1v2l1 1v3l1 1v5l1 1v3l1 1v4l1 1v2l1 1v2l-1 1l1 1l1 1v3l1 1v1l-1 1l2 1l-1 1v1l1 1v5l1 1v2l1 1v3l1 1v4l1 1v3l1 1v4l1 1v2l1 1v2l1 1v2l1 1v4l1 1v2l1 1v2l1 1v2l1 1v1l1 1l-1 1l1 1v2l1 1v1l-1 1l1 1v2l1 1v2l1 1v4l1 1v2l1 1v2l1 1v4l1 1v2l1 1v3l1 1v1l1 1v3"/>
<path vector-effect="non-scaling-stroke" stroke="#1dff70" d="M95 236l-1 3l1 4l-1 3l-2 4v3l-1 4l-1 3l-1 4v3l-1 3v4l-1 3l-1 3l-1 4v3l-1 3l-2 4l1 3l1 3l-2 3v4l-1 3l-2 3v3l-2 3v3l-2 3l-1 3l-1 3v4l-1 3l-1 3l1 3l-1 3l-2 2l2 3l-2 3v3l-1 3l-1 3l1 3l-2 3l-1 2l-1 3l-1 3v6l-1 2v3l-2 3v3l1 3l-1 2l-1 3l-1 3v6l1 2l-1 3l-1 3l-1 3l-1 2l-1 3v3l-2 3v5l-1 3v6l-1 2v6l1 3l-2 2l1 3l-1 3v3l-1 2l-1 3l-1 3l-1 3v5l-1 3l1 3v2l-1 3l1 3l-1 3v2l-2 3l1 3l1 3l-1 2v3l-2 3v3l1 2v3l-2 3v2l-1 3v3l-1 3v5l-1 3v5l-1 3l2 3v2l1 3l-1 3l1 3l-1 2v3l-1 3l1 2v3l-1 3v2l-1 3l-1 3l1 3v2l-2 3v3l1 2v8l1 3v3l-1 2l1 3l-1 3l-1 3l-1 2l1 3v5l1 3v3l-2 2l-1 3l1 3v10l1 3v3l1 2l-1 3l-1 3v5l-1 3v2l-1 3l1 2v8l-2 3l1 3v5l1 3l-1 2l3 3l-1 3v7l1 3v3l-1 2v19l1 2v11l1 2l-1 3l1 3l1 2l1 3l-1 3l1 2v3l-1 2v16l1 3v5l1 2v5l-1 3l1 2v3l1 2l1 3v5l-1 2l1 2v8l1 2l-1 2v5l1 2v7l1 2v5l1 2v2l-1 3v2l1 2v5l1 2v2l1 2v6l1 3l-1 2l1 2l-1 2l1 2l1 2v8l1 2v4l1 2v2l1 2l1 2v6l-1 2l1 2v2l1 2v9l1 2v2l1 2v2l-1 1l1 2v2l1 2v5l1 2v5l1 2v3l1 2v2l1 2l-1 1l1 2v5l1 2v4l1 2v5l1 1v5l1 2v4l-1 2l1 1l1 2v3l1 1v3l1 2v3l1 1l-1 2l1 1v6l1 1v5l1 1v5l1 2l-1 1v1l1 2v1l1 1v4l1 2v2l1 1v2l1 1v1l-1 2l1 1v1l1 1l-1 2l1 1v1l1 1l-1 1l1 2v2l1 1l-1 1v2l1 1v2l1 1v4l1 1v3l1 1v1l-1 2l1 1v4l1 1v3l1 1l-1 1v1l1 1v1l1 1l-1 2v3l1 1l1 1v2l1 1v4l1 1v4l1 1v5l1 1l1 1v1l-1 1l1 1v5l1 1v2l1 1l-1 1l1 1v2l1 1v3l1 1v2l1 1v3l-1 1l1 1l1 1v3l1 1v5l1 1v5l1 1v4l1 1v2l1 1v3l1 1v3l1 1l-1 1l1 1v4l1 1v2l1 1v1l1 1l-1 1l1 1v2l1 1v1l1 1v1l-1 1l1 1v3l1 1v2l1 1v2l1 1v6l1 1v1l1 1v4l1 1v1l1 1v3l1 1v2l1 1v6l1 1l1 1l-1 1l1 1v2l1 1v1l1 1l-1 1v1l1 1v2l1 1v4l1 1l1 1v2l1 1l-1 1l1 1v4"/>
<path vector-effect="non-scaling-stroke" stroke="#19fe79" d="M100 230l-2 3v4l-1 3v4l-1 3v4l-1 3l-1 4l-1 3l-1 3v4l-1 3l-1 4l1 3l-1 3v4l-1 3l-1 3l-1 4l-1 3l-1 3l-1 3l-1 3l-1 4l1 3l-2 3v6l-1 3l-2 3v3l-1 3l-1 3v6l-1 3l-1 3v3l-1 3l-1 3l-1 3v3l-3 3v2l-1 3v3l1 3l-2 3v8l-1 3v3l-1 2l-1 3v6l-1 3l-1 2l-1 3v14l-3 3l1 3l-2 2v9l-1 2l-1 3v11l-1 3v3l-2 2v3l-1 3v3l-2 2l1 3v6l-1 2v3l-1 3v3l-1 2l1 3v6l-1 2v6l-1 3l-1 2l-1 3l1 3v3l-1 2v3l-1 3v5l1 3v11l-1 2l-1 3l1 3l-1 3v2l-1 3l-1 3v2l1 3v3l1 3v2l-1 3l-1 3l1 2l-1 3v16l-1 3l1 3v2l-2 3v8l-1 3l-1 2l2 3l-1 3v2l1 3v3l-1 2v3l1 3v2l-1 3l-1 3v10l1 3v3l-1 2l1 3l1 3l-2 2l-1 3l-1 3v13l-1 2l1 3v5l1 3l-1 3l1 2l-1 3v8l1 2v3l1 3v5l2 2l-1 3v5l-1 3l1 3l-1 2v3l1 2v3l1 3l1 2l1 3l-1 2l1 3l-1 3v2l-1 3v5l1 3l1 2v8l1 2l-1 3l2 2v3l-1 2v8l1 2v5l1 2v5l-1 3v2l1 2v7l1 3v2l1 2l-1 2v3l1 2v7l1 2v4l1 2v7l1 2v6l1 2v7l1 2v4l1 2v8l1 2v4l1 2v2l1 2v4l1 1v4l1 2v6l1 2v7l1 2v5l1 2v3l1 2v5l1 2v4l1 1v7l1 2v1l1 2v5l1 1v5l1 2v5l1 1v6l1 2v6l1 1v5l1 1v3l1 2v5l1 2v4l1 1v4l1 2v4l1 1v4l1 1v3l1 1v4l1 1v5l1 2v3l1 2v6l1 1v1l1 1v6l1 1v6l1 1v5l1 1v3l1 2v3l1 1v5l1 1v4l1 1v3l1 1v3l1 1v6l1 1v4l1 1v2l1 1v4l1 1v3l1 1v6l1 1v3l1 1v3l1 1v5l1 1v4l1 1v4l1 1v2l1 1v3l1 1v5l1 1v2l1 1l-1 1l1 1v4l1 1v3l1 1v3l1 1v3l1 1v2l1 1v4l1 1v3l1 1v4l1 1v3l1 1v3l1 1v2l1 1v4l1 1v2l1 1v3l1 1v2l1 1v4l1 1v2l1 1v4l1 1"/>
<path vector-effect="non-scaling-stroke" stroke="#15fe82" d="M89 238l-1 3l-1 4l-1 3v10l-1 4l-2 3l-1 4l-2 3v3l-1 4v6l-1 4l-1 3v3l-1 3l-1 4l-1 3l-1 3l-1 3l1 3l-1 4l-1 3v3l-1 3l-1 3l-1 3l-2 3l1 3l-1 3v3l-1 3v6l-2 3v3l-1 2l-1 3l1 3l-2 3l-1 3v3l-1 2v3l-1 3v3l-1 3l1 2l-2 3l-1 3v8l-1 3v3l-1 3v2l-2 3l-1 3v6l-1 2l-2 3v6l1 2v3l-1 3l-1 3l-1 2v3l-1 3v3l1 2v3l-1 3v6l-2 2v6l-2 3v2l1 3l-1 3l1 3l-1 2v3l-1 3v2l-2 3v3l-1 3v5l1 3v11l-1 3v2l-2 3v5l1 3v6l-1 2l-1 3v5l-1 3l1 3v5l1 3l-1 3l1 2l-1 3l1 3v2l-2 3v30l-1 2v8l1 3v3l-1 2l1 3l-1 3v21l-3 3l2 2v8l-1 3v11l1 2l-1 3v3l1 2v6l-1 2v3l1 3l-1 2l1 3v2l1 3v5l1 3v18l1 3l-1 3l1 2v3l1 2l-1 3v3l1 2v3l1 3v2l-1 3l2 2v6l-1 2l1 3v10l1 3l1 2v5l-1 3v2l1 3v7l1 3l-1 2v3l1 2v7l1 3l-1 2l1 2v3l1 2l-1 2l1 3v7l1 2v13l1 2v5l1 2l-1 2l1 2v2l1 2v3l1 2v4l1 2l-1 2l1 2v4l1 2v4l-1 2l1 2v2l1 2l1 2v4l1 2l1 2v2l-1 2l1 2v7l1 2v2l1 2v2l1 1l-1 2l1 2v7l1 2v4l1 1l1 2v4l-1 1l1 2v2l1 1v2l-1 2l1 1v2l1 2v6l1 2v6l1 2v1l1 2v3l1 2v7l1 2v4l1 2v4l1 1v3l1 2v1l-1 2l1 1v3l1 1v3l1 1l-1 2v1l1 1v6l1 1v1l1 2v1l1 1l-1 2v1l1 1v1l1 2v5l1 1v6l1 1v5l1 1l1 1v6l1 1v5l1 1v6l1 1v4l1 1v5l1 1v4l1 1v3l1 1v4l1 1v6l1 1v3l1 1v3l1 1v3l1 1v1l1 1v7l1 1v4l1 1v4l1 1v3l1 1v2l1 1v6l1 1v2l1 1v1l1 1v3l-1 1l1 1v3l1 1v5l1 1v3l1 1v4l1 1v2l1 1l1 1v3l1 1v3l1 1l-1 1l1 1v3l1 1v5l1 1v2l1 1v2l1 1v4l1 1l1 1l-1 1l1 1v2l1 1v5l1 1v2l1 1v2l1 1v1l1 1v4l1 1v4l1 1l1 1v2l1 1l-1 1v1l1 1v2l1 1l1 1l-1 1v1l1 1v1l1 1v4"/>
<path vector-effect="non-scaling-stroke" stroke="#11fe8b" d="M109 199l-1 3l-1 4l-1 4l-1 3l-1 4l-1 3l-1 4v3l-2 4l-1 3l-1 4v3l-1 4l-1 3v10l-1 4v3l-1 4v3l-2 3v4l-1 3v3l-1 4l-1 3l-1 3v3l-2 4v3l-1 3l1 3l-1 3v4l-1 3l-2 3l-1 3l-1 3v6l-1 3l-1 3l-1 3v9l-1 3l-1 3l-1 2l-1 3l-1 3v6l-1 3l-1 2l-1 3v6l1 3l-1 2l1 3l-1 3v3l-2 2l-1 3l-1 3v3l-1 3v5l-1 3v11l-1 3v3l-2 2l-1 3l-1 3l-1 3v2l-1 3v3l1 3v2l-1 3v9l-2 2l1 3l-1 3l-1 3v2l-2 3v3l-1 2v17l-1 3v2l-1 3l-1 3l-1 3v5l-1 3l-1 2v6l-1 3v2l-1 3l1 3v3l1 2l-2 3l1 3l-1 2v3l-2 3l1 3l-1 2v3l1 3v5l-2 3l1 2l-2 3l1 3v8l-1 3v2l-1 3v5l1 3l-1 3v2l-1 3l1 3v2l1 3l-1 3v2l-1 3l1 3l-1 2v3l1 3l1 3v2l-2 3v8l-1 2l1 3l1 3l-1 2l-1 3v3l1 2v6l-1 2l-1 3v11l1 2v3l1 3v15l1 3l1 3l-1 2v19l1 2v3l-1 2v6l-1 2l2 3v5l1 3v8l1 2l-1 3v10l1 3v2l1 3l-1 2v5l1 3v2l1 3v2l-1 3l1 2v15l1 2v19l1 2v4l1 3v11l1 2v2l1 2v4l1 2v3l1 2v2l1 2v4l1 2v8l1 2v2l1 2v4l1 2v4l1 2v4l1 2v2l1 2v3l1 2v2l1 2v7l1 2v4l1 2v3l1 2v3l1 2v4l1 1v5l1 2v5l1 2v3l1 2v4l1 2v5l1 1v5l1 2v6l1 1v5l1 1v5l1 1v6l1 1v6l1 1v6l1 1v4l1 1v3l1 1v4l1 2v5l1 1v2l1 2v5l1 1v3l1 2v5l1 2v4l1 1v4l1 1v5l1 1v3l1 1v4l1 1l-1 1v1l1 1v3l1 1v4l1 1v3l1 1v5l1 1v2l1 1l-1 1l1 1v3l1 1v3l1 1v3l1 1v4l1 1l-1 1l1 1v4l1 1v3l1 1v3l1 1v4l1 1v3l1 1v2l1 1v5l1 1v4l1 1v5l1 1v4l1 1v3l1 1v2l1 1v4l1 1v3l1 1v3l1 1v3l1 1v3l1 1v4l1 1v4l1 1v2l1 1v3l1 1v3l1 1v3l1 1v2l1 1v2l1 1v4l1 1v2l1 1v3l1 1v2l1 1v2"/>
<path vector-effect="non-scaling-stroke" stroke="#3aff42" d="M74 288l-1 3l-1 3l-1 3v13l-1 3l-2 4v3l-1 3l-1 3v12l-1 3l-1 3l-1 3l-1 3l-1 3l-1 3v8l1 3l-1 3l-1 3l-1 3l-1 3l-1 2v3l-1 3v3l-1 3l1 2v3l-1 3v3l-1 2l-2 3v3l-2 3v5l-1 3v6l-1 3v5l-1 3l-1 3l-1 2l-1 3v3l-1 3l-1 2l1 3l-1 3v5l-1 3v3l-1 3l-1 2v3l-1 3v14l-1 2l-1 3l-1 3v3l-1 2l-1 3v6l1 2l-1 3v8l-1 3l-2 3v5l-1 3v8l-1 3v5l-1 3l-1 3v5l-1 3v8l-1 3v2l-1 3v3l-1 2l1 3l-1 3v5l-1 3v3l-1 2l-1 3v19l-1 2l-1 3v13l1 3v5l1 3v3l-1 2v3l-1 3v10l1 3v13l1 3v5l-1 3v5l1 3v8l1 2v6l-1 2l-1 3v5l1 3v5l1 3v10l-1 3v15l1 3v10l-1 3v8l1 2v6l1 2v5l1 3l-1 2v3l-1 2v3l1 2v5l1 2l1 3v19l1 2v5l1 2v16l1 2v6l1 2v7l1 2v4l1 2v7l1 2v8l1 2v4l1 2v4l1 2l-1 1l1 2v4l1 2v6l1 2v7l1 2v7l1 2v2l1 2v7l1 1v5l1 2v5l1 2v5l1 1v5l1 2v3l1 2v6l1 2v6l1 1v6l1 2v4l1 2v5l1 2v4l1 1v6l1 1v6l1 1v1l1 2v2l1 2l-1 1l1 1v4l1 1v7l1 1v3l1 2v4l1 2v1l1 1v5l1 1v5l1 1v5l1 1v5l1 1v5l1 1v3l1 1v6l1 1v5l1 1v1l1 1v4l1 1v2l1 1v4l1 1v3l1 1v5l1 1v4l1 1v2l1 1v5l1 1v2l1 1v3l1 1v4l1 1v3l1 1v3l1 1v5l1 1v2l1 1v5l1 1v3l1 1v3l1 1v3l1 1v2l1 1v2l1 1v4l1 1v1l1 1v4l1 1v2l1 1v4l1 1v2l1 1v3l1 1v2l1 1v3l1 1v3l1 1v2l1 1v2l1 1v4l1 1v1l1 1v4l1 1v1l1 1l-1 1l1 1v2l1 1v3l1 1v1"/>
<path vector-effect="non-scaling-stroke" stroke="#35ff49" d="M82 285l-1 3v3l-1 3l-1 4v9l-1 3l-1 4l-1 3l-1 3v3l-1 3l-1 3v3l-1 3v6l-1 3l-1 3l-1 3l-1 3v3l-1 3l-1 3l-1 3v5l-1 3v6l-1 3l-1 2v3l-1 3l-1 3l-1 2v3l-1 3v3l-1 3v5l-1 3v3l-1 3v2l-1 3l-1 3l-1 3l-1 2v3l-1 3v6l-1 2v6l-1 3l-1 2l-1 3l-1 3v5l-1 3l1 3l-1 3v11l-1 2l-1 3v3l-1 3l-1 2l-1 3v3l1 3v13l-1 3l-1 3l-1 2l-1 3v3l-1 3v8l-1 2v9l-2 2v3l-1 3l-1 2v3l-1 3l1 3l-1 2v6l-1 2v6l-1 3l-1 2l-1 3l-1 3v2l-1 3v16l-1 3l-1 2v6l-1 3v2l-1 3v11l1 2v6l-1 2v6l-1 2l1 3v11l1 2l-1 3l1 2l-1 3v19l-1 2l1 3v10l-1 3l1 3v2l1 3l-1 3v2l1 3v3l-1 2v26l1 3l-1 3v18l1 2v13l1 3v12l1 3v10l1 2v9l1 3v14l1 2v2l1 3v11l1 2v6l1 3v4l1 2v4l1 2v7l1 2v10l1 2v4l1 2v4l1 2v4l1 1v6l1 2v11l1 2v4l1 2v3l1 2v5l1 2v7l1 2v3l1 2v5l1 1v7l1 1v4l1 1v7l1 1v6l1 2v6l1 1v3l1 2v6l1 1v3l1 1v7l1 2v5l1 1v6l1 1v3l1 1v4l1 1v3l1 1v10l1 1v3l1 2v2l1 1v4l1 1v4l1 1v5l1 1v5l1 1v8l1 1v3l1 1v4l1 1v3l1 1v3l1 1v4l1 1v5l1 1v2l1 1v4l1 1v3l1 1v4l1 1v3l1 1v3l1 1v4l1 1v4l1 1v4l1 1v4l1 1v2l1 1v4l1 1v4l1 1v1l1 1v5l1 1v2l1 1v3l1 1v3l1 1v2l1 1v4l1 1v1l1 1v4l1 1l1 1v3l1 1v5l1 1v1l1 1v3l1 1v2l1 1v4l1 1v2l1 1v2l1 1v3l1 1v2l1 1v3l1 1v2l1 1v2l1 1v4l1 1v1"/>
<path vector-effect="non-scaling-stroke" stroke="#31ff50" d="M67 286v3l-1 3l-1 3l-1 4l-1 3v3l-1 3l-1 3v4l-1 3v3l-1 3v3l-1 3l-1 3v3l-1 3l-1 3l-1 3l-1 3v9l-1 3l-1 3v5l-1 3l-1 3l-2 3l-1 3v8l-1 3v5l-1 3l-1 3l-1 3l-1 2v3l-1 3l-1 3v5l-1 3l1 3l-1 3v2l-1 3l-1 3l-1 3l-2 3l-1 2v9l-1 2v9l-1 2v3l-1 3l-1 3v2l-1 3v3l1 3v13l-1 3v3l-1 3v5l-1 3l1 3l-1 2l-1 3l1 3v2l-1 3v3l-1 3v11l-1 2v11l-1 3l1 3v10l-1 3v3l-1 3v2l-1 3v21l-1 3v3l-1 3l-1 2v3l-1 3v2l1 3v16l-1 3v2l-1 3v3l1 2v6l1 2v11l-1 3v2l-1 3l1 3v10l1 3v2l-1 3l1 3l-1 2v6l1 2l-1 3v3l1 2v29l-1 3l1 2v13l1 3v5l-1 3v3l1 2v8l-1 3v5l1 2l1 3v5l1 3l-1 2l1 3v2l-1 3v2l1 2v10l1 3l1 2v14l1 2v16l1 3l1 2v15l1 2v5l1 2v4l1 2v4l1 2v8l1 2l-1 2l1 2v4l1 2v6l1 2v6l1 2v5l1 2v9l1 2v2l1 2v9l1 1v2l1 2v3l1 2v8l1 2v5l1 2l-1 1l1 2v3l1 2v4l1 2v5l1 1v8l1 1v6l1 2v5l1 2v3l1 1v4l1 2v4l1 1v4l1 1v8l1 2v2l1 1v2l1 1v5l1 1v5l1 1v5l1 1v7l1 1v3l1 1v6l1 1v3l1 1v4l1 1v7l1 1v3l1 1v3l1 1v3l1 1v4l1 1v2l1 1v4l1 1v4l1 1v2l1 1v5l1 1v3l1 1v3l1 1v4l1 1v2l1 1v4l1 1v2l1 1v4l1 1v4l1 1v3l1 1v3l1 1l-1 1v1l1 1v2l1 1v3l1 1v2l1 1v3l1 1v3l1 1v1l1 1v4l1 1v3l1 1v3l1 1v2l1 1v4l1 1v2l1 1v3l1 1v2l1 1v2l1 1v4l1 1v2l1 1v2l1 1v3l1 1v3l1 1v3l1 1v1l1 1v2l1 1v4l1 1v2"/>
<path vector-effect="non-scaling-stroke" stroke="#2cff57" d="M75 291l-2 3l-1 4v3l-1 3l-1 3v13l-1 3v3l-1 3l-1 3l-1 3l-1 3v3l-1 3l-1 3l-1 3l1 3l-1 3v6l-1 3v2l-1 3l-1 3l-1 3l-1 3v3l-1 2v6l-1 3v2l-1 3v6l-1 3l-1 2v3l-1 3l-1 3v3l-1 2l-1 3v3l-1 3l-1 2v3l-1 3v6l-1 2v3l-1 3v3l-1 2v3l-1 3l-1 3v5l-1 3v5l-1 3v6l-1 2v6l-1 3v2l-1 3v3l-1 3v2l-1 3v5l-1 3v6l-1 2v3l-1 3l-1 3v13l-1 3v5l-1 3l-1 3v2l-1 3v6l-1 2v17l-1 2l-1 3v3l-1 2v3l-1 3l-1 2v6l-1 2l1 3v8l-1 3v5l-1 3v13l1 3l-1 3v8l1 2v3l-1 3l1 2v16l-1 3l1 2v24l1 3v10l-1 3v3l1 2v3l-1 3v2l1 3v13l1 2l-1 3v18l1 3v5l-1 3l1 2v3l1 3l-1 2v5l1 3v10l1 2v12l1 3v2l-1 3l1 2v5l1 2v7l1 2v14l1 2l-1 2l1 3v4l1 2l1 2v9l1 2v4l1 2v13l1 2v4l1 2v2l1 2v6l1 2v7l1 2v8l1 2v5l1 2v7l1 2v3l1 2v7l1 2v3l1 2v7l1 1v5l1 2v6l1 2v3l1 2v4l1 2v6l1 1v3l1 2v9l1 1v6l1 1v6l1 1v1l1 2v6l1 2v2l1 2l-1 1l1 1v3l1 1v5l1 1v5l1 1v5l1 1v3l1 1l-1 1l1 1v4l1 1v4l1 2v3l1 1v2l1 1v7l1 1v5l1 1v4l1 1v4l1 1v4l1 1v3l1 1v3l1 1v4l1 1v4l1 1v1l1 1l-1 1l1 1v4l1 1v4l1 1v4l1 1v2l1 1v5l1 1v2l1 1v3l1 1v3l1 1v4l1 1v4l1 1v2l1 1v6l1 1v2l1 1v2l1 1v3l1 1v3l1 1v1l1 1v3l1 1v3l1 1v2l1 1v4l1 1v1l1 1v3l1 1v3l1 1v3l1 1v2l1 1v3l1 1v3l1 1v3l1 1l1 1v1"/>
<path vector-effect="non-scaling-stroke" stroke="#28ff5e" d="M66 294v10l-1 3l-1 3v3l-1 3l-1 4v6l-2 3v3l-1 3l-1 3v3l-1 3v6l-1 3v3l-1 3l-2 2v3l-1 3v9l-1 2l-1 3l-2 3v3l-1 3l-1 2v9l-1 3v2l-1 3l-1 3l-1 3l-1 2l-1 3l-1 3l-1 3v5l-1 3v3l-1 3v8l-1 3v2l-2 3l-1 3l-1 3v3l-1 2l1 3v11l-1 3l-1 3l-1 2v9l1 2l-1 3l-1 3v3l-1 2v8l-1 3l1 3v5l-1 3v3l-1 3l-1 2v19l-1 3v5l1 3v8l-1 3l-1 3v2l-1 3v6l1 2v11l-1 3v5l-1 3v2l1 3v3l-1 2v3l-1 3v11l1 2v3l-1 3v8l-1 2v6l1 2v24l1 3v2l-1 3l-1 3v10l1 3v3l1 2v8l-1 3l-1 2v3l1 3v26l1 3v7l-1 3v5l1 3l-1 2v16l1 3v5l1 2v5l1 3v5l-1 3l1 2v7l1 3v7l1 2v15l1 2v9l1 2v9l1 2v3l1 2v13l1 2v2l1 2v4l1 2v7l1 2v6l1 2v4l1 2v9l1 2v8l1 2v3l1 2v9l1 2v5l1 2v4l1 1v7l1 2v3l1 2v7l1 1v4l1 1v8l1 2v6l1 2v4l1 2v4l1 2v5l1 2v6l1 1v4l1 2v4l1 1v7l1 1v4l1 1v4l1 2v2l1 1v4l1 1v7l1 1v5l1 1v4l1 2v5l1 1v4l1 1v2l1 1v4l1 1v1l1 1v9l1 1v5l1 1v3l1 1v4l1 1v2l1 1v3l1 1v3l1 1v4l1 1v3l1 1v4l1 1v3l1 1v3l1 1v5l1 1v3l1 1v4l1 1v2l1 1v4l1 1v3l1 1v4l1 1v4l1 1v2l1 1v4l1 1v3l1 1v2l1 1v3l1 1v3l1 1v3l1 1v1l1 1v3l1 1v3l1 1v3l1 1v3l1 1v3l1 1v3l1 1v1l1 1v2l1 1v3l1 1v4l1 1v1l1 1v4l1 1v2l1 1v3l1 1v2l1 1v4l1 1v2"/>
<path vector-effect="non-scaling-stroke" stroke="#24ff65" d="M62 280l-1 3l-1 3l-1 4v3l-1 3l-1 3v4l-1 3v3l-1 3l-1 3l-1 3l-1 4l-1 3l-1 3l-1 3v6l-1 3l-1 3v3l-1 3l-1 3v3l-2 3l-1 2l-1 3v3l-1 3l-1 3v5l-1 3l-1 3v6l-2 2l-1 3v3l-1 3v5l-1 3l-1 3v3l-1 2l-1 3l-1 3v3l-1 3l-1 2v3l-1 3v5l-1 3l-2 3l-1 3l-1 3l-1 2l-1 3l-1 3v8l1 3v3l-1 2v6l-1 3l-1 2l-1 3v3l-1 3v11l1 2v9l-1 2v19l-1 3v8l1 3l-1 3v2l1 3v8l-1 3v5l-1 3v11l-1 3l1 2l1 3l-1 3l1 2v6l-1 2v3l-1 3v5l-1 3v5l1 3v3l1 2v6l-1 2v6l-1 2v3l-1 3v13l1 3v16l-1 2v6l1 2v5l-1 3l1 3v8l1 2l1 3l-1 3l1 2v13l-1 3v3l1 2v6l1 2v3l1 2v13l-1 3v3l-1 2l1 3l1 3v5l1 2v6l1 2v8l1 3l-1 2l1 3v2l-1 3l1 2v5l1 3v9l1 3v12l1 2v21l1 2v2l1 2v7l1 2v2l1 3v8l1 2v11l1 2v4l1 2v6l1 2v6l1 2v4l1 2v7l1 2v6l1 2v7l1 2v5l1 2v5l1 2v3l1 2v5l1 2v7l1 1v7l1 1v5l1 2v4l1 2v5l1 1v8l1 1v5l1 1v4l1 2v5l1 2v4l1 1v4l1 2v5l1 1v6l1 1v2l1 2v6l1 1v4l1 1v5l1 1v6l1 1v2l1 2v4l1 1v6l1 1v4l1 1v4l1 1v6l1 1v3l1 1v2l1 1v2l1 1v4l1 1v4l1 1v4l1 1v4l1 1v3l1 1v2l1 1v2l1 1v4l1 1l-1 1l1 1v2l1 1v3l1 1v3l1 1v4l1 1v4l1 1v3l1 1v1l1 1v5l1 1v3l1 1v3l1 1v4l1 1v2l1 1v3l1 1v2l1 1v5l1 1v1l1 1v5l1 1v2l1 1v2l1 1v3l1 1v3l1 1v3l1 1v2l1 1v2l1 1v3l1 1v2l1 1v4l1 1v3l1 1v1l1 1v3"/>
<path vector-effect="non-scaling-stroke" stroke="#1fff6c" d="M79 253l-1 3l-1 4l-2 3v4l-1 3l-1 4l-1 3l-2 3l-1 4l-2 3l-1 3l-1 3v4l-1 3v3l-1 3v4l-1 3l-1 3v6l-1 3l-1 3v3l-1 3l-1 3l-1 3l-1 3v3l-1 3l-1 3l-1 3v3l-1 3v3l-1 3v2l-1 3v6l-1 3l-1 2l-1 3l-1 3v3l-1 3l-1 2l-1 3l-1 3v3l-1 3l-1 2v3l-1 3v3l-1 2v3l-1 3v8l-1 3l-1 3l-1 3l-1 2l-1 3l-1 3l-1 3v2l-1 3v17l1 3l-1 2v6l-1 3v11l-1 2l-1 3v3l-1 2v9l-1 2l1 3v16l-1 3v6l-1 2v27l1 3v8l-1 3l1 3v2l-1 3v8l-1 3l1 3l-1 2v6l-1 2v6l1 2l-1 3v8l1 3v13l-1 3v2l-1 3l1 3v5l-1 3l1 2v11l1 3v2l-1 3v3l1 2v3l-1 3v26l1 3l-1 2v53l1 2v5l-1 3l1 3v20l1 3v5l1 2v12l1 3v7l1 2v12l1 2v5l1 2v13l1 2v5l1 2v8l1 3v2l1 2v6l1 2v4l1 2v4l1 2v12l1 2l1 2v9l1 2v6l1 2v3l1 2v7l1 2v4l1 1v6l1 1v5l1 2v7l1 1v9l1 1l1 2v5l1 1l-1 2l1 1v5l1 1v5l1 1v5l1 1v5l1 1v2l-1 1l1 1v5l1 1v4l1 2v4l1 1v4l1 1v4l1 2v5l1 1v2l1 2v3l1 2v5l1 1v3l1 1v5l1 1v7l1 1v5l1 1v5l1 1v1l1 1v6l1 1v4l1 1v5l1 1l-1 1l1 1v1l1 1v4l1 1v2l1 1v6l1 1v4l1 1v5l1 1v3l1 1v2l1 1v3l1 1v5l1 1v2l1 1v3l1 1v4l1 1v4l1 1v6l1 1v3l1 1v4l1 1v2l1 1v3l1 1v2l1 1v2l1 1v2l1 1v3l1 1v3l1 1v2l1 1v2l1 1v3l1 1v3l1 1v4l1 1v3l1 1v1l1 1v4l1 1v2l1 1v2l1 1v2l1 1v3l1 1v2l1 1v2l1 1v3l1 1v1"/>
<path vector-effect="non-scaling-stroke" stroke="#1cff72" d="M74 265l-1 4v3l-2 4l-1 3l-1 3l-1 4l-1 3l-1 3l-1 4l-1 3v3l-1 3v3l-1 4v3l-1 3l-1 3v3l-1 3l-2 3v6l-1 3v3l-1 3v3l-1 3l-1 3v6l-1 3v5l-1 3l-1 3l-1 3v3l-1 2l-1 3v3l-1 3l-1 3v5l-1 3l-1 3v3l-1 2v3l-1 3v3l-2 2v3l-1 3v3l-1 3v2l-1 3v3l-1 3v2l-1 3l-1 3v3l-1 2l-1 3v3l-1 3l-1 3v2l-1 3v6l-1 2l-1 3l-1 3l-1 3l-1 2l-1 3l-2 3v3l-1 2l-1 3l-2 3l-1 2v6l-1 3l-1 2v11l1 3l-1 3v3l-1 2v8l-1 3l1 3l-1 3l1 2v17l-1 2v8l1 3l-1 3v8l1 2l-1 3v3l1 3v5l-1 3v10l-1 3l1 3v16l-1 2v3l1 3v34l-1 3l1 3v5l1 3l-1 2v16l1 3v2l-1 3l1 3v5l1 3l-1 2v3l1 2v21l1 3v13l1 3v18l1 2v13l1 3v7l1 3l-1 2l1 2v8l1 2v14l1 3v9l1 2v11l1 2v5l1 2v11l1 2v4l1 2v4l1 2v8l1 2v8l1 2v6l1 2v8l1 2v2l1 1v8l1 2v9l1 1v6l1 1v7l1 2v2l1 1v4l1 2v6l1 2v3l1 2v8l1 1v6l1 2v1l1 2v6l1 1v3l1 2v7l1 1v6l1 1v3l1 1v7l1 1v4l1 2v2l1 2v3l1 2v6l1 1v4l1 1v4l1 1l-1 1l1 1v4l1 1v6l1 1v2l1 1v7l1 1v3l1 1v4l1 1l-1 1l1 1v4l1 1v4l1 1v3l1 1v3l1 1v2l1 1v4l1 1v4l1 1v3l1 1v4l1 1v3l1 1v4l1 1v2l1 1l-1 1l1 1v2l1 1v3l1 1v4l1 1v3l1 1v4l1 1v3l1 1v2l1 1l-1 1l1 1v2l1 1v5l1 1v1l1 1v4l1 1v3l1 1v3l1 1v1l1 1v3l1 1v2l1 1v5l1 1v3l1 1v1l1 1v4l1 1v3l1 1v2l1 1v2l1 1v2l1 1v2l1 1v3l1 1v3l1 1v3l1 1v3l1 1v2"/>
<path vector-effect="non-scaling-stroke" stroke="#19ff78" d="M84 248l-1 3l-1 4l-1 3l-1 4l-1 3l-2 3l-1 4l-1 3v4l-1 3l-1 3l-1 4v3l-1 3v3l-1 4v3l-1 3l-1 3l-1 3l-1 3l-1 4v3l-1 3l-1 3v9l-1 3v3l-1 3l-1 3l-1 3l-1 3v2l-1 3l-1 3v3l-1 3v5l-1 3l-1 3l-1 3v11l-1 3l-1 3l-1 2l-1 3l-1 3l-1 3v11l-1 3v2l-1 3l-1 3v3l-1 3l-1 2v3l-1 3l-1 3l1 2l-1 3v3l-1 3l-1 2l-1 3v14l-1 3l-1 2l-1 3v6l-1 2v14l-1 3v3l-1 2l-1 3l-1 3v11l-1 2v6l-1 3v19l-2 2v3l-1 3l-1 2v9l-1 2l1 3l-1 3l1 2v6l-1 2l-1 3v6l-1 2v6l-1 2l-1 3v5l-1 3v8l1 3v13l-1 3v2l-1 3v5l1 3v21l1 3v11l-1 2v8l-1 3l1 2v11l1 3v2l-1 3v5l-1 3l1 2v16l-1 3v2l1 3v5l-1 3v5l1 3l-1 2v13l1 3v8l1 2v13l1 2v10l1 3v7l1 2v14l1 3v2l1 2v16l1 2v7l1 2l1 2v11l1 2v6l1 2v4l1 2v8l1 2v6l1 2v2l1 2v8l1 1v10l1 2v5l1 2v7l1 2v3l1 2v3l1 2v9l1 1v5l1 2v3l1 2v6l1 2v4l1 2v6l1 2v7l1 2v4l1 1v6l1 2v4l1 1v4l1 2v2l1 2v4l1 1v6l1 2v2l1 2v6l1 1v3l1 1v7l1 1v2l1 2v5l1 1v3l1 1v5l1 1v7l1 1v3l1 1v4l1 1v6l1 1v2l1 1v2l1 1v4l1 1v4l1 1v2l1 1v6l1 1v2l1 1v4l1 1v4l1 1v3l1 1v3l1 1v4l1 1v2l1 1v3l1 1v3l1 1v4l1 1l-1 1l1 1v2l1 1v4l1 1v2l1 1l-1 1l1 1v1l1 1v2l1 1v3l1 1l-1 1l1 1v1l1 1v2l1 1v3l1 1v4l1 1v2l1 1v3l1 1v3l1 1v2l1 1v4l1 1v1l1 1v3l1 1v2l1 1v2l1 1v4l1 1v2l1 1v3l1 1v2"/>
<path vector-effect="non-scaling-stroke" stroke="#17fe7e" d="M83 253v3l-1 3l-1 4l-2 3l-1 4l-1 3v3l-1 4l-1 3v3l-1 4l-1 3l-1 3v4l-1 3l-1 3v3l-1 3l-1 3l-1 4l-1 3l-1 3l1 3l-1 3v6l-1 3l-1 3l-1 3v3l-1 3l-1 3l-1 3v5l-1 3v3l-1 3v3l-1 3l-1 2v9l-1 3l-1 2l-1 3l-1 3l-1 3l-1 2v12l-1 2l1 3l-1 3l-1 3l-1 2l-1 3v3l-1 3v5l-1 3l-1 3v3l-1 2v14l-1 3v3l-1 2l-1 3v3l-1 3v19l-1 3v5l-1 3v5l-1 3l-1 3v3l-1 2l-1 3v5l-1 3v6l1 2v3l-1 3l-1 2v3l-1 3v3l-1 2l-1 3v3l-1 2v3l-1 3v3l-1 2v8l-1 3l1 3l-1 2v3l-1 3l-2 3l-1 2v6l-1 2v3l-1 3l1 2v6l-1 2v19l-1 3l-1 2v11l1 3v2l1 3v16l-1 3l1 2v19l1 2l1 3v8l-1 3l1 2v3l-1 3v5l1 2v16l1 3v13l-1 2l1 3v3l-1 2v11l1 2v3l1 2v28l1 3v12l1 2v5l1 2v19l1 2v11l1 2v7l1 2v6l1 2v7l1 2v8l1 2v4l1 2v4l1 2v4l1 2v9l1 2v6l1 2v5l1 2v6l1 1v4l1 2v5l1 2v7l1 1v5l1 2v5l1 2v4l1 2v3l1 2v6l1 2v4l1 2v7l1 2v3l1 1v6l1 1v6l1 1v4l1 2v4l1 1v4l1 1v6l1 1v4l1 1v6l1 2v2l1 1v4l1 1v4l1 1v7l1 1v3l1 1v5l1 1v7l1 1v3l1 1v2l1 1v6l1 1v2l1 1v4l1 1v5l1 1v3l1 1v3l1 1v4l1 1v4l1 1v2l1 1v4l1 1v5l1 1v2l1 1v3l1 1v4l1 1v4l1 1v3l1 1v3l1 1v4l1 1v2l1 1v4l1 1v3l1 1v2l1 1v4l1 1v2l1 1v2l1 1v3l1 1v3l1 1l-1 1l1 1v1l1 1v3l1 1v2l1 1v2l1 1v4l1 1v2l1 1v2l1 1v3l1 1v3l1 1v3l1 1v2l1 1v2l1 1v3l1 1v2l1 1v3l1 1v3"/>
<path vector-effect="non-scaling-stroke" stroke="#14fe84" d="M88 250l-1 3l-1 3l-1 4l-1 3v7l-1 4v3l-1 3v4l-1 3l-1 3l-1 3v7l-1 3l-1 3l-1 4l-1 3v9l-1 3l-1 3v3l-1 3l-1 3l-1 3l-1 3l-1 3v9l-1 3v6l-1 3l-1 2l-1 3l-1 3l-1 3l-1 3v2l-1 3v6l-1 3v5l-1 3l-1 3l-1 3v5l-1 3l-2 3v2l-1 3v3l-1 3v3l1 2l-1 3v6l-1 2l-1 3l-2 3v3l-1 2l-1 3v9l1 2l-1 3l-1 3v5l-1 3v3l-1 3l-1 2v6l-1 3v13l-1 3l-1 3v8l-1 3v2l-1 3v5l-2 3v3l1 3l-1 2l-1 3v3l-1 3v2l-1 3v3l-1 2v3l-1 3l-1 2v3l-1 3l-1 3v2l-1 3l-1 3l-1 2v6l-1 2v6l-1 3v2l-1 3l-1 3l-1 2v3l-1 3l-1 2v22l-1 2v8l-1 3l1 3v2l-1 3v3l1 2v11l1 3v5l-1 3v2l-1 3v8l1 2v8l1 3v5l-1 3v5l1 3v16l1 2v11l-1 2v3l1 3l-1 2v13l1 3v10l1 3v7l1 3l-1 3l1 2v10l1 2v5l-1 3l1 2v3l1 2v5l1 2v16l1 3v13l1 2v7l1 2v6l1 2v5l1 2v8l1 2v4l1 2v6l1 2v6l1 2v10l1 2v5l1 2v7l1 2v4l1 2v7l1 1v6l1 1v5l1 2v3l1 2v3l1 2v7l1 1v5l1 2v4l1 2v9l1 1v3l1 2v6l1 1v4l1 2v7l1 1v4l1 2v2l1 2v5l1 1v3l1 1v4l1 1l-1 1l1 2v3l1 2v5l1 1v4l1 2v2l1 1v5l1 1v3l1 1l-1 1l1 2v4l1 1v4l1 1v5l1 1v5l1 1v3l1 1v2l1 1l-1 1l1 1v3l1 1v3l1 1v4l1 1v4l1 1v3l1 1v4l1 1v2l1 1v3l1 1v3l1 1v2l1 1v8l1 1v4l1 1v3l1 1v2l1 1v2l1 1v4l1 1v3l1 1v3l1 1v3l1 1v3l1 1v4l1 1v2l1 1v3l1 1v2l1 1v3l1 1v3l1 1v2l1 1v2l1 1v3l1 1v3l1 1v2l1 1v4l1 1v3l1 1v2l1 1v2l1 1"/>
<path vector-effect="non-scaling-stroke" stroke="#07fda1" d="M120 181l-1 3v4l-1 4l-2 3l-1 4l-1 3l-1 4v7l-1 3l-1 4l-1 3l-2 4l-1 3l-1 4l-1 3v11l-1 3l-1 4l-2 3l-1 4l-1 3v10l-1 4v3l-1 3l-1 3l-1 4v10l-1 3v3l-1 3l-1 3l-1 3v19l-1 3l-1 3l-1 3l-1 3v9l1 2v3l-1 3v3l-1 3l-2 3l-1 2v12l1 2l-1 3l-1 3l-1 3l-1 3l-1 2l-1 3v6l-1 3v2l-1 3v3l-1 3l-1 2l-1 3l-1 3v8l-1 3v3l-1 3l-1 2l-2 3l-1 3l-1 3v13l-1 3l-1 3l-1 3l-1 2l-1 3l-2 3v19l-1 3l-1 3v2l-1 3l-1 3v8l-1 3v8l-1 3v2l-1 3l1 3v16l-1 3l-1 2v6l1 3v5l1 3v5l-1 3l-1 2v3l-1 3l-1 2l1 3l1 3v3l1 2l1 3v5l-1 3l-1 3l-1 2l-1 3v5l1 3l-1 3l1 2l1 3l-1 3l-1 2v3l-1 3v10l1 3l-1 3l-1 2v6l-1 2l-1 3v18l-1 3l-1 3l-1 2v8l1 3l1 3l1 2v3l-1 2v6l-1 2v8l1 3v2l1 3v11l-1 2v11l1 2l1 3v2l-1 3l1 3v13l1 2v5l1 3v5l-1 2v3l1 2v3l-1 2l1 3v2l1 2v8l1 2v7l-1 2l1 3v4l1 2v5l1 2l-1 2v3l1 2v6l1 3v8l1 2v5l1 2v6l1 2v6l1 2v4l1 2v12l1 2v4l1 2v5l1 2v8l1 1v6l1 2v7l1 1v4l1 2v1l1 2v7l1 2v8l1 2v1l1 2v6l1 2v4l1 2v6l1 2v4l1 2v4l1 1v6l1 2v4l1 1v6l1 1v6l1 1v3l1 1v5l1 1v2l1 1v8l1 1v3l1 2v3l1 2v2l1 1v6l1 1v7l1 1v5l1 1v6l1 1v2l1 1v2l1 1v7l1 1v3l1 1v4l1 1v2l1 1v5l1 1v1l1 1v5l1 1v4l1 1v4l1 1v3l1 1v2l1 1v3l1 1v4l1 1v6l1 1v3l1 1v3l1 1v3l1 1v1l1 1l-1 1l1 1v4l1 1v3l1 1v2l1 1v4l1 1v2l1 1v4l1 1v2l1 1v2l1 1v3l1 1v2l1 1v4l1 1v3l1 1v3l1 1v2l1 1v4l1 1v1l1 1v4l1 1v3l1 1v3l1 1v2l1 1v3l1 1v2l1 1v2l1 1v4l1 1v2"/>
<path vector-effect="non-scaling-stroke" stroke="#03fca8" d="M127 198l-1 4l-1 3l-1 4l-1 3l-2 4v4l-1 3l-1 4l-1 3l-1 4v3l-1 3l-1 4v3l-2 4l-1 3l-1 4l-1 3l-1 4l-1 3v3l-1 4l-1 3v3l-2 4l-1 3l-1 3l-1 4v3l-1 3v3l-1 4v6l-1 3v3l-1 3l-1 3v3l-1 3l-1 3l-1 3l-1 3v3l-1 3v3l1 3l-1 3v9l-1 3l-1 2v3l-1 3l-1 3v3l-1 2l-1 3l-1 3v8l-1 3v6l-1 3v2l-1 3v3l-1 3l-1 2v3l-1 3v6l-1 2l-1 3v6l-1 2l-1 3l-1 3l-1 3v5l-1 3v3l-1 3l1 2v3l-1 3l-1 3v2l-2 3l-2 3l-1 3v2l-1 3v6l-1 2l1 3v3l-1 2v6l-1 3v2l-1 3l-1 3l-1 3v2l-1 3l-1 3v5l1 3l1 3v11l-1 2l1 3l-2 3v2l-1 3l1 3l-1 2v3l1 3v3l1 2v3l1 3l1 2l-1 3v3l-1 2v3l-1 3l-1 3v2l-1 3v19l1 2v3l-1 3l-1 2v3l-1 3l-1 2v3l-1 3l-1 2v3l-1 3v5l-1 3v5l-1 3v10l-1 3l1 3l-1 2v3l-1 3v2l-1 3v2l-1 3v8l-1 3l1 2v8l2 3v5l1 3v13l-1 2v11l1 2v3l1 3l1 2v6l1 2v18l1 3l-1 2v5l1 3v2l1 3v10l1 2v17l1 2v7l1 3v13l1 2v5l1 2v11l1 2v8l1 3v4l1 2v8l1 2v4l1 2v10l1 2v5l1 2v10l1 2v5l1 2v3l1 2v4l1 2v8l1 2v3l1 2v5l1 2v5l1 1v5l1 2v5l1 1v3l1 2v3l1 1v2l-1 1l1 2v4l1 2v9l1 1v4l1 2v3l1 1v4l1 1v3l1 1v4l1 2v5l1 1v3l1 1l-1 1l1 2v3l1 2v3l1 2v4l1 2v3l1 1v5l1 1v2l1 1v6l1 1v5l1 1v5l1 1v3l1 1v5l1 1v2l1 1v2l1 1v5l1 1v2l1 1v4l1 1v4l1 1v2l1 1v2l1 1v3l1 1v4l1 1v3l1 1v3l1 1v3l1 1v4l1 1v2l1 1v2l1 1v3l1 1v3l1 1v3l1 1v1l1 1v4l1 1v4l1 1v3l1 1v4l1 1v5l1 1v2l1 1v2l1 1v3l1 1v2l1 1v4l1 1v3l1 1v3l1 1v3l1 1v3l1 1v3l1 1v1l1 1v5l1 1v1l1 1v1l1 1v3l1 1v2l1 1"/>
<path vector-effect="non-scaling-stroke" stroke="#0dfd92" d="M98 233l-1 4l-2 3l-1 4l-2 3l-1 4v3l1 3v4l-1 3l-2 4l-1 3l-2 3l-1 4l-1 3l1 3v10l-1 4l-1 3l-1 3l-1 3v3l1 4v6l-1 3l-2 3l-1 3v9l1 3v3l1 3l-1 3v3l-2 3l-1 3l-1 3v5l1 3v6l-1 3l-1 2l-1 3l-1 3v3l-1 3v2l1 3v3l-1 3v3l-1 2l-2 3l-1 3l-1 3v2l1 3v6l1 3l-1 2l-1 3l-2 3l-1 3v2l-1 3v3l1 3l1 2l1 3l-1 3l-1 3l-1 3l-1 2l-1 3v3l3 3l1 2v9l-1 2l-2 3l-2 3v3l-1 2l1 3l2 3l1 2l1 3v3l-1 3l-1 2l-2 3l-1 3v11l1 3v2l-1 3l-1 3l-2 2l-1 3l1 3v3l1 2l1 3l1 3l1 2l-1 3l-2 3l-2 3v2l-2 3l1 3v2l1 3l1 3v2l1 3l-1 3l-1 3l-1 2l-1 3v16l-1 3l-1 2v3l-1 3v8l1 2l1 3l-1 3v2l-1 3l-2 3l-1 2l-1 3l-1 3l1 2l-1 3l1 3l1 2v6l-1 2l-1 3v3l-1 2v6l1 2v3l-1 3v2l-2 3v3l-1 2v5l1 3v3l1 2v3l1 3v8l-1 2v8l1 3v8l1 2v5l-1 3v3l1 2l1 3v5l1 3l-1 2v13l1 3v2l1 3v3l1 2v15l1 3v19l1 2v3l1 2v9l1 3v4l-1 2l1 3v9l1 2v4l1 2v7l1 2v4l1 2v7l1 2v8l1 2v10l1 2v4l1 1v6l1 2v8l1 1l-1 2l1 2v4l1 2v7l1 2v3l1 2v7l1 1v2l1 2v5l1 2v6l1 2v6l1 2v4l1 2v5l1 1v6l1 2v3l1 1v7l1 2v4l1 2v8l1 1v2l1 1v4l1 1v3l1 1v7l1 1v5l1 1v8l1 1l1 1v5l1 1v6l1 1v3l1 1v5l1 1v3l1 1v6l1 1v5l1 1v4l1 1v4l1 1v2l1 1v3l1 1v3l1 1v4l1 1v3l1 1v4l1 1v3l1 1v2l1 1v3l1 1v2l1 1v5l1 1v3l1 1v4l1 1v1l1 1v3l1 1v2l1 1v4l1 1v6l1 1v2l1 1v5l1 1v1l1 1v2l1 1v2l1 1v3l1 1l-1 1l1 1v2l1 1v3l1 1v4l1 1v2l1 1v2l1 1v1l1 1v5l1 1v3l1 1v3l1 1v3l1 1v2l1 1v2l1 1v2l1 1v4l1 1"/>
<path vector-effect="non-scaling-stroke" stroke="#00fdc7" d="M65 331v9l-1 3l-1 3l-2 3l-1 3l-3 3l-1 3l1 3l-2 3v8l-1 3l-1 3l-1 3l-1 2v3l1 3l-1 3v5l-1 3v3l-1 3v2l-1 3v9l-1 2l1 3l-1 3v3l-1 2v3l-1 3v3l1 3v5l-1 3l-2 3v5l-2 3l-1 3l1 2v14l-2 3v3l-1 2l-1 3v8l-1 3l1 3l-1 3v2l-1 3l-1 3v11l-1 2v3l-1 3l-1 3v8l1 3v8l-1 2v3l-2 3v3l1 2v3l1 3v2l1 3v3l-1 2l-2 3v6l-1 2l1 3v8l1 3v5l-1 3l-1 2v6l1 3v8l-1 2v8l-1 3l1 3l1 2v14l-1 2l-1 3v8l1 3v2l-1 3l1 3v2l-1 3v8l-1 2l1 3l1 3v5l-1 3v2l-1 3v3l1 2v5l1 3l-1 3v5l-1 3l1 2v16l-1 3l1 2v5l-1 3v5l1 3v10l-1 3v8l1 2v3l1 2v18l-1 2l1 3v2l1 3v7l1 2v3l1 2l-1 2v10l1 2v9l1 2l1 2l-1 3v4l1 2v5l1 2v8l1 2v9l1 2v4l1 2v8l1 2v12l1 2l1 2v5l1 2v2l-1 2l1 2v5l1 2v4l1 2v3l1 2l-1 2l1 2v3l1 2v5l1 2v5l1 1v5l1 2l-1 2l1 1v3l1 2v5l1 1v2l1 2l-1 1l1 2v3l1 1l-1 2v1l1 2v6l1 1v3l1 2v2l1 2v6l1 1v4l1 1v10l1 1v2l1 1v2l1 2v6l1 1v4l1 1v3l1 1l-1 1v1l1 2v3l1 1v5l1 1v5l1 1v4l1 1v4l1 1v4l1 1v7l1 1v4l1 1v3l1 1v3l1 1v4l1 1v3l1 1v2l1 1v5l1 1v3l1 1v4l1 1v3l1 1v3l1 1v2l1 1v3l1 1v5l1 1v3l1 1v4l1 1v3l1 1v3l1 1l-1 1v1l1 1v1l1 1v3l1 1v3l1 1v3l1 1v2l1 1v3l1 1v4l1 1v2l1 1v2l1 1v2l1 1v2l1 1v3l1 1v3l1 1v3l1 1v2l1 1v2l1 1v4l1 1v1l1 1v4l1 1v4l1 1v2l1 1v1l1 1v3l1 1"/>
<path vector-effect="non-scaling-stroke" stroke="#00fed3" d="M71 315l-1 3l-1 3l-1 4v3l-1 3l-1 3l-1 3v3l-1 3l-1 3v3l-2 3l-1 3l-1 2l-1 3l-2 3l-1 3v3l-1 3v8l-1 3v6l-1 2l-1 3v3l-1 3v11l-1 3v13l-1 3v3l-1 3l1 3l-1 2l-1 3v19l-1 3v3l-1 3l-2 2v6l1 3v2l-1 3v6l-1 2v11l-2 3l-1 3v3l-1 2v6l-1 3l1 2v8l1 3l-1 3v3l-1 2v6l-1 3v5l-1 3v5l-1 3v8l1 3v5l1 3l-1 2l-1 3l1 3l-1 3l-1 2l1 3l-1 3l-1 2v3l-1 3l1 2v3l1 3l-1 2v8l-1 3l1 3l1 3l-1 2l-1 3l-1 3v16l-1 2v3l1 3v5l-1 3v10l-1 3l1 2v6l-1 2l1 3l-1 3l-1 2v11l1 3v23l1 3l-1 2v6l-1 2v3l1 3l-1 2l1 3v8l1 2v16l-1 2v3l1 3v7l1 3l-1 2l1 3l1 3v5l1 2v12l1 3l-1 2l1 3v7l-1 2l1 2v3l1 2v9l1 2v14l1 2v6l1 3l-1 2l1 2v4l1 2v7l1 2v2l1 2v4l1 2v10l1 2v2l-1 2v2l1 1v2l1 2v10l1 2v3l1 2v6l1 1v6l1 2v7l1 1v5l1 2v3l1 2v5l1 2v5l1 1v5l1 2v6l1 1v5l1 2v4l1 2v4l1 1v6l1 2v4l1 1v5l1 1v3l1 1v4l1 1v3l1 1v4l1 2v8l1 2v1l1 1v5l1 1v5l1 1v1l1 2l-1 1v1l1 1v3l1 2v2l1 1v4l1 1v6l1 1v4l1 1v5l1 1v4l1 1l-1 1l1 1v1l1 1v4l1 1v2l1 1v5l1 1v5l1 1l1 1v6l1 1v2l1 1v5l1 1v2l1 1v5l1 1v3l1 1v4l1 1v3l1 1v4l1 1v5l1 1v2l1 1v3l1 1v3l1 1v4l1 1v2l1 1v3l1 1v3l1 1v2l1 1v2l1 1v3l1 1v3l1 1v1l1 1v5l1 1v1l1 1v3l1 1v3l1 1v2l1 1v4l1 1v3l1 1v1l1 1l-1 1l1 1v1l1 1v4l1 1v2l1 1v2l1 1v2l1 1v3l1 1l-1 1l1 1v3"/>
<path vector-effect="non-scaling-stroke" stroke="#00fedf" d="M59 350l-1 3l-1 3v3l-2 3l-1 3l-1 3l-1 2l-1 3v3l1 3l-1 3l1 2v6l-1 3l-1 3v2l-1 3l-1 3v5l-1 3l1 3l1 3v3l-1 2l1 3l-1 3l-1 3l-1 2v3l-1 3l-1 3l1 3v8l1 3l-1 2v3l-1 3l-1 3l-1 2l1 3l-1 3v3l-1 2v3l-1 3v3l-1 2v9l-1 2v3l-1 3l1 3l-1 2l-1 3v3l-1 3v5l-1 3v5l-1 3v3l-1 2l1 3l-1 3l1 3l-1 2v8l-1 3v24l-1 3v16l1 3v3l-1 2l1 3l-1 3v8l-1 2v3l-1 3l1 3v18l-1 3v29l1 3l-1 2v6l-1 2v6l1 2v6l-1 2v6l-1 2l1 3l1 2l-1 3v3l1 2l-1 3v11l-1 2v5l1 3v5l1 3v3l-1 2v8l-1 3v5l-1 2v3l1 3v2l1 3v5l1 3l-1 2l1 3v7l-1 3l1 2v8l1 2v8l1 2v19l1 2v2l1 3v9l1 2v9l1 2v13l1 2l-1 2l1 2v5l1 2v4l1 2v6l1 2v8l1 2v7l1 2v4l1 2v9l1 2v4l1 2l-1 2v3l1 2v2l1 1v4l1 2v5l1 2v1l1 2v5l1 2l-1 1l1 2v6l1 2v5l1 1v5l1 2v4l1 2v4l1 2v6l1 1v5l1 1v7l1 1v2l1 1v7l1 1v6l1 1v4l1 1v3l1 1v3l1 1v6l1 1v6l1 1v4l1 1v2l1 2v5l1 1l1 2v9l1 1v3l1 1v6l1 1v3l1 1v2l1 1v3l1 1v5l1 1v4l1 1v3l1 1v4l1 1v3l1 1v4l1 1v4l1 1v2l1 1v3l1 1v3l1 1v4l1 1v4l1 1v4l1 1v4l1 1v4l1 1v2l1 1v2l1 1v4l1 1v4l1 1v1l1 1v3l1 1v3l1 1v2l1 1v3l1 1v2l1 1v2l1 1v4l1 1v1l1 1v5l1 1v2l1 1v1l1 1v3l1 1v4l1 1v3l1 1v1l1 1v1l1 1v5l1 1v2l1 1l-1 1l1 1l1 1v4"/>
<path vector-effect="non-scaling-stroke" stroke="#00ffeb" d="M60 352l-2 3l-1 3l-1 3l-1 3l-2 3v11l1 3v3l-2 3l-1 2v3l-1 3v6l1 2v3l-1 3v5l-2 3v3l-1 3v3l-1 2l2 3l-1 3l1 3l-1 2l-1 3v6l-1 2v14l-1 3v3l-1 3l-1 2l1 3v3l-1 3l1 2l-1 3v3l-1 3l-1 2l-1 3l-1 3v13l-1 3v3l-2 3v2l-1 3v8l-1 3l1 3l-1 2v6l-1 3v5l-1 3l1 3v16l-1 2l-1 3l1 3v3l-1 2v6l1 2v14l-1 3v5l-1 3v18l1 3l-1 3v5l-1 3l-1 2l1 3v19l-1 2v6l1 2l1 3l-1 3v5l-1 3l1 2l1 3l-1 2l-1 3v11l-1 2v3l-1 3l1 2l1 3v8l1 2v8l-1 3v2l1 3v21l-1 3l-1 2v8l1 3v5l1 2v6l-1 2v3l1 2v5l1 3v12l1 3v4l1 3v9l1 3v2l-1 2l1 3v2l-1 2l1 3v2l1 2v13l1 3v8l1 2l1 3v12l1 2v8l1 2v4l1 2v8l1 2v6l1 2v6l1 1v8l1 2v7l1 2v3l1 2v5l1 2v3l1 2v7l1 2v5l1 1v2l1 1v4l1 1v14l1 2l1 1v7l1 1v1l1 2v6l1 1v9l1 1v3l1 1v4l1 2v4l1 1v5l1 2v1l1 1v9l1 1v2l1 1v2l1 1l-1 2l1 1v3l1 2v5l1 2v2l1 1v6l1 1v6l1 1v4l1 1v3l1 1v4l1 1v5l1 1v3l1 1v3l1 1l-1 1l1 1v3l1 1v5l1 1v3l1 1v2l1 1v5l1 1v2l1 1v4l1 1v4l1 1v3l1 1v2l1 1l-1 1v1l1 1v3l1 1v3l1 1v3l1 1v3l1 1v4l1 1v4l1 1v2l1 1v3l1 1v4l1 1l1 1v2l1 1v3l1 1v3l1 1v1l1 1l-1 1v1l1 1v1l1 1v2l1 1v3l1 1v2l1 1v3l1 1v3l1 1v2l1 1v3l1 1v3l1 1v2l1 1v3l1 1l1 1l-1 1v1l1 1v3l1 1v1"/>
<path vector-effect="non-scaling-stroke" stroke="#00fbf0" d="M59 365l-1 3l-1 3l-1 3v8l-1 3l-1 3v5l-1 3v6l-1 3v2l-1 3l1 3l-1 3v3l-1 2v9l-1 2l-1 3v3l1 3l-1 2v14l-1 3l-1 3v5l-1 3v3l-1 3v2l-1 3v11l-1 3v3l-1 2v3l-1 3v5l-1 3l-1 3v2l-1 3v8l-1 3v11l-2 3l1 2l-1 3l-1 3l1 3v5l1 3v5l-1 3l-1 3l1 2v8l-1 3v11l1 3l-1 2v3l-1 3v5l1 3l-1 2l-1 3l1 3l-1 2l-1 3v3l1 3l-1 2v3l1 3v2l1 3v5l-1 3v5l-1 3v8l-2 3v2l1 3l1 3v5l-1 3v13l1 2l-1 3v21l1 3l-1 2l1 3v5l-1 3v18l1 3v5l-1 3v8l1 2v11l-1 2l1 3l-1 2v6l1 2v5l1 3v30l1 2v2l1 3v4l-1 3l1 2v5l1 2v16l1 2v7l1 2v4l1 2v7l1 2l-1 2l1 2v6l1 2l1 2l-1 2l1 2v6l1 2v2l1 2v10l1 2v4l1 2v5l1 2v4l1 2v7l1 2v5l1 2v5l1 2v1l1 2v5l1 2v6l1 2v3l1 2v5l1 1v5l1 2v7l1 2v4l1 2v3l1 1v7l1 2v3l1 1v3l1 1l-1 2l1 1v4l1 1v4l1 2v4l1 1v1l1 2v6l1 1v1l1 2v6l1 1v6l1 1l1 1l-1 1l1 2v5l1 1v4l1 1v2l1 1v6l1 1v3l1 1v7l1 1v3l1 1v4l1 1v2l1 1v4l1 1v1l1 1l-1 1v1l1 1v1l1 1v5l1 1v1l1 1v1l-1 1l1 1v4l1 1v3l1 1v6l1 1l1 1v6l1 1v3l1 1v3l1 1v3l1 1v4l1 1v5l1 1v3l1 1v3l1 1v2l1 1v3l1 1v3l1 1v3l1 1v1l1 1v3l1 1v3l1 1v3l1 1v2l1 1v2l1 1v3l1 1v3l1 1v4l1 1v2l1 1v3l1 1v2l1 1v4l1 1v2l1 1v2l1 1v5l1 1v2l1 1v1l1 1"/>
<path vector-effect="non-scaling-stroke" stroke="#00f8f5" d="M64 337l-1 3l-1 3l-1 3l-1 3l-1 3v3l-1 3l-2 3l-1 2v3l-1 3l-1 3v3l-1 3l-1 2l1 3v6l-1 2v9l-2 3v5l-1 3v6l-1 2v3l1 3v8l-1 3v14l-1 3v2l-1 3v11l-1 3l-1 3v5l-1 3v3l-1 2l1 3v3l-1 3l-1 2v3l-1 3l-1 3v8l-1 3l1 2l-1 3l-1 3v5l-1 3v3l-2 2l1 3l-1 3l-1 3l1 2v8l-1 3v8l1 3v3l-1 2v6l-1 3v2l-1 3l1 3l-1 2v8l-1 3l1 3v21l1 3l-1 3v5l1 3l-2 2v14l1 2v6l-1 2v6l1 2v6l-1 2l-1 3l1 3l-1 2v8l-1 3l1 3v23l-1 3v13l1 3l-1 2v3l-1 3l1 2v3l1 2l-1 3v8l-1 3v13l1 2v3l-1 2v11l1 2v3l1 3v7l-1 3l1 2v10l1 3v2l1 2v5l1 3l-1 2v2l1 3v16l1 2v3l1 2v9l1 2l-1 2l1 2v5l1 2v8l1 2v3l1 2v4l1 2v8l1 2v4l1 2v14l1 1v2l1 2l-1 2l1 2l1 2v9l1 2v5l1 2v11l1 1v4l1 2v5l1 1v2l1 2v1l1 2v8l1 2v6l1 1v11l1 2v4l1 2l1 1v4l1 2v3l1 1l-1 2l1 1v3l1 1v8l1 2v6l1 2v1l1 1v4l1 2v3l1 2v3l1 2v1l1 1v5l1 1v6l1 1v8l1 1v2l1 1v4l1 1v3l1 1v4l1 1v5l1 1v2l1 1l-1 1v1l1 1v2l1 1v4l1 1v3l1 1v5l1 1v4l1 1v3l1 1v3l1 1v3l1 1v4l1 1v6l1 1v2l1 1v6l1 1v1l1 1v5l1 1v3l1 1v2l1 1l-1 1l1 1v4l1 1v2l1 1v3l1 1v2l1 1v2l1 1v5l1 1v4l1 1l1 1v2l1 1v3l1 1v3l1 1v1l1 1v4l1 1v2l1 1v4l1 1v2l1 1v2l1 1v3l1 1l-1 1l1 1v2l1 1v2l1 1v4"/>
<path vector-effect="non-scaling-stroke" stroke="#00f4fa" d="M61 349l-1 2l-1 3l-2 3v3l-1 3l-1 3l-1 3v3l-1 2v3l-1 3v3l-1 3v5l1 3v3l-1 3l-1 2v3l-1 3v17l-1 2v6l-1 3v8l1 3v2l-1 3v9l-1 2l-1 3v11l-1 3v3l-1 2v6l-1 3v5l-1 3v3l-2 2v11l-1 3v5l-1 3v3l-1 3v5l-1 3v11l-1 2v3l-1 3l-1 3v10l1 3l-1 3v5l-1 3v24l-2 3v3l1 2l-1 3l1 3v10l-1 3v13l1 3l-1 3v5l-1 3v29l1 3l-2 2l1 3v8l1 3l-1 2l-1 3l1 2l-1 3v5l1 3v11l-1 2v3l1 2l-1 3l1 3l1 2v6l-1 2v13l-1 3v2l1 3v24l1 2v5l-1 3l1 2v15l1 3v5l1 2v3l-1 2l1 2l1 3v2l1 2v5l-1 3v6l1 3v2l1 2v14l1 2v9l1 2v6l1 2v4l1 2v7l1 2v8l1 2v6l1 2v7l1 2l-1 2l1 2v2l1 2v13l1 2v3l1 2v5l1 2v3l1 2v10l1 2v2l1 1v5l1 2v3l1 2v5l1 1v8l1 1v2l1 1v5l1 1v9l1 2v4l1 1v5l1 1v6l1 1v3l1 1v3l1 1v4l1 1v4l1 1v5l1 2v5l1 1v3l1 2v2l1 1v5l1 1v6l1 1v4l1 1v1l1 2v4l1 1v5l1 1v4l1 1v4l1 1v4l1 1v4l1 1v1l1 1v4l1 1l-1 1l1 1v2l1 1l-1 1l1 1v2l1 1l-1 1l1 1v3l1 1v1l1 1v4l1 1v4l1 1v2l1 1v5l1 1v5l1 1v3l1 1v3l1 1v4l1 1v4l1 1v4l1 1v2l1 1v4l1 1v3l1 1v3l1 1v2l1 1v2l1 1v3l1 1v3l1 1v1l1 1v3l1 1v3l1 1v4l1 1v3l1 1v1l1 1v4l1 1v2l1 1v3l1 1v2l1 1v3l1 1v1"/>
<path vector-effect="non-scaling-stroke" stroke="#00f0ff" d="M57 374v3l-1 2v3l-1 3l-1 3v8l-1 3v5l-1 3v3l1 3l-1 3l1 2l-1 3v3l-1 3v3l-1 2l-1 3v3l-1 3v2l1 3v8l-1 3v3l-1 3v2l-1 3v9l-1 2l-1 3v6l-1 2l-1 3v3l-1 2v6l-1 3v5l-1 3v5l-1 3v6l-1 2l-1 3l-1 3v2l-1 3v6l-1 2l1 3v14l-1 2v3l-1 3v8l-1 3l1 2v6l1 2v3l-1 3v3l1 2l-1 3l1 3l-1 2v3l-1 3v2l-1 3l1 3l-1 2l1 3v3l1 2v8l-1 3l1 3v5l-1 3l1 2l-1 3l1 3l-1 2v6l-1 2v6l1 2v6l-1 2v8l1 3l-1 3v2l1 3l-1 3v2l-1 3v16l1 2v24l-1 3v7l1 3v3l-1 2v6l1 2l-1 3v2l1 3v3l-1 2v3l1 2l-1 3v5l1 3v5l1 2l-1 3v2l1 3v5l1 2v3l-1 2l1 3v16l1 3v4l1 3v9l1 2l-1 2l1 3v6l1 2v9l1 2v2l1 2v7l1 2v6l1 2v2l1 2v12l1 2v2l1 2v8l1 2v4l1 1v2l-1 2l1 2v2l1 2v3l1 2v5l1 2v7l1 2v7l1 2v1l1 2v5l1 2v3l1 2v1l-1 2l1 1v2l1 2v3l-1 1l1 2l1 1v4l1 1v6l1 2v7l1 2v4l1 1v5l1 1v3l1 1v4l1 2v4l1 1v3l1 1v5l1 2v3l1 2v3l1 2v3l1 2v2l1 1v4l1 1l-1 1v1l1 1v4l1 1v1l1 1v1l-1 2l1 1l1 1v6l1 1v3l1 1v7l1 1v2l1 1v3l1 1v3l1 1v5l1 1v4l1 1v2l1 1v1l-1 1l1 1v2l1 1v4l1 1v3l1 1v1l1 1l-1 1l1 1v4l1 1v3l1 1v2l1 1v2l1 1l-1 1l1 1l-1 1l1 1v1l1 1l-1 1l1 1v3l1 1v3l1 1v5l1 1v3l1 1l1 1v1l-1 1v1l1 1v3l1 1v2l1 1v2l1 1v3l1 1v5l1 1v3l1 1v1l1 1v3l1 1v3l1 1v3l1 1v2l1 1v3l1 1v3l1 1v2l1 1v3l1 1v4l1 1v1l1 1v2l1 1v4l1 1v1l1 1v4l1 1v4l1 1v2l1 1v3l1 1v1"/>
<path vector-effect="non-scaling-stroke" stroke="#00e8ff" d="M77 305l-1 4l-2 3l-1 3l-1 3l-1 3v3l-1 3l-1 3v3l-2 3l-1 3l-2 3l-1 3l-1 3l-1 3v3l-1 3l-1 3v3l-1 3v3l-2 2v3l-2 3v6l-1 2v3l-1 3l1 3l-1 3l1 2l-1 3v9l-1 2v6l-1 3v2l-1 3v14l-1 3l1 3l-1 2l-1 3v6l1 2l-1 3v3l-1 3l-1 2v3l-1 3v3l-1 3v2l-1 3l1 3v5l-1 3v3l-1 2v3l-2 3v5l1 3l-1 3l-1 3l1 2v3l-1 3l-1 3l-1 2l-1 3l-1 3v8l1 3v2l1 3l-1 3v2l-1 3v6l-1 2v11l-1 3l1 3v2l-1 3v3l-1 2l1 3l-1 3v2l1 3v3l1 2v3l-2 3v8l-1 3v21l-1 3l1 2v8l-1 3v8l-1 3l1 2l-1 3v3l1 2v24l-1 3v5l1 3v10l-1 3l1 2l-1 3l1 3v13l1 2l-1 3v3l1 2v6l-1 2v3l1 2l-1 3v3l1 2v3l-1 2v3l1 3l-1 2v3l1 2v6l1 2l-1 3l1 2l-1 3l1 2v18l1 2v2l1 3v19l1 2v14l1 2v4l1 3v10l1 3v4l1 2v6l1 2v9l1 2v8l1 2v6l1 1v2l1 2v10l1 2v5l1 2v6l1 1v4l1 2v7l1 2v7l1 1v5l1 2v2l1 1v5l1 2v5l1 1v8l1 2v3l1 1v6l1 2v3l1 1v5l1 1l-1 2l1 1v6l1 1v2l1 1v6l1 1v1l1 2v5l1 1l-1 2l1 1v4l1 1v3l1 1v2l1 2l-1 1l1 1v3l1 1v3l1 2v2l1 1l-1 1l1 1v5l1 1v4l1 1v3l1 1v3l1 2v4l1 1l-1 1l1 1v2l1 1v4l1 1v5l1 1v1l1 1v4l1 1l-1 1l1 1v2l1 1v2l1 1v3l1 1v6l1 1v5l1 1v2l1 1v4l1 1v4l1 1v1l1 1v5l1 1v1l1 1v6l1 1v3l1 1v3l1 1v4l1 1l-1 1l1 1v2l1 1l-1 1l1 1v2l1 1v2l1 1v2l1 1v5l1 1v1l1 1v4l1 1v1l1 1v2l1 1l-1 1l1 1v2l1 1v2l1 1v2l1 1v5l1 1v3l1 1v1l1 1v4l1 1v2l1 1v3l1 1v2l1 1v3l1 1v3l1 1v2l1 1"/>
<path vector-effect="non-scaling-stroke" stroke="#00dfff" d="M57 362l-1 2v3l-1 3l-1 3v3l-1 3v8l-1 3l-1 2l1 3l-1 3v6l-2 2v9l1 3v2l-1 3l1 3l-1 3v2l-2 3v11l1 3l-1 3v8l-1 3v3l-1 2v11l-1 3v6l-1 2l-1 3v3l-1 3v2l1 3v3l-2 3l1 2l1 3l-1 3l-1 3l-1 2l-2 3v5l-1 3v6l1 2l-1 3v3l-1 3v5l-1 3v5l-1 3l1 3l1 2l-1 3v3l-1 2v3l-1 3v11l1 2v3l-1 3l-1 2v6l-1 2l-1 3l1 3v3l1 2l-1 3l1 3v8l-1 2v8l-1 3v11l1 2l-1 3v3l-1 2v8l1 3v3l-1 2l1 3v5l-1 3l1 3l-1 2v8l1 3l-1 2l1 3l-1 3v10l-1 3l1 3l1 2l-1 3v16l1 2v13l1 3l-1 2l1 3l-1 3v8l-1 2v5l1 3v3l-1 2v5l1 3v5l1 3v2l-1 3l1 2v8l1 2v5l1 2v10l-1 2l1 3l1 2v18l1 3l-1 2v2l1 2v3l1 2v2l1 2v9l1 2v6l1 2v2l1 2l-1 2v5l1 2v2l1 2v8l1 2v4l1 1v4l1 2v8l1 2v2l-1 1l1 2v8l1 1v4l1 2v3l1 2l1 2l-1 2l1 1v7l1 2v1l1 2v8l1 2v7l1 1v6l1 2v3l1 2v4l1 2v4l1 2v3l1 1v9l1 1v3l1 1v2l1 1v7l1 1v3l1 1v6l1 1v2l1 2v7l1 1v3l1 1v4l1 1v5l1 1v1l1 1l-1 1v2l1 1l1 1l-1 1l1 1v5l1 1l-1 1l1 1v1l1 1v8l1 1v2l1 1v2l1 1v1l-1 1v1l1 1v1l1 1v3l1 1l-1 1l1 1v2l1 1v3l1 1v1l1 1l-1 1l1 1l-1 1l1 1v4l1 1v3l1 1v5l1 1v2l1 1v2l1 1v4l1 1v2l1 1v4l1 1v5l1 1v4l1 1v3l1 1v3l1 1v3l1 1v5l1 1v3l1 1v3l1 1v2l1 1v2l1 1v2l1 1v3l1 1v4l1 1v2l1 1l-1 1l1 1v1l1 1v3l1 1v2l1 1l-1 1l1 1v2l1 1v2l1 1v2l1 1v2l1 1v3l1 1v3l1 1v5l1 1v2l1 1v4l1 1v2l1 1v3l1 1v2"/>
<path vector-effect="non-scaling-stroke" stroke="#00d7ff" d="M57 355l-1 3l-2 3v3l-1 3v3l-2 3v2l-1 3v6l1 3l-1 2v6l-1 3v8l-1 3v3l-1 2v3l-1 3l1 3v8l-1 3v5l-2 3v3l1 3v3l-1 2v6l-1 3v2l-1 3v3l1 3l-1 2l1 3l-1 3l-1 3v2l-1 3v3l-2 3v2l-1 3l1 3l-2 3v11l-1 2l1 3v8l-1 3l-1 3l-1 2v3l-1 3l-1 3v10l1 3v11l-1 3v2l-1 3v3l1 2l-1 3v6l-1 2v8l1 3v3l1 2l-1 3l1 3l-1 3v5l-1 3v8l-1 2v3l1 3v2l-1 3v11l1 2l-1 3l1 3v2l-1 3v3l-1 2v6l1 2v3l-1 3v5l1 3l-1 2v35l-1 2l1 3v2l-1 3v21l1 3l-1 2v32l-1 2l1 3v15l1 3v2l1 3v7l-1 3l1 2v5l1 2v5l-1 3l1 2l1 2v7l1 3v4l1 3l-1 2v13l1 2v3l2 2v2l-1 2v4l1 3v2l1 2v2l1 2l-1 2l1 2v4l1 2l-1 2v2l1 2l-1 2l1 2v6l1 2v4l1 2v2l1 2l-1 2l1 2v2l1 2v13l1 1v8l1 1v2l1 2v5l1 2v3l1 2v3l1 2v7l1 1v5l1 2v8l1 1v6l1 2v5l1 1v3l1 2v4l1 1l-1 2l1 1v5l1 1v3l1 1v2l-1 1l1 1l1 2v8l1 1v4l1 1v3l1 1v7l1 1v2l1 2v6l1 1v3l1 2v7l1 1v2l1 1v6l1 1v3l1 1v3l1 1v8l1 1v4l1 1v4l1 1v2l1 1v3l1 1v2l1 1l-1 1v1l1 1v3l1 1l-1 1v1l1 1v1l1 1v3l1 1v3l1 1v5l1 1v4l1 1v4l1 1v2l1 1v3l1 1v3l1 1l-1 1l1 1v4l1 1v2l1 1v4l1 1v2l1 1v5l1 1v2l1 1v4l1 1v1l1 1v2l1 1v4l1 1v1l1 1v3l1 1v2l1 1v3l1 1v2l1 1v3l1 1v4l1 1v1l1 1v4l1 1v1l1 1v3l1 1v3l1 1v2l1 1v1"/>
</g></g>
<path d="M115.5 666.5v-7M115.5 55.5v7M115.5 666.5h7M801.5 666.5h-7M213.5 666.5v-7M213.5 55.5v7M115.5 579.5h7M801.5 579.5h-7M311.5 666.5v-7M311.5 55.5v7M115.5 492.5h7M801.5 492.5h-7M409.5 666.5v-7M409.5 55.5v7M115.5 405.5h7M801.5 405.5h-7M508.5 666.5v-7M508.5 55.5v7M115.5 318.5h7M801.5 318.5h-7M606.5 666.5v-7M606.5 55.5v7M115.5 230.5h7M801.5 230.5h-7M704.5 666.5v-7M704.5 55.5v7M115.5 143.5h7M801.5 143.5h-7M801.5 666.5v-7M801.5 55.5v7M115.5 55.5h7M801.5 55.5h-7" stroke="#262626" stroke-width="1" fill="none" shape-rendering="crispEdges"/>
<rect x="115.5" y="55.5" width="686.0" height="611.0" fill="none" stroke="#262626" stroke-width="1" shape-rendering="crispEdges"/>
<text x="84.7" y="696.0" font-size="22.07" fill="#262626" textLength="59.6" lengthAdjust="spacingAndGlyphs">34.52</text>
<text x="182.9" y="696.0" font-size="22.07" fill="#262626" textLength="59.6" lengthAdjust="spacingAndGlyphs">34.54</text>
<text x="281.2" y="696.0" font-size="22.07" fill="#262626" textLength="59.6" lengthAdjust="spacingAndGlyphs">34.56</text>
<text x="379.7" y="696.0" font-size="22.07" fill="#262626" textLength="59.6" lengthAdjust="spacingAndGlyphs">34.58</text>
<text x="484.9" y="696.0" font-size="22.07" fill="#262626" textLength="46.4" lengthAdjust="spacingAndGlyphs">34.6</text>
<text x="576.3" y="696.0" font-size="22.07" fill="#262626" textLength="59.6" lengthAdjust="spacingAndGlyphs">34.62</text>
<text x="674.5" y="696.0" font-size="22.07" fill="#262626" textLength="59.6" lengthAdjust="spacingAndGlyphs">34.64</text>
<text x="772.6" y="696.0" font-size="22.07" fill="#262626" textLength="59.6" lengthAdjust="spacingAndGlyphs">34.66</text>
<text x="92.9" y="674.9" font-size="22.07" fill="#262626" textLength="13.6" lengthAdjust="spacingAndGlyphs">2</text>
<text x="92.9" y="587.6" font-size="22.07" fill="#262626" textLength="13.6" lengthAdjust="spacingAndGlyphs">3</text>
<text x="92.9" y="500.3" font-size="22.07" fill="#262626" textLength="13.6" lengthAdjust="spacingAndGlyphs">4</text>
<text x="92.9" y="413.0" font-size="22.07" fill="#262626" textLength="13.6" lengthAdjust="spacingAndGlyphs">5</text>
<text x="92.9" y="325.8" font-size="22.07" fill="#262626" textLength="13.6" lengthAdjust="spacingAndGlyphs">6</text>
<text x="92.9" y="238.5" font-size="22.07" fill="#262626" textLength="13.6" lengthAdjust="spacingAndGlyphs">7</text>
<text x="92.9" y="151.2" font-size="22.07" fill="#262626" textLength="13.6" lengthAdjust="spacingAndGlyphs">8</text>
<text x="92.9" y="63.9" font-size="22.07" fill="#262626" textLength="13.6" lengthAdjust="spacingAndGlyphs">9</text>
<text x="417.0" y="725.2" font-size="24.29" fill="#262626" textLength="84.8" lengthAdjust="spacingAndGlyphs">Salinity</text>
<g transform="translate(80.2 516.1) rotate(-90)"><text x="0" y="0" font-size="24.29" fill="#262626" textLength="274.3" lengthAdjust="spacingAndGlyphs">Potential Temperature (</text><circle cx="278.5" cy="-21.6" r="2.3" fill="none" stroke="#262626" stroke-width="1.3"/><text x="283.8" y="0" font-size="24.29" fill="#262626" textLength="24.9" lengthAdjust="spacingAndGlyphs">C)</text></g>
<text x="126.8" y="46.7" font-size="24.29" font-weight="bold" fill="#000" textLength="60.7" lengthAdjust="spacingAndGlyphs">Argo</text>
<text x="196.2" y="46.7" font-size="24.29" font-weight="bold" fill="#000" textLength="66.3" lengthAdjust="spacingAndGlyphs">WMO</text>
<text x="272.2" y="46.7" font-size="24.29" font-weight="bold" fill="#000" textLength="119.3" lengthAdjust="spacingAndGlyphs">5904715:</text>
<text x="414.5" y="46.7" font-size="24.29" font-weight="bold" fill="#000" textLength="24.9" lengthAdjust="spacingAndGlyphs">-S</text>
<text x="448.8" y="46.7" font-size="24.29" font-weight="bold" fill="#000" textLength="73.7" lengthAdjust="spacingAndGlyphs">below</text>
<text x="533.8" y="46.7" font-size="24.29" font-weight="bold" fill="#000" textLength="45.3" lengthAdjust="spacingAndGlyphs">500</text>
<text x="588.8" y="46.7" font-size="24.29" font-weight="bold" fill="#000" textLength="65.3" lengthAdjust="spacingAndGlyphs">dbar,</text>
<text x="673.8" y="46.7" font-size="24.29" font-weight="bold" fill="#000" textLength="115.3" lengthAdjust="spacingAndGlyphs">QC=(1,2)</text>
<text x="401" y="46.7" font-size="23.07" font-style="italic" fill="#000" style="font-family:'Liberation Serif',serif" textLength="12.5" lengthAdjust="spacingAndGlyphs">&#952;</text>
<text x="104.6" y="741.2" font-size="17.66" fill="#000" textLength="38.0" lengthAdjust="spacingAndGlyphs">Argo</text>
<text x="149.4" y="741.2" font-size="17.66" fill="#000" textLength="46.0" lengthAdjust="spacingAndGlyphs">WHOI</text>
<text x="202.6" y="741.2" font-size="17.66" fill="#000" textLength="106.8" lengthAdjust="spacingAndGlyphs">09-Dec-2025</text>
<text x="577.9" y="740.9" font-size="17.66" fill="#000" textLength="83.4" lengthAdjust="spacingAndGlyphs">GREGORY</text>
<text x="665.6" y="740.9" font-size="17.66" fill="#000" textLength="17.4" lengthAdjust="spacingAndGlyphs">C.</text>
<text x="687.9" y="740.9" font-size="17.66" fill="#000" textLength="79.1" lengthAdjust="spacingAndGlyphs">JOHNSON</text>
<text x="773.0" y="740.9" font-size="17.66" fill="#000" textLength="16.3" lengthAdjust="spacingAndGlyphs">at</text>
<text x="795.0" y="740.9" font-size="17.66" fill="#000" textLength="40.6" lengthAdjust="spacingAndGlyphs">aoml</text>
<rect x="850.5" y="102.5" width="115.0" height="518.0" fill="#fff" stroke="#262626" stroke-width="1" shape-rendering="crispEdges"/>
<path d="M850.5 131.5H965.5" stroke="#262626" stroke-width="1" shape-rendering="crispEdges"/>
<text x="869.0" y="123.4" font-size="19.87" font-weight="bold" fill="#000" textLength="77.4" lengthAdjust="spacingAndGlyphs">Cycle #</text>
<path d="M856 146.5H918" stroke="#600000" stroke-width="1" shape-rendering="crispEdges"/><text x="936.2" y="153.8" font-size="19.87" fill="#000" textLength="11.9" lengthAdjust="spacingAndGlyphs">1</text>
<path d="M856 170.5H918" stroke="#960000" stroke-width="1" shape-rendering="crispEdges"/><text x="930.3" y="178.0" font-size="19.87" fill="#000" textLength="23.9" lengthAdjust="spacingAndGlyphs">10</text>
<path d="M856 194.5H918" stroke="#e10000" stroke-width="1" shape-rendering="crispEdges"/><text x="930.3" y="202.2" font-size="19.87" fill="#000" textLength="23.9" lengthAdjust="spacingAndGlyphs">19</text>
<path d="M856 218.5H918" stroke="#ff0a00" stroke-width="1" shape-rendering="crispEdges"/><text x="930.3" y="226.5" font-size="19.87" fill="#000" textLength="23.9" lengthAdjust="spacingAndGlyphs">28</text>
<path d="M856 243.5H918" stroke="#ff3200" stroke-width="1" shape-rendering="crispEdges"/><text x="930.3" y="250.7" font-size="19.87" fill="#000" textLength="23.9" lengthAdjust="spacingAndGlyphs">37</text>
<path d="M856 267.5H918" stroke="#ff6400" stroke-width="1" shape-rendering="crispEdges"/><text x="930.3" y="274.9" font-size="19.87" fill="#000" textLength="23.9" lengthAdjust="spacingAndGlyphs">46</text>
<path d="M856 291.5H918" stroke="#ff9b00" stroke-width="1" shape-rendering="crispEdges"/><text x="930.3" y="299.1" font-size="19.87" fill="#000" textLength="23.9" lengthAdjust="spacingAndGlyphs">55</text>
<path d="M856 315.5H918" stroke="#ffee00" stroke-width="1" shape-rendering="crispEdges"/><text x="930.3" y="323.3" font-size="19.87" fill="#000" textLength="23.9" lengthAdjust="spacingAndGlyphs">64</text>
<path d="M856 340.5H918" stroke="#aaff00" stroke-width="1" shape-rendering="crispEdges"/><text x="930.3" y="347.6" font-size="19.87" fill="#000" textLength="23.9" lengthAdjust="spacingAndGlyphs">73</text>
<path d="M856 364.5H918" stroke="#50ff1e" stroke-width="1" shape-rendering="crispEdges"/><text x="930.3" y="371.8" font-size="19.87" fill="#000" textLength="23.9" lengthAdjust="spacingAndGlyphs">82</text>
<path d="M856 388.5H918" stroke="#1eff6e" stroke-width="1" shape-rendering="crispEdges"/><text x="930.3" y="396.0" font-size="19.87" fill="#000" textLength="23.9" lengthAdjust="spacingAndGlyphs">91</text>
<path d="M856 412.5H918" stroke="#00fcaf" stroke-width="1" shape-rendering="crispEdges"/><text x="924.3" y="420.2" font-size="19.87" fill="#000" textLength="35.8" lengthAdjust="spacingAndGlyphs">100</text>
<path d="M856 436.5H918" stroke="#00f0ff" stroke-width="1" shape-rendering="crispEdges"/><text x="924.3" y="444.4" font-size="19.87" fill="#000" textLength="35.8" lengthAdjust="spacingAndGlyphs">109</text>
<path d="M856 461.5H918" stroke="#0096ff" stroke-width="1" shape-rendering="crispEdges"/><text x="924.3" y="468.7" font-size="19.87" fill="#000" textLength="35.8" lengthAdjust="spacingAndGlyphs">118</text>
<path d="M856 485.5H918" stroke="#005aff" stroke-width="1" shape-rendering="crispEdges"/><text x="924.3" y="492.9" font-size="19.87" fill="#000" textLength="35.8" lengthAdjust="spacingAndGlyphs">127</text>
<path d="M856 509.5H918" stroke="#0028f0" stroke-width="1" shape-rendering="crispEdges"/><text x="924.3" y="517.1" font-size="19.87" fill="#000" textLength="35.8" lengthAdjust="spacingAndGlyphs">136</text>
<path d="M856 533.5H918" stroke="#000ae6" stroke-width="1" shape-rendering="crispEdges"/><text x="924.3" y="541.3" font-size="19.87" fill="#000" textLength="35.8" lengthAdjust="spacingAndGlyphs">145</text>
<path d="M856 558.5H918" stroke="#0000d2" stroke-width="1" shape-rendering="crispEdges"/><text x="924.3" y="565.5" font-size="19.87" fill="#000" textLength="35.8" lengthAdjust="spacingAndGlyphs">154</text>
<path d="M856 582.5H918" stroke="#000096" stroke-width="1" shape-rendering="crispEdges"/><text x="924.3" y="589.8" font-size="19.87" fill="#000" textLength="35.8" lengthAdjust="spacingAndGlyphs">163</text>
<path d="M856 606.5H918" stroke="#000046" stroke-width="1" shape-rendering="crispEdges"/><text x="924.3" y="614.0" font-size="19.87" fill="#000" textLength="35.8" lengthAdjust="spacingAndGlyphs">172</text>

</svg>
</body></html>
